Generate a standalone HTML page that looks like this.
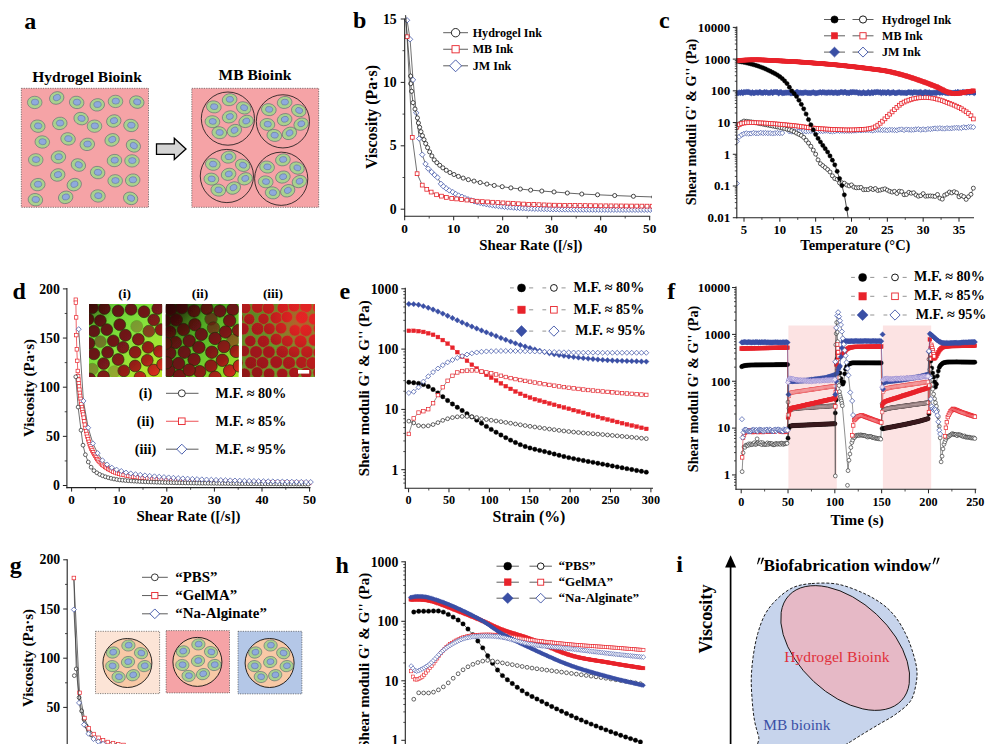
<!DOCTYPE html>
<html><head><meta charset="utf-8"><title>Figure</title>
<style>html,body{margin:0;padding:0;background:#fff;}body{width:989px;height:744px;overflow:hidden;font-family:"Liberation Serif",serif;}svg{display:block}</style>
</head><body>
<svg width="989" height="744" viewBox="0 0 989 744">
<rect width="989" height="744" fill="#fff"/>
<text x="24.3" y="29" font-family="Liberation Serif, serif" font-size="24" font-weight="bold" text-anchor="start" fill="#000" >a</text>
<text x="87" y="81.5" font-family="Liberation Serif, serif" font-size="15.5" font-weight="bold" text-anchor="middle" fill="#000" >Hydrogel Bioink</text>
<text x="255" y="79.5" font-family="Liberation Serif, serif" font-size="15.5" font-weight="bold" text-anchor="middle" fill="#000" >MB Bioink</text>
<rect x="21.3" y="88.3" width="127.2" height="119" fill="#f5a3a6" stroke="#333" stroke-width="0.6" stroke-dasharray="1.2 1.2"/>
<g transform="translate(34.72 102.44) rotate(0)"><ellipse rx="7.3" ry="6.2" fill="#a9d18e" stroke="#4a5a6a" stroke-width="0.5"/><ellipse cx="0.3" cy="-0.3" rx="3.7" ry="3.0" fill="#8faadc" stroke="#5a6a9a" stroke-width="0.5"/></g>
<g transform="translate(56.72 97.97) rotate(-20)"><ellipse rx="7.3" ry="6.2" fill="#a9d18e" stroke="#4a5a6a" stroke-width="0.5"/><ellipse cx="0.3" cy="-0.3" rx="3.7" ry="3.0" fill="#8faadc" stroke="#5a6a9a" stroke-width="0.5"/></g>
<g transform="translate(76.66 102.44) rotate(10)"><ellipse rx="7.3" ry="6.2" fill="#a9d18e" stroke="#4a5a6a" stroke-width="0.5"/><ellipse cx="0.3" cy="-0.3" rx="3.7" ry="3.0" fill="#8faadc" stroke="#5a6a9a" stroke-width="0.5"/></g>
<g transform="translate(97.28 104.85) rotate(-10)"><ellipse rx="7.3" ry="6.2" fill="#a9d18e" stroke="#4a5a6a" stroke-width="0.5"/><ellipse cx="0.3" cy="-0.3" rx="3.7" ry="3.0" fill="#8faadc" stroke="#5a6a9a" stroke-width="0.5"/></g>
<g transform="translate(115.5 101.41) rotate(0)"><ellipse rx="7.3" ry="6.2" fill="#a9d18e" stroke="#4a5a6a" stroke-width="0.5"/><ellipse cx="0.3" cy="-0.3" rx="3.7" ry="3.0" fill="#8faadc" stroke="#5a6a9a" stroke-width="0.5"/></g>
<g transform="translate(136.82 102.1) rotate(15)"><ellipse rx="7.3" ry="6.2" fill="#a9d18e" stroke="#4a5a6a" stroke-width="0.5"/><ellipse cx="0.3" cy="-0.3" rx="3.7" ry="3.0" fill="#8faadc" stroke="#5a6a9a" stroke-width="0.5"/></g>
<g transform="translate(37.81 126.16) rotate(10)"><ellipse rx="7.3" ry="6.2" fill="#a9d18e" stroke="#4a5a6a" stroke-width="0.5"/><ellipse cx="0.3" cy="-0.3" rx="3.7" ry="3.0" fill="#8faadc" stroke="#5a6a9a" stroke-width="0.5"/></g>
<g transform="translate(59.81 123.41) rotate(-10)"><ellipse rx="7.3" ry="6.2" fill="#a9d18e" stroke="#4a5a6a" stroke-width="0.5"/><ellipse cx="0.3" cy="-0.3" rx="3.7" ry="3.0" fill="#8faadc" stroke="#5a6a9a" stroke-width="0.5"/></g>
<g transform="translate(81.13 118.6) rotate(15)"><ellipse rx="7.3" ry="6.2" fill="#a9d18e" stroke="#4a5a6a" stroke-width="0.5"/><ellipse cx="0.3" cy="-0.3" rx="3.7" ry="3.0" fill="#8faadc" stroke="#5a6a9a" stroke-width="0.5"/></g>
<g transform="translate(94.53 126.16) rotate(0)"><ellipse rx="7.3" ry="6.2" fill="#a9d18e" stroke="#4a5a6a" stroke-width="0.5"/><ellipse cx="0.3" cy="-0.3" rx="3.7" ry="3.0" fill="#8faadc" stroke="#5a6a9a" stroke-width="0.5"/></g>
<g transform="translate(113.78 121) rotate(-15)"><ellipse rx="7.3" ry="6.2" fill="#a9d18e" stroke="#4a5a6a" stroke-width="0.5"/><ellipse cx="0.3" cy="-0.3" rx="3.7" ry="3.0" fill="#8faadc" stroke="#5a6a9a" stroke-width="0.5"/></g>
<g transform="translate(130.97 125.47) rotate(10)"><ellipse rx="7.3" ry="6.2" fill="#a9d18e" stroke="#4a5a6a" stroke-width="0.5"/><ellipse cx="0.3" cy="-0.3" rx="3.7" ry="3.0" fill="#8faadc" stroke="#5a6a9a" stroke-width="0.5"/></g>
<g transform="translate(42.28 141.97) rotate(5)"><ellipse rx="7.3" ry="6.2" fill="#a9d18e" stroke="#4a5a6a" stroke-width="0.5"/><ellipse cx="0.3" cy="-0.3" rx="3.7" ry="3.0" fill="#8faadc" stroke="#5a6a9a" stroke-width="0.5"/></g>
<g transform="translate(68.06 138.88) rotate(10)"><ellipse rx="7.3" ry="6.2" fill="#a9d18e" stroke="#4a5a6a" stroke-width="0.5"/><ellipse cx="0.3" cy="-0.3" rx="3.7" ry="3.0" fill="#8faadc" stroke="#5a6a9a" stroke-width="0.5"/></g>
<g transform="translate(87.32 144.38) rotate(-10)"><ellipse rx="7.3" ry="6.2" fill="#a9d18e" stroke="#4a5a6a" stroke-width="0.5"/><ellipse cx="0.3" cy="-0.3" rx="3.7" ry="3.0" fill="#8faadc" stroke="#5a6a9a" stroke-width="0.5"/></g>
<g transform="translate(112.07 139.91) rotate(-20)"><ellipse rx="7.3" ry="6.2" fill="#a9d18e" stroke="#4a5a6a" stroke-width="0.5"/><ellipse cx="0.3" cy="-0.3" rx="3.7" ry="3.0" fill="#8faadc" stroke="#5a6a9a" stroke-width="0.5"/></g>
<g transform="translate(133.38 145.75) rotate(25)"><ellipse rx="7.3" ry="6.2" fill="#a9d18e" stroke="#4a5a6a" stroke-width="0.5"/><ellipse cx="0.3" cy="-0.3" rx="3.7" ry="3.0" fill="#8faadc" stroke="#5a6a9a" stroke-width="0.5"/></g>
<g transform="translate(35.75 159.85) rotate(0)"><ellipse rx="7.3" ry="6.2" fill="#a9d18e" stroke="#4a5a6a" stroke-width="0.5"/><ellipse cx="0.3" cy="-0.3" rx="3.7" ry="3.0" fill="#8faadc" stroke="#5a6a9a" stroke-width="0.5"/></g>
<g transform="translate(58.44 157.1) rotate(-10)"><ellipse rx="7.3" ry="6.2" fill="#a9d18e" stroke="#4a5a6a" stroke-width="0.5"/><ellipse cx="0.3" cy="-0.3" rx="3.7" ry="3.0" fill="#8faadc" stroke="#5a6a9a" stroke-width="0.5"/></g>
<g transform="translate(78.38 165.01) rotate(20)"><ellipse rx="7.3" ry="6.2" fill="#a9d18e" stroke="#4a5a6a" stroke-width="0.5"/><ellipse cx="0.3" cy="-0.3" rx="3.7" ry="3.0" fill="#8faadc" stroke="#5a6a9a" stroke-width="0.5"/></g>
<g transform="translate(97.63 172.57) rotate(10)"><ellipse rx="7.3" ry="6.2" fill="#a9d18e" stroke="#4a5a6a" stroke-width="0.5"/><ellipse cx="0.3" cy="-0.3" rx="3.7" ry="3.0" fill="#8faadc" stroke="#5a6a9a" stroke-width="0.5"/></g>
<g transform="translate(114.47 160.54) rotate(-5)"><ellipse rx="7.3" ry="6.2" fill="#a9d18e" stroke="#4a5a6a" stroke-width="0.5"/><ellipse cx="0.3" cy="-0.3" rx="3.7" ry="3.0" fill="#8faadc" stroke="#5a6a9a" stroke-width="0.5"/></g>
<g transform="translate(132 160.88) rotate(0)"><ellipse rx="7.3" ry="6.2" fill="#a9d18e" stroke="#4a5a6a" stroke-width="0.5"/><ellipse cx="0.3" cy="-0.3" rx="3.7" ry="3.0" fill="#8faadc" stroke="#5a6a9a" stroke-width="0.5"/></g>
<g transform="translate(57.75 174.97) rotate(-15)"><ellipse rx="7.3" ry="6.2" fill="#a9d18e" stroke="#4a5a6a" stroke-width="0.5"/><ellipse cx="0.3" cy="-0.3" rx="3.7" ry="3.0" fill="#8faadc" stroke="#5a6a9a" stroke-width="0.5"/></g>
<g transform="translate(74.25 184.6) rotate(-20)"><ellipse rx="7.3" ry="6.2" fill="#a9d18e" stroke="#4a5a6a" stroke-width="0.5"/><ellipse cx="0.3" cy="-0.3" rx="3.7" ry="3.0" fill="#8faadc" stroke="#5a6a9a" stroke-width="0.5"/></g>
<g transform="translate(37.81 184.6) rotate(-10)"><ellipse rx="7.3" ry="6.2" fill="#a9d18e" stroke="#4a5a6a" stroke-width="0.5"/><ellipse cx="0.3" cy="-0.3" rx="3.7" ry="3.0" fill="#8faadc" stroke="#5a6a9a" stroke-width="0.5"/></g>
<g transform="translate(115.16 180.82) rotate(0)"><ellipse rx="7.3" ry="6.2" fill="#a9d18e" stroke="#4a5a6a" stroke-width="0.5"/><ellipse cx="0.3" cy="-0.3" rx="3.7" ry="3.0" fill="#8faadc" stroke="#5a6a9a" stroke-width="0.5"/></g>
<g transform="translate(132.69 180.13) rotate(-10)"><ellipse rx="7.3" ry="6.2" fill="#a9d18e" stroke="#4a5a6a" stroke-width="0.5"/><ellipse cx="0.3" cy="-0.3" rx="3.7" ry="3.0" fill="#8faadc" stroke="#5a6a9a" stroke-width="0.5"/></g>
<g transform="translate(35.41 199.72) rotate(10)"><ellipse rx="7.3" ry="6.2" fill="#a9d18e" stroke="#4a5a6a" stroke-width="0.5"/><ellipse cx="0.3" cy="-0.3" rx="3.7" ry="3.0" fill="#8faadc" stroke="#5a6a9a" stroke-width="0.5"/></g>
<g transform="translate(65.66 197.32) rotate(-15)"><ellipse rx="7.3" ry="6.2" fill="#a9d18e" stroke="#4a5a6a" stroke-width="0.5"/><ellipse cx="0.3" cy="-0.3" rx="3.7" ry="3.0" fill="#8faadc" stroke="#5a6a9a" stroke-width="0.5"/></g>
<g transform="translate(97.97 195.94) rotate(5)"><ellipse rx="7.3" ry="6.2" fill="#a9d18e" stroke="#4a5a6a" stroke-width="0.5"/><ellipse cx="0.3" cy="-0.3" rx="3.7" ry="3.0" fill="#8faadc" stroke="#5a6a9a" stroke-width="0.5"/></g>
<g transform="translate(130.63 198.35) rotate(20)"><ellipse rx="7.3" ry="6.2" fill="#a9d18e" stroke="#4a5a6a" stroke-width="0.5"/><ellipse cx="0.3" cy="-0.3" rx="3.7" ry="3.0" fill="#8faadc" stroke="#5a6a9a" stroke-width="0.5"/></g>
<path d="M156.5 143.9H174.3V138.3L186 148.9L174.3 159.6V154.4H156.5Z" fill="#d4d4d4" stroke="#000" stroke-width="1.3" stroke-linejoin="miter"/>
<rect x="191.8" y="88.3" width="126.9" height="119" fill="#f5a3a6" stroke="#333" stroke-width="0.6" stroke-dasharray="1.2 1.2"/>
<circle cx="227.91" cy="118.6" r="26.6" fill="none" stroke="#111" stroke-width="0.8"/>
<g transform="translate(229.61 99.7) rotate(-10)"><ellipse rx="7.4" ry="6.0" fill="#a9d18e" stroke="#4a5a6a" stroke-width="0.5"/><ellipse cx="0.3" cy="-0.3" rx="3.6" ry="2.9" fill="#8faadc" stroke="#5a6a9a" stroke-width="0.5"/></g>
<g transform="translate(213.81 106.9) rotate(10)"><ellipse rx="7.4" ry="6.0" fill="#a9d18e" stroke="#4a5a6a" stroke-width="0.5"/><ellipse cx="0.3" cy="-0.3" rx="3.6" ry="2.9" fill="#8faadc" stroke="#5a6a9a" stroke-width="0.5"/></g>
<g transform="translate(243.71 107.9) rotate(20)"><ellipse rx="7.4" ry="6.0" fill="#a9d18e" stroke="#4a5a6a" stroke-width="0.5"/><ellipse cx="0.3" cy="-0.3" rx="3.6" ry="2.9" fill="#8faadc" stroke="#5a6a9a" stroke-width="0.5"/></g>
<g transform="translate(212.41 121.7) rotate(5)"><ellipse rx="7.4" ry="6.0" fill="#a9d18e" stroke="#4a5a6a" stroke-width="0.5"/><ellipse cx="0.3" cy="-0.3" rx="3.6" ry="2.9" fill="#8faadc" stroke="#5a6a9a" stroke-width="0.5"/></g>
<g transform="translate(229.61 116.9) rotate(-15)"><ellipse rx="7.4" ry="6.0" fill="#a9d18e" stroke="#4a5a6a" stroke-width="0.5"/><ellipse cx="0.3" cy="-0.3" rx="3.6" ry="2.9" fill="#8faadc" stroke="#5a6a9a" stroke-width="0.5"/></g>
<g transform="translate(246.11 121.4) rotate(-20)"><ellipse rx="7.4" ry="6.0" fill="#a9d18e" stroke="#4a5a6a" stroke-width="0.5"/><ellipse cx="0.3" cy="-0.3" rx="3.6" ry="2.9" fill="#8faadc" stroke="#5a6a9a" stroke-width="0.5"/></g>
<g transform="translate(219.31 132.7) rotate(10)"><ellipse rx="7.4" ry="6.0" fill="#a9d18e" stroke="#4a5a6a" stroke-width="0.5"/><ellipse cx="0.3" cy="-0.3" rx="3.6" ry="2.9" fill="#8faadc" stroke="#5a6a9a" stroke-width="0.5"/></g>
<g transform="translate(234.41 130.6) rotate(-25)"><ellipse rx="7.4" ry="6.0" fill="#a9d18e" stroke="#4a5a6a" stroke-width="0.5"/><ellipse cx="0.3" cy="-0.3" rx="3.6" ry="2.9" fill="#8faadc" stroke="#5a6a9a" stroke-width="0.5"/></g>
<circle cx="282.92" cy="121.35" r="26.6" fill="none" stroke="#111" stroke-width="0.8"/>
<g transform="translate(284.62 102.45) rotate(-10)"><ellipse rx="7.4" ry="6.0" fill="#a9d18e" stroke="#4a5a6a" stroke-width="0.5"/><ellipse cx="0.3" cy="-0.3" rx="3.6" ry="2.9" fill="#8faadc" stroke="#5a6a9a" stroke-width="0.5"/></g>
<g transform="translate(268.82 109.65) rotate(10)"><ellipse rx="7.4" ry="6.0" fill="#a9d18e" stroke="#4a5a6a" stroke-width="0.5"/><ellipse cx="0.3" cy="-0.3" rx="3.6" ry="2.9" fill="#8faadc" stroke="#5a6a9a" stroke-width="0.5"/></g>
<g transform="translate(298.72 110.65) rotate(20)"><ellipse rx="7.4" ry="6.0" fill="#a9d18e" stroke="#4a5a6a" stroke-width="0.5"/><ellipse cx="0.3" cy="-0.3" rx="3.6" ry="2.9" fill="#8faadc" stroke="#5a6a9a" stroke-width="0.5"/></g>
<g transform="translate(267.42 124.45) rotate(5)"><ellipse rx="7.4" ry="6.0" fill="#a9d18e" stroke="#4a5a6a" stroke-width="0.5"/><ellipse cx="0.3" cy="-0.3" rx="3.6" ry="2.9" fill="#8faadc" stroke="#5a6a9a" stroke-width="0.5"/></g>
<g transform="translate(284.62 119.65) rotate(-15)"><ellipse rx="7.4" ry="6.0" fill="#a9d18e" stroke="#4a5a6a" stroke-width="0.5"/><ellipse cx="0.3" cy="-0.3" rx="3.6" ry="2.9" fill="#8faadc" stroke="#5a6a9a" stroke-width="0.5"/></g>
<g transform="translate(301.12 124.15) rotate(-20)"><ellipse rx="7.4" ry="6.0" fill="#a9d18e" stroke="#4a5a6a" stroke-width="0.5"/><ellipse cx="0.3" cy="-0.3" rx="3.6" ry="2.9" fill="#8faadc" stroke="#5a6a9a" stroke-width="0.5"/></g>
<g transform="translate(274.32 135.45) rotate(10)"><ellipse rx="7.4" ry="6.0" fill="#a9d18e" stroke="#4a5a6a" stroke-width="0.5"/><ellipse cx="0.3" cy="-0.3" rx="3.6" ry="2.9" fill="#8faadc" stroke="#5a6a9a" stroke-width="0.5"/></g>
<g transform="translate(289.42 133.35) rotate(-25)"><ellipse rx="7.4" ry="6.0" fill="#a9d18e" stroke="#4a5a6a" stroke-width="0.5"/><ellipse cx="0.3" cy="-0.3" rx="3.6" ry="2.9" fill="#8faadc" stroke="#5a6a9a" stroke-width="0.5"/></g>
<circle cx="226.88" cy="176.01" r="26.6" fill="none" stroke="#111" stroke-width="0.8"/>
<g transform="translate(228.58 157.11) rotate(-10)"><ellipse rx="7.4" ry="6.0" fill="#a9d18e" stroke="#4a5a6a" stroke-width="0.5"/><ellipse cx="0.3" cy="-0.3" rx="3.6" ry="2.9" fill="#8faadc" stroke="#5a6a9a" stroke-width="0.5"/></g>
<g transform="translate(212.78 164.31) rotate(10)"><ellipse rx="7.4" ry="6.0" fill="#a9d18e" stroke="#4a5a6a" stroke-width="0.5"/><ellipse cx="0.3" cy="-0.3" rx="3.6" ry="2.9" fill="#8faadc" stroke="#5a6a9a" stroke-width="0.5"/></g>
<g transform="translate(242.68 165.31) rotate(20)"><ellipse rx="7.4" ry="6.0" fill="#a9d18e" stroke="#4a5a6a" stroke-width="0.5"/><ellipse cx="0.3" cy="-0.3" rx="3.6" ry="2.9" fill="#8faadc" stroke="#5a6a9a" stroke-width="0.5"/></g>
<g transform="translate(211.38 179.11) rotate(5)"><ellipse rx="7.4" ry="6.0" fill="#a9d18e" stroke="#4a5a6a" stroke-width="0.5"/><ellipse cx="0.3" cy="-0.3" rx="3.6" ry="2.9" fill="#8faadc" stroke="#5a6a9a" stroke-width="0.5"/></g>
<g transform="translate(228.58 174.31) rotate(-15)"><ellipse rx="7.4" ry="6.0" fill="#a9d18e" stroke="#4a5a6a" stroke-width="0.5"/><ellipse cx="0.3" cy="-0.3" rx="3.6" ry="2.9" fill="#8faadc" stroke="#5a6a9a" stroke-width="0.5"/></g>
<g transform="translate(245.08 178.81) rotate(-20)"><ellipse rx="7.4" ry="6.0" fill="#a9d18e" stroke="#4a5a6a" stroke-width="0.5"/><ellipse cx="0.3" cy="-0.3" rx="3.6" ry="2.9" fill="#8faadc" stroke="#5a6a9a" stroke-width="0.5"/></g>
<g transform="translate(218.28 190.11) rotate(10)"><ellipse rx="7.4" ry="6.0" fill="#a9d18e" stroke="#4a5a6a" stroke-width="0.5"/><ellipse cx="0.3" cy="-0.3" rx="3.6" ry="2.9" fill="#8faadc" stroke="#5a6a9a" stroke-width="0.5"/></g>
<g transform="translate(233.38 188.01) rotate(-25)"><ellipse rx="7.4" ry="6.0" fill="#a9d18e" stroke="#4a5a6a" stroke-width="0.5"/><ellipse cx="0.3" cy="-0.3" rx="3.6" ry="2.9" fill="#8faadc" stroke="#5a6a9a" stroke-width="0.5"/></g>
<circle cx="281.2" cy="178.76" r="26.6" fill="none" stroke="#111" stroke-width="0.8"/>
<g transform="translate(282.9 159.86) rotate(-10)"><ellipse rx="7.4" ry="6.0" fill="#a9d18e" stroke="#4a5a6a" stroke-width="0.5"/><ellipse cx="0.3" cy="-0.3" rx="3.6" ry="2.9" fill="#8faadc" stroke="#5a6a9a" stroke-width="0.5"/></g>
<g transform="translate(267.1 167.06) rotate(10)"><ellipse rx="7.4" ry="6.0" fill="#a9d18e" stroke="#4a5a6a" stroke-width="0.5"/><ellipse cx="0.3" cy="-0.3" rx="3.6" ry="2.9" fill="#8faadc" stroke="#5a6a9a" stroke-width="0.5"/></g>
<g transform="translate(297 168.06) rotate(20)"><ellipse rx="7.4" ry="6.0" fill="#a9d18e" stroke="#4a5a6a" stroke-width="0.5"/><ellipse cx="0.3" cy="-0.3" rx="3.6" ry="2.9" fill="#8faadc" stroke="#5a6a9a" stroke-width="0.5"/></g>
<g transform="translate(265.7 181.86) rotate(5)"><ellipse rx="7.4" ry="6.0" fill="#a9d18e" stroke="#4a5a6a" stroke-width="0.5"/><ellipse cx="0.3" cy="-0.3" rx="3.6" ry="2.9" fill="#8faadc" stroke="#5a6a9a" stroke-width="0.5"/></g>
<g transform="translate(282.9 177.06) rotate(-15)"><ellipse rx="7.4" ry="6.0" fill="#a9d18e" stroke="#4a5a6a" stroke-width="0.5"/><ellipse cx="0.3" cy="-0.3" rx="3.6" ry="2.9" fill="#8faadc" stroke="#5a6a9a" stroke-width="0.5"/></g>
<g transform="translate(299.4 181.56) rotate(-20)"><ellipse rx="7.4" ry="6.0" fill="#a9d18e" stroke="#4a5a6a" stroke-width="0.5"/><ellipse cx="0.3" cy="-0.3" rx="3.6" ry="2.9" fill="#8faadc" stroke="#5a6a9a" stroke-width="0.5"/></g>
<g transform="translate(272.6 192.86) rotate(10)"><ellipse rx="7.4" ry="6.0" fill="#a9d18e" stroke="#4a5a6a" stroke-width="0.5"/><ellipse cx="0.3" cy="-0.3" rx="3.6" ry="2.9" fill="#8faadc" stroke="#5a6a9a" stroke-width="0.5"/></g>
<g transform="translate(287.7 190.76) rotate(-25)"><ellipse rx="7.4" ry="6.0" fill="#a9d18e" stroke="#4a5a6a" stroke-width="0.5"/><ellipse cx="0.3" cy="-0.3" rx="3.6" ry="2.9" fill="#8faadc" stroke="#5a6a9a" stroke-width="0.5"/></g>
<clipPath id="cb"><rect x="404" y="15" width="248" height="201"/></clipPath><g clip-path="url(#cb)">
<polyline fill="none" stroke="#333" stroke-width="0.7" points="407.05,20.27 410.09,39.29 413.03,79.86 416.26,112.83 419.2,138.57 422.24,154.68 425.52,163.93 428.22,168.62 431.65,172.05 434.59,174.96 437.53,177.5 440.96,183.84 443.41,186.38 446.35,188.53 449.29,190.43 452.72,192.08 455.66,193.98 458.6,195.51 462.03,196.77 464.97,198.13 468.01,199.28 471.05,200.32 474.08,201.25 477.12,202.09 480.16,202.85 483.2,203.54 486.24,204.16 489.27,204.71 492.31,205.22 495.35,205.67 498.39,206.08 501.43,206.45 504.46,206.78 507.5,207.08 510.54,207.35 513.58,207.59 516.62,207.81 519.65,208.01 522.69,208.19 525.73,208.35 528.77,208.5 531.81,208.63 534.84,208.75 537.88,208.85 540.92,208.95 543.96,209.04 547,209.12 550.03,209.19 553.07,209.25 556.11,209.31 559.15,209.36 562.19,209.41 565.22,209.45 568.26,209.49 571.3,209.52 574.34,209.55 577.38,209.58 580.41,209.6 583.45,209.63 586.49,209.65 589.53,209.66 592.57,209.68 595.6,209.7 598.64,209.71 601.68,209.72 604.72,209.73 607.76,209.74 610.79,209.75 613.83,209.76 616.87,209.77 619.91,209.77 622.95,209.78 625.98,209.79 629.02,209.79 632.06,209.79 635.1,209.8 638.14,209.8 641.17,209.8 644.21,209.81 647.25,209.81 650.29,209.81 653.33,209.81" />
<g fill="#fff" stroke="#3a4fa5" stroke-width="0.75">
<path d="M404.35 20.27L407.05 17.57L409.75 20.27L407.05 22.97Z"/>
<path d="M407.39 39.29L410.09 36.59L412.79 39.29L410.09 41.99Z"/>
<path d="M410.33 79.86L413.03 77.16L415.73 79.86L413.03 82.56Z"/>
<path d="M413.56 112.83L416.26 110.13L418.96 112.83L416.26 115.53Z"/>
<path d="M416.5 138.57L419.2 135.87L421.9 138.57L419.2 141.27Z"/>
<path d="M419.54 154.68L422.24 151.98L424.94 154.68L422.24 157.38Z"/>
<path d="M422.82 163.93L425.52 161.23L428.22 163.93L425.52 166.63Z"/>
<path d="M425.52 168.62L428.22 165.92L430.92 168.62L428.22 171.32Z"/>
<path d="M428.95 172.05L431.65 169.35L434.35 172.05L431.65 174.75Z"/>
<path d="M431.89 174.96L434.59 172.26L437.29 174.96L434.59 177.66Z"/>
<path d="M434.83 177.5L437.53 174.8L440.23 177.5L437.53 180.2Z"/>
<path d="M438.26 183.84L440.96 181.14L443.66 183.84L440.96 186.54Z"/>
<path d="M440.71 186.38L443.41 183.68L446.11 186.38L443.41 189.08Z"/>
<path d="M443.65 188.53L446.35 185.83L449.05 188.53L446.35 191.23Z"/>
<path d="M446.59 190.43L449.29 187.73L451.99 190.43L449.29 193.13Z"/>
<path d="M450.02 192.08L452.72 189.38L455.42 192.08L452.72 194.78Z"/>
<path d="M452.96 193.98L455.66 191.28L458.36 193.98L455.66 196.68Z"/>
<path d="M455.9 195.51L458.6 192.81L461.3 195.51L458.6 198.21Z"/>
<path d="M459.33 196.77L462.03 194.07L464.73 196.77L462.03 199.47Z"/>
<path d="M462.27 198.13L464.97 195.43L467.67 198.13L464.97 200.83Z"/>
<path d="M465.31 199.28L468.01 196.58L470.71 199.28L468.01 201.98Z"/>
<path d="M468.35 200.32L471.05 197.62L473.75 200.32L471.05 203.02Z"/>
<path d="M471.38 201.25L474.08 198.55L476.78 201.25L474.08 203.95Z"/>
<path d="M474.42 202.09L477.12 199.39L479.82 202.09L477.12 204.79Z"/>
<path d="M477.46 202.85L480.16 200.15L482.86 202.85L480.16 205.55Z"/>
<path d="M480.5 203.54L483.2 200.84L485.9 203.54L483.2 206.24Z"/>
<path d="M483.54 204.16L486.24 201.46L488.94 204.16L486.24 206.86Z"/>
<path d="M486.57 204.71L489.27 202.01L491.97 204.71L489.27 207.41Z"/>
<path d="M489.61 205.22L492.31 202.52L495.01 205.22L492.31 207.92Z"/>
<path d="M492.65 205.67L495.35 202.97L498.05 205.67L495.35 208.37Z"/>
<path d="M495.69 206.08L498.39 203.38L501.09 206.08L498.39 208.78Z"/>
<path d="M498.73 206.45L501.43 203.75L504.13 206.45L501.43 209.15Z"/>
<path d="M501.76 206.78L504.46 204.08L507.16 206.78L504.46 209.48Z"/>
<path d="M504.8 207.08L507.5 204.38L510.2 207.08L507.5 209.78Z"/>
<path d="M507.84 207.35L510.54 204.65L513.24 207.35L510.54 210.05Z"/>
<path d="M510.88 207.59L513.58 204.89L516.28 207.59L513.58 210.29Z"/>
<path d="M513.92 207.81L516.62 205.11L519.32 207.81L516.62 210.51Z"/>
<path d="M516.95 208.01L519.65 205.31L522.35 208.01L519.65 210.71Z"/>
<path d="M519.99 208.19L522.69 205.49L525.39 208.19L522.69 210.89Z"/>
<path d="M523.03 208.35L525.73 205.65L528.43 208.35L525.73 211.05Z"/>
<path d="M526.07 208.5L528.77 205.8L531.47 208.5L528.77 211.2Z"/>
<path d="M529.11 208.63L531.81 205.93L534.51 208.63L531.81 211.33Z"/>
<path d="M532.14 208.75L534.84 206.05L537.54 208.75L534.84 211.45Z"/>
<path d="M535.18 208.85L537.88 206.15L540.58 208.85L537.88 211.55Z"/>
<path d="M538.22 208.95L540.92 206.25L543.62 208.95L540.92 211.65Z"/>
<path d="M541.26 209.04L543.96 206.34L546.66 209.04L543.96 211.74Z"/>
<path d="M544.3 209.12L547 206.42L549.7 209.12L547 211.82Z"/>
<path d="M547.33 209.19L550.03 206.49L552.73 209.19L550.03 211.89Z"/>
<path d="M550.37 209.25L553.07 206.55L555.77 209.25L553.07 211.95Z"/>
<path d="M553.41 209.31L556.11 206.61L558.81 209.31L556.11 212.01Z"/>
<path d="M556.45 209.36L559.15 206.66L561.85 209.36L559.15 212.06Z"/>
<path d="M559.49 209.41L562.19 206.71L564.89 209.41L562.19 212.11Z"/>
<path d="M562.52 209.45L565.22 206.75L567.92 209.45L565.22 212.15Z"/>
<path d="M565.56 209.49L568.26 206.79L570.96 209.49L568.26 212.19Z"/>
<path d="M568.6 209.52L571.3 206.82L574 209.52L571.3 212.22Z"/>
<path d="M571.64 209.55L574.34 206.85L577.04 209.55L574.34 212.25Z"/>
<path d="M574.68 209.58L577.38 206.88L580.08 209.58L577.38 212.28Z"/>
<path d="M577.71 209.6L580.41 206.9L583.11 209.6L580.41 212.3Z"/>
<path d="M580.75 209.63L583.45 206.93L586.15 209.63L583.45 212.33Z"/>
<path d="M583.79 209.65L586.49 206.95L589.19 209.65L586.49 212.35Z"/>
<path d="M586.83 209.66L589.53 206.96L592.23 209.66L589.53 212.36Z"/>
<path d="M589.87 209.68L592.57 206.98L595.27 209.68L592.57 212.38Z"/>
<path d="M592.9 209.7L595.6 207L598.3 209.7L595.6 212.4Z"/>
<path d="M595.94 209.71L598.64 207.01L601.34 209.71L598.64 212.41Z"/>
<path d="M598.98 209.72L601.68 207.02L604.38 209.72L601.68 212.42Z"/>
<path d="M602.02 209.73L604.72 207.03L607.42 209.73L604.72 212.43Z"/>
<path d="M605.06 209.74L607.76 207.04L610.46 209.74L607.76 212.44Z"/>
<path d="M608.09 209.75L610.79 207.05L613.49 209.75L610.79 212.45Z"/>
<path d="M611.13 209.76L613.83 207.06L616.53 209.76L613.83 212.46Z"/>
<path d="M614.17 209.77L616.87 207.07L619.57 209.77L616.87 212.47Z"/>
<path d="M617.21 209.77L619.91 207.07L622.61 209.77L619.91 212.47Z"/>
<path d="M620.25 209.78L622.95 207.08L625.65 209.78L622.95 212.48Z"/>
<path d="M623.28 209.79L625.98 207.09L628.68 209.79L625.98 212.49Z"/>
<path d="M626.32 209.79L629.02 207.09L631.72 209.79L629.02 212.49Z"/>
<path d="M629.36 209.79L632.06 207.09L634.76 209.79L632.06 212.49Z"/>
<path d="M632.4 209.8L635.1 207.1L637.8 209.8L635.1 212.5Z"/>
<path d="M635.44 209.8L638.14 207.1L640.84 209.8L638.14 212.5Z"/>
<path d="M638.47 209.8L641.17 207.1L643.87 209.8L641.17 212.5Z"/>
<path d="M641.51 209.81L644.21 207.11L646.91 209.81L644.21 212.51Z"/>
<path d="M644.55 209.81L647.25 207.11L649.95 209.81L647.25 212.51Z"/>
<path d="M647.59 209.81L650.29 207.11L652.99 209.81L650.29 212.51Z"/>
<path d="M650.63 209.81L653.33 207.11L656.03 209.81L653.33 212.51Z"/>
</g>
<polyline fill="none" stroke="#222" stroke-width="0.7" points="405.44,15.2 410.58,76.06 410.68,83.67 411.56,91.28 413.03,102.69 414.99,109.03 417.44,117.9 418.42,122.98 419.64,127.32 420.97,131.66 422.42,135.65 424,139.61 425.71,143.57 427.58,147.64 429.62,151.87 431.84,155.94 434.25,159.86 436.88,162.66 439.75,165.29 442.87,167.82 446.26,170.28 449.96,172.53 453.99,174.51 458.38,176.38 463.16,178.09 468.36,179.66 474.02,181.08 480.19,182.53 486.91,184.05 494.23,185.48 502.2,186.69 510.88,187.88 520.32,189.03 530.62,190.13 541.82,191.03 554.03,191.94 567.32,193 581.79,194.04 597.55,194.79 614.71,195.54 633.4,196.29 653.76,196.99 654.6,197.03" />
<g fill="#fff" stroke="#111" stroke-width="0.75">
<circle cx="410.58" cy="76.06" r="2.05"/>
<circle cx="410.68" cy="83.67" r="2.05"/>
<circle cx="411.56" cy="91.28" r="2.05"/>
<circle cx="413.03" cy="102.69" r="2.05"/>
<circle cx="414.99" cy="109.03" r="2.05"/>
<circle cx="417.44" cy="117.9" r="2.05"/>
<circle cx="418.42" cy="122.98" r="2.05"/>
<circle cx="419.64" cy="127.32" r="2.05"/>
<circle cx="420.97" cy="131.66" r="2.05"/>
<circle cx="422.42" cy="135.65" r="2.05"/>
<circle cx="424" cy="139.61" r="2.05"/>
<circle cx="425.71" cy="143.57" r="2.05"/>
<circle cx="427.58" cy="147.64" r="2.05"/>
<circle cx="429.62" cy="151.87" r="2.05"/>
<circle cx="431.84" cy="155.94" r="2.05"/>
<circle cx="434.25" cy="159.86" r="2.05"/>
<circle cx="436.88" cy="162.66" r="2.05"/>
<circle cx="439.75" cy="165.29" r="2.05"/>
<circle cx="442.87" cy="167.82" r="2.05"/>
<circle cx="446.26" cy="170.28" r="2.05"/>
<circle cx="449.96" cy="172.53" r="2.05"/>
<circle cx="453.99" cy="174.51" r="2.05"/>
<circle cx="458.38" cy="176.38" r="2.05"/>
<circle cx="463.16" cy="178.09" r="2.05"/>
<circle cx="468.36" cy="179.66" r="2.05"/>
<circle cx="474.02" cy="181.08" r="2.05"/>
<circle cx="480.19" cy="182.53" r="2.05"/>
<circle cx="486.91" cy="184.05" r="2.05"/>
<circle cx="494.23" cy="185.48" r="2.05"/>
<circle cx="502.2" cy="186.69" r="2.05"/>
<circle cx="510.88" cy="187.88" r="2.05"/>
<circle cx="520.32" cy="189.03" r="2.05"/>
<circle cx="530.62" cy="190.13" r="2.05"/>
<circle cx="541.82" cy="191.03" r="2.05"/>
<circle cx="554.03" cy="191.94" r="2.05"/>
<circle cx="567.32" cy="193" r="2.05"/>
<circle cx="581.79" cy="194.04" r="2.05"/>
<circle cx="597.55" cy="194.79" r="2.05"/>
<circle cx="614.71" cy="195.54" r="2.05"/>
<circle cx="633.4" cy="196.29" r="2.05"/>
<circle cx="653.76" cy="196.99" r="2.05"/>
</g>
<polyline fill="none" stroke="#333" stroke-width="0.7" points="405.68,15.2 407.05,36.75 412.25,137.3 417.1,173.7 422.24,185.11 426.75,189.29 431.16,192.08 436.55,194.74 441.45,196.14 446.35,197.41 451.74,198.42 456.64,198.93 461.54,199.56 466.93,200.07 472.07,200.65 477.22,201.23 482.37,201.6 487.51,201.92 492.66,202.24 497.8,202.56 502.95,202.87 508.09,203.17 513.24,203.46 518.38,203.75 523.53,204.05 528.67,204.31 533.82,204.49 538.96,204.68 544.11,204.87 549.25,205.05 554.4,205.18 559.54,205.24 564.69,205.31 569.83,205.38 574.98,205.44 580.12,205.51 585.27,205.58 590.41,205.64 595.56,205.71 600.7,205.78 605.85,205.82 610.99,205.86 616.13,205.9 621.28,205.94 626.42,205.98 631.57,206.02 636.71,206.06 641.86,206.1 647,206.14 652.15,206.16" />
<g fill="#fff" stroke="#e8232b" stroke-width="0.8">
<rect x="405.15" y="34.85" width="3.8" height="3.8"/>
<rect x="410.35" y="135.4" width="3.8" height="3.8"/>
<rect x="415.2" y="171.8" width="3.8" height="3.8"/>
<rect x="420.34" y="183.21" width="3.8" height="3.8"/>
<rect x="424.85" y="187.39" width="3.8" height="3.8"/>
<rect x="429.26" y="190.18" width="3.8" height="3.8"/>
<rect x="434.65" y="192.84" width="3.8" height="3.8"/>
<rect x="439.55" y="194.24" width="3.8" height="3.8"/>
<rect x="444.45" y="195.51" width="3.8" height="3.8"/>
<rect x="449.84" y="196.52" width="3.8" height="3.8"/>
<rect x="454.74" y="197.03" width="3.8" height="3.8"/>
<rect x="459.64" y="197.66" width="3.8" height="3.8"/>
<rect x="465.03" y="198.17" width="3.8" height="3.8"/>
<rect x="470.18" y="198.75" width="3.8" height="3.8"/>
<rect x="475.32" y="199.33" width="3.8" height="3.8"/>
<rect x="480.47" y="199.7" width="3.8" height="3.8"/>
<rect x="485.61" y="200.02" width="3.8" height="3.8"/>
<rect x="490.76" y="200.34" width="3.8" height="3.8"/>
<rect x="495.9" y="200.66" width="3.8" height="3.8"/>
<rect x="501.05" y="200.97" width="3.8" height="3.8"/>
<rect x="506.19" y="201.27" width="3.8" height="3.8"/>
<rect x="511.34" y="201.56" width="3.8" height="3.8"/>
<rect x="516.48" y="201.85" width="3.8" height="3.8"/>
<rect x="521.63" y="202.15" width="3.8" height="3.8"/>
<rect x="526.77" y="202.41" width="3.8" height="3.8"/>
<rect x="531.92" y="202.59" width="3.8" height="3.8"/>
<rect x="537.06" y="202.78" width="3.8" height="3.8"/>
<rect x="542.21" y="202.97" width="3.8" height="3.8"/>
<rect x="547.35" y="203.15" width="3.8" height="3.8"/>
<rect x="552.5" y="203.28" width="3.8" height="3.8"/>
<rect x="557.64" y="203.34" width="3.8" height="3.8"/>
<rect x="562.79" y="203.41" width="3.8" height="3.8"/>
<rect x="567.93" y="203.48" width="3.8" height="3.8"/>
<rect x="573.08" y="203.54" width="3.8" height="3.8"/>
<rect x="578.22" y="203.61" width="3.8" height="3.8"/>
<rect x="583.37" y="203.68" width="3.8" height="3.8"/>
<rect x="588.51" y="203.74" width="3.8" height="3.8"/>
<rect x="593.66" y="203.81" width="3.8" height="3.8"/>
<rect x="598.8" y="203.88" width="3.8" height="3.8"/>
<rect x="603.95" y="203.92" width="3.8" height="3.8"/>
<rect x="609.09" y="203.96" width="3.8" height="3.8"/>
<rect x="614.24" y="204" width="3.8" height="3.8"/>
<rect x="619.38" y="204.04" width="3.8" height="3.8"/>
<rect x="624.52" y="204.08" width="3.8" height="3.8"/>
<rect x="629.67" y="204.12" width="3.8" height="3.8"/>
<rect x="634.81" y="204.16" width="3.8" height="3.8"/>
<rect x="639.96" y="204.2" width="3.8" height="3.8"/>
<rect x="645.1" y="204.24" width="3.8" height="3.8"/>
<rect x="650.25" y="204.26" width="3.8" height="3.8"/>
</g>
</g>
<line x1="404.7" y1="18.5" x2="404.7" y2="216.85" stroke="#222" stroke-width="1.1" />
<line x1="404.15" y1="216.3" x2="650.2" y2="216.3" stroke="#222" stroke-width="1.1" />
<line x1="404.7" y1="216.3" x2="404.7" y2="220.3" stroke="#222" stroke-width="1" />
<text x="404.7" y="233.4" font-family="Liberation Serif, serif" font-size="13.3" font-weight="bold" text-anchor="middle" fill="#000" >0</text>
<line x1="453.7" y1="216.3" x2="453.7" y2="220.3" stroke="#222" stroke-width="1" />
<text x="453.7" y="233.4" font-family="Liberation Serif, serif" font-size="13.3" font-weight="bold" text-anchor="middle" fill="#000" >10</text>
<line x1="502.7" y1="216.3" x2="502.7" y2="220.3" stroke="#222" stroke-width="1" />
<text x="502.7" y="233.4" font-family="Liberation Serif, serif" font-size="13.3" font-weight="bold" text-anchor="middle" fill="#000" >20</text>
<line x1="551.7" y1="216.3" x2="551.7" y2="220.3" stroke="#222" stroke-width="1" />
<text x="551.7" y="233.4" font-family="Liberation Serif, serif" font-size="13.3" font-weight="bold" text-anchor="middle" fill="#000" >30</text>
<line x1="600.7" y1="216.3" x2="600.7" y2="220.3" stroke="#222" stroke-width="1" />
<text x="600.7" y="233.4" font-family="Liberation Serif, serif" font-size="13.3" font-weight="bold" text-anchor="middle" fill="#000" >40</text>
<line x1="649.7" y1="216.3" x2="649.7" y2="220.3" stroke="#222" stroke-width="1" />
<text x="649.7" y="233.4" font-family="Liberation Serif, serif" font-size="13.3" font-weight="bold" text-anchor="middle" fill="#000" >50</text>
<line x1="429.2" y1="216.3" x2="429.2" y2="218.5" stroke="#222" stroke-width="0.8" />
<line x1="478.2" y1="216.3" x2="478.2" y2="218.5" stroke="#222" stroke-width="0.8" />
<line x1="527.2" y1="216.3" x2="527.2" y2="218.5" stroke="#222" stroke-width="0.8" />
<line x1="576.2" y1="216.3" x2="576.2" y2="218.5" stroke="#222" stroke-width="0.8" />
<line x1="625.2" y1="216.3" x2="625.2" y2="218.5" stroke="#222" stroke-width="0.8" />
<line x1="400.7" y1="209.2" x2="404.7" y2="209.2" stroke="#222" stroke-width="1" />
<text x="396.7" y="213.8" font-family="Liberation Serif, serif" font-size="13.8" font-weight="bold" text-anchor="end" fill="#000" >0</text>
<line x1="400.7" y1="145.8" x2="404.7" y2="145.8" stroke="#222" stroke-width="1" />
<text x="396.7" y="150.4" font-family="Liberation Serif, serif" font-size="13.8" font-weight="bold" text-anchor="end" fill="#000" >5</text>
<line x1="400.7" y1="82.4" x2="404.7" y2="82.4" stroke="#222" stroke-width="1" />
<text x="396.7" y="87" font-family="Liberation Serif, serif" font-size="13.8" font-weight="bold" text-anchor="end" fill="#000" >10</text>
<line x1="400.7" y1="19" x2="404.7" y2="19" stroke="#222" stroke-width="1" />
<text x="396.7" y="23.6" font-family="Liberation Serif, serif" font-size="13.8" font-weight="bold" text-anchor="end" fill="#000" >15</text>
<line x1="402.5" y1="177.5" x2="404.7" y2="177.5" stroke="#222" stroke-width="0.8" />
<line x1="402.5" y1="114.1" x2="404.7" y2="114.1" stroke="#222" stroke-width="0.8" />
<line x1="402.5" y1="50.7" x2="404.7" y2="50.7" stroke="#222" stroke-width="0.8" />
<text x="530.9" y="250.3" font-family="Liberation Serif, serif" font-size="14.8" font-weight="bold" text-anchor="middle" fill="#000" >Shear Rate ([/s])</text>
<text x="376.7" y="117" font-family="Liberation Serif, serif" font-size="15.9" font-weight="bold" text-anchor="middle" fill="#000" transform="rotate(-90 376.7 117)" >Viscosity (Pa·s)</text>
<text x="353" y="27.6" font-family="Liberation Serif, serif" font-size="24" font-weight="bold" text-anchor="start" fill="#000" >b</text>
<line x1="443.2" y1="32.7" x2="468" y2="32.7" stroke="#333" stroke-width="0.8" />
<g fill="#fff" stroke="#111" stroke-width="0.9">
<circle cx="455.6" cy="32.7" r="4.2"/>
</g>
<text x="472.7" y="36.7" font-family="Liberation Serif, serif" font-size="12.1" font-weight="bold" text-anchor="start" fill="#000" >Hydrogel Ink</text>
<line x1="443.2" y1="49.25" x2="468" y2="49.25" stroke="#333" stroke-width="0.8" />
<g fill="#fff" stroke="#e8232b" stroke-width="0.9">
<rect x="452" y="45.65" width="7.2" height="7.2"/>
</g>
<text x="472.7" y="53.25" font-family="Liberation Serif, serif" font-size="12.1" font-weight="bold" text-anchor="start" fill="#000" >MB Ink</text>
<line x1="443.2" y1="65.8" x2="468" y2="65.8" stroke="#333" stroke-width="0.8" />
<g fill="#fff" stroke="#3a4fa5" stroke-width="0.9">
<path d="M449.66 65.8L455.6 59.86L461.54 65.8L455.6 71.74Z"/>
</g>
<text x="472.7" y="69.8" font-family="Liberation Serif, serif" font-size="12.1" font-weight="bold" text-anchor="start" fill="#000" >JM Ink</text>
<clipPath id="cc"><rect x="736" y="20" width="240" height="197.6"/></clipPath><g clip-path="url(#cc)">
<g fill="#fff" stroke="#3a4fa5" stroke-width="0.7">
<path d="M734.27 183.49L736.83 180.92L739.4 183.49L736.83 186.05Z"/>
<path d="M734.27 141.34L736.83 138.77L739.4 141.34L736.83 143.9Z"/>
<path d="M736.66 136.74L739.22 134.18L741.79 136.74L739.22 139.31Z"/>
<path d="M739.05 134.79L741.61 132.23L744.18 134.79L741.61 137.36Z"/>
<path d="M741.43 133.8L744 131.24L746.57 133.8L744 136.37Z"/>
<path d="M743.82 133.25L746.39 130.68L748.95 133.25L746.39 135.81Z"/>
<path d="M746.21 133.58L748.78 131.01L751.34 133.58L748.78 136.14Z"/>
<path d="M748.6 133.49L751.17 130.92L753.73 133.49L751.17 136.05Z"/>
<path d="M750.99 132.82L753.56 130.25L756.12 132.82L753.56 135.38Z"/>
<path d="M753.38 133.31L755.94 130.74L758.51 133.31L755.94 135.87Z"/>
<path d="M755.77 133.34L758.33 130.78L760.9 133.34L758.33 135.91Z"/>
<path d="M758.16 132.73L760.72 130.16L763.29 132.73L760.72 135.29Z"/>
<path d="M760.55 133.17L763.11 130.61L765.68 133.17L763.11 135.74Z"/>
<path d="M762.93 132.88L765.5 130.32L768.07 132.88L765.5 135.45Z"/>
<path d="M765.32 133.19L767.89 130.63L770.45 133.19L767.89 135.76Z"/>
<path d="M767.71 133.07L770.28 130.51L772.84 133.07L770.28 135.64Z"/>
<path d="M770.1 133.49L772.67 130.93L775.23 133.49L772.67 136.06Z"/>
<path d="M772.49 133.1L775.06 130.54L777.62 133.1L775.06 135.67Z"/>
<path d="M774.88 132.93L777.44 130.36L780.01 132.93L777.44 135.49Z"/>
<path d="M777.27 133.22L779.83 130.66L782.4 133.22L779.83 135.79Z"/>
<path d="M779.66 133.06L782.22 130.49L784.79 133.06L782.22 135.62Z"/>
<path d="M786.82 131.46L789.39 128.9L791.95 131.46L789.39 134.03Z"/>
<path d="M789.21 131.67L791.78 129.11L794.34 131.67L791.78 134.24Z"/>
<path d="M791.6 131.09L794.17 128.53L796.73 131.09L794.17 133.66Z"/>
<path d="M793.99 131.23L796.56 128.67L799.12 131.23L796.56 133.8Z"/>
<path d="M796.38 131.47L798.94 128.91L801.51 131.47L798.94 134.04Z"/>
<path d="M798.77 131.7L801.33 129.13L803.9 131.7L801.33 134.26Z"/>
<path d="M801.16 131.01L803.72 128.44L806.29 131.01L803.72 133.57Z"/>
<path d="M803.55 131.33L806.11 128.76L808.68 131.33L806.11 133.89Z"/>
<path d="M805.93 131.13L808.5 128.56L811.07 131.13L808.5 133.69Z"/>
<path d="M808.32 130.97L810.89 128.4L813.45 130.97L810.89 133.53Z"/>
<path d="M810.71 131.07L813.28 128.51L815.84 131.07L813.28 133.64Z"/>
<path d="M813.1 130.88L815.67 128.31L818.23 130.88L815.67 133.44Z"/>
<path d="M815.49 131.28L818.06 128.71L820.62 131.28L818.06 133.84Z"/>
<path d="M817.88 130.92L820.44 128.35L823.01 130.92L820.44 133.48Z"/>
<path d="M820.27 131.18L822.83 128.62L825.4 131.18L822.83 133.75Z"/>
<path d="M822.66 130.75L825.22 128.19L827.79 130.75L825.22 133.32Z"/>
<path d="M825.05 130.77L827.61 128.2L830.18 130.77L827.61 133.33Z"/>
<path d="M827.43 131.39L830 128.82L832.57 131.39L830 133.95Z"/>
<path d="M829.82 131.33L832.39 128.76L834.95 131.33L832.39 133.89Z"/>
<path d="M832.21 131.23L834.78 128.67L837.34 131.23L834.78 133.8Z"/>
<path d="M834.6 130.59L837.17 128.02L839.73 130.59L837.17 133.15Z"/>
<path d="M836.99 130.99L839.56 128.43L842.12 130.99L839.56 133.56Z"/>
<path d="M839.38 130.8L841.94 128.24L844.51 130.8L841.94 133.37Z"/>
<path d="M841.77 131.05L844.33 128.48L846.9 131.05L844.33 133.61Z"/>
<path d="M844.16 130.85L846.72 128.28L849.29 130.85L846.72 133.41Z"/>
<path d="M846.55 130.92L849.11 128.35L851.68 130.92L849.11 133.48Z"/>
<path d="M848.93 130.92L851.5 128.35L854.07 130.92L851.5 133.48Z"/>
<path d="M851.32 130.68L853.89 128.11L856.45 130.68L853.89 133.24Z"/>
<path d="M853.71 130.63L856.28 128.06L858.84 130.63L856.28 133.19Z"/>
<path d="M856.1 130.32L858.67 127.75L861.23 130.32L858.67 132.88Z"/>
<path d="M858.49 130.45L861.06 127.89L863.62 130.45L861.06 133.02Z"/>
<path d="M860.88 130.2L863.44 127.64L866.01 130.2L863.44 132.77Z"/>
<path d="M863.27 130.21L865.83 127.65L868.4 130.21L865.83 132.78Z"/>
<path d="M865.66 130.05L868.22 127.49L870.79 130.05L868.22 132.62Z"/>
<path d="M868.05 130.26L870.61 127.7L873.18 130.26L870.61 132.83Z"/>
<path d="M870.43 130.64L873 128.07L875.57 130.64L873 133.2Z"/>
<path d="M872.82 130.01L875.39 127.45L877.95 130.01L875.39 132.58Z"/>
<path d="M875.21 129.88L877.78 127.32L880.34 129.88L877.78 132.45Z"/>
<path d="M877.6 129.88L880.17 127.31L882.73 129.88L880.17 132.44Z"/>
<path d="M879.99 130.1L882.56 127.54L885.12 130.1L882.56 132.67Z"/>
<path d="M882.38 129.94L884.94 127.37L887.51 129.94L884.94 132.5Z"/>
<path d="M884.77 130.3L887.33 127.74L889.9 130.3L887.33 132.87Z"/>
<path d="M887.16 129.75L889.72 127.18L892.29 129.75L889.72 132.31Z"/>
<path d="M889.55 129.91L892.11 127.35L894.68 129.91L892.11 132.48Z"/>
<path d="M891.93 130.1L894.5 127.54L897.07 130.1L894.5 132.67Z"/>
<path d="M894.32 130.24L896.89 127.68L899.45 130.24L896.89 132.81Z"/>
<path d="M896.71 129.54L899.28 126.98L901.84 129.54L899.28 132.11Z"/>
<path d="M899.1 129.39L901.67 126.82L904.23 129.39L901.67 131.95Z"/>
<path d="M901.49 130.08L904.06 127.52L906.62 130.08L904.06 132.65Z"/>
<path d="M903.88 129.45L906.44 126.88L909.01 129.45L906.44 132.01Z"/>
<path d="M906.27 129.72L908.83 127.16L911.4 129.72L908.83 132.29Z"/>
<path d="M908.66 129.89L911.22 127.33L913.79 129.89L911.22 132.46Z"/>
<path d="M911.05 129.73L913.61 127.16L916.18 129.73L913.61 132.29Z"/>
<path d="M913.43 129.29L916 126.72L918.57 129.29L916 131.85Z"/>
<path d="M915.82 129.16L918.39 126.59L920.95 129.16L918.39 131.72Z"/>
<path d="M918.21 129.8L920.78 127.23L923.34 129.8L920.78 132.36Z"/>
<path d="M920.6 129.27L923.17 126.71L925.73 129.27L923.17 131.84Z"/>
<path d="M922.99 129.63L925.56 127.07L928.12 129.63L925.56 132.2Z"/>
<path d="M925.38 128.95L927.94 126.38L930.51 128.95L927.94 131.51Z"/>
<path d="M927.77 129.15L930.33 126.58L932.9 129.15L930.33 131.71Z"/>
<path d="M930.16 128.58L932.72 126.01L935.29 128.58L932.72 131.14Z"/>
<path d="M932.55 128.37L935.11 125.81L937.68 128.37L935.11 130.94Z"/>
<path d="M934.93 128.64L937.5 126.08L940.07 128.64L937.5 131.21Z"/>
<path d="M937.32 128.12L939.89 125.55L942.45 128.12L939.89 130.68Z"/>
<path d="M939.71 128.56L942.28 126L944.84 128.56L942.28 131.13Z"/>
<path d="M942.1 128.64L944.67 126.07L947.23 128.64L944.67 131.2Z"/>
<path d="M944.49 128.1L947.06 125.54L949.62 128.1L947.06 130.67Z"/>
<path d="M946.88 128.48L949.44 125.91L952.01 128.48L949.44 131.04Z"/>
<path d="M949.27 128.24L951.83 125.67L954.4 128.24L951.83 130.8Z"/>
<path d="M951.66 127.96L954.22 125.4L956.79 127.96L954.22 130.53Z"/>
<path d="M954.05 127.69L956.61 125.13L959.18 127.69L956.61 130.26Z"/>
<path d="M956.43 127.97L959 125.41L961.57 127.97L959 130.54Z"/>
<path d="M958.82 127.97L961.39 125.4L963.95 127.97L961.39 130.53Z"/>
<path d="M961.21 127.18L963.78 124.62L966.34 127.18L963.78 129.75Z"/>
<path d="M963.6 127.54L966.17 124.97L968.73 127.54L966.17 130.1Z"/>
<path d="M965.99 126.91L968.56 124.35L971.12 126.91L968.56 129.48Z"/>
<path d="M968.38 126.86L970.94 124.3L973.51 126.86L970.94 129.43Z"/>
<path d="M970.77 127.19L973.33 124.62L975.9 127.19L973.33 129.75Z"/>
</g>
<polyline fill="none" stroke="#222" stroke-width="0.6" points="736.83,127.47 739.22,123.86 741.61,122.31 744,121.04 746.39,121.32 748.78,121.61 751.17,121.89 753.56,122.35 755.94,122.8 758.33,123.26 760.72,123.72 763.11,124.18 765.5,124.64 767.89,125.1 770.28,125.56 772.67,126.03 775.06,126.49 777.44,126.95 779.83,127.45 782.22,128.03 784.61,128.61 787,129.19 789.39,129.77 791.78,130.67 794.17,131.89 796.56,133.1 798.94,134.31 801.33,135.53 803.72,137.39 806.11,140.21 808.5,143.04 810.89,146.27 813.28,150.11 815.67,154.13 818.06,159.89 820.44,163.73 822.83,165.65 825.22,167.57 827.61,169.5 830,171.97 832.39,175.81 834.78,178.6 837.17,179.38 839.56,182.89 841.94,182.74 844.33,183.23 846.72,185.01 849.11,185.89 851.5,184.91 853.89,187.07 856.28,187.77 858.67,187.61 861.06,187.44 863.44,189.67 865.83,189.57 868.22,189.64 870.61,188.38 873,189.54 875.39,188.52 877.78,190.51 880.17,190.12 882.56,189.36 884.94,188.84 887.33,190.1 889.72,191.25 892.11,192.07 894.5,191.37 896.89,193.45 899.28,191.23 901.67,191.62 904.06,194.71 906.44,194.45 908.83,192.34 911.22,193.22 913.61,192.75 916,194.94 918.39,196.19 920.78,195.62 923.17,193.65 925.56,196.16 927.94,196.02 930.33,195.92 932.72,196.15 935.11,196.44 937.5,194.53 939.89,198.12 942.28,199.14 944.67,195.17 947.06,193.95 949.44,192.06 951.83,192.88 954.22,191.71 956.61,192.78 959,196.81 961.39,195.47 963.78,196.62 966.17,199.37 968.56,196.64 970.94,194.33 973.33,188.17" />
<g fill="#fff" stroke="#111" stroke-width="0.7">
<circle cx="736.83" cy="127.47" r="2"/>
<circle cx="739.22" cy="123.86" r="2"/>
<circle cx="741.61" cy="122.31" r="2"/>
<circle cx="744" cy="121.04" r="2"/>
<circle cx="746.39" cy="121.32" r="2"/>
<circle cx="748.78" cy="121.61" r="2"/>
<circle cx="751.17" cy="121.89" r="2"/>
<circle cx="753.56" cy="122.35" r="2"/>
<circle cx="755.94" cy="122.8" r="2"/>
<circle cx="758.33" cy="123.26" r="2"/>
<circle cx="760.72" cy="123.72" r="2"/>
<circle cx="763.11" cy="124.18" r="2"/>
<circle cx="765.5" cy="124.64" r="2"/>
<circle cx="767.89" cy="125.1" r="2"/>
<circle cx="770.28" cy="125.56" r="2"/>
<circle cx="772.67" cy="126.03" r="2"/>
<circle cx="775.06" cy="126.49" r="2"/>
<circle cx="777.44" cy="126.95" r="2"/>
<circle cx="779.83" cy="127.45" r="2"/>
<circle cx="782.22" cy="128.03" r="2"/>
<circle cx="784.61" cy="128.61" r="2"/>
<circle cx="787" cy="129.19" r="2"/>
<circle cx="789.39" cy="129.77" r="2"/>
<circle cx="791.78" cy="130.67" r="2"/>
<circle cx="794.17" cy="131.89" r="2"/>
<circle cx="796.56" cy="133.1" r="2"/>
<circle cx="798.94" cy="134.31" r="2"/>
<circle cx="801.33" cy="135.53" r="2"/>
<circle cx="803.72" cy="137.39" r="2"/>
<circle cx="806.11" cy="140.21" r="2"/>
<circle cx="808.5" cy="143.04" r="2"/>
<circle cx="810.89" cy="146.27" r="2"/>
<circle cx="813.28" cy="150.11" r="2"/>
<circle cx="815.67" cy="154.13" r="2"/>
<circle cx="818.06" cy="159.89" r="2"/>
<circle cx="820.44" cy="163.73" r="2"/>
<circle cx="822.83" cy="165.65" r="2"/>
<circle cx="825.22" cy="167.57" r="2"/>
<circle cx="827.61" cy="169.5" r="2"/>
<circle cx="830" cy="171.97" r="2"/>
<circle cx="832.39" cy="175.81" r="2"/>
<circle cx="834.78" cy="178.6" r="2"/>
<circle cx="837.17" cy="179.38" r="2"/>
<circle cx="839.56" cy="182.89" r="2"/>
<circle cx="841.94" cy="182.74" r="2"/>
<circle cx="844.33" cy="183.23" r="2"/>
<circle cx="846.72" cy="185.01" r="2"/>
<circle cx="849.11" cy="185.89" r="2"/>
<circle cx="851.5" cy="184.91" r="2"/>
<circle cx="853.89" cy="187.07" r="2"/>
<circle cx="856.28" cy="187.77" r="2"/>
<circle cx="858.67" cy="187.61" r="2"/>
<circle cx="861.06" cy="187.44" r="2"/>
<circle cx="863.44" cy="189.67" r="2"/>
<circle cx="865.83" cy="189.57" r="2"/>
<circle cx="868.22" cy="189.64" r="2"/>
<circle cx="870.61" cy="188.38" r="2"/>
<circle cx="873" cy="189.54" r="2"/>
<circle cx="875.39" cy="188.52" r="2"/>
<circle cx="877.78" cy="190.51" r="2"/>
<circle cx="880.17" cy="190.12" r="2"/>
<circle cx="882.56" cy="189.36" r="2"/>
<circle cx="884.94" cy="188.84" r="2"/>
<circle cx="887.33" cy="190.1" r="2"/>
<circle cx="889.72" cy="191.25" r="2"/>
<circle cx="892.11" cy="192.07" r="2"/>
<circle cx="894.5" cy="191.37" r="2"/>
<circle cx="896.89" cy="193.45" r="2"/>
<circle cx="899.28" cy="191.23" r="2"/>
<circle cx="901.67" cy="191.62" r="2"/>
<circle cx="904.06" cy="194.71" r="2"/>
<circle cx="906.44" cy="194.45" r="2"/>
<circle cx="908.83" cy="192.34" r="2"/>
<circle cx="911.22" cy="193.22" r="2"/>
<circle cx="913.61" cy="192.75" r="2"/>
<circle cx="916" cy="194.94" r="2"/>
<circle cx="918.39" cy="196.19" r="2"/>
<circle cx="920.78" cy="195.62" r="2"/>
<circle cx="923.17" cy="193.65" r="2"/>
<circle cx="925.56" cy="196.16" r="2"/>
<circle cx="927.94" cy="196.02" r="2"/>
<circle cx="930.33" cy="195.92" r="2"/>
<circle cx="932.72" cy="196.15" r="2"/>
<circle cx="935.11" cy="196.44" r="2"/>
<circle cx="937.5" cy="194.53" r="2"/>
<circle cx="939.89" cy="198.12" r="2"/>
<circle cx="942.28" cy="199.14" r="2"/>
<circle cx="944.67" cy="195.17" r="2"/>
<circle cx="947.06" cy="193.95" r="2"/>
<circle cx="949.44" cy="192.06" r="2"/>
<circle cx="951.83" cy="192.88" r="2"/>
<circle cx="954.22" cy="191.71" r="2"/>
<circle cx="956.61" cy="192.78" r="2"/>
<circle cx="959" cy="196.81" r="2"/>
<circle cx="961.39" cy="195.47" r="2"/>
<circle cx="963.78" cy="196.62" r="2"/>
<circle cx="966.17" cy="199.37" r="2"/>
<circle cx="968.56" cy="196.64" r="2"/>
<circle cx="970.94" cy="194.33" r="2"/>
<circle cx="973.33" cy="188.17" r="2"/>
</g>
<g fill="#fff" stroke="#e8232b" stroke-width="0.8">
<rect x="734.93" y="125.19" width="3.8" height="3.8"/>
<rect x="737.32" y="122.84" width="3.8" height="3.8"/>
<rect x="739.71" y="121.67" width="3.8" height="3.8"/>
<rect x="742.1" y="121.14" width="3.8" height="3.8"/>
<rect x="744.49" y="120.86" width="3.8" height="3.8"/>
<rect x="746.88" y="120.77" width="3.8" height="3.8"/>
<rect x="749.27" y="120.75" width="3.8" height="3.8"/>
<rect x="751.66" y="120.76" width="3.8" height="3.8"/>
<rect x="754.04" y="120.8" width="3.8" height="3.8"/>
<rect x="756.43" y="120.87" width="3.8" height="3.8"/>
<rect x="758.82" y="120.96" width="3.8" height="3.8"/>
<rect x="761.21" y="121.08" width="3.8" height="3.8"/>
<rect x="763.6" y="121.22" width="3.8" height="3.8"/>
<rect x="765.99" y="121.38" width="3.8" height="3.8"/>
<rect x="768.38" y="121.55" width="3.8" height="3.8"/>
<rect x="770.77" y="121.73" width="3.8" height="3.8"/>
<rect x="773.16" y="121.92" width="3.8" height="3.8"/>
<rect x="775.54" y="122.12" width="3.8" height="3.8"/>
<rect x="777.93" y="122.34" width="3.8" height="3.8"/>
<rect x="780.32" y="122.55" width="3.8" height="3.8"/>
<rect x="782.71" y="122.78" width="3.8" height="3.8"/>
<rect x="785.1" y="123.01" width="3.8" height="3.8"/>
<rect x="787.49" y="123.25" width="3.8" height="3.8"/>
<rect x="789.88" y="123.49" width="3.8" height="3.8"/>
<rect x="792.27" y="123.73" width="3.8" height="3.8"/>
<rect x="794.66" y="124" width="3.8" height="3.8"/>
<rect x="797.04" y="124.3" width="3.8" height="3.8"/>
<rect x="799.43" y="124.62" width="3.8" height="3.8"/>
<rect x="801.82" y="124.95" width="3.8" height="3.8"/>
<rect x="804.21" y="125.28" width="3.8" height="3.8"/>
<rect x="806.6" y="125.59" width="3.8" height="3.8"/>
<rect x="808.99" y="125.89" width="3.8" height="3.8"/>
<rect x="811.38" y="126.16" width="3.8" height="3.8"/>
<rect x="813.77" y="126.38" width="3.8" height="3.8"/>
<rect x="816.16" y="126.58" width="3.8" height="3.8"/>
<rect x="818.54" y="126.76" width="3.8" height="3.8"/>
<rect x="820.93" y="126.92" width="3.8" height="3.8"/>
<rect x="823.32" y="127.07" width="3.8" height="3.8"/>
<rect x="825.71" y="127.22" width="3.8" height="3.8"/>
<rect x="828.1" y="127.35" width="3.8" height="3.8"/>
<rect x="830.49" y="127.47" width="3.8" height="3.8"/>
<rect x="832.88" y="127.58" width="3.8" height="3.8"/>
<rect x="835.27" y="127.68" width="3.8" height="3.8"/>
<rect x="837.66" y="127.77" width="3.8" height="3.8"/>
<rect x="840.04" y="127.85" width="3.8" height="3.8"/>
<rect x="842.43" y="127.93" width="3.8" height="3.8"/>
<rect x="844.82" y="127.98" width="3.8" height="3.8"/>
<rect x="847.21" y="128.01" width="3.8" height="3.8"/>
<rect x="849.6" y="127.99" width="3.8" height="3.8"/>
<rect x="851.99" y="127.93" width="3.8" height="3.8"/>
<rect x="854.38" y="127.84" width="3.8" height="3.8"/>
<rect x="856.77" y="127.7" width="3.8" height="3.8"/>
<rect x="859.16" y="127.55" width="3.8" height="3.8"/>
<rect x="861.54" y="127.42" width="3.8" height="3.8"/>
<rect x="863.93" y="127.24" width="3.8" height="3.8"/>
<rect x="866.32" y="126.97" width="3.8" height="3.8"/>
<rect x="868.71" y="126.57" width="3.8" height="3.8"/>
<rect x="871.1" y="125.97" width="3.8" height="3.8"/>
<rect x="873.49" y="124.91" width="3.8" height="3.8"/>
<rect x="875.88" y="123.29" width="3.8" height="3.8"/>
<rect x="878.27" y="121.37" width="3.8" height="3.8"/>
<rect x="880.66" y="119.25" width="3.8" height="3.8"/>
<rect x="883.04" y="116.95" width="3.8" height="3.8"/>
<rect x="885.43" y="114.58" width="3.8" height="3.8"/>
<rect x="887.82" y="112.23" width="3.8" height="3.8"/>
<rect x="890.21" y="109.99" width="3.8" height="3.8"/>
<rect x="892.6" y="107.68" width="3.8" height="3.8"/>
<rect x="894.99" y="105.41" width="3.8" height="3.8"/>
<rect x="897.38" y="103.32" width="3.8" height="3.8"/>
<rect x="899.77" y="101.56" width="3.8" height="3.8"/>
<rect x="902.16" y="100.19" width="3.8" height="3.8"/>
<rect x="904.54" y="99.11" width="3.8" height="3.8"/>
<rect x="906.93" y="98.24" width="3.8" height="3.8"/>
<rect x="909.32" y="97.51" width="3.8" height="3.8"/>
<rect x="911.71" y="96.86" width="3.8" height="3.8"/>
<rect x="914.1" y="96.33" width="3.8" height="3.8"/>
<rect x="916.49" y="95.93" width="3.8" height="3.8"/>
<rect x="918.88" y="95.67" width="3.8" height="3.8"/>
<rect x="921.27" y="95.53" width="3.8" height="3.8"/>
<rect x="923.66" y="95.51" width="3.8" height="3.8"/>
<rect x="926.04" y="95.63" width="3.8" height="3.8"/>
<rect x="928.43" y="95.87" width="3.8" height="3.8"/>
<rect x="930.82" y="96.23" width="3.8" height="3.8"/>
<rect x="933.21" y="96.69" width="3.8" height="3.8"/>
<rect x="935.6" y="97.29" width="3.8" height="3.8"/>
<rect x="937.99" y="98" width="3.8" height="3.8"/>
<rect x="940.38" y="98.79" width="3.8" height="3.8"/>
<rect x="942.77" y="99.64" width="3.8" height="3.8"/>
<rect x="945.16" y="100.5" width="3.8" height="3.8"/>
<rect x="947.54" y="101.39" width="3.8" height="3.8"/>
<rect x="949.93" y="102.31" width="3.8" height="3.8"/>
<rect x="952.32" y="103.29" width="3.8" height="3.8"/>
<rect x="954.71" y="104.35" width="3.8" height="3.8"/>
<rect x="957.1" y="105.53" width="3.8" height="3.8"/>
<rect x="959.49" y="106.83" width="3.8" height="3.8"/>
<rect x="961.88" y="108.27" width="3.8" height="3.8"/>
<rect x="964.27" y="109.87" width="3.8" height="3.8"/>
<rect x="966.66" y="111.62" width="3.8" height="3.8"/>
<rect x="969.04" y="113.82" width="3.8" height="3.8"/>
<rect x="971.43" y="117.05" width="3.8" height="3.8"/>
</g>
<g fill="#3a4fa5" stroke="#3a4fa5" stroke-width="0.5">
<path d="M734 92.98L736.83 90.15L739.67 92.98L736.83 95.82Z"/>
<path d="M735.19 93.21L738.03 90.37L740.86 93.21L738.03 96.04Z"/>
<path d="M736.39 92.48L739.22 89.64L742.06 92.48L739.22 95.31Z"/>
<path d="M737.58 92.9L740.42 90.06L743.25 92.9L740.42 95.73Z"/>
<path d="M738.78 92.18L741.61 89.35L744.45 92.18L741.61 95.02Z"/>
<path d="M739.97 93.24L742.81 90.41L745.64 93.24L742.81 96.08Z"/>
<path d="M741.16 92.06L744 89.22L746.84 92.06L744 94.89Z"/>
<path d="M742.36 92.34L745.19 89.5L748.03 92.34L745.19 95.17Z"/>
<path d="M743.55 92.03L746.39 89.19L749.22 92.03L746.39 94.86Z"/>
<path d="M744.75 92.07L747.58 89.23L750.42 92.07L747.58 94.9Z"/>
<path d="M745.94 92.06L748.78 89.23L751.61 92.06L748.78 94.9Z"/>
<path d="M747.14 92.5L749.97 89.66L752.81 92.5L749.97 95.33Z"/>
<path d="M748.33 93.29L751.17 90.45L754 93.29L751.17 96.12Z"/>
<path d="M749.53 92.27L752.36 89.43L755.2 92.27L752.36 95.1Z"/>
<path d="M750.72 93.06L753.56 90.23L756.39 93.06L753.56 95.9Z"/>
<path d="M751.91 92.88L754.75 90.04L757.59 92.88L754.75 95.71Z"/>
<path d="M753.11 92.38L755.94 89.54L758.78 92.38L755.94 95.21Z"/>
<path d="M754.3 92.57L757.14 89.73L759.97 92.57L757.14 95.4Z"/>
<path d="M755.5 92.72L758.33 89.89L761.17 92.72L758.33 95.56Z"/>
<path d="M756.69 92.01L759.53 89.17L762.36 92.01L759.53 94.84Z"/>
<path d="M757.89 92.45L760.72 89.61L763.56 92.45L760.72 95.28Z"/>
<path d="M759.08 92.82L761.92 89.99L764.75 92.82L761.92 95.66Z"/>
<path d="M760.28 92.95L763.11 90.11L765.95 92.95L763.11 95.78Z"/>
<path d="M761.47 92.11L764.31 89.28L767.14 92.11L764.31 94.95Z"/>
<path d="M762.66 92.63L765.5 89.8L768.34 92.63L765.5 95.47Z"/>
<path d="M763.86 92.22L766.69 89.38L769.53 92.22L766.69 95.05Z"/>
<path d="M765.05 92.81L767.89 89.97L770.72 92.81L767.89 95.64Z"/>
<path d="M766.25 93.02L769.08 90.19L771.92 93.02L769.08 95.86Z"/>
<path d="M767.44 92.55L770.28 89.72L773.11 92.55L770.28 95.39Z"/>
<path d="M768.64 92.17L771.47 89.34L774.31 92.17L771.47 95.01Z"/>
<path d="M769.83 93.06L772.67 90.23L775.5 93.06L772.67 95.9Z"/>
<path d="M771.03 92.2L773.86 89.37L776.7 92.2L773.86 95.04Z"/>
<path d="M772.22 92.03L775.06 89.2L777.89 92.03L775.06 94.87Z"/>
<path d="M773.41 92.19L776.25 89.35L779.09 92.19L776.25 95.02Z"/>
<path d="M774.61 92.16L777.44 89.33L780.28 92.16L777.44 95Z"/>
<path d="M775.8 93.3L778.64 90.46L781.47 93.3L778.64 96.13Z"/>
<path d="M777 92.42L779.83 89.59L782.67 92.42L779.83 95.26Z"/>
<path d="M778.19 92.11L781.03 89.28L783.86 92.11L781.03 94.95Z"/>
<path d="M779.39 93.24L782.22 90.4L785.06 93.24L782.22 96.07Z"/>
<path d="M780.58 92.92L783.42 90.08L786.25 92.92L783.42 95.75Z"/>
<path d="M781.78 92.92L784.61 90.09L787.45 92.92L784.61 95.76Z"/>
<path d="M782.97 92.56L785.81 89.73L788.64 92.56L785.81 95.4Z"/>
<path d="M784.16 92.71L787 89.87L789.84 92.71L787 95.54Z"/>
<path d="M785.36 92.64L788.19 89.8L791.03 92.64L788.19 95.47Z"/>
<path d="M786.55 92.23L789.39 89.39L792.22 92.23L789.39 95.06Z"/>
<path d="M787.75 93.3L790.58 90.47L793.42 93.3L790.58 96.14Z"/>
<path d="M788.94 93.23L791.78 90.39L794.61 93.23L791.78 96.06Z"/>
<path d="M790.14 93.12L792.97 90.29L795.81 93.12L792.97 95.96Z"/>
<path d="M791.33 93.13L794.17 90.29L797 93.13L794.17 95.96Z"/>
<path d="M792.53 93.21L795.36 90.37L798.2 93.21L795.36 96.04Z"/>
<path d="M793.72 91.96L796.56 89.13L799.39 91.96L796.56 94.8Z"/>
<path d="M794.91 92.12L797.75 89.29L800.59 92.12L797.75 94.96Z"/>
<path d="M796.11 93.18L798.94 90.35L801.78 93.18L798.94 96.02Z"/>
<path d="M797.3 92.6L800.14 89.76L802.97 92.6L800.14 95.43Z"/>
<path d="M798.5 92.86L801.33 90.02L804.17 92.86L801.33 95.69Z"/>
<path d="M799.69 92.86L802.53 90.02L805.36 92.86L802.53 95.69Z"/>
<path d="M800.89 92.81L803.72 89.97L806.56 92.81L803.72 95.64Z"/>
<path d="M802.08 92.4L804.92 89.57L807.75 92.4L804.92 95.24Z"/>
<path d="M803.28 92.48L806.11 89.65L808.95 92.48L806.11 95.32Z"/>
<path d="M804.47 92.79L807.31 89.96L810.14 92.79L807.31 95.63Z"/>
<path d="M805.66 93.03L808.5 90.2L811.34 93.03L808.5 95.87Z"/>
<path d="M806.86 92.84L809.69 90L812.53 92.84L809.69 95.67Z"/>
<path d="M808.05 93.13L810.89 90.29L813.72 93.13L810.89 95.96Z"/>
<path d="M809.25 92.52L812.08 89.69L814.92 92.52L812.08 95.36Z"/>
<path d="M810.44 92.31L813.28 89.47L816.11 92.31L813.28 95.14Z"/>
<path d="M811.64 92.77L814.47 89.93L817.31 92.77L814.47 95.6Z"/>
<path d="M812.83 93.19L815.67 90.36L818.5 93.19L815.67 96.03Z"/>
<path d="M814.03 93.05L816.86 90.22L819.7 93.05L816.86 95.89Z"/>
<path d="M815.22 92.78L818.06 89.94L820.89 92.78L818.06 95.61Z"/>
<path d="M816.41 92.46L819.25 89.62L822.09 92.46L819.25 95.29Z"/>
<path d="M817.61 92.22L820.44 89.38L823.28 92.22L820.44 95.05Z"/>
<path d="M818.8 92.77L821.64 89.93L824.47 92.77L821.64 95.6Z"/>
<path d="M820 92.19L822.83 89.36L825.67 92.19L822.83 95.03Z"/>
<path d="M821.19 92.43L824.03 89.6L826.86 92.43L824.03 95.27Z"/>
<path d="M822.39 92.7L825.22 89.86L828.06 92.7L825.22 95.53Z"/>
<path d="M823.58 92.78L826.42 89.94L829.25 92.78L826.42 95.61Z"/>
<path d="M824.78 92.61L827.61 89.77L830.45 92.61L827.61 95.44Z"/>
<path d="M825.97 92.32L828.81 89.49L831.64 92.32L828.81 95.16Z"/>
<path d="M827.16 92.71L830 89.88L832.84 92.71L830 95.55Z"/>
<path d="M828.36 92.34L831.19 89.5L834.03 92.34L831.19 95.17Z"/>
<path d="M829.55 92.66L832.39 89.82L835.22 92.66L832.39 95.49Z"/>
<path d="M830.75 92.96L833.58 90.12L836.42 92.96L833.58 95.79Z"/>
<path d="M831.94 92.55L834.78 89.72L837.61 92.55L834.78 95.39Z"/>
<path d="M833.14 92.33L835.97 89.5L838.81 92.33L835.97 95.17Z"/>
<path d="M834.33 93.2L837.17 90.37L840 93.2L837.17 96.04Z"/>
<path d="M835.53 92.7L838.36 89.87L841.2 92.7L838.36 95.54Z"/>
<path d="M836.72 92.7L839.56 89.87L842.39 92.7L839.56 95.54Z"/>
<path d="M837.91 92.09L840.75 89.25L843.59 92.09L840.75 94.92Z"/>
<path d="M839.11 92.01L841.94 89.18L844.78 92.01L841.94 94.85Z"/>
<path d="M840.3 92.78L843.14 89.94L845.97 92.78L843.14 95.61Z"/>
<path d="M841.5 92.06L844.33 89.23L847.17 92.06L844.33 94.9Z"/>
<path d="M842.69 92.21L845.53 89.37L848.36 92.21L845.53 95.04Z"/>
<path d="M843.89 92.93L846.72 90.1L849.56 92.93L846.72 95.77Z"/>
<path d="M845.08 92.65L847.92 89.82L850.75 92.65L847.92 95.49Z"/>
<path d="M846.28 93.13L849.11 90.3L851.95 93.13L849.11 95.97Z"/>
<path d="M847.47 92.18L850.31 89.34L853.14 92.18L850.31 95.01Z"/>
<path d="M848.66 92.38L851.5 89.54L854.34 92.38L851.5 95.21Z"/>
<path d="M849.86 92.08L852.69 89.24L855.53 92.08L852.69 94.91Z"/>
<path d="M851.05 92.2L853.89 89.37L856.72 92.2L853.89 95.04Z"/>
<path d="M852.25 92.37L855.08 89.54L857.92 92.37L855.08 95.21Z"/>
<path d="M853.44 92.28L856.28 89.45L859.11 92.28L856.28 95.12Z"/>
<path d="M854.64 92.51L857.47 89.68L860.31 92.51L857.47 95.35Z"/>
<path d="M855.83 93.16L858.67 90.32L861.5 93.16L858.67 95.99Z"/>
<path d="M857.03 92.48L859.86 89.65L862.7 92.48L859.86 95.32Z"/>
<path d="M858.22 93.3L861.06 90.47L863.89 93.3L861.06 96.14Z"/>
<path d="M859.41 93.1L862.25 90.27L865.09 93.1L862.25 95.94Z"/>
<path d="M860.61 92.23L863.44 89.39L866.28 92.23L863.44 95.06Z"/>
<path d="M861.8 93.24L864.64 90.41L867.47 93.24L864.64 96.08Z"/>
<path d="M863 93.18L865.83 90.34L868.67 93.18L865.83 96.01Z"/>
<path d="M864.19 93.16L867.03 90.33L869.86 93.16L867.03 96Z"/>
<path d="M865.39 92.09L868.22 89.25L871.06 92.09L868.22 94.92Z"/>
<path d="M866.58 93.05L869.42 90.22L872.25 93.05L869.42 95.89Z"/>
<path d="M867.78 93.27L870.61 90.44L873.45 93.27L870.61 96.11Z"/>
<path d="M868.97 92.14L871.81 89.3L874.64 92.14L871.81 94.97Z"/>
<path d="M870.16 93.13L873 90.3L875.84 93.13L873 95.97Z"/>
<path d="M871.36 92.14L874.19 89.3L877.03 92.14L874.19 94.97Z"/>
<path d="M872.55 92.36L875.39 89.53L878.22 92.36L875.39 95.2Z"/>
<path d="M873.75 92.15L876.58 89.31L879.42 92.15L876.58 94.98Z"/>
<path d="M874.94 91.99L877.78 89.16L880.61 91.99L877.78 94.83Z"/>
<path d="M876.14 92.49L878.97 89.66L881.81 92.49L878.97 95.33Z"/>
<path d="M877.33 92.2L880.17 89.36L883 92.2L880.17 95.03Z"/>
<path d="M878.53 93.26L881.36 90.42L884.2 93.26L881.36 96.09Z"/>
<path d="M879.72 92.24L882.56 89.4L885.39 92.24L882.56 95.07Z"/>
<path d="M880.91 92.59L883.75 89.75L886.59 92.59L883.75 95.42Z"/>
<path d="M882.11 92.31L884.94 89.47L887.78 92.31L884.94 95.14Z"/>
<path d="M883.3 93.15L886.14 90.32L888.97 93.15L886.14 95.99Z"/>
<path d="M884.5 92.26L887.33 89.43L890.17 92.26L887.33 95.1Z"/>
<path d="M885.69 92.02L888.53 89.18L891.36 92.02L888.53 94.85Z"/>
<path d="M886.89 93.22L889.72 90.38L892.56 93.22L889.72 96.05Z"/>
<path d="M888.08 92.85L890.92 90.01L893.75 92.85L890.92 95.68Z"/>
<path d="M889.28 92.51L892.11 89.68L894.95 92.51L892.11 95.35Z"/>
<path d="M890.47 92.16L893.31 89.32L896.14 92.16L893.31 94.99Z"/>
<path d="M891.66 92.96L894.5 90.13L897.34 92.96L894.5 95.8Z"/>
<path d="M892.86 93.05L895.69 90.21L898.53 93.05L895.69 95.88Z"/>
<path d="M894.05 92.95L896.89 90.11L899.72 92.95L896.89 95.78Z"/>
<path d="M895.25 92.44L898.08 89.61L900.92 92.44L898.08 95.28Z"/>
<path d="M896.44 92.26L899.28 89.42L902.11 92.26L899.28 95.09Z"/>
<path d="M897.64 92.75L900.47 89.91L903.31 92.75L900.47 95.58Z"/>
<path d="M898.83 92.78L901.67 89.95L904.5 92.78L901.67 95.62Z"/>
<path d="M900.03 92.74L902.86 89.91L905.7 92.74L902.86 95.58Z"/>
<path d="M901.22 92.81L904.06 89.97L906.89 92.81L904.06 95.64Z"/>
<path d="M902.41 92.71L905.25 89.88L908.09 92.71L905.25 95.55Z"/>
<path d="M903.61 93.19L906.44 90.35L909.28 93.19L906.44 96.02Z"/>
<path d="M904.8 92.6L907.64 89.77L910.47 92.6L907.64 95.44Z"/>
<path d="M906 91.96L908.83 89.13L911.67 91.96L908.83 94.8Z"/>
<path d="M907.19 92.72L910.03 89.89L912.86 92.72L910.03 95.56Z"/>
<path d="M908.39 92.26L911.22 89.43L914.06 92.26L911.22 95.1Z"/>
<path d="M909.58 93.08L912.42 90.24L915.25 93.08L912.42 95.91Z"/>
<path d="M910.78 92.34L913.61 89.51L916.45 92.34L913.61 95.18Z"/>
<path d="M911.97 92.25L914.81 89.42L917.64 92.25L914.81 95.09Z"/>
<path d="M913.16 92.36L916 89.53L918.84 92.36L916 95.2Z"/>
<path d="M914.36 92.58L917.19 89.74L920.03 92.58L917.19 95.41Z"/>
<path d="M915.55 92.62L918.39 89.79L921.22 92.62L918.39 95.46Z"/>
<path d="M916.75 92.41L919.58 89.57L922.42 92.41L919.58 95.24Z"/>
<path d="M917.94 92.06L920.78 89.23L923.61 92.06L920.78 94.9Z"/>
<path d="M919.14 93.09L921.97 90.26L924.81 93.09L921.97 95.93Z"/>
<path d="M920.33 93.17L923.17 90.33L926 93.17L923.17 96Z"/>
<path d="M921.53 92.26L924.36 89.43L927.2 92.26L924.36 95.1Z"/>
<path d="M922.72 92.04L925.56 89.2L928.39 92.04L925.56 94.87Z"/>
<path d="M923.91 92.58L926.75 89.74L929.59 92.58L926.75 95.41Z"/>
<path d="M925.11 92.68L927.94 89.84L930.78 92.68L927.94 95.51Z"/>
<path d="M926.3 92.3L929.14 89.47L931.97 92.3L929.14 95.14Z"/>
<path d="M927.5 93.04L930.33 90.21L933.17 93.04L930.33 95.88Z"/>
<path d="M928.69 92.93L931.53 90.09L934.36 92.93L931.53 95.76Z"/>
<path d="M929.89 93.02L932.72 90.19L935.56 93.02L932.72 95.86Z"/>
<path d="M931.08 92.48L933.92 89.65L936.75 92.48L933.92 95.32Z"/>
<path d="M932.28 92.86L935.11 90.02L937.95 92.86L935.11 95.69Z"/>
<path d="M933.47 92.97L936.31 90.14L939.14 92.97L936.31 95.81Z"/>
<path d="M934.66 92.34L937.5 89.51L940.34 92.34L937.5 95.18Z"/>
<path d="M935.86 91.99L938.69 89.16L941.53 91.99L938.69 94.83Z"/>
<path d="M937.05 92.89L939.89 90.05L942.72 92.89L939.89 95.72Z"/>
<path d="M938.25 92.32L941.08 89.49L943.92 92.32L941.08 95.16Z"/>
<path d="M939.44 92.72L942.28 89.89L945.11 92.72L942.28 95.56Z"/>
<path d="M940.64 92.12L943.47 89.29L946.31 92.12L943.47 94.96Z"/>
<path d="M941.83 92.48L944.67 89.65L947.5 92.48L944.67 95.32Z"/>
<path d="M943.03 92.93L945.86 90.09L948.7 92.93L945.86 95.76Z"/>
<path d="M944.22 93L947.06 90.16L949.89 93L947.06 95.83Z"/>
<path d="M945.41 93.27L948.25 90.44L951.09 93.27L948.25 96.11Z"/>
<path d="M946.61 92.63L949.44 89.79L952.28 92.63L949.44 95.46Z"/>
<path d="M947.8 92.76L950.64 89.93L953.47 92.76L950.64 95.6Z"/>
<path d="M949 93.06L951.83 90.23L954.67 93.06L951.83 95.9Z"/>
<path d="M950.19 92.79L953.03 89.96L955.86 92.79L953.03 95.63Z"/>
<path d="M951.39 92.85L954.22 90.01L957.06 92.85L954.22 95.68Z"/>
<path d="M952.58 92.23L955.42 89.39L958.25 92.23L955.42 95.06Z"/>
<path d="M953.78 93.1L956.61 90.27L959.45 93.1L956.61 95.94Z"/>
<path d="M954.97 91.94L957.81 89.11L960.64 91.94L957.81 94.78Z"/>
<path d="M956.16 92.63L959 89.79L961.84 92.63L959 95.46Z"/>
<path d="M957.36 92.47L960.19 89.63L963.03 92.47L960.19 95.3Z"/>
<path d="M958.55 92.65L961.39 89.81L964.22 92.65L961.39 95.48Z"/>
<path d="M959.75 92.15L962.58 89.31L965.42 92.15L962.58 94.98Z"/>
<path d="M960.94 92.16L963.78 89.33L966.61 92.16L963.78 95Z"/>
<path d="M962.14 92.52L964.97 89.69L967.81 92.52L964.97 95.36Z"/>
<path d="M963.33 92.63L966.17 89.79L969 92.63L966.17 95.46Z"/>
<path d="M964.53 92.3L967.36 89.47L970.2 92.3L967.36 95.14Z"/>
<path d="M965.72 92.12L968.56 89.28L971.39 92.12L968.56 94.95Z"/>
<path d="M966.91 92.74L969.75 89.9L972.59 92.74L969.75 95.57Z"/>
<path d="M968.11 92.28L970.94 89.45L973.78 92.28L970.94 95.12Z"/>
<path d="M969.3 91.98L972.14 89.15L974.97 91.98L972.14 94.82Z"/>
<path d="M970.5 92.65L973.33 89.81L976.17 92.65L973.33 95.48Z"/>
<path d="M971.69 92.98L974.53 90.14L977.36 92.98L974.53 95.81Z"/>
</g>
<polyline fill="none" stroke="#000" stroke-width="0.7" points="736.83,61.2 739.22,61.57 741.61,61.94 744,62.37 746.39,62.87 748.78,63.43 751.17,64.03 753.56,64.68 755.94,65.38 758.33,66.16 760.72,67.01 763.11,67.94 765.5,68.95 767.89,70.04 770.28,71.2 772.67,72.45 775.06,73.7 777.44,75.03 779.83,76.66 782.22,78.62 784.61,80.89 787,83.53 789.39,87.14 791.78,90.95 794.17,93.6 796.56,96.51 798.94,100.26 801.33,104.35 803.72,108.85 806.11,114.01 808.5,119.51 810.89,124.76 813.28,129.88 815.67,134.51 818.06,138.43 820.44,141.98 822.83,145.44 825.22,148.69 827.61,152.02 830,155.96 832.39,160.18 834.78,164.83 837.17,171.35 839.56,178.51 841.94,185.56 844.33,194.86 846.72,208.79 849.11,223.86" />
<g fill="#000" stroke="#000" stroke-width="0.5">
<circle cx="736.83" cy="61.2" r="2.1"/>
<circle cx="739.22" cy="61.57" r="2.1"/>
<circle cx="741.61" cy="61.94" r="2.1"/>
<circle cx="744" cy="62.37" r="2.1"/>
<circle cx="746.39" cy="62.87" r="2.1"/>
<circle cx="748.78" cy="63.43" r="2.1"/>
<circle cx="751.17" cy="64.03" r="2.1"/>
<circle cx="753.56" cy="64.68" r="2.1"/>
<circle cx="755.94" cy="65.38" r="2.1"/>
<circle cx="758.33" cy="66.16" r="2.1"/>
<circle cx="760.72" cy="67.01" r="2.1"/>
<circle cx="763.11" cy="67.94" r="2.1"/>
<circle cx="765.5" cy="68.95" r="2.1"/>
<circle cx="767.89" cy="70.04" r="2.1"/>
<circle cx="770.28" cy="71.2" r="2.1"/>
<circle cx="772.67" cy="72.45" r="2.1"/>
<circle cx="775.06" cy="73.7" r="2.1"/>
<circle cx="777.44" cy="75.03" r="2.1"/>
<circle cx="779.83" cy="76.66" r="2.1"/>
<circle cx="782.22" cy="78.62" r="2.1"/>
<circle cx="784.61" cy="80.89" r="2.1"/>
<circle cx="787" cy="83.53" r="2.1"/>
<circle cx="789.39" cy="87.14" r="2.1"/>
<circle cx="791.78" cy="90.95" r="2.1"/>
<circle cx="794.17" cy="93.6" r="2.1"/>
<circle cx="796.56" cy="96.51" r="2.1"/>
<circle cx="798.94" cy="100.26" r="2.1"/>
<circle cx="801.33" cy="104.35" r="2.1"/>
<circle cx="803.72" cy="108.85" r="2.1"/>
<circle cx="806.11" cy="114.01" r="2.1"/>
<circle cx="808.5" cy="119.51" r="2.1"/>
<circle cx="810.89" cy="124.76" r="2.1"/>
<circle cx="813.28" cy="129.88" r="2.1"/>
<circle cx="815.67" cy="134.51" r="2.1"/>
<circle cx="818.06" cy="138.43" r="2.1"/>
<circle cx="820.44" cy="141.98" r="2.1"/>
<circle cx="822.83" cy="145.44" r="2.1"/>
<circle cx="825.22" cy="148.69" r="2.1"/>
<circle cx="827.61" cy="152.02" r="2.1"/>
<circle cx="830" cy="155.96" r="2.1"/>
<circle cx="832.39" cy="160.18" r="2.1"/>
<circle cx="834.78" cy="164.83" r="2.1"/>
<circle cx="837.17" cy="171.35" r="2.1"/>
<circle cx="839.56" cy="178.51" r="2.1"/>
<circle cx="841.94" cy="185.56" r="2.1"/>
<circle cx="844.33" cy="194.86" r="2.1"/>
<circle cx="846.72" cy="208.79" r="2.1"/>
<circle cx="849.11" cy="223.86" r="2.1"/>
</g>
<g fill="#e8232b" stroke="#e8232b" stroke-width="0.5">
<rect x="734.83" y="58.88" width="4" height="4"/>
<rect x="736.03" y="58.74" width="4" height="4"/>
<rect x="737.22" y="58.6" width="4" height="4"/>
<rect x="738.42" y="58.45" width="4" height="4"/>
<rect x="739.61" y="58.31" width="4" height="4"/>
<rect x="740.81" y="58.2" width="4" height="4"/>
<rect x="742" y="58.12" width="4" height="4"/>
<rect x="743.19" y="58.06" width="4" height="4"/>
<rect x="744.39" y="58.01" width="4" height="4"/>
<rect x="745.58" y="57.96" width="4" height="4"/>
<rect x="746.78" y="57.92" width="4" height="4"/>
<rect x="747.97" y="57.88" width="4" height="4"/>
<rect x="749.17" y="57.85" width="4" height="4"/>
<rect x="750.36" y="57.82" width="4" height="4"/>
<rect x="751.56" y="57.81" width="4" height="4"/>
<rect x="752.75" y="57.8" width="4" height="4"/>
<rect x="753.94" y="57.8" width="4" height="4"/>
<rect x="755.14" y="57.81" width="4" height="4"/>
<rect x="756.33" y="57.83" width="4" height="4"/>
<rect x="757.53" y="57.86" width="4" height="4"/>
<rect x="758.72" y="57.89" width="4" height="4"/>
<rect x="759.92" y="57.93" width="4" height="4"/>
<rect x="761.11" y="57.98" width="4" height="4"/>
<rect x="762.31" y="58.03" width="4" height="4"/>
<rect x="763.5" y="58.09" width="4" height="4"/>
<rect x="764.69" y="58.15" width="4" height="4"/>
<rect x="765.89" y="58.21" width="4" height="4"/>
<rect x="767.08" y="58.27" width="4" height="4"/>
<rect x="768.28" y="58.34" width="4" height="4"/>
<rect x="769.47" y="58.41" width="4" height="4"/>
<rect x="770.67" y="58.48" width="4" height="4"/>
<rect x="771.86" y="58.55" width="4" height="4"/>
<rect x="773.06" y="58.62" width="4" height="4"/>
<rect x="774.25" y="58.69" width="4" height="4"/>
<rect x="775.44" y="58.75" width="4" height="4"/>
<rect x="776.64" y="58.82" width="4" height="4"/>
<rect x="777.83" y="58.88" width="4" height="4"/>
<rect x="779.03" y="58.94" width="4" height="4"/>
<rect x="780.22" y="59" width="4" height="4"/>
<rect x="781.42" y="59.06" width="4" height="4"/>
<rect x="782.61" y="59.12" width="4" height="4"/>
<rect x="783.81" y="59.18" width="4" height="4"/>
<rect x="785" y="59.25" width="4" height="4"/>
<rect x="786.19" y="59.31" width="4" height="4"/>
<rect x="787.39" y="59.37" width="4" height="4"/>
<rect x="788.58" y="59.43" width="4" height="4"/>
<rect x="789.78" y="59.5" width="4" height="4"/>
<rect x="790.97" y="59.57" width="4" height="4"/>
<rect x="792.17" y="59.64" width="4" height="4"/>
<rect x="793.36" y="59.71" width="4" height="4"/>
<rect x="794.56" y="59.78" width="4" height="4"/>
<rect x="795.75" y="59.85" width="4" height="4"/>
<rect x="796.94" y="59.93" width="4" height="4"/>
<rect x="798.14" y="60.01" width="4" height="4"/>
<rect x="799.33" y="60.09" width="4" height="4"/>
<rect x="800.53" y="60.18" width="4" height="4"/>
<rect x="801.72" y="60.26" width="4" height="4"/>
<rect x="802.92" y="60.35" width="4" height="4"/>
<rect x="804.11" y="60.44" width="4" height="4"/>
<rect x="805.31" y="60.53" width="4" height="4"/>
<rect x="806.5" y="60.62" width="4" height="4"/>
<rect x="807.69" y="60.71" width="4" height="4"/>
<rect x="808.89" y="60.8" width="4" height="4"/>
<rect x="810.08" y="60.9" width="4" height="4"/>
<rect x="811.28" y="60.99" width="4" height="4"/>
<rect x="812.47" y="61.08" width="4" height="4"/>
<rect x="813.67" y="61.18" width="4" height="4"/>
<rect x="814.86" y="61.27" width="4" height="4"/>
<rect x="816.06" y="61.36" width="4" height="4"/>
<rect x="817.25" y="61.45" width="4" height="4"/>
<rect x="818.44" y="61.54" width="4" height="4"/>
<rect x="819.64" y="61.64" width="4" height="4"/>
<rect x="820.83" y="61.73" width="4" height="4"/>
<rect x="822.03" y="61.82" width="4" height="4"/>
<rect x="823.22" y="61.92" width="4" height="4"/>
<rect x="824.42" y="62.02" width="4" height="4"/>
<rect x="825.61" y="62.11" width="4" height="4"/>
<rect x="826.81" y="62.21" width="4" height="4"/>
<rect x="828" y="62.32" width="4" height="4"/>
<rect x="829.19" y="62.42" width="4" height="4"/>
<rect x="830.39" y="62.53" width="4" height="4"/>
<rect x="831.58" y="62.64" width="4" height="4"/>
<rect x="832.78" y="62.75" width="4" height="4"/>
<rect x="833.97" y="62.86" width="4" height="4"/>
<rect x="835.17" y="62.98" width="4" height="4"/>
<rect x="836.36" y="63.1" width="4" height="4"/>
<rect x="837.56" y="63.22" width="4" height="4"/>
<rect x="838.75" y="63.34" width="4" height="4"/>
<rect x="839.94" y="63.46" width="4" height="4"/>
<rect x="841.14" y="63.59" width="4" height="4"/>
<rect x="842.33" y="63.72" width="4" height="4"/>
<rect x="843.53" y="63.85" width="4" height="4"/>
<rect x="844.72" y="63.98" width="4" height="4"/>
<rect x="845.92" y="64.11" width="4" height="4"/>
<rect x="847.11" y="64.24" width="4" height="4"/>
<rect x="848.31" y="64.37" width="4" height="4"/>
<rect x="849.5" y="64.51" width="4" height="4"/>
<rect x="850.69" y="64.64" width="4" height="4"/>
<rect x="851.89" y="64.78" width="4" height="4"/>
<rect x="853.08" y="64.91" width="4" height="4"/>
<rect x="854.28" y="65.05" width="4" height="4"/>
<rect x="855.47" y="65.19" width="4" height="4"/>
<rect x="856.67" y="65.33" width="4" height="4"/>
<rect x="857.86" y="65.47" width="4" height="4"/>
<rect x="859.06" y="65.62" width="4" height="4"/>
<rect x="860.25" y="65.76" width="4" height="4"/>
<rect x="861.44" y="65.91" width="4" height="4"/>
<rect x="862.64" y="66.06" width="4" height="4"/>
<rect x="863.83" y="66.21" width="4" height="4"/>
<rect x="865.03" y="66.36" width="4" height="4"/>
<rect x="866.22" y="66.51" width="4" height="4"/>
<rect x="867.42" y="66.67" width="4" height="4"/>
<rect x="868.61" y="66.82" width="4" height="4"/>
<rect x="869.81" y="66.97" width="4" height="4"/>
<rect x="871" y="67.12" width="4" height="4"/>
<rect x="872.19" y="67.27" width="4" height="4"/>
<rect x="873.39" y="67.41" width="4" height="4"/>
<rect x="874.58" y="67.56" width="4" height="4"/>
<rect x="875.78" y="67.71" width="4" height="4"/>
<rect x="876.97" y="67.87" width="4" height="4"/>
<rect x="878.17" y="68.03" width="4" height="4"/>
<rect x="879.36" y="68.2" width="4" height="4"/>
<rect x="880.56" y="68.38" width="4" height="4"/>
<rect x="881.75" y="68.56" width="4" height="4"/>
<rect x="882.94" y="68.76" width="4" height="4"/>
<rect x="884.14" y="68.98" width="4" height="4"/>
<rect x="885.33" y="69.2" width="4" height="4"/>
<rect x="886.53" y="69.44" width="4" height="4"/>
<rect x="887.72" y="69.69" width="4" height="4"/>
<rect x="888.92" y="69.95" width="4" height="4"/>
<rect x="890.11" y="70.22" width="4" height="4"/>
<rect x="891.31" y="70.5" width="4" height="4"/>
<rect x="892.5" y="70.79" width="4" height="4"/>
<rect x="893.69" y="71.09" width="4" height="4"/>
<rect x="894.89" y="71.39" width="4" height="4"/>
<rect x="896.08" y="71.7" width="4" height="4"/>
<rect x="897.28" y="72.02" width="4" height="4"/>
<rect x="898.47" y="72.35" width="4" height="4"/>
<rect x="899.67" y="72.68" width="4" height="4"/>
<rect x="900.86" y="73.01" width="4" height="4"/>
<rect x="902.06" y="73.36" width="4" height="4"/>
<rect x="903.25" y="73.71" width="4" height="4"/>
<rect x="904.44" y="74.06" width="4" height="4"/>
<rect x="905.64" y="74.43" width="4" height="4"/>
<rect x="906.83" y="74.8" width="4" height="4"/>
<rect x="908.03" y="75.18" width="4" height="4"/>
<rect x="909.22" y="75.57" width="4" height="4"/>
<rect x="910.42" y="75.96" width="4" height="4"/>
<rect x="911.61" y="76.36" width="4" height="4"/>
<rect x="912.81" y="76.77" width="4" height="4"/>
<rect x="914" y="77.18" width="4" height="4"/>
<rect x="915.19" y="77.6" width="4" height="4"/>
<rect x="916.39" y="78.01" width="4" height="4"/>
<rect x="917.58" y="78.44" width="4" height="4"/>
<rect x="918.78" y="78.86" width="4" height="4"/>
<rect x="919.97" y="79.28" width="4" height="4"/>
<rect x="921.17" y="79.71" width="4" height="4"/>
<rect x="922.36" y="80.14" width="4" height="4"/>
<rect x="923.56" y="80.57" width="4" height="4"/>
<rect x="924.75" y="81.01" width="4" height="4"/>
<rect x="925.94" y="81.45" width="4" height="4"/>
<rect x="927.14" y="81.89" width="4" height="4"/>
<rect x="928.33" y="82.35" width="4" height="4"/>
<rect x="929.53" y="82.81" width="4" height="4"/>
<rect x="930.72" y="83.27" width="4" height="4"/>
<rect x="931.92" y="83.75" width="4" height="4"/>
<rect x="933.11" y="84.23" width="4" height="4"/>
<rect x="934.31" y="84.72" width="4" height="4"/>
<rect x="935.5" y="85.23" width="4" height="4"/>
<rect x="936.69" y="85.78" width="4" height="4"/>
<rect x="937.89" y="86.39" width="4" height="4"/>
<rect x="939.08" y="87.04" width="4" height="4"/>
<rect x="940.28" y="87.68" width="4" height="4"/>
<rect x="941.47" y="88.29" width="4" height="4"/>
<rect x="942.67" y="88.84" width="4" height="4"/>
<rect x="943.86" y="89.34" width="4" height="4"/>
<rect x="945.06" y="89.82" width="4" height="4"/>
<rect x="946.25" y="90.27" width="4" height="4"/>
<rect x="947.44" y="90.66" width="4" height="4"/>
<rect x="948.64" y="90.99" width="4" height="4"/>
<rect x="949.83" y="91.24" width="4" height="4"/>
<rect x="951.03" y="91.4" width="4" height="4"/>
<rect x="952.22" y="91.47" width="4" height="4"/>
<rect x="953.42" y="91.47" width="4" height="4"/>
<rect x="954.61" y="91.42" width="4" height="4"/>
<rect x="955.81" y="91.34" width="4" height="4"/>
<rect x="957" y="91.24" width="4" height="4"/>
<rect x="958.19" y="91.1" width="4" height="4"/>
<rect x="959.39" y="90.91" width="4" height="4"/>
<rect x="960.58" y="90.69" width="4" height="4"/>
<rect x="961.78" y="90.45" width="4" height="4"/>
<rect x="962.97" y="90.21" width="4" height="4"/>
<rect x="964.17" y="89.99" width="4" height="4"/>
<rect x="965.36" y="89.79" width="4" height="4"/>
<rect x="966.56" y="89.6" width="4" height="4"/>
<rect x="967.75" y="89.41" width="4" height="4"/>
<rect x="968.94" y="89.22" width="4" height="4"/>
<rect x="970.14" y="89.03" width="4" height="4"/>
<rect x="971.33" y="88.84" width="4" height="4"/>
</g>
</g>
<line x1="736.8" y1="26.5" x2="736.8" y2="218.25" stroke="#222" stroke-width="1.1" />
<line x1="736.25" y1="217.7" x2="974" y2="217.7" stroke="#222" stroke-width="1.1" />
<line x1="744" y1="217.7" x2="744" y2="221.7" stroke="#222" stroke-width="1" />
<text x="744" y="233.9" font-family="Liberation Serif, serif" font-size="12.7" font-weight="bold" text-anchor="middle" fill="#000" >5</text>
<line x1="779.83" y1="217.7" x2="779.83" y2="221.7" stroke="#222" stroke-width="1" />
<text x="779.83" y="233.9" font-family="Liberation Serif, serif" font-size="12.7" font-weight="bold" text-anchor="middle" fill="#000" >10</text>
<line x1="815.67" y1="217.7" x2="815.67" y2="221.7" stroke="#222" stroke-width="1" />
<text x="815.67" y="233.9" font-family="Liberation Serif, serif" font-size="12.7" font-weight="bold" text-anchor="middle" fill="#000" >15</text>
<line x1="851.5" y1="217.7" x2="851.5" y2="221.7" stroke="#222" stroke-width="1" />
<text x="851.5" y="233.9" font-family="Liberation Serif, serif" font-size="12.7" font-weight="bold" text-anchor="middle" fill="#000" >20</text>
<line x1="887.33" y1="217.7" x2="887.33" y2="221.7" stroke="#222" stroke-width="1" />
<text x="887.33" y="233.9" font-family="Liberation Serif, serif" font-size="12.7" font-weight="bold" text-anchor="middle" fill="#000" >25</text>
<line x1="923.17" y1="217.7" x2="923.17" y2="221.7" stroke="#222" stroke-width="1" />
<text x="923.17" y="233.9" font-family="Liberation Serif, serif" font-size="12.7" font-weight="bold" text-anchor="middle" fill="#000" >30</text>
<line x1="959" y1="217.7" x2="959" y2="221.7" stroke="#222" stroke-width="1" />
<text x="959" y="233.9" font-family="Liberation Serif, serif" font-size="12.7" font-weight="bold" text-anchor="middle" fill="#000" >35</text>
<line x1="761.92" y1="217.7" x2="761.92" y2="219.9" stroke="#222" stroke-width="0.8" />
<line x1="797.75" y1="217.7" x2="797.75" y2="219.9" stroke="#222" stroke-width="0.8" />
<line x1="833.58" y1="217.7" x2="833.58" y2="219.9" stroke="#222" stroke-width="0.8" />
<line x1="869.42" y1="217.7" x2="869.42" y2="219.9" stroke="#222" stroke-width="0.8" />
<line x1="905.25" y1="217.7" x2="905.25" y2="219.9" stroke="#222" stroke-width="0.8" />
<line x1="941.08" y1="217.7" x2="941.08" y2="219.9" stroke="#222" stroke-width="0.8" />
<line x1="732.8" y1="27.4" x2="736.8" y2="27.4" stroke="#222" stroke-width="1" />
<text x="730.3" y="31.8" font-family="Liberation Serif, serif" font-size="13" font-weight="bold" text-anchor="end" fill="#000" >10000</text>
<line x1="732.8" y1="59.12" x2="736.8" y2="59.12" stroke="#222" stroke-width="1" />
<text x="730.3" y="63.52" font-family="Liberation Serif, serif" font-size="13" font-weight="bold" text-anchor="end" fill="#000" >1000</text>
<line x1="732.8" y1="90.84" x2="736.8" y2="90.84" stroke="#222" stroke-width="1" />
<text x="730.3" y="95.24" font-family="Liberation Serif, serif" font-size="13" font-weight="bold" text-anchor="end" fill="#000" >100</text>
<line x1="732.8" y1="122.56" x2="736.8" y2="122.56" stroke="#222" stroke-width="1" />
<text x="730.3" y="126.96" font-family="Liberation Serif, serif" font-size="13" font-weight="bold" text-anchor="end" fill="#000" >10</text>
<line x1="732.8" y1="154.28" x2="736.8" y2="154.28" stroke="#222" stroke-width="1" />
<text x="730.3" y="158.68" font-family="Liberation Serif, serif" font-size="13" font-weight="bold" text-anchor="end" fill="#000" >1</text>
<line x1="732.8" y1="186" x2="736.8" y2="186" stroke="#222" stroke-width="1" />
<text x="730.3" y="190.4" font-family="Liberation Serif, serif" font-size="13" font-weight="bold" text-anchor="end" fill="#000" >0.1</text>
<line x1="732.8" y1="217.72" x2="736.8" y2="217.72" stroke="#222" stroke-width="1" />
<text x="730.3" y="222.12" font-family="Liberation Serif, serif" font-size="13" font-weight="bold" text-anchor="end" fill="#000" >0.01</text>
<line x1="734.8" y1="208.17" x2="736.8" y2="208.17" stroke="#222" stroke-width="0.8" />
<line x1="734.8" y1="202.59" x2="736.8" y2="202.59" stroke="#222" stroke-width="0.8" />
<line x1="734.8" y1="198.62" x2="736.8" y2="198.62" stroke="#222" stroke-width="0.8" />
<line x1="734.8" y1="195.55" x2="736.8" y2="195.55" stroke="#222" stroke-width="0.8" />
<line x1="734.8" y1="193.04" x2="736.8" y2="193.04" stroke="#222" stroke-width="0.8" />
<line x1="734.8" y1="190.91" x2="736.8" y2="190.91" stroke="#222" stroke-width="0.8" />
<line x1="734.8" y1="189.07" x2="736.8" y2="189.07" stroke="#222" stroke-width="0.8" />
<line x1="734.8" y1="187.45" x2="736.8" y2="187.45" stroke="#222" stroke-width="0.8" />
<line x1="734.8" y1="176.45" x2="736.8" y2="176.45" stroke="#222" stroke-width="0.8" />
<line x1="734.8" y1="170.87" x2="736.8" y2="170.87" stroke="#222" stroke-width="0.8" />
<line x1="734.8" y1="166.9" x2="736.8" y2="166.9" stroke="#222" stroke-width="0.8" />
<line x1="734.8" y1="163.83" x2="736.8" y2="163.83" stroke="#222" stroke-width="0.8" />
<line x1="734.8" y1="161.32" x2="736.8" y2="161.32" stroke="#222" stroke-width="0.8" />
<line x1="734.8" y1="159.19" x2="736.8" y2="159.19" stroke="#222" stroke-width="0.8" />
<line x1="734.8" y1="157.35" x2="736.8" y2="157.35" stroke="#222" stroke-width="0.8" />
<line x1="734.8" y1="155.73" x2="736.8" y2="155.73" stroke="#222" stroke-width="0.8" />
<line x1="734.8" y1="144.73" x2="736.8" y2="144.73" stroke="#222" stroke-width="0.8" />
<line x1="734.8" y1="139.15" x2="736.8" y2="139.15" stroke="#222" stroke-width="0.8" />
<line x1="734.8" y1="135.18" x2="736.8" y2="135.18" stroke="#222" stroke-width="0.8" />
<line x1="734.8" y1="132.11" x2="736.8" y2="132.11" stroke="#222" stroke-width="0.8" />
<line x1="734.8" y1="129.6" x2="736.8" y2="129.6" stroke="#222" stroke-width="0.8" />
<line x1="734.8" y1="127.47" x2="736.8" y2="127.47" stroke="#222" stroke-width="0.8" />
<line x1="734.8" y1="125.63" x2="736.8" y2="125.63" stroke="#222" stroke-width="0.8" />
<line x1="734.8" y1="124.01" x2="736.8" y2="124.01" stroke="#222" stroke-width="0.8" />
<line x1="734.8" y1="113.01" x2="736.8" y2="113.01" stroke="#222" stroke-width="0.8" />
<line x1="734.8" y1="107.43" x2="736.8" y2="107.43" stroke="#222" stroke-width="0.8" />
<line x1="734.8" y1="103.46" x2="736.8" y2="103.46" stroke="#222" stroke-width="0.8" />
<line x1="734.8" y1="100.39" x2="736.8" y2="100.39" stroke="#222" stroke-width="0.8" />
<line x1="734.8" y1="97.88" x2="736.8" y2="97.88" stroke="#222" stroke-width="0.8" />
<line x1="734.8" y1="95.75" x2="736.8" y2="95.75" stroke="#222" stroke-width="0.8" />
<line x1="734.8" y1="93.91" x2="736.8" y2="93.91" stroke="#222" stroke-width="0.8" />
<line x1="734.8" y1="92.29" x2="736.8" y2="92.29" stroke="#222" stroke-width="0.8" />
<line x1="734.8" y1="81.29" x2="736.8" y2="81.29" stroke="#222" stroke-width="0.8" />
<line x1="734.8" y1="75.71" x2="736.8" y2="75.71" stroke="#222" stroke-width="0.8" />
<line x1="734.8" y1="71.74" x2="736.8" y2="71.74" stroke="#222" stroke-width="0.8" />
<line x1="734.8" y1="68.67" x2="736.8" y2="68.67" stroke="#222" stroke-width="0.8" />
<line x1="734.8" y1="66.16" x2="736.8" y2="66.16" stroke="#222" stroke-width="0.8" />
<line x1="734.8" y1="64.03" x2="736.8" y2="64.03" stroke="#222" stroke-width="0.8" />
<line x1="734.8" y1="62.19" x2="736.8" y2="62.19" stroke="#222" stroke-width="0.8" />
<line x1="734.8" y1="60.57" x2="736.8" y2="60.57" stroke="#222" stroke-width="0.8" />
<line x1="734.8" y1="49.57" x2="736.8" y2="49.57" stroke="#222" stroke-width="0.8" />
<line x1="734.8" y1="43.99" x2="736.8" y2="43.99" stroke="#222" stroke-width="0.8" />
<line x1="734.8" y1="40.02" x2="736.8" y2="40.02" stroke="#222" stroke-width="0.8" />
<line x1="734.8" y1="36.95" x2="736.8" y2="36.95" stroke="#222" stroke-width="0.8" />
<line x1="734.8" y1="34.44" x2="736.8" y2="34.44" stroke="#222" stroke-width="0.8" />
<line x1="734.8" y1="32.31" x2="736.8" y2="32.31" stroke="#222" stroke-width="0.8" />
<line x1="734.8" y1="30.47" x2="736.8" y2="30.47" stroke="#222" stroke-width="0.8" />
<line x1="734.8" y1="28.85" x2="736.8" y2="28.85" stroke="#222" stroke-width="0.8" />
<text x="855.4" y="250.3" font-family="Liberation Serif, serif" font-size="14.5" font-weight="bold" text-anchor="middle" fill="#000" >Temperature (°C)</text>
<text x="696" y="122" font-family="Liberation Serif, serif" font-size="14.2" font-weight="bold" text-anchor="middle" fill="#000" transform="rotate(-90 696 122)" >Shear moduli G' &amp; G'' (Pa)</text>
<text x="659" y="27.6" font-family="Liberation Serif, serif" font-size="24" font-weight="bold" text-anchor="start" fill="#000" >c</text>
<line x1="824" y1="19.5" x2="845" y2="19.5" stroke="#333" stroke-width="0.8" />
<line x1="852.5" y1="19.5" x2="873.5" y2="19.5" stroke="#333" stroke-width="0.8" />
<g fill="#000" stroke="#000" stroke-width="0.6">
<circle cx="834.5" cy="19.5" r="3.6"/>
</g>
<g fill="#fff" stroke="#000" stroke-width="0.9">
<circle cx="863" cy="19.5" r="3.6"/>
</g>
<text x="882" y="23.5" font-family="Liberation Serif, serif" font-size="12.1" font-weight="bold" text-anchor="start" fill="#000" >Hydrogel Ink</text>
<line x1="824" y1="35.8" x2="845" y2="35.8" stroke="#333" stroke-width="0.8" />
<line x1="852.5" y1="35.8" x2="873.5" y2="35.8" stroke="#333" stroke-width="0.8" />
<g fill="#e8232b" stroke="#e8232b" stroke-width="0.6">
<rect x="831.4" y="32.7" width="6.2" height="6.2"/>
</g>
<g fill="#fff" stroke="#e8232b" stroke-width="0.9">
<rect x="859.9" y="32.7" width="6.2" height="6.2"/>
</g>
<text x="882" y="39.8" font-family="Liberation Serif, serif" font-size="12.1" font-weight="bold" text-anchor="start" fill="#000" >MB Ink</text>
<line x1="824" y1="52.1" x2="845" y2="52.1" stroke="#333" stroke-width="0.8" />
<line x1="852.5" y1="52.1" x2="873.5" y2="52.1" stroke="#333" stroke-width="0.8" />
<g fill="#3a4fa5" stroke="#3a4fa5" stroke-width="0.6">
<path d="M829.5 52.1L834.5 47.11L839.5 52.1L834.5 57.09Z"/>
</g>
<g fill="#fff" stroke="#3a4fa5" stroke-width="0.9">
<path d="M858 52.1L863 47.11L868 52.1L863 57.09Z"/>
</g>
<text x="882" y="56.1" font-family="Liberation Serif, serif" font-size="12.1" font-weight="bold" text-anchor="start" fill="#000" >JM Ink</text>
<polyline fill="none" stroke="#e8232b" stroke-width="0.7" points="75.79,299.71 75.88,302.66 76.12,317.41 76.36,335.1 76.84,349.35 77.31,360.86 77.79,370.98 78.17,376.04 78.46,379.63 78.77,383.1 79.1,386.46 79.43,389.71 79.79,392.85 80.15,395.89 80.54,398.82 80.94,401.66 81.36,404.41 81.8,407.07 82.26,409.64 82.74,412.13 83.24,414.54 83.77,417.61 84.31,421.25 84.88,424.69 85.48,427.96 86.11,431.04 86.76,433.96 87.44,436.73 88.15,439.34 88.9,441.82 89.68,444.16 90.49,446.38 91.34,448.48 92.23,450.46 93.16,452.34 94.13,454.12 95.14,455.81 96.2,457.48 97.31,459.08 98.47,460.59 99.68,462.01 100.94,463.35 102.26,464.62 103.64,465.81 105.08,466.94 106.59,468 108.16,469 109.81,469.94 111.53,470.83 113.32,471.67 115.2,472.46 117.16,473.2 119.21,473.9 121.35,474.43 123.59,474.93 125.93,475.4 128.31,475.85 130.69,476.26 133.07,476.63 135.45,476.98 137.83,477.3 140.21,477.6 142.59,477.88 144.97,478.14 147.35,478.38 149.73,478.61 152.11,478.82 154.49,479.02 156.87,479.21 159.25,479.39 161.63,479.56 164.01,479.72 166.39,479.87 168.77,480 171.15,480.11 173.53,480.22 175.91,480.33 178.29,480.43 180.67,480.52 183.05,480.62 185.43,480.71 187.81,480.79 190.19,480.88 192.57,480.95 194.95,481.03 197.33,481.11 199.71,481.18 202.09,481.25 204.47,481.31 206.85,481.38 209.23,481.44 211.61,481.5 213.99,481.56 216.37,481.62 218.75,481.68 221.13,481.73 223.51,481.79 225.89,481.84 228.27,481.89 230.65,481.94 233.03,481.99 235.41,482.03 237.79,482.08 240.17,482.12 242.55,482.17 244.93,482.21 247.31,482.25 249.69,482.29 252.07,482.33 254.45,482.37 256.83,482.41 259.21,482.44 261.59,482.48 263.97,482.51 266.35,482.54 268.73,482.58 271.11,482.61 273.49,482.64 275.87,482.67 278.25,482.7 280.63,482.73 283.01,482.76 285.39,482.79 287.77,482.82 290.15,482.84 292.53,482.87 294.91,482.89 297.29,482.92 299.67,482.94 302.05,482.97 304.43,482.99 306.81,483.02 309.19,483.04" />
<g fill="#fff" stroke="#e8232b" stroke-width="0.7">
<rect x="74.04" y="297.96" width="3.5" height="3.5"/>
<rect x="74.13" y="300.91" width="3.5" height="3.5"/>
<rect x="74.37" y="315.66" width="3.5" height="3.5"/>
<rect x="74.61" y="333.35" width="3.5" height="3.5"/>
<rect x="75.09" y="347.6" width="3.5" height="3.5"/>
<rect x="75.56" y="359.11" width="3.5" height="3.5"/>
<rect x="76.04" y="369.23" width="3.5" height="3.5"/>
<rect x="76.42" y="374.29" width="3.5" height="3.5"/>
<rect x="76.71" y="377.88" width="3.5" height="3.5"/>
<rect x="77.02" y="381.35" width="3.5" height="3.5"/>
<rect x="77.35" y="384.71" width="3.5" height="3.5"/>
<rect x="77.68" y="387.96" width="3.5" height="3.5"/>
<rect x="78.04" y="391.1" width="3.5" height="3.5"/>
<rect x="78.4" y="394.14" width="3.5" height="3.5"/>
<rect x="78.79" y="397.07" width="3.5" height="3.5"/>
<rect x="79.19" y="399.91" width="3.5" height="3.5"/>
<rect x="79.61" y="402.66" width="3.5" height="3.5"/>
<rect x="80.05" y="405.32" width="3.5" height="3.5"/>
<rect x="80.51" y="407.89" width="3.5" height="3.5"/>
<rect x="80.99" y="410.38" width="3.5" height="3.5"/>
<rect x="81.49" y="412.79" width="3.5" height="3.5"/>
<rect x="82.02" y="415.86" width="3.5" height="3.5"/>
<rect x="82.56" y="419.5" width="3.5" height="3.5"/>
<rect x="83.13" y="422.94" width="3.5" height="3.5"/>
<rect x="83.73" y="426.21" width="3.5" height="3.5"/>
<rect x="84.36" y="429.29" width="3.5" height="3.5"/>
<rect x="85.01" y="432.21" width="3.5" height="3.5"/>
<rect x="85.69" y="434.98" width="3.5" height="3.5"/>
<rect x="86.4" y="437.59" width="3.5" height="3.5"/>
<rect x="87.15" y="440.07" width="3.5" height="3.5"/>
<rect x="87.93" y="442.41" width="3.5" height="3.5"/>
<rect x="88.74" y="444.63" width="3.5" height="3.5"/>
<rect x="89.59" y="446.73" width="3.5" height="3.5"/>
<rect x="90.48" y="448.71" width="3.5" height="3.5"/>
<rect x="91.41" y="450.59" width="3.5" height="3.5"/>
<rect x="92.38" y="452.37" width="3.5" height="3.5"/>
<rect x="93.39" y="454.06" width="3.5" height="3.5"/>
<rect x="94.45" y="455.73" width="3.5" height="3.5"/>
<rect x="95.56" y="457.33" width="3.5" height="3.5"/>
<rect x="96.72" y="458.84" width="3.5" height="3.5"/>
<rect x="97.93" y="460.26" width="3.5" height="3.5"/>
<rect x="99.19" y="461.6" width="3.5" height="3.5"/>
<rect x="100.51" y="462.87" width="3.5" height="3.5"/>
<rect x="101.89" y="464.06" width="3.5" height="3.5"/>
<rect x="103.33" y="465.19" width="3.5" height="3.5"/>
<rect x="104.84" y="466.25" width="3.5" height="3.5"/>
<rect x="106.41" y="467.25" width="3.5" height="3.5"/>
<rect x="108.06" y="468.19" width="3.5" height="3.5"/>
<rect x="109.78" y="469.08" width="3.5" height="3.5"/>
<rect x="111.57" y="469.92" width="3.5" height="3.5"/>
<rect x="113.45" y="470.71" width="3.5" height="3.5"/>
<rect x="115.41" y="471.45" width="3.5" height="3.5"/>
<rect x="117.46" y="472.15" width="3.5" height="3.5"/>
<rect x="119.6" y="472.68" width="3.5" height="3.5"/>
<rect x="121.84" y="473.18" width="3.5" height="3.5"/>
<rect x="124.18" y="473.65" width="3.5" height="3.5"/>
<rect x="126.56" y="474.1" width="3.5" height="3.5"/>
<rect x="128.94" y="474.51" width="3.5" height="3.5"/>
<rect x="131.32" y="474.88" width="3.5" height="3.5"/>
<rect x="133.7" y="475.23" width="3.5" height="3.5"/>
<rect x="136.08" y="475.55" width="3.5" height="3.5"/>
<rect x="138.46" y="475.85" width="3.5" height="3.5"/>
<rect x="140.84" y="476.13" width="3.5" height="3.5"/>
<rect x="143.22" y="476.39" width="3.5" height="3.5"/>
<rect x="145.6" y="476.63" width="3.5" height="3.5"/>
<rect x="147.98" y="476.86" width="3.5" height="3.5"/>
<rect x="150.36" y="477.07" width="3.5" height="3.5"/>
<rect x="152.74" y="477.27" width="3.5" height="3.5"/>
<rect x="155.12" y="477.46" width="3.5" height="3.5"/>
<rect x="157.5" y="477.64" width="3.5" height="3.5"/>
<rect x="159.88" y="477.81" width="3.5" height="3.5"/>
<rect x="162.26" y="477.97" width="3.5" height="3.5"/>
<rect x="164.64" y="478.12" width="3.5" height="3.5"/>
<rect x="167.02" y="478.25" width="3.5" height="3.5"/>
<rect x="169.4" y="478.36" width="3.5" height="3.5"/>
<rect x="171.78" y="478.47" width="3.5" height="3.5"/>
<rect x="174.16" y="478.58" width="3.5" height="3.5"/>
<rect x="176.54" y="478.68" width="3.5" height="3.5"/>
<rect x="178.92" y="478.77" width="3.5" height="3.5"/>
<rect x="181.3" y="478.87" width="3.5" height="3.5"/>
<rect x="183.68" y="478.96" width="3.5" height="3.5"/>
<rect x="186.06" y="479.04" width="3.5" height="3.5"/>
<rect x="188.44" y="479.13" width="3.5" height="3.5"/>
<rect x="190.82" y="479.2" width="3.5" height="3.5"/>
<rect x="193.2" y="479.28" width="3.5" height="3.5"/>
<rect x="195.58" y="479.36" width="3.5" height="3.5"/>
<rect x="197.96" y="479.43" width="3.5" height="3.5"/>
<rect x="200.34" y="479.5" width="3.5" height="3.5"/>
<rect x="202.72" y="479.56" width="3.5" height="3.5"/>
<rect x="205.1" y="479.63" width="3.5" height="3.5"/>
<rect x="207.48" y="479.69" width="3.5" height="3.5"/>
<rect x="209.86" y="479.75" width="3.5" height="3.5"/>
<rect x="212.24" y="479.81" width="3.5" height="3.5"/>
<rect x="214.62" y="479.87" width="3.5" height="3.5"/>
<rect x="217" y="479.93" width="3.5" height="3.5"/>
<rect x="219.38" y="479.98" width="3.5" height="3.5"/>
<rect x="221.76" y="480.04" width="3.5" height="3.5"/>
<rect x="224.14" y="480.09" width="3.5" height="3.5"/>
<rect x="226.52" y="480.14" width="3.5" height="3.5"/>
<rect x="228.9" y="480.19" width="3.5" height="3.5"/>
<rect x="231.28" y="480.24" width="3.5" height="3.5"/>
<rect x="233.66" y="480.28" width="3.5" height="3.5"/>
<rect x="236.04" y="480.33" width="3.5" height="3.5"/>
<rect x="238.42" y="480.37" width="3.5" height="3.5"/>
<rect x="240.8" y="480.42" width="3.5" height="3.5"/>
<rect x="243.18" y="480.46" width="3.5" height="3.5"/>
<rect x="245.56" y="480.5" width="3.5" height="3.5"/>
<rect x="247.94" y="480.54" width="3.5" height="3.5"/>
<rect x="250.32" y="480.58" width="3.5" height="3.5"/>
<rect x="252.7" y="480.62" width="3.5" height="3.5"/>
<rect x="255.08" y="480.66" width="3.5" height="3.5"/>
<rect x="257.46" y="480.69" width="3.5" height="3.5"/>
<rect x="259.84" y="480.73" width="3.5" height="3.5"/>
<rect x="262.22" y="480.76" width="3.5" height="3.5"/>
<rect x="264.6" y="480.79" width="3.5" height="3.5"/>
<rect x="266.98" y="480.83" width="3.5" height="3.5"/>
<rect x="269.36" y="480.86" width="3.5" height="3.5"/>
<rect x="271.74" y="480.89" width="3.5" height="3.5"/>
<rect x="274.12" y="480.92" width="3.5" height="3.5"/>
<rect x="276.5" y="480.95" width="3.5" height="3.5"/>
<rect x="278.88" y="480.98" width="3.5" height="3.5"/>
<rect x="281.26" y="481.01" width="3.5" height="3.5"/>
<rect x="283.64" y="481.04" width="3.5" height="3.5"/>
<rect x="286.02" y="481.07" width="3.5" height="3.5"/>
<rect x="288.4" y="481.09" width="3.5" height="3.5"/>
<rect x="290.78" y="481.12" width="3.5" height="3.5"/>
<rect x="293.16" y="481.14" width="3.5" height="3.5"/>
<rect x="295.54" y="481.17" width="3.5" height="3.5"/>
<rect x="297.92" y="481.19" width="3.5" height="3.5"/>
<rect x="300.3" y="481.22" width="3.5" height="3.5"/>
<rect x="302.68" y="481.24" width="3.5" height="3.5"/>
<rect x="305.06" y="481.27" width="3.5" height="3.5"/>
<rect x="307.44" y="481.29" width="3.5" height="3.5"/>
</g>
<polyline fill="none" stroke="#333" stroke-width="0.7" points="75.79,376.78 78.12,407.06 81.02,430.16 83.02,445.2 85.4,454.73 88.26,462.01 91.12,467.22 93.97,470.66 96.83,472.79 99.68,474.43 102.54,475.73 105.4,476.78 108.25,477.65 111.11,478.37 113.96,478.99 116.82,479.51 119.68,479.95 122.53,480.24 125.39,480.5 128.24,480.73 131.1,480.94 133.96,481.14 136.81,481.31 139.67,481.48 142.52,481.63 145.38,481.77 148.24,481.89 151.09,482.02 153.95,482.13 156.8,482.23 159.66,482.33 162.52,482.42 165.37,482.51 168.23,482.58 171.08,482.65 173.94,482.71 176.8,482.77 179.65,482.82 182.51,482.88 185.36,482.93 188.22,482.98 191.08,483.02 193.93,483.07 196.79,483.11 199.64,483.15 202.5,483.19 205.36,483.23 208.21,483.26 211.07,483.3 213.92,483.33 216.78,483.37 219.64,483.41 222.49,483.44 225.35,483.47 228.2,483.51 231.06,483.54 233.92,483.57 236.77,483.6 239.63,483.63 242.48,483.66 245.34,483.68 248.2,483.71 251.05,483.73 253.91,483.76 256.76,483.78 259.62,483.8 262.48,483.83 265.33,483.85 268.19,483.87 271.04,483.89 273.9,483.91 276.76,483.93 279.61,483.95 282.47,483.97 285.32,483.99 288.18,484 291.04,484.02 293.89,484.04 296.75,484.05 299.6,484.07 302.46,484.09 305.32,484.1 308.17,484.12" />
<g fill="#fff" stroke="#222" stroke-width="0.7">
<circle cx="75.79" cy="376.78" r="1.9"/>
<circle cx="78.12" cy="407.06" r="1.9"/>
<circle cx="81.02" cy="430.16" r="1.9"/>
<circle cx="83.02" cy="445.2" r="1.9"/>
<circle cx="85.4" cy="454.73" r="1.9"/>
<circle cx="88.26" cy="462.01" r="1.9"/>
<circle cx="91.12" cy="467.22" r="1.9"/>
<circle cx="93.97" cy="470.66" r="1.9"/>
<circle cx="96.83" cy="472.79" r="1.9"/>
<circle cx="99.68" cy="474.43" r="1.9"/>
<circle cx="102.54" cy="475.73" r="1.9"/>
<circle cx="105.4" cy="476.78" r="1.9"/>
<circle cx="108.25" cy="477.65" r="1.9"/>
<circle cx="111.11" cy="478.37" r="1.9"/>
<circle cx="113.96" cy="478.99" r="1.9"/>
<circle cx="116.82" cy="479.51" r="1.9"/>
<circle cx="119.68" cy="479.95" r="1.9"/>
<circle cx="122.53" cy="480.24" r="1.9"/>
<circle cx="125.39" cy="480.5" r="1.9"/>
<circle cx="128.24" cy="480.73" r="1.9"/>
<circle cx="131.1" cy="480.94" r="1.9"/>
<circle cx="133.96" cy="481.14" r="1.9"/>
<circle cx="136.81" cy="481.31" r="1.9"/>
<circle cx="139.67" cy="481.48" r="1.9"/>
<circle cx="142.52" cy="481.63" r="1.9"/>
<circle cx="145.38" cy="481.77" r="1.9"/>
<circle cx="148.24" cy="481.89" r="1.9"/>
<circle cx="151.09" cy="482.02" r="1.9"/>
<circle cx="153.95" cy="482.13" r="1.9"/>
<circle cx="156.8" cy="482.23" r="1.9"/>
<circle cx="159.66" cy="482.33" r="1.9"/>
<circle cx="162.52" cy="482.42" r="1.9"/>
<circle cx="165.37" cy="482.51" r="1.9"/>
<circle cx="168.23" cy="482.58" r="1.9"/>
<circle cx="171.08" cy="482.65" r="1.9"/>
<circle cx="173.94" cy="482.71" r="1.9"/>
<circle cx="176.8" cy="482.77" r="1.9"/>
<circle cx="179.65" cy="482.82" r="1.9"/>
<circle cx="182.51" cy="482.88" r="1.9"/>
<circle cx="185.36" cy="482.93" r="1.9"/>
<circle cx="188.22" cy="482.98" r="1.9"/>
<circle cx="191.08" cy="483.02" r="1.9"/>
<circle cx="193.93" cy="483.07" r="1.9"/>
<circle cx="196.79" cy="483.11" r="1.9"/>
<circle cx="199.64" cy="483.15" r="1.9"/>
<circle cx="202.5" cy="483.19" r="1.9"/>
<circle cx="205.36" cy="483.23" r="1.9"/>
<circle cx="208.21" cy="483.26" r="1.9"/>
<circle cx="211.07" cy="483.3" r="1.9"/>
<circle cx="213.92" cy="483.33" r="1.9"/>
<circle cx="216.78" cy="483.37" r="1.9"/>
<circle cx="219.64" cy="483.41" r="1.9"/>
<circle cx="222.49" cy="483.44" r="1.9"/>
<circle cx="225.35" cy="483.47" r="1.9"/>
<circle cx="228.2" cy="483.51" r="1.9"/>
<circle cx="231.06" cy="483.54" r="1.9"/>
<circle cx="233.92" cy="483.57" r="1.9"/>
<circle cx="236.77" cy="483.6" r="1.9"/>
<circle cx="239.63" cy="483.63" r="1.9"/>
<circle cx="242.48" cy="483.66" r="1.9"/>
<circle cx="245.34" cy="483.68" r="1.9"/>
<circle cx="248.2" cy="483.71" r="1.9"/>
<circle cx="251.05" cy="483.73" r="1.9"/>
<circle cx="253.91" cy="483.76" r="1.9"/>
<circle cx="256.76" cy="483.78" r="1.9"/>
<circle cx="259.62" cy="483.8" r="1.9"/>
<circle cx="262.48" cy="483.83" r="1.9"/>
<circle cx="265.33" cy="483.85" r="1.9"/>
<circle cx="268.19" cy="483.87" r="1.9"/>
<circle cx="271.04" cy="483.89" r="1.9"/>
<circle cx="273.9" cy="483.91" r="1.9"/>
<circle cx="276.76" cy="483.93" r="1.9"/>
<circle cx="279.61" cy="483.95" r="1.9"/>
<circle cx="282.47" cy="483.97" r="1.9"/>
<circle cx="285.32" cy="483.99" r="1.9"/>
<circle cx="288.18" cy="484" r="1.9"/>
<circle cx="291.04" cy="484.02" r="1.9"/>
<circle cx="293.89" cy="484.04" r="1.9"/>
<circle cx="296.75" cy="484.05" r="1.9"/>
<circle cx="299.6" cy="484.07" r="1.9"/>
<circle cx="302.46" cy="484.09" r="1.9"/>
<circle cx="305.32" cy="484.1" r="1.9"/>
<circle cx="308.17" cy="484.12" r="1.9"/>
</g>
<polyline fill="none" stroke="#333" stroke-width="0.7" points="78.69,329.2 83.43,400.95 88.16,427.71 92.9,443.42 97.64,453.13 102.37,460.33 107.11,464.54 111.85,467.68 116.58,469.68 121.32,471.06 126.05,472.59 130.79,473.51 135.53,474.24 140.26,474.87 145,475.43 149.74,475.93 154.47,476.37 159.21,476.77 163.94,477.14 168.68,477.49 173.42,477.83 178.15,478.15 182.89,478.44 187.62,478.71 192.36,478.96 197.1,479.18 201.83,479.4 206.57,479.6 211.31,479.78 216.04,479.96 220.78,480.13 225.51,480.28 230.25,480.43 234.99,480.57 239.72,480.71 244.46,480.83 249.2,480.95 253.93,481.06 258.67,481.17 263.4,481.27 268.14,481.37 272.88,481.46 277.61,481.55 282.35,481.64 287.09,481.72 291.82,481.79 296.56,481.87 301.29,481.94 306.03,482.01 310.77,482.06" />
<g fill="#fff" stroke="#3a4fa5" stroke-width="0.7">
<path d="M76.13 329.2L78.69 326.64L81.26 329.2L78.69 331.77Z"/>
<path d="M80.86 400.95L83.43 398.39L85.99 400.95L83.43 403.52Z"/>
<path d="M85.6 427.71L88.16 425.14L90.73 427.71L88.16 430.27Z"/>
<path d="M90.34 443.42L92.9 440.85L95.47 443.42L92.9 445.98Z"/>
<path d="M95.07 453.13L97.64 450.56L100.2 453.13L97.64 455.69Z"/>
<path d="M99.81 460.33L102.37 457.76L104.94 460.33L102.37 462.89Z"/>
<path d="M104.54 464.54L107.11 461.98L109.67 464.54L107.11 467.11Z"/>
<path d="M109.28 467.68L111.85 465.12L114.41 467.68L111.85 470.25Z"/>
<path d="M114.02 469.68L116.58 467.12L119.15 469.68L116.58 472.25Z"/>
<path d="M118.75 471.06L121.32 468.49L123.88 471.06L121.32 473.62Z"/>
<path d="M123.49 472.59L126.05 470.02L128.62 472.59L126.05 475.15Z"/>
<path d="M128.23 473.51L130.79 470.95L133.36 473.51L130.79 476.08Z"/>
<path d="M132.96 474.24L135.53 471.67L138.09 474.24L135.53 476.8Z"/>
<path d="M137.7 474.87L140.26 472.31L142.83 474.87L140.26 477.44Z"/>
<path d="M142.43 475.43L145 472.86L147.56 475.43L145 477.99Z"/>
<path d="M147.17 475.93L149.74 473.36L152.3 475.93L149.74 478.49Z"/>
<path d="M151.91 476.37L154.47 473.81L157.04 476.37L154.47 478.94Z"/>
<path d="M156.64 476.77L159.21 474.21L161.77 476.77L159.21 479.34Z"/>
<path d="M161.38 477.14L163.94 474.57L166.51 477.14L163.94 479.7Z"/>
<path d="M166.12 477.49L168.68 474.92L171.25 477.49L168.68 480.05Z"/>
<path d="M170.85 477.83L173.42 475.27L175.98 477.83L173.42 480.4Z"/>
<path d="M175.59 478.15L178.15 475.59L180.72 478.15L178.15 480.72Z"/>
<path d="M180.32 478.44L182.89 475.88L185.45 478.44L182.89 481.01Z"/>
<path d="M185.06 478.71L187.62 476.14L190.19 478.71L187.62 481.27Z"/>
<path d="M189.8 478.96L192.36 476.39L194.93 478.96L192.36 481.52Z"/>
<path d="M194.53 479.18L197.1 476.62L199.66 479.18L197.1 481.75Z"/>
<path d="M199.27 479.4L201.83 476.83L204.4 479.4L201.83 481.96Z"/>
<path d="M204 479.6L206.57 477.03L209.13 479.6L206.57 482.16Z"/>
<path d="M208.74 479.78L211.31 477.22L213.87 479.78L211.31 482.35Z"/>
<path d="M213.48 479.96L216.04 477.39L218.61 479.96L216.04 482.52Z"/>
<path d="M218.21 480.13L220.78 477.56L223.34 480.13L220.78 482.69Z"/>
<path d="M222.95 480.28L225.51 477.72L228.08 480.28L225.51 482.85Z"/>
<path d="M227.69 480.43L230.25 477.87L232.82 480.43L230.25 483Z"/>
<path d="M232.42 480.57L234.99 478.01L237.55 480.57L234.99 483.14Z"/>
<path d="M237.16 480.71L239.72 478.14L242.29 480.71L239.72 483.27Z"/>
<path d="M241.89 480.83L244.46 478.27L247.02 480.83L244.46 483.4Z"/>
<path d="M246.63 480.95L249.2 478.39L251.76 480.95L249.2 483.52Z"/>
<path d="M251.37 481.06L253.93 478.5L256.5 481.06L253.93 483.63Z"/>
<path d="M256.1 481.17L258.67 478.61L261.23 481.17L258.67 483.74Z"/>
<path d="M260.84 481.27L263.4 478.71L265.97 481.27L263.4 483.84Z"/>
<path d="M265.58 481.37L268.14 478.8L270.71 481.37L268.14 483.93Z"/>
<path d="M270.31 481.46L272.88 478.9L275.44 481.46L272.88 484.03Z"/>
<path d="M275.05 481.55L277.61 478.99L280.18 481.55L277.61 484.12Z"/>
<path d="M279.78 481.64L282.35 479.07L284.91 481.64L282.35 484.2Z"/>
<path d="M284.52 481.72L287.09 479.15L289.65 481.72L287.09 484.28Z"/>
<path d="M289.26 481.79L291.82 479.23L294.39 481.79L291.82 484.36Z"/>
<path d="M293.99 481.87L296.56 479.3L299.12 481.87L296.56 484.43Z"/>
<path d="M298.73 481.94L301.29 479.38L303.86 481.94L301.29 484.51Z"/>
<path d="M303.47 482.01L306.03 479.44L308.6 482.01L306.03 484.57Z"/>
<path d="M308.2 482.06L310.77 479.49L313.33 482.06L310.77 484.62Z"/>
</g>
<line x1="66.9" y1="287.9" x2="66.9" y2="488.15" stroke="#222" stroke-width="1.1" />
<line x1="66.35" y1="487.6" x2="310.5" y2="487.6" stroke="#222" stroke-width="1.1" />
<line x1="71.6" y1="487.6" x2="71.6" y2="491.6" stroke="#222" stroke-width="1" />
<text x="71.6" y="504.2" font-family="Liberation Serif, serif" font-size="13.2" font-weight="bold" text-anchor="middle" fill="#000" >0</text>
<line x1="119.2" y1="487.6" x2="119.2" y2="491.6" stroke="#222" stroke-width="1" />
<text x="119.2" y="504.2" font-family="Liberation Serif, serif" font-size="13.2" font-weight="bold" text-anchor="middle" fill="#000" >10</text>
<line x1="166.8" y1="487.6" x2="166.8" y2="491.6" stroke="#222" stroke-width="1" />
<text x="166.8" y="504.2" font-family="Liberation Serif, serif" font-size="13.2" font-weight="bold" text-anchor="middle" fill="#000" >20</text>
<line x1="214.4" y1="487.6" x2="214.4" y2="491.6" stroke="#222" stroke-width="1" />
<text x="214.4" y="504.2" font-family="Liberation Serif, serif" font-size="13.2" font-weight="bold" text-anchor="middle" fill="#000" >30</text>
<line x1="262" y1="487.6" x2="262" y2="491.6" stroke="#222" stroke-width="1" />
<text x="262" y="504.2" font-family="Liberation Serif, serif" font-size="13.2" font-weight="bold" text-anchor="middle" fill="#000" >40</text>
<line x1="309.6" y1="487.6" x2="309.6" y2="491.6" stroke="#222" stroke-width="1" />
<text x="309.6" y="504.2" font-family="Liberation Serif, serif" font-size="13.2" font-weight="bold" text-anchor="middle" fill="#000" >50</text>
<line x1="95.4" y1="487.6" x2="95.4" y2="489.8" stroke="#222" stroke-width="0.8" />
<line x1="143" y1="487.6" x2="143" y2="489.8" stroke="#222" stroke-width="0.8" />
<line x1="190.6" y1="487.6" x2="190.6" y2="489.8" stroke="#222" stroke-width="0.8" />
<line x1="238.2" y1="487.6" x2="238.2" y2="489.8" stroke="#222" stroke-width="0.8" />
<line x1="285.8" y1="487.6" x2="285.8" y2="489.8" stroke="#222" stroke-width="0.8" />
<line x1="62.9" y1="485.5" x2="66.9" y2="485.5" stroke="#222" stroke-width="1" />
<text x="59.9" y="490.1" font-family="Liberation Serif, serif" font-size="13.8" font-weight="bold" text-anchor="end" fill="#000" >0</text>
<line x1="62.9" y1="436.35" x2="66.9" y2="436.35" stroke="#222" stroke-width="1" />
<text x="59.9" y="440.95" font-family="Liberation Serif, serif" font-size="13.8" font-weight="bold" text-anchor="end" fill="#000" >50</text>
<line x1="62.9" y1="387.2" x2="66.9" y2="387.2" stroke="#222" stroke-width="1" />
<text x="59.9" y="391.8" font-family="Liberation Serif, serif" font-size="13.8" font-weight="bold" text-anchor="end" fill="#000" >100</text>
<line x1="62.9" y1="338.05" x2="66.9" y2="338.05" stroke="#222" stroke-width="1" />
<text x="59.9" y="342.65" font-family="Liberation Serif, serif" font-size="13.8" font-weight="bold" text-anchor="end" fill="#000" >150</text>
<line x1="62.9" y1="288.9" x2="66.9" y2="288.9" stroke="#222" stroke-width="1" />
<text x="59.9" y="293.5" font-family="Liberation Serif, serif" font-size="13.8" font-weight="bold" text-anchor="end" fill="#000" >200</text>
<line x1="64.7" y1="460.93" x2="66.9" y2="460.93" stroke="#222" stroke-width="0.8" />
<line x1="64.7" y1="411.77" x2="66.9" y2="411.77" stroke="#222" stroke-width="0.8" />
<line x1="64.7" y1="362.62" x2="66.9" y2="362.62" stroke="#222" stroke-width="0.8" />
<line x1="64.7" y1="313.48" x2="66.9" y2="313.48" stroke="#222" stroke-width="0.8" />
<text x="188.4" y="520.6" font-family="Liberation Serif, serif" font-size="14.9" font-weight="bold" text-anchor="middle" fill="#000" >Shear Rate ([/s])</text>
<text x="34" y="388" font-family="Liberation Serif, serif" font-size="15" font-weight="bold" text-anchor="middle" fill="#000" transform="rotate(-90 34 388)" >Viscosity (Pa·s)</text>
<text x="12.6" y="298.5" font-family="Liberation Serif, serif" font-size="24" font-weight="bold" text-anchor="start" fill="#000" >d</text>
<defs><linearGradient id="bgm1" x1="0" y1="0" x2="1" y2="1"><stop offset="0" stop-color="#3a7a1c"/><stop offset="0.12" stop-color="#62cc34"/><stop offset="0.5" stop-color="#86e23c"/><stop offset="1" stop-color="#c0e628"/></linearGradient>
<linearGradient id="bdm1" gradientUnits="userSpaceOnUse" x1="89" y1="304" x2="162.2" y2="377"><stop offset="0" stop-color="#50120e"/><stop offset="0.5" stop-color="#72191a"/><stop offset="0.75" stop-color="#9a2018"/><stop offset="1" stop-color="#ea3420"/></linearGradient>
<radialGradient id="dkm1" gradientUnits="userSpaceOnUse" cx="89" cy="304" r="26.35"><stop offset="0" stop-color="#200" stop-opacity="0.5"/><stop offset="1" stop-color="#200" stop-opacity="0"/></radialGradient>
<clipPath id="clm1"><rect x="89" y="304" width="73.2" height="73"/></clipPath><filter id="blm1" x="-5%" y="-5%" width="110%" height="110%"><feGaussianBlur stdDeviation="0.45"/></filter></defs>
<g clip-path="url(#clm1)"><rect x="89" y="304" width="73.2" height="73" fill="url(#bgm1)"/>
<g filter="url(#blm1)" fill="url(#bdm1)" stroke="#26300a" stroke-width="0.9" stroke-opacity="0.75">
<circle cx="92.24" cy="307.72" r="5.9"/>
<circle cx="104.37" cy="308.53" r="5.9"/>
<circle cx="118.13" cy="310.96" r="5.9"/>
<circle cx="131.07" cy="309.34" r="5.9"/>
<circle cx="144.02" cy="311.77" r="5.9"/>
<circle cx="157.77" cy="308.53" r="5.9"/>
<circle cx="88.19" cy="319.05" r="5.9"/>
<circle cx="100.33" cy="320.67" r="5.9"/>
<circle cx="119.74" cy="324.71" r="5.9"/>
<circle cx="136.73" cy="326.33" r="5.9" opacity="0.35"/>
<circle cx="153.72" cy="319.86" r="5.9"/>
<circle cx="93.85" cy="331.18" r="5.9"/>
<circle cx="106.8" cy="329.57" r="5.9"/>
<circle cx="125.41" cy="335.23" r="5.9"/>
<circle cx="138.35" cy="339.28" r="5.9"/>
<circle cx="148.87" cy="331.18" r="5.9" opacity="0.8"/>
<circle cx="161.01" cy="329.57" r="5.9"/>
<circle cx="89" cy="343.32" r="5.9"/>
<circle cx="100.33" cy="341.7" r="5.9" opacity="0.5"/>
<circle cx="113.27" cy="340.89" r="5.9"/>
<circle cx="122.98" cy="347.37" r="5.9"/>
<circle cx="135.12" cy="352.22" r="5.9"/>
<circle cx="148.06" cy="347.37" r="5.9"/>
<circle cx="159.39" cy="351.41" r="5.9"/>
<circle cx="93.85" cy="353.84" r="5.9"/>
<circle cx="107.61" cy="352.22" r="5.9"/>
<circle cx="118.13" cy="359.5" r="5.9"/>
<circle cx="103.56" cy="363.55" r="5.9"/>
<circle cx="147.25" cy="360.31" r="5.9"/>
<circle cx="135.12" cy="365.97" r="5.9"/>
<circle cx="123.79" cy="370.83" r="5.9"/>
<circle cx="153.72" cy="370.02" r="5.9"/>
<circle cx="92.24" cy="369.21" r="5.9" opacity="0.4"/>
<circle cx="103.56" cy="376.49" r="5.9"/>
<circle cx="139.97" cy="377.3" r="5.9"/>
<circle cx="162.62" cy="364.36" r="5.9"/>
<circle cx="114.08" cy="371.64" r="5.9" opacity="0.3"/>
<circle cx="89.81" cy="378.92" r="5.9"/>
</g>
<rect x="89" y="304" width="73.2" height="73" fill="url(#dkm1)"/></g>
<defs><linearGradient id="bgm2" x1="0" y1="0" x2="1" y2="1"><stop offset="0" stop-color="#1c3808"/><stop offset="0.3" stop-color="#469a20"/><stop offset="0.6" stop-color="#68c82e"/><stop offset="1" stop-color="#a8e026"/></linearGradient>
<linearGradient id="bdm2" gradientUnits="userSpaceOnUse" x1="165.7" y1="304" x2="238.8" y2="377"><stop offset="0" stop-color="#3e0e0c"/><stop offset="0.5" stop-color="#6a1614"/><stop offset="0.75" stop-color="#8e1c16"/><stop offset="1" stop-color="#e02e1e"/></linearGradient>
<radialGradient id="dkm2" gradientUnits="userSpaceOnUse" cx="165.7" cy="304" r="40.2"><stop offset="0" stop-color="#200" stop-opacity="0.7"/><stop offset="1" stop-color="#200" stop-opacity="0"/></radialGradient>
<clipPath id="clm2"><rect x="165.7" y="304" width="73.1" height="73"/></clipPath><filter id="blm2" x="-5%" y="-5%" width="110%" height="110%"><feGaussianBlur stdDeviation="0.45"/></filter></defs>
<g clip-path="url(#clm2)"><rect x="165.7" y="304" width="73.1" height="73" fill="url(#bgm2)"/>
<g filter="url(#blm2)" fill="url(#bdm2)" stroke="#202808" stroke-width="0.9" stroke-opacity="0.75">
<circle cx="170.55" cy="309.34" r="6.2"/>
<circle cx="181.88" cy="307.72" r="6.2"/>
<circle cx="194.02" cy="310.96" r="6.2"/>
<circle cx="206.96" cy="308.53" r="6.2"/>
<circle cx="219.91" cy="310.96" r="6.2"/>
<circle cx="232.85" cy="309.34" r="6.2"/>
<circle cx="164.89" cy="320.67" r="6.2"/>
<circle cx="176.22" cy="319.86" r="6.2"/>
<circle cx="194.83" cy="324.71" r="6.2"/>
<circle cx="211.01" cy="319.05" r="6.2" opacity="0.7"/>
<circle cx="213.43" cy="327.95" r="6.2" opacity="0.7"/>
<circle cx="229.62" cy="320.67" r="6.2"/>
<circle cx="238.52" cy="330.38" r="6.2"/>
<circle cx="169.75" cy="331.99" r="6.2"/>
<circle cx="183.5" cy="329.57" r="6.2"/>
<circle cx="201.3" cy="334.42" r="6.2"/>
<circle cx="215.05" cy="338.47" r="6.2"/>
<circle cx="225.57" cy="331.99" r="6.2"/>
<circle cx="232.85" cy="340.41" r="6.2" opacity="0.6"/>
<circle cx="175.41" cy="342.51" r="6.2"/>
<circle cx="189.16" cy="340.89" r="6.2"/>
<circle cx="198.87" cy="347.37" r="6.2"/>
<circle cx="211.82" cy="352.22" r="6.2"/>
<circle cx="223.95" cy="346.56" r="6.2"/>
<circle cx="236.09" cy="351.41" r="6.2"/>
<circle cx="169.75" cy="353.03" r="6.2"/>
<circle cx="184.31" cy="352.22" r="6.2"/>
<circle cx="194.02" cy="359.5" r="6.2"/>
<circle cx="178.64" cy="363.55" r="6.2"/>
<circle cx="222.33" cy="360.31" r="6.2"/>
<circle cx="211.01" cy="365.97" r="6.2"/>
<circle cx="229.62" cy="370.83" r="6.2"/>
<circle cx="199.68" cy="371.64" r="6.2"/>
<circle cx="168.94" cy="370.83" r="6.2"/>
<circle cx="179.45" cy="375.68" r="6.2"/>
<circle cx="189.16" cy="370.02" r="6.2"/>
<circle cx="215.05" cy="377.3" r="6.2"/>
<circle cx="239.32" cy="365.97" r="6.2"/>
<circle cx="166.51" cy="362.74" r="6.2"/>
<circle cx="165.7" cy="343.32" r="6.2"/>
</g>
<rect x="165.7" y="304" width="73.1" height="73" fill="url(#dkm2)"/></g>
<defs><linearGradient id="bgm3" x1="0" y1="0" x2="1" y2="1"><stop offset="0" stop-color="#5a8022"/><stop offset="0.5" stop-color="#66982a"/><stop offset="1" stop-color="#74a030"/></linearGradient>
<linearGradient id="bdm3" gradientUnits="userSpaceOnUse" x1="242" y1="377" x2="315" y2="304"><stop offset="0" stop-color="#8c1618"/><stop offset="0.5" stop-color="#b01a1c"/><stop offset="1" stop-color="#de2222"/></linearGradient>
<radialGradient id="dkm3" gradientUnits="userSpaceOnUse" cx="242" cy="304" r="40.15"><stop offset="0" stop-color="#200" stop-opacity="0.0"/><stop offset="1" stop-color="#200" stop-opacity="0"/></radialGradient>
<clipPath id="clm3"><rect x="242" y="304" width="73" height="73"/></clipPath><filter id="blm3" x="-5%" y="-5%" width="110%" height="110%"><feGaussianBlur stdDeviation="0.45"/></filter></defs>
<g clip-path="url(#clm3)"><rect x="242" y="304" width="73" height="73" fill="url(#bgm3)"/>
<g filter="url(#blm3)" fill="url(#bdm3)" stroke="#7a8a2a" stroke-width="0.9" stroke-opacity="0.75">
<circle cx="237.99" cy="296.49" r="6.32"/>
<circle cx="251.36" cy="296.49" r="6.43"/>
<circle cx="261.77" cy="295.83" r="6.45"/>
<circle cx="275.86" cy="296.87" r="5.7"/>
<circle cx="288.03" cy="295.3" r="6.09"/>
<circle cx="300.88" cy="294.74" r="5.8"/>
<circle cx="312.77" cy="296.91" r="6.29"/>
<circle cx="325.08" cy="296.63" r="5.72"/>
<circle cx="338.78" cy="295.02" r="5.6"/>
<circle cx="232.29" cy="306.3" r="5.79"/>
<circle cx="245.16" cy="307.89" r="5.86"/>
<circle cx="257.71" cy="307.09" r="6.21"/>
<circle cx="268.49" cy="308.06" r="6.22"/>
<circle cx="282.92" cy="307.94" r="5.87"/>
<circle cx="294.07" cy="306.2" r="5.73"/>
<circle cx="305.96" cy="306.52" r="6.14"/>
<circle cx="318.41" cy="307.43" r="5.9"/>
<circle cx="331.74" cy="307.76" r="6.03"/>
<circle cx="237.26" cy="318.04" r="6.23"/>
<circle cx="249.24" cy="319.23" r="5.62"/>
<circle cx="263.5" cy="318.92" r="5.62"/>
<circle cx="276.19" cy="317.77" r="6.12"/>
<circle cx="286.92" cy="317" r="5.76"/>
<circle cx="301.79" cy="317.36" r="6.28"/>
<circle cx="314.33" cy="319.15" r="5.91"/>
<circle cx="325.55" cy="318.15" r="6.3"/>
<circle cx="337.56" cy="318.68" r="6.32"/>
<circle cx="232.26" cy="328.06" r="6.45"/>
<circle cx="243.02" cy="328.79" r="6.15"/>
<circle cx="257.6" cy="328.79" r="6.43"/>
<circle cx="269.31" cy="328.73" r="5.89"/>
<circle cx="281.03" cy="328.16" r="5.73"/>
<circle cx="294.85" cy="330.37" r="5.75"/>
<circle cx="305.92" cy="330.34" r="6.08"/>
<circle cx="319.37" cy="328.55" r="6.13"/>
<circle cx="332.98" cy="329.07" r="5.98"/>
<circle cx="236.63" cy="341.26" r="5.63"/>
<circle cx="250.28" cy="341.08" r="5.72"/>
<circle cx="263.46" cy="341.34" r="6.17"/>
<circle cx="276.19" cy="339.32" r="5.99"/>
<circle cx="287.26" cy="341.09" r="5.87"/>
<circle cx="300.59" cy="341.46" r="6.37"/>
<circle cx="314.44" cy="340.15" r="6.04"/>
<circle cx="326.45" cy="340.21" r="5.86"/>
<circle cx="338.27" cy="339.42" r="5.94"/>
<circle cx="232.57" cy="352.46" r="6.16"/>
<circle cx="244" cy="350.96" r="5.68"/>
<circle cx="256.05" cy="352.03" r="6.38"/>
<circle cx="268.87" cy="352.04" r="6.3"/>
<circle cx="282.27" cy="351.75" r="6.28"/>
<circle cx="294.07" cy="351.84" r="5.85"/>
<circle cx="306.97" cy="352" r="6.22"/>
<circle cx="319.11" cy="352.42" r="6.18"/>
<circle cx="332.39" cy="350.18" r="6.09"/>
<circle cx="237.1" cy="362.85" r="6.02"/>
<circle cx="251.06" cy="362.79" r="6.32"/>
<circle cx="262.53" cy="362.79" r="6.26"/>
<circle cx="276.29" cy="362.08" r="6.36"/>
<circle cx="288.99" cy="362.89" r="6.48"/>
<circle cx="301.8" cy="362.48" r="6.08"/>
<circle cx="312.5" cy="363.25" r="6.44"/>
<circle cx="325.85" cy="362.9" r="6.25"/>
<circle cx="339.05" cy="361.65" r="6.3"/>
<circle cx="231.59" cy="373.93" r="5.98"/>
<circle cx="244.3" cy="374.19" r="6.17"/>
<circle cx="257.13" cy="372.39" r="5.74"/>
<circle cx="269.06" cy="373.89" r="5.8"/>
<circle cx="282.25" cy="373.84" r="5.64"/>
<circle cx="294.33" cy="372.87" r="5.65"/>
<circle cx="306.12" cy="373.09" r="5.76"/>
<circle cx="318.86" cy="372.41" r="6.02"/>
<circle cx="331.91" cy="373.8" r="6.13"/>
<circle cx="237.07" cy="385.58" r="5.6"/>
<circle cx="250.07" cy="384.08" r="5.97"/>
<circle cx="261.98" cy="385.41" r="5.94"/>
<circle cx="274.39" cy="384.89" r="5.69"/>
<circle cx="288.21" cy="384.23" r="6.12"/>
<circle cx="301.8" cy="385.38" r="5.98"/>
<circle cx="314.05" cy="384.96" r="5.93"/>
<circle cx="325.04" cy="384.85" r="6.11"/>
<circle cx="339.6" cy="385.74" r="6.15"/>
</g>
<rect x="242" y="304" width="73" height="73" fill="url(#dkm3)"/></g>
<defs><radialGradient id="hl3" gradientUnits="userSpaceOnUse" cx="300" cy="322" r="34"><stop offset="0" stop-color="#ff2a2a" stop-opacity="0.55"/><stop offset="1" stop-color="#ff2a2a" stop-opacity="0"/></radialGradient></defs><rect x="242" y="304" width="73" height="73" fill="url(#hl3)"/>
<rect x="298" y="370" width="11.2" height="3.6" fill="#fff"/>
<text x="124.7" y="298" font-family="Liberation Serif, serif" font-size="13.5" font-weight="bold" text-anchor="middle" fill="#000" >(i)</text>
<text x="199.9" y="298" font-family="Liberation Serif, serif" font-size="13.5" font-weight="bold" text-anchor="middle" fill="#000" >(ii)</text>
<text x="273" y="298" font-family="Liberation Serif, serif" font-size="13.5" font-weight="bold" text-anchor="middle" fill="#000" >(iii)</text>
<line x1="166" y1="393.3" x2="198.5" y2="393.3" stroke="#333" stroke-width="0.8" />
<g fill="#fff" stroke="#222" stroke-width="0.9">
<circle cx="181.8" cy="393.3" r="3.5"/>
</g>
<text x="215.6" y="397.9" font-family="Liberation Serif, serif" font-size="14.1" font-weight="bold" text-anchor="start" fill="#000" >M.F. ≈ 80%</text>
<text x="145.5" y="397.9" font-family="Liberation Serif, serif" font-size="14.3" font-weight="bold" text-anchor="middle" fill="#000" >(i)</text>
<line x1="166" y1="421.25" x2="198.5" y2="421.25" stroke="#e8232b" stroke-width="0.8" />
<g fill="#fff" stroke="#e8232b" stroke-width="0.9">
<rect x="178.5" y="417.95" width="6.6" height="6.6"/>
</g>
<text x="215.6" y="425.85" font-family="Liberation Serif, serif" font-size="14.1" font-weight="bold" text-anchor="start" fill="#000" >M.F. ≈ 85%</text>
<text x="145.5" y="425.85" font-family="Liberation Serif, serif" font-size="14.3" font-weight="bold" text-anchor="middle" fill="#000" >(ii)</text>
<line x1="166" y1="449.2" x2="198.5" y2="449.2" stroke="#333" stroke-width="0.8" />
<g fill="#fff" stroke="#3a4fa5" stroke-width="0.9">
<path d="M176.81 449.2L181.8 444.2L186.8 449.2L181.8 454.19Z"/>
</g>
<text x="215.6" y="453.8" font-family="Liberation Serif, serif" font-size="14.1" font-weight="bold" text-anchor="start" fill="#000" >M.F. ≈ 95%</text>
<text x="145.5" y="453.8" font-family="Liberation Serif, serif" font-size="14.3" font-weight="bold" text-anchor="middle" fill="#000" >(iii)</text>
<polyline fill="none" stroke="#000" stroke-width="0.6" points="408.84,382.28 413.69,382.75 418.53,383.44 423.38,384.53 428.23,386.46 433.07,389.47 437.92,392.92 442.76,396.7 447.61,400.53 452.46,403.99 457.3,407.3 462.15,410.52 466.99,413.7 471.84,416.91 476.69,420.13 481.53,423.31 486.38,426.41 491.22,429.38 496.07,432.2 500.92,434.96 505.76,437.64 510.61,440.17 515.45,442.52 520.3,444.64 525.15,446.45 529.99,447.97 534.84,449.26 539.68,450.42 544.53,451.55 549.38,452.74 554.22,454.02 559.07,455.28 563.91,456.48 568.76,457.59 573.61,458.61 578.45,459.58 583.3,460.52 588.14,461.44 592.99,462.34 597.84,463.24 602.68,464.13 607.53,465.03 612.37,465.94 617.22,466.84 622.07,467.74 626.91,468.64 631.76,469.53 636.6,470.43 641.45,471.32 646.3,472.17" />
<g fill="#000" stroke="#000" stroke-width="0.4">
<circle cx="408.84" cy="382.28" r="2.2"/>
<circle cx="413.69" cy="382.75" r="2.2"/>
<circle cx="418.53" cy="383.44" r="2.2"/>
<circle cx="423.38" cy="384.53" r="2.2"/>
<circle cx="428.23" cy="386.46" r="2.2"/>
<circle cx="433.07" cy="389.47" r="2.2"/>
<circle cx="437.92" cy="392.92" r="2.2"/>
<circle cx="442.76" cy="396.7" r="2.2"/>
<circle cx="447.61" cy="400.53" r="2.2"/>
<circle cx="452.46" cy="403.99" r="2.2"/>
<circle cx="457.3" cy="407.3" r="2.2"/>
<circle cx="462.15" cy="410.52" r="2.2"/>
<circle cx="466.99" cy="413.7" r="2.2"/>
<circle cx="471.84" cy="416.91" r="2.2"/>
<circle cx="476.69" cy="420.13" r="2.2"/>
<circle cx="481.53" cy="423.31" r="2.2"/>
<circle cx="486.38" cy="426.41" r="2.2"/>
<circle cx="491.22" cy="429.38" r="2.2"/>
<circle cx="496.07" cy="432.2" r="2.2"/>
<circle cx="500.92" cy="434.96" r="2.2"/>
<circle cx="505.76" cy="437.64" r="2.2"/>
<circle cx="510.61" cy="440.17" r="2.2"/>
<circle cx="515.45" cy="442.52" r="2.2"/>
<circle cx="520.3" cy="444.64" r="2.2"/>
<circle cx="525.15" cy="446.45" r="2.2"/>
<circle cx="529.99" cy="447.97" r="2.2"/>
<circle cx="534.84" cy="449.26" r="2.2"/>
<circle cx="539.68" cy="450.42" r="2.2"/>
<circle cx="544.53" cy="451.55" r="2.2"/>
<circle cx="549.38" cy="452.74" r="2.2"/>
<circle cx="554.22" cy="454.02" r="2.2"/>
<circle cx="559.07" cy="455.28" r="2.2"/>
<circle cx="563.91" cy="456.48" r="2.2"/>
<circle cx="568.76" cy="457.59" r="2.2"/>
<circle cx="573.61" cy="458.61" r="2.2"/>
<circle cx="578.45" cy="459.58" r="2.2"/>
<circle cx="583.3" cy="460.52" r="2.2"/>
<circle cx="588.14" cy="461.44" r="2.2"/>
<circle cx="592.99" cy="462.34" r="2.2"/>
<circle cx="597.84" cy="463.24" r="2.2"/>
<circle cx="602.68" cy="464.13" r="2.2"/>
<circle cx="607.53" cy="465.03" r="2.2"/>
<circle cx="612.37" cy="465.94" r="2.2"/>
<circle cx="617.22" cy="466.84" r="2.2"/>
<circle cx="622.07" cy="467.74" r="2.2"/>
<circle cx="626.91" cy="468.64" r="2.2"/>
<circle cx="631.76" cy="469.53" r="2.2"/>
<circle cx="636.6" cy="470.43" r="2.2"/>
<circle cx="641.45" cy="471.32" r="2.2"/>
<circle cx="646.3" cy="472.17" r="2.2"/>
</g>
<polyline fill="none" stroke="#444" stroke-width="0.6" points="408.84,421.17 413.69,422.89 418.53,425.6 423.38,426.15 428.23,425.79 433.07,424.58 437.92,422.62 442.76,420.37 447.61,418.77 452.46,417.59 457.3,416.83 462.15,416.44 466.99,416.42 471.84,416.78 476.69,417.56 481.53,418.67 486.38,419.5 491.22,420.26 496.07,420.99 500.92,421.71 505.76,422.44 510.61,423.2 515.45,424 520.3,424.8 525.15,425.58 529.99,426.31 534.84,427.01 539.68,427.7 544.53,428.39 549.38,429.07 554.22,429.72 559.07,430.36 563.91,430.96 568.76,431.53 573.61,432.06 578.45,432.53 583.3,432.97 588.14,433.37 592.99,433.76 597.84,434.15 602.68,434.55 607.53,434.96 612.37,435.4 617.22,435.85 622.07,436.32 626.91,436.79 631.76,437.27 636.6,437.75 641.45,438.22 646.3,438.67" />
<g fill="#fff" stroke="#222" stroke-width="0.7">
<circle cx="408.84" cy="421.17" r="1.9"/>
<circle cx="413.69" cy="422.89" r="1.9"/>
<circle cx="418.53" cy="425.6" r="1.9"/>
<circle cx="423.38" cy="426.15" r="1.9"/>
<circle cx="428.23" cy="425.79" r="1.9"/>
<circle cx="433.07" cy="424.58" r="1.9"/>
<circle cx="437.92" cy="422.62" r="1.9"/>
<circle cx="442.76" cy="420.37" r="1.9"/>
<circle cx="447.61" cy="418.77" r="1.9"/>
<circle cx="452.46" cy="417.59" r="1.9"/>
<circle cx="457.3" cy="416.83" r="1.9"/>
<circle cx="462.15" cy="416.44" r="1.9"/>
<circle cx="466.99" cy="416.42" r="1.9"/>
<circle cx="471.84" cy="416.78" r="1.9"/>
<circle cx="476.69" cy="417.56" r="1.9"/>
<circle cx="481.53" cy="418.67" r="1.9"/>
<circle cx="486.38" cy="419.5" r="1.9"/>
<circle cx="491.22" cy="420.26" r="1.9"/>
<circle cx="496.07" cy="420.99" r="1.9"/>
<circle cx="500.92" cy="421.71" r="1.9"/>
<circle cx="505.76" cy="422.44" r="1.9"/>
<circle cx="510.61" cy="423.2" r="1.9"/>
<circle cx="515.45" cy="424" r="1.9"/>
<circle cx="520.3" cy="424.8" r="1.9"/>
<circle cx="525.15" cy="425.58" r="1.9"/>
<circle cx="529.99" cy="426.31" r="1.9"/>
<circle cx="534.84" cy="427.01" r="1.9"/>
<circle cx="539.68" cy="427.7" r="1.9"/>
<circle cx="544.53" cy="428.39" r="1.9"/>
<circle cx="549.38" cy="429.07" r="1.9"/>
<circle cx="554.22" cy="429.72" r="1.9"/>
<circle cx="559.07" cy="430.36" r="1.9"/>
<circle cx="563.91" cy="430.96" r="1.9"/>
<circle cx="568.76" cy="431.53" r="1.9"/>
<circle cx="573.61" cy="432.06" r="1.9"/>
<circle cx="578.45" cy="432.53" r="1.9"/>
<circle cx="583.3" cy="432.97" r="1.9"/>
<circle cx="588.14" cy="433.37" r="1.9"/>
<circle cx="592.99" cy="433.76" r="1.9"/>
<circle cx="597.84" cy="434.15" r="1.9"/>
<circle cx="602.68" cy="434.55" r="1.9"/>
<circle cx="607.53" cy="434.96" r="1.9"/>
<circle cx="612.37" cy="435.4" r="1.9"/>
<circle cx="617.22" cy="435.85" r="1.9"/>
<circle cx="622.07" cy="436.32" r="1.9"/>
<circle cx="626.91" cy="436.79" r="1.9"/>
<circle cx="631.76" cy="437.27" r="1.9"/>
<circle cx="636.6" cy="437.75" r="1.9"/>
<circle cx="641.45" cy="438.22" r="1.9"/>
<circle cx="646.3" cy="438.67" r="1.9"/>
</g>
<polyline fill="none" stroke="#e8232b" stroke-width="0.6" points="408.84,330.82 413.69,330.81 418.53,331.14 423.38,331.95 428.23,333.24 433.07,334.8 437.92,337.03 442.76,340.07 447.61,343.67 452.46,347.71 457.3,352.13 462.15,356.59 466.99,360.76 471.84,364.73 476.69,368.45 481.53,371.82 486.38,374.85 491.22,377.69 496.07,380.48 500.92,383.32 505.76,386.15 510.61,388.9 515.45,391.49 520.3,393.84 525.15,395.88 529.99,397.63 534.84,399.18 539.68,400.6 544.53,401.97 549.38,403.39 554.22,404.81 559.07,406.15 563.91,407.46 568.76,408.76 573.61,410.1 578.45,411.46 583.3,412.82 588.14,414.18 592.99,415.53 597.84,416.88 602.68,418.2 607.53,419.5 612.37,420.76 617.22,421.99 622.07,423.17 626.91,424.34 631.76,425.49 636.6,426.64 641.45,427.79 646.3,428.9" />
<g fill="#e8232b" stroke="#e8232b" stroke-width="0.4">
<rect x="406.94" y="328.92" width="3.8" height="3.8"/>
<rect x="411.79" y="328.91" width="3.8" height="3.8"/>
<rect x="416.63" y="329.24" width="3.8" height="3.8"/>
<rect x="421.48" y="330.05" width="3.8" height="3.8"/>
<rect x="426.33" y="331.34" width="3.8" height="3.8"/>
<rect x="431.17" y="332.9" width="3.8" height="3.8"/>
<rect x="436.02" y="335.13" width="3.8" height="3.8"/>
<rect x="440.86" y="338.17" width="3.8" height="3.8"/>
<rect x="445.71" y="341.77" width="3.8" height="3.8"/>
<rect x="450.56" y="345.81" width="3.8" height="3.8"/>
<rect x="455.4" y="350.23" width="3.8" height="3.8"/>
<rect x="460.25" y="354.69" width="3.8" height="3.8"/>
<rect x="465.09" y="358.86" width="3.8" height="3.8"/>
<rect x="469.94" y="362.83" width="3.8" height="3.8"/>
<rect x="474.79" y="366.55" width="3.8" height="3.8"/>
<rect x="479.63" y="369.92" width="3.8" height="3.8"/>
<rect x="484.48" y="372.95" width="3.8" height="3.8"/>
<rect x="489.32" y="375.79" width="3.8" height="3.8"/>
<rect x="494.17" y="378.58" width="3.8" height="3.8"/>
<rect x="499.02" y="381.42" width="3.8" height="3.8"/>
<rect x="503.86" y="384.25" width="3.8" height="3.8"/>
<rect x="508.71" y="387" width="3.8" height="3.8"/>
<rect x="513.55" y="389.59" width="3.8" height="3.8"/>
<rect x="518.4" y="391.94" width="3.8" height="3.8"/>
<rect x="523.25" y="393.98" width="3.8" height="3.8"/>
<rect x="528.09" y="395.73" width="3.8" height="3.8"/>
<rect x="532.94" y="397.28" width="3.8" height="3.8"/>
<rect x="537.78" y="398.7" width="3.8" height="3.8"/>
<rect x="542.63" y="400.07" width="3.8" height="3.8"/>
<rect x="547.48" y="401.49" width="3.8" height="3.8"/>
<rect x="552.32" y="402.91" width="3.8" height="3.8"/>
<rect x="557.17" y="404.25" width="3.8" height="3.8"/>
<rect x="562.01" y="405.56" width="3.8" height="3.8"/>
<rect x="566.86" y="406.86" width="3.8" height="3.8"/>
<rect x="571.71" y="408.2" width="3.8" height="3.8"/>
<rect x="576.55" y="409.56" width="3.8" height="3.8"/>
<rect x="581.4" y="410.92" width="3.8" height="3.8"/>
<rect x="586.24" y="412.28" width="3.8" height="3.8"/>
<rect x="591.09" y="413.63" width="3.8" height="3.8"/>
<rect x="595.94" y="414.98" width="3.8" height="3.8"/>
<rect x="600.78" y="416.3" width="3.8" height="3.8"/>
<rect x="605.63" y="417.6" width="3.8" height="3.8"/>
<rect x="610.47" y="418.86" width="3.8" height="3.8"/>
<rect x="615.32" y="420.09" width="3.8" height="3.8"/>
<rect x="620.17" y="421.27" width="3.8" height="3.8"/>
<rect x="625.01" y="422.44" width="3.8" height="3.8"/>
<rect x="629.86" y="423.59" width="3.8" height="3.8"/>
<rect x="634.7" y="424.74" width="3.8" height="3.8"/>
<rect x="639.55" y="425.89" width="3.8" height="3.8"/>
<rect x="644.4" y="427" width="3.8" height="3.8"/>
</g>
<polyline fill="none" stroke="#444" stroke-width="0.6" points="408.84,433.94 413.69,418.4 418.53,412.57 423.38,411.22 428.23,409.2 433.07,403.2 437.92,395.1 442.76,387.23 447.61,380.78 452.46,375.79 457.3,372.46 462.15,371.05 466.99,370.59 471.84,370.44 476.69,370.43 481.53,371.49 486.38,372.41 491.22,373.28 496.07,374.48 500.92,375.77 505.76,377.01 510.61,378.08 515.45,379.08 520.3,380.02 525.15,380.9 529.99,381.74 534.84,382.55 539.68,383.35 544.53,384.14 549.38,384.92 554.22,385.67 559.07,386.4 563.91,387.09 568.76,387.75 573.61,388.37 578.45,388.95 583.3,389.5 588.14,390.02 592.99,390.52 597.84,390.99 602.68,391.46 607.53,391.91 612.37,392.35 617.22,392.76 622.07,393.14 626.91,393.51 631.76,393.86 636.6,394.2 641.45,394.55 646.3,394.89" />
<g fill="#fff" stroke="#e8232b" stroke-width="0.7">
<rect x="407.09" y="432.19" width="3.5" height="3.5"/>
<rect x="411.94" y="416.65" width="3.5" height="3.5"/>
<rect x="416.78" y="410.82" width="3.5" height="3.5"/>
<rect x="421.63" y="409.47" width="3.5" height="3.5"/>
<rect x="426.48" y="407.45" width="3.5" height="3.5"/>
<rect x="431.32" y="401.45" width="3.5" height="3.5"/>
<rect x="436.17" y="393.35" width="3.5" height="3.5"/>
<rect x="441.01" y="385.48" width="3.5" height="3.5"/>
<rect x="445.86" y="379.03" width="3.5" height="3.5"/>
<rect x="450.71" y="374.04" width="3.5" height="3.5"/>
<rect x="455.55" y="370.71" width="3.5" height="3.5"/>
<rect x="460.4" y="369.3" width="3.5" height="3.5"/>
<rect x="465.24" y="368.84" width="3.5" height="3.5"/>
<rect x="470.09" y="368.69" width="3.5" height="3.5"/>
<rect x="474.94" y="368.68" width="3.5" height="3.5"/>
<rect x="479.78" y="369.74" width="3.5" height="3.5"/>
<rect x="484.63" y="370.66" width="3.5" height="3.5"/>
<rect x="489.47" y="371.53" width="3.5" height="3.5"/>
<rect x="494.32" y="372.73" width="3.5" height="3.5"/>
<rect x="499.17" y="374.02" width="3.5" height="3.5"/>
<rect x="504.01" y="375.26" width="3.5" height="3.5"/>
<rect x="508.86" y="376.33" width="3.5" height="3.5"/>
<rect x="513.7" y="377.33" width="3.5" height="3.5"/>
<rect x="518.55" y="378.27" width="3.5" height="3.5"/>
<rect x="523.4" y="379.15" width="3.5" height="3.5"/>
<rect x="528.24" y="379.99" width="3.5" height="3.5"/>
<rect x="533.09" y="380.8" width="3.5" height="3.5"/>
<rect x="537.93" y="381.6" width="3.5" height="3.5"/>
<rect x="542.78" y="382.39" width="3.5" height="3.5"/>
<rect x="547.63" y="383.17" width="3.5" height="3.5"/>
<rect x="552.47" y="383.92" width="3.5" height="3.5"/>
<rect x="557.32" y="384.65" width="3.5" height="3.5"/>
<rect x="562.16" y="385.34" width="3.5" height="3.5"/>
<rect x="567.01" y="386" width="3.5" height="3.5"/>
<rect x="571.86" y="386.62" width="3.5" height="3.5"/>
<rect x="576.7" y="387.2" width="3.5" height="3.5"/>
<rect x="581.55" y="387.75" width="3.5" height="3.5"/>
<rect x="586.39" y="388.27" width="3.5" height="3.5"/>
<rect x="591.24" y="388.77" width="3.5" height="3.5"/>
<rect x="596.09" y="389.24" width="3.5" height="3.5"/>
<rect x="600.93" y="389.71" width="3.5" height="3.5"/>
<rect x="605.78" y="390.16" width="3.5" height="3.5"/>
<rect x="610.62" y="390.6" width="3.5" height="3.5"/>
<rect x="615.47" y="391.01" width="3.5" height="3.5"/>
<rect x="620.32" y="391.39" width="3.5" height="3.5"/>
<rect x="625.16" y="391.76" width="3.5" height="3.5"/>
<rect x="630.01" y="392.11" width="3.5" height="3.5"/>
<rect x="634.85" y="392.45" width="3.5" height="3.5"/>
<rect x="639.7" y="392.8" width="3.5" height="3.5"/>
<rect x="644.55" y="393.14" width="3.5" height="3.5"/>
</g>
<polyline fill="none" stroke="#3a4fa5" stroke-width="0.6" points="408.84,304 413.69,304.13 418.53,304.76 423.38,306.13 428.23,307.76 433.07,309.57 437.92,311.52 442.76,313.6 447.61,315.8 452.46,318.05 457.3,320.3 462.15,322.48 466.99,324.56 471.84,326.57 476.69,328.53 481.53,330.45 486.38,332.34 491.22,334.21 496.07,336.07 500.92,337.94 505.76,339.79 510.61,341.59 515.45,343.34 520.3,344.99 525.15,346.55 529.99,348.04 534.84,349.45 539.68,350.79 544.53,352.05 549.38,353.22 554.22,354.25 559.07,355.09 563.91,355.8 568.76,356.45 573.61,357.08 578.45,357.64 583.3,358.15 588.14,358.61 592.99,359.06 597.84,359.49 602.68,359.88 607.53,360.21 612.37,360.47 617.22,360.68 622.07,360.86 626.91,361.03 631.76,361.17 636.6,361.32 641.45,361.47 646.3,361.62" />
<g fill="#3a4fa5" stroke="#3a4fa5" stroke-width="0.4">
<path d="M406.14 304L408.84 301.3L411.54 304L408.84 306.7Z"/>
<path d="M410.99 304.13L413.69 301.43L416.39 304.13L413.69 306.83Z"/>
<path d="M415.83 304.76L418.53 302.06L421.23 304.76L418.53 307.46Z"/>
<path d="M420.68 306.13L423.38 303.43L426.08 306.13L423.38 308.83Z"/>
<path d="M425.53 307.76L428.23 305.06L430.93 307.76L428.23 310.46Z"/>
<path d="M430.37 309.57L433.07 306.87L435.77 309.57L433.07 312.27Z"/>
<path d="M435.22 311.52L437.92 308.82L440.62 311.52L437.92 314.22Z"/>
<path d="M440.06 313.6L442.76 310.9L445.46 313.6L442.76 316.3Z"/>
<path d="M444.91 315.8L447.61 313.1L450.31 315.8L447.61 318.5Z"/>
<path d="M449.76 318.05L452.46 315.35L455.16 318.05L452.46 320.75Z"/>
<path d="M454.6 320.3L457.3 317.6L460 320.3L457.3 323Z"/>
<path d="M459.45 322.48L462.15 319.78L464.85 322.48L462.15 325.18Z"/>
<path d="M464.29 324.56L466.99 321.86L469.69 324.56L466.99 327.26Z"/>
<path d="M469.14 326.57L471.84 323.87L474.54 326.57L471.84 329.27Z"/>
<path d="M473.99 328.53L476.69 325.83L479.39 328.53L476.69 331.23Z"/>
<path d="M478.83 330.45L481.53 327.75L484.23 330.45L481.53 333.15Z"/>
<path d="M483.68 332.34L486.38 329.64L489.08 332.34L486.38 335.04Z"/>
<path d="M488.52 334.21L491.22 331.51L493.92 334.21L491.22 336.91Z"/>
<path d="M493.37 336.07L496.07 333.37L498.77 336.07L496.07 338.77Z"/>
<path d="M498.22 337.94L500.92 335.24L503.62 337.94L500.92 340.64Z"/>
<path d="M503.06 339.79L505.76 337.09L508.46 339.79L505.76 342.49Z"/>
<path d="M507.91 341.59L510.61 338.89L513.31 341.59L510.61 344.29Z"/>
<path d="M512.75 343.34L515.45 340.64L518.15 343.34L515.45 346.04Z"/>
<path d="M517.6 344.99L520.3 342.29L523 344.99L520.3 347.69Z"/>
<path d="M522.45 346.55L525.15 343.85L527.85 346.55L525.15 349.25Z"/>
<path d="M527.29 348.04L529.99 345.34L532.69 348.04L529.99 350.74Z"/>
<path d="M532.14 349.45L534.84 346.75L537.54 349.45L534.84 352.15Z"/>
<path d="M536.98 350.79L539.68 348.09L542.38 350.79L539.68 353.49Z"/>
<path d="M541.83 352.05L544.53 349.35L547.23 352.05L544.53 354.75Z"/>
<path d="M546.68 353.22L549.38 350.52L552.08 353.22L549.38 355.92Z"/>
<path d="M551.52 354.25L554.22 351.55L556.92 354.25L554.22 356.95Z"/>
<path d="M556.37 355.09L559.07 352.39L561.77 355.09L559.07 357.79Z"/>
<path d="M561.21 355.8L563.91 353.1L566.61 355.8L563.91 358.5Z"/>
<path d="M566.06 356.45L568.76 353.75L571.46 356.45L568.76 359.15Z"/>
<path d="M570.91 357.08L573.61 354.38L576.31 357.08L573.61 359.78Z"/>
<path d="M575.75 357.64L578.45 354.94L581.15 357.64L578.45 360.34Z"/>
<path d="M580.6 358.15L583.3 355.45L586 358.15L583.3 360.85Z"/>
<path d="M585.44 358.61L588.14 355.91L590.84 358.61L588.14 361.31Z"/>
<path d="M590.29 359.06L592.99 356.36L595.69 359.06L592.99 361.76Z"/>
<path d="M595.14 359.49L597.84 356.79L600.54 359.49L597.84 362.19Z"/>
<path d="M599.98 359.88L602.68 357.18L605.38 359.88L602.68 362.58Z"/>
<path d="M604.83 360.21L607.53 357.51L610.23 360.21L607.53 362.91Z"/>
<path d="M609.67 360.47L612.37 357.77L615.07 360.47L612.37 363.17Z"/>
<path d="M614.52 360.68L617.22 357.98L619.92 360.68L617.22 363.38Z"/>
<path d="M619.37 360.86L622.07 358.16L624.77 360.86L622.07 363.56Z"/>
<path d="M624.21 361.03L626.91 358.33L629.61 361.03L626.91 363.73Z"/>
<path d="M629.06 361.17L631.76 358.47L634.46 361.17L631.76 363.87Z"/>
<path d="M633.9 361.32L636.6 358.62L639.3 361.32L636.6 364.02Z"/>
<path d="M638.75 361.47L641.45 358.77L644.15 361.47L641.45 364.17Z"/>
<path d="M643.6 361.62L646.3 358.92L649 361.62L646.3 364.32Z"/>
</g>
<polyline fill="none" stroke="#3a4fa5" stroke-width="0.6" points="408.84,392.96 413.69,391.77 418.53,387.33 423.38,381.6 428.23,376.34 433.07,372.16 437.92,368.52 442.76,365.21 447.61,362.33 452.46,359.96 457.3,357.89 462.15,356.07 466.99,354.51 471.84,353.32 476.69,352.44 481.53,351.78 486.38,351.4 491.22,351.21 496.07,351.07 500.92,350.99 505.76,350.96 510.61,350.98 515.45,351.02 520.3,351.11 525.15,351.22 529.99,351.35 534.84,351.49 539.68,351.62 544.53,351.76 549.38,351.91 554.22,352.05 559.07,352.2 563.91,352.32 568.76,352.42 573.61,352.5 578.45,352.56 583.3,352.61 588.14,352.65 592.99,352.67 597.84,352.7 602.68,352.72 607.53,352.74 612.37,352.75 617.22,352.76 622.07,352.77 626.91,352.77 631.76,352.76 636.6,352.75 641.45,352.75 646.3,352.75" />
<g fill="#fff" stroke="#3a4fa5" stroke-width="0.7">
<path d="M406.34 392.96L408.84 390.46L411.34 392.96L408.84 395.45Z"/>
<path d="M411.19 391.77L413.69 389.27L416.19 391.77L413.69 394.27Z"/>
<path d="M416.04 387.33L418.53 384.83L421.03 387.33L418.53 389.83Z"/>
<path d="M420.88 381.6L423.38 379.1L425.88 381.6L423.38 384.09Z"/>
<path d="M425.73 376.34L428.23 373.85L430.72 376.34L428.23 378.84Z"/>
<path d="M430.57 372.16L433.07 369.66L435.57 372.16L433.07 374.65Z"/>
<path d="M435.42 368.52L437.92 366.02L440.42 368.52L437.92 371.02Z"/>
<path d="M440.27 365.21L442.76 362.71L445.26 365.21L442.76 367.7Z"/>
<path d="M445.11 362.33L447.61 359.83L450.11 362.33L447.61 364.83Z"/>
<path d="M449.96 359.96L452.46 357.47L454.95 359.96L452.46 362.46Z"/>
<path d="M454.8 357.89L457.3 355.39L459.8 357.89L457.3 360.38Z"/>
<path d="M459.65 356.07L462.15 353.57L464.65 356.07L462.15 358.56Z"/>
<path d="M464.5 354.51L466.99 352.01L469.49 354.51L466.99 357.01Z"/>
<path d="M469.34 353.32L471.84 350.82L474.34 353.32L471.84 355.82Z"/>
<path d="M474.19 352.44L476.69 349.94L479.18 352.44L476.69 354.94Z"/>
<path d="M479.03 351.78L481.53 349.28L484.03 351.78L481.53 354.28Z"/>
<path d="M483.88 351.4L486.38 348.9L488.88 351.4L486.38 353.9Z"/>
<path d="M488.73 351.21L491.22 348.71L493.72 351.21L491.22 353.7Z"/>
<path d="M493.57 351.07L496.07 348.58L498.57 351.07L496.07 353.57Z"/>
<path d="M498.42 350.99L500.92 348.5L503.41 350.99L500.92 353.49Z"/>
<path d="M503.26 350.96L505.76 348.47L508.26 350.96L505.76 353.46Z"/>
<path d="M508.11 350.98L510.61 348.48L513.11 350.98L510.61 353.47Z"/>
<path d="M512.96 351.02L515.45 348.52L517.95 351.02L515.45 353.52Z"/>
<path d="M517.8 351.11L520.3 348.61L522.8 351.11L520.3 353.6Z"/>
<path d="M522.65 351.22L525.15 348.72L527.64 351.22L525.15 353.72Z"/>
<path d="M527.49 351.35L529.99 348.86L532.49 351.35L529.99 353.85Z"/>
<path d="M532.34 351.49L534.84 348.99L537.34 351.49L534.84 353.99Z"/>
<path d="M537.19 351.62L539.68 349.12L542.18 351.62L539.68 354.12Z"/>
<path d="M542.03 351.76L544.53 349.26L547.03 351.76L544.53 354.25Z"/>
<path d="M546.88 351.91L549.38 349.41L551.87 351.91L549.38 354.4Z"/>
<path d="M551.72 352.05L554.22 349.56L556.72 352.05L554.22 354.55Z"/>
<path d="M556.57 352.2L559.07 349.7L561.57 352.2L559.07 354.69Z"/>
<path d="M561.42 352.32L563.91 349.82L566.41 352.32L563.91 354.82Z"/>
<path d="M566.26 352.42L568.76 349.93L571.26 352.42L568.76 354.92Z"/>
<path d="M571.11 352.5L573.61 350L576.1 352.5L573.61 355Z"/>
<path d="M575.95 352.56L578.45 350.06L580.95 352.56L578.45 355.06Z"/>
<path d="M580.8 352.61L583.3 350.11L585.8 352.61L583.3 355.11Z"/>
<path d="M585.65 352.65L588.14 350.15L590.64 352.65L588.14 355.14Z"/>
<path d="M590.49 352.67L592.99 350.18L595.49 352.67L592.99 355.17Z"/>
<path d="M595.34 352.7L597.84 350.2L600.33 352.7L597.84 355.2Z"/>
<path d="M600.18 352.72L602.68 350.22L605.18 352.72L602.68 355.21Z"/>
<path d="M605.03 352.74L607.53 350.24L610.03 352.74L607.53 355.23Z"/>
<path d="M609.88 352.75L612.37 350.26L614.87 352.75L612.37 355.25Z"/>
<path d="M614.72 352.76L617.22 350.27L619.72 352.76L617.22 355.26Z"/>
<path d="M619.57 352.77L622.07 350.27L624.56 352.77L622.07 355.27Z"/>
<path d="M624.41 352.77L626.91 350.27L629.41 352.77L626.91 355.26Z"/>
<path d="M629.26 352.76L631.76 350.26L634.26 352.76L631.76 355.26Z"/>
<path d="M634.11 352.75L636.6 350.26L639.1 352.75L636.6 355.25Z"/>
<path d="M638.95 352.75L641.45 350.25L643.95 352.75L641.45 355.25Z"/>
<path d="M643.8 352.75L646.3 350.25L648.79 352.75L646.3 355.24Z"/>
</g>
<line x1="405.3" y1="287.8" x2="405.3" y2="488.85" stroke="#222" stroke-width="1.1" />
<line x1="404.75" y1="488.3" x2="653" y2="488.3" stroke="#222" stroke-width="1.1" />
<line x1="408.6" y1="488.3" x2="408.6" y2="492.3" stroke="#222" stroke-width="1" />
<text x="408.6" y="503.8" font-family="Liberation Serif, serif" font-size="12.2" font-weight="bold" text-anchor="middle" fill="#000" >0</text>
<line x1="448.98" y1="488.3" x2="448.98" y2="492.3" stroke="#222" stroke-width="1" />
<text x="448.98" y="503.8" font-family="Liberation Serif, serif" font-size="12.2" font-weight="bold" text-anchor="middle" fill="#000" >50</text>
<line x1="489.37" y1="488.3" x2="489.37" y2="492.3" stroke="#222" stroke-width="1" />
<text x="489.37" y="503.8" font-family="Liberation Serif, serif" font-size="12.2" font-weight="bold" text-anchor="middle" fill="#000" >100</text>
<line x1="529.75" y1="488.3" x2="529.75" y2="492.3" stroke="#222" stroke-width="1" />
<text x="529.75" y="503.8" font-family="Liberation Serif, serif" font-size="12.2" font-weight="bold" text-anchor="middle" fill="#000" >150</text>
<line x1="570.13" y1="488.3" x2="570.13" y2="492.3" stroke="#222" stroke-width="1" />
<text x="570.13" y="503.8" font-family="Liberation Serif, serif" font-size="12.2" font-weight="bold" text-anchor="middle" fill="#000" >200</text>
<line x1="610.52" y1="488.3" x2="610.52" y2="492.3" stroke="#222" stroke-width="1" />
<text x="610.52" y="503.8" font-family="Liberation Serif, serif" font-size="12.2" font-weight="bold" text-anchor="middle" fill="#000" >250</text>
<line x1="650.9" y1="488.3" x2="650.9" y2="492.3" stroke="#222" stroke-width="1" />
<text x="650.9" y="503.8" font-family="Liberation Serif, serif" font-size="12.2" font-weight="bold" text-anchor="middle" fill="#000" >300</text>
<line x1="428.79" y1="488.3" x2="428.79" y2="490.5" stroke="#222" stroke-width="0.8" />
<line x1="469.18" y1="488.3" x2="469.18" y2="490.5" stroke="#222" stroke-width="0.8" />
<line x1="509.56" y1="488.3" x2="509.56" y2="490.5" stroke="#222" stroke-width="0.8" />
<line x1="549.94" y1="488.3" x2="549.94" y2="490.5" stroke="#222" stroke-width="0.8" />
<line x1="590.33" y1="488.3" x2="590.33" y2="490.5" stroke="#222" stroke-width="0.8" />
<line x1="630.71" y1="488.3" x2="630.71" y2="490.5" stroke="#222" stroke-width="0.8" />
<line x1="401.3" y1="288.8" x2="405.3" y2="288.8" stroke="#222" stroke-width="1" />
<text x="398.3" y="293.8" font-family="Liberation Serif, serif" font-size="13.8" font-weight="bold" text-anchor="end" fill="#000" >1000</text>
<line x1="401.3" y1="349.1" x2="405.3" y2="349.1" stroke="#222" stroke-width="1" />
<text x="398.3" y="354.1" font-family="Liberation Serif, serif" font-size="13.8" font-weight="bold" text-anchor="end" fill="#000" >100</text>
<line x1="401.3" y1="409.4" x2="405.3" y2="409.4" stroke="#222" stroke-width="1" />
<text x="398.3" y="414.4" font-family="Liberation Serif, serif" font-size="13.8" font-weight="bold" text-anchor="end" fill="#000" >10</text>
<line x1="401.3" y1="469.7" x2="405.3" y2="469.7" stroke="#222" stroke-width="1" />
<text x="398.3" y="474.7" font-family="Liberation Serif, serif" font-size="13.8" font-weight="bold" text-anchor="end" fill="#000" >1</text>
<line x1="403.3" y1="483.08" x2="405.3" y2="483.08" stroke="#222" stroke-width="0.8" />
<line x1="403.3" y1="479.04" x2="405.3" y2="479.04" stroke="#222" stroke-width="0.8" />
<line x1="403.3" y1="475.54" x2="405.3" y2="475.54" stroke="#222" stroke-width="0.8" />
<line x1="403.3" y1="472.46" x2="405.3" y2="472.46" stroke="#222" stroke-width="0.8" />
<line x1="403.3" y1="451.55" x2="405.3" y2="451.55" stroke="#222" stroke-width="0.8" />
<line x1="403.3" y1="440.93" x2="405.3" y2="440.93" stroke="#222" stroke-width="0.8" />
<line x1="403.3" y1="433.4" x2="405.3" y2="433.4" stroke="#222" stroke-width="0.8" />
<line x1="403.3" y1="427.55" x2="405.3" y2="427.55" stroke="#222" stroke-width="0.8" />
<line x1="403.3" y1="422.78" x2="405.3" y2="422.78" stroke="#222" stroke-width="0.8" />
<line x1="403.3" y1="418.74" x2="405.3" y2="418.74" stroke="#222" stroke-width="0.8" />
<line x1="403.3" y1="415.24" x2="405.3" y2="415.24" stroke="#222" stroke-width="0.8" />
<line x1="403.3" y1="412.16" x2="405.3" y2="412.16" stroke="#222" stroke-width="0.8" />
<line x1="403.3" y1="391.25" x2="405.3" y2="391.25" stroke="#222" stroke-width="0.8" />
<line x1="403.3" y1="380.63" x2="405.3" y2="380.63" stroke="#222" stroke-width="0.8" />
<line x1="403.3" y1="373.1" x2="405.3" y2="373.1" stroke="#222" stroke-width="0.8" />
<line x1="403.3" y1="367.25" x2="405.3" y2="367.25" stroke="#222" stroke-width="0.8" />
<line x1="403.3" y1="362.48" x2="405.3" y2="362.48" stroke="#222" stroke-width="0.8" />
<line x1="403.3" y1="358.44" x2="405.3" y2="358.44" stroke="#222" stroke-width="0.8" />
<line x1="403.3" y1="354.94" x2="405.3" y2="354.94" stroke="#222" stroke-width="0.8" />
<line x1="403.3" y1="351.86" x2="405.3" y2="351.86" stroke="#222" stroke-width="0.8" />
<line x1="403.3" y1="330.95" x2="405.3" y2="330.95" stroke="#222" stroke-width="0.8" />
<line x1="403.3" y1="320.33" x2="405.3" y2="320.33" stroke="#222" stroke-width="0.8" />
<line x1="403.3" y1="312.8" x2="405.3" y2="312.8" stroke="#222" stroke-width="0.8" />
<line x1="403.3" y1="306.95" x2="405.3" y2="306.95" stroke="#222" stroke-width="0.8" />
<line x1="403.3" y1="302.18" x2="405.3" y2="302.18" stroke="#222" stroke-width="0.8" />
<line x1="403.3" y1="298.14" x2="405.3" y2="298.14" stroke="#222" stroke-width="0.8" />
<line x1="403.3" y1="294.64" x2="405.3" y2="294.64" stroke="#222" stroke-width="0.8" />
<line x1="403.3" y1="291.56" x2="405.3" y2="291.56" stroke="#222" stroke-width="0.8" />
<text x="529" y="521.6" font-family="Liberation Serif, serif" font-size="15.9" font-weight="bold" text-anchor="middle" fill="#000" >Strain (%)</text>
<text x="369.3" y="388.2" font-family="Liberation Serif, serif" font-size="15.0" font-weight="bold" text-anchor="middle" fill="#000" transform="rotate(-90 369.3 388.2)" >Shear moduli G' &amp; G'' (Pa)</text>
<text x="339.5" y="298.5" font-family="Liberation Serif, serif" font-size="24" font-weight="bold" text-anchor="start" fill="#000" >e</text>
<line x1="510" y1="287.9" x2="513.8" y2="287.9" stroke="#666" stroke-width="0.7" />
<line x1="529.1" y1="287.9" x2="533.2" y2="287.9" stroke="#666" stroke-width="0.7" />
<line x1="542.4" y1="287.9" x2="546.2" y2="287.9" stroke="#666" stroke-width="0.7" />
<line x1="561.5" y1="287.9" x2="565.6" y2="287.9" stroke="#666" stroke-width="0.7" />
<g fill="#000" stroke="#000" stroke-width="0.5">
<circle cx="521.5" cy="287.9" r="4"/>
</g>
<g fill="#fff" stroke="#000" stroke-width="0.9">
<circle cx="553.9" cy="287.9" r="3.4"/>
</g>
<text x="573.6" y="292.2" font-family="Liberation Serif, serif" font-size="14.1" font-weight="bold" text-anchor="start" fill="#000" >M.F. ≈ 80%</text>
<line x1="510" y1="309.8" x2="513.8" y2="309.8" stroke="#666" stroke-width="0.7" />
<line x1="529.1" y1="309.8" x2="533.2" y2="309.8" stroke="#666" stroke-width="0.7" />
<line x1="542.4" y1="309.8" x2="546.2" y2="309.8" stroke="#666" stroke-width="0.7" />
<line x1="561.5" y1="309.8" x2="565.6" y2="309.8" stroke="#666" stroke-width="0.7" />
<g fill="#e8232b" stroke="#e8232b" stroke-width="0.5">
<rect x="517.8" y="306.1" width="7.4" height="7.4"/>
</g>
<g fill="#fff" stroke="#e8232b" stroke-width="0.9">
<rect x="550.6" y="306.5" width="6.6" height="6.6"/>
</g>
<text x="573.6" y="314.1" font-family="Liberation Serif, serif" font-size="14.1" font-weight="bold" text-anchor="start" fill="#000" >M.F. ≈ 85%</text>
<line x1="510" y1="331.1" x2="513.8" y2="331.1" stroke="#666" stroke-width="0.7" />
<line x1="529.1" y1="331.1" x2="533.2" y2="331.1" stroke="#666" stroke-width="0.7" />
<line x1="542.4" y1="331.1" x2="546.2" y2="331.1" stroke="#666" stroke-width="0.7" />
<line x1="561.5" y1="331.1" x2="565.6" y2="331.1" stroke="#666" stroke-width="0.7" />
<g fill="#3a4fa5" stroke="#3a4fa5" stroke-width="0.5">
<path d="M515.97 331.1L521.5 325.56L527.03 331.1L521.5 336.64Z"/>
</g>
<g fill="#fff" stroke="#3a4fa5" stroke-width="0.9">
<path d="M548.77 331.1L553.9 325.97L559.03 331.1L553.9 336.23Z"/>
</g>
<text x="575.2" y="335.4" font-family="Liberation Serif, serif" font-size="14.1" font-weight="bold" text-anchor="start" fill="#000" >M.F. ≈ 95%</text>
<rect x="788.4" y="325.5" width="48.4" height="163.3" fill="#fce3e3"/>
<rect x="882.9" y="325.5" width="48.3" height="163.3" fill="#fce3e3"/>
<clipPath id="cf"><rect x="736.6" y="280" width="250" height="208.8"/></clipPath><g clip-path="url(#cf)">
<polyline fill="none" stroke="#222" stroke-width="0.55" points="741.67,366.64 742.6,366.19 743.54,365.87 744.48,365.68 745.41,365.49 746.35,365.36 747.29,365.28 748.22,365.21 749.16,365.13 750.1,365.06 751.03,365.02 751.97,365.01 752.91,364.99 753.84,364.98 754.78,364.97 755.71,364.96 756.65,364.95 757.59,364.94 758.52,364.93 759.46,364.91 760.4,364.9 761.33,364.89 762.27,364.88 763.21,364.87 764.14,364.86 765.08,364.85 766.01,364.83 766.95,364.82 767.89,364.81 768.82,364.8 769.76,364.79 770.7,364.78 771.63,364.77 772.57,364.75 773.51,364.74 774.44,364.73 775.38,364.72 776.32,364.71 777.25,364.7 778.19,364.68 779.12,364.67 780.06,364.66 781,364.65 781.93,364.64 782.87,364.63 783.81,364.62 784.74,364.6 785.68,364.59 786.62,364.58 787.55,364.57 788.02,438.16 788.96,428.1 789.89,426.16 790.83,425.98 791.77,425.8 792.7,425.61 793.64,425.57 794.57,425.53 795.51,425.49 796.45,425.45 797.38,425.4 798.32,425.36 799.26,425.32 800.19,425.28 801.13,425.24 802.07,425.19 803,425.15 803.94,425.11 804.88,425.07 805.81,425.03 806.75,424.98 807.68,424.94 808.62,424.9 809.56,424.86 810.49,424.82 811.43,424.77 812.37,424.73 813.3,424.69 814.24,424.65 815.18,424.61 816.11,424.56 817.05,424.52 817.98,424.48 818.92,424.44 819.86,424.4 820.79,424.35 821.73,424.31 822.67,424.27 823.6,424.23 824.54,424.19 825.48,424.14 826.41,424.1 827.35,424.06 828.29,424.02 829.22,423.98 830.16,423.93 831.09,423.89 832.03,423.85 832.97,423.81 833.9,423.77 834.84,423.72 835.31,413 836.24,399.89 837.18,358.59 838.12,358.9 839.05,367.15 839.99,373.11 840.93,378.53 841.86,381.77 842.8,384.18 843.74,382.11 844.67,373.81 845.61,369.23 846.55,366.64 847.48,365.32 848.42,364.28 849.35,363.93 850.29,363.57 851.23,363.21 852.16,362.85 853.1,362.85 854.04,362.85 854.97,362.85 855.91,362.85 856.85,362.85 857.78,362.85 858.72,362.85 859.65,362.86 860.59,362.86 861.53,362.86 862.46,362.87 863.4,362.87 864.34,362.87 865.27,362.88 866.21,362.88 867.15,362.88 868.08,362.89 869.02,362.89 869.96,362.89 870.89,362.9 871.83,362.9 872.76,362.9 873.7,362.91 874.64,362.91 875.57,362.91 876.51,362.92 877.45,362.92 878.38,362.92 879.32,362.93 880.26,362.93 881.19,362.93 882.13,428.51 883.06,428.83 884,428.51 884.94,428.22 885.87,428.05 886.81,427.88 887.75,427.71 888.68,427.53 889.62,427.36 890.56,427.19 891.49,427.02 892.43,426.84 893.37,426.65 894.3,426.47 895.24,426.29 896.17,426.11 897.11,425.93 898.05,425.75 898.98,425.57 899.92,425.39 900.86,425.21 901.79,425.02 902.73,424.84 903.67,424.66 904.6,424.48 905.54,424.29 906.47,424.08 907.41,423.87 908.35,423.66 909.28,423.45 910.22,423.24 911.16,423.03 912.09,422.82 913.03,422.61 913.97,422.4 914.9,422.19 915.84,421.99 916.77,421.78 917.71,421.57 918.65,421.36 919.58,421.12 920.52,420.85 921.46,420.57 922.39,420.3 923.33,420.03 924.27,419.76 925.2,419.49 926.14,419.22 927.08,418.94 928.01,418.67 928.95,414 929.88,352.05 930.82,361.07 931.76,368.05 932.69,373 933.63,377.21 934.57,381.91 935.5,387.11 936.44,384.14 937.38,376 938.31,371.07 939.25,367.44 940.18,365.65 941.12,364.63 942.06,363.79 942.99,363.11 943.93,362.68 944.87,362.5 945.8,362.32 946.74,362.14 947.68,362.04 948.61,362.03 949.55,362.02 950.49,362.02 951.42,362.01 952.36,362 953.29,361.99 954.23,361.99 955.17,361.98 956.1,361.97 957.04,361.97 957.98,361.98 958.91,362 959.85,362.01 960.79,362.02 961.72,362.03 962.66,362.04 963.6,362.05 964.53,362.07 965.47,362.08 966.4,362.09 967.34,362.1 968.28,362.11 969.21,362.13 970.15,362.14 971.09,362.15 972.02,362.16 972.96,362.17 973.9,362.19 974.83,362.2" />
<g fill="#000" stroke="#000" stroke-width="0.4">
<circle cx="741.67" cy="366.64" r="2.1"/>
<circle cx="742.6" cy="366.19" r="2.1"/>
<circle cx="743.54" cy="365.87" r="2.1"/>
<circle cx="744.48" cy="365.68" r="2.1"/>
<circle cx="745.41" cy="365.49" r="2.1"/>
<circle cx="746.35" cy="365.36" r="2.1"/>
<circle cx="747.29" cy="365.28" r="2.1"/>
<circle cx="748.22" cy="365.21" r="2.1"/>
<circle cx="749.16" cy="365.13" r="2.1"/>
<circle cx="750.1" cy="365.06" r="2.1"/>
<circle cx="751.03" cy="365.02" r="2.1"/>
<circle cx="751.97" cy="365.01" r="2.1"/>
<circle cx="752.91" cy="364.99" r="2.1"/>
<circle cx="753.84" cy="364.98" r="2.1"/>
<circle cx="754.78" cy="364.97" r="2.1"/>
<circle cx="755.71" cy="364.96" r="2.1"/>
<circle cx="756.65" cy="364.95" r="2.1"/>
<circle cx="757.59" cy="364.94" r="2.1"/>
<circle cx="758.52" cy="364.93" r="2.1"/>
<circle cx="759.46" cy="364.91" r="2.1"/>
<circle cx="760.4" cy="364.9" r="2.1"/>
<circle cx="761.33" cy="364.89" r="2.1"/>
<circle cx="762.27" cy="364.88" r="2.1"/>
<circle cx="763.21" cy="364.87" r="2.1"/>
<circle cx="764.14" cy="364.86" r="2.1"/>
<circle cx="765.08" cy="364.85" r="2.1"/>
<circle cx="766.01" cy="364.83" r="2.1"/>
<circle cx="766.95" cy="364.82" r="2.1"/>
<circle cx="767.89" cy="364.81" r="2.1"/>
<circle cx="768.82" cy="364.8" r="2.1"/>
<circle cx="769.76" cy="364.79" r="2.1"/>
<circle cx="770.7" cy="364.78" r="2.1"/>
<circle cx="771.63" cy="364.77" r="2.1"/>
<circle cx="772.57" cy="364.75" r="2.1"/>
<circle cx="773.51" cy="364.74" r="2.1"/>
<circle cx="774.44" cy="364.73" r="2.1"/>
<circle cx="775.38" cy="364.72" r="2.1"/>
<circle cx="776.32" cy="364.71" r="2.1"/>
<circle cx="777.25" cy="364.7" r="2.1"/>
<circle cx="778.19" cy="364.68" r="2.1"/>
<circle cx="779.12" cy="364.67" r="2.1"/>
<circle cx="780.06" cy="364.66" r="2.1"/>
<circle cx="781" cy="364.65" r="2.1"/>
<circle cx="781.93" cy="364.64" r="2.1"/>
<circle cx="782.87" cy="364.63" r="2.1"/>
<circle cx="783.81" cy="364.62" r="2.1"/>
<circle cx="784.74" cy="364.6" r="2.1"/>
<circle cx="785.68" cy="364.59" r="2.1"/>
<circle cx="786.62" cy="364.58" r="2.1"/>
<circle cx="787.55" cy="364.57" r="2.1"/>
<circle cx="788.02" cy="438.16" r="2.1"/>
<circle cx="788.96" cy="428.1" r="2.1"/>
<circle cx="789.89" cy="426.16" r="2.1"/>
<circle cx="790.83" cy="425.98" r="2.1"/>
<circle cx="791.77" cy="425.8" r="2.1"/>
<circle cx="792.7" cy="425.61" r="2.1"/>
<circle cx="793.64" cy="425.57" r="2.1"/>
<circle cx="794.57" cy="425.53" r="2.1"/>
<circle cx="795.51" cy="425.49" r="2.1"/>
<circle cx="796.45" cy="425.45" r="2.1"/>
<circle cx="797.38" cy="425.4" r="2.1"/>
<circle cx="798.32" cy="425.36" r="2.1"/>
<circle cx="799.26" cy="425.32" r="2.1"/>
<circle cx="800.19" cy="425.28" r="2.1"/>
<circle cx="801.13" cy="425.24" r="2.1"/>
<circle cx="802.07" cy="425.19" r="2.1"/>
<circle cx="803" cy="425.15" r="2.1"/>
<circle cx="803.94" cy="425.11" r="2.1"/>
<circle cx="804.88" cy="425.07" r="2.1"/>
<circle cx="805.81" cy="425.03" r="2.1"/>
<circle cx="806.75" cy="424.98" r="2.1"/>
<circle cx="807.68" cy="424.94" r="2.1"/>
<circle cx="808.62" cy="424.9" r="2.1"/>
<circle cx="809.56" cy="424.86" r="2.1"/>
<circle cx="810.49" cy="424.82" r="2.1"/>
<circle cx="811.43" cy="424.77" r="2.1"/>
<circle cx="812.37" cy="424.73" r="2.1"/>
<circle cx="813.3" cy="424.69" r="2.1"/>
<circle cx="814.24" cy="424.65" r="2.1"/>
<circle cx="815.18" cy="424.61" r="2.1"/>
<circle cx="816.11" cy="424.56" r="2.1"/>
<circle cx="817.05" cy="424.52" r="2.1"/>
<circle cx="817.98" cy="424.48" r="2.1"/>
<circle cx="818.92" cy="424.44" r="2.1"/>
<circle cx="819.86" cy="424.4" r="2.1"/>
<circle cx="820.79" cy="424.35" r="2.1"/>
<circle cx="821.73" cy="424.31" r="2.1"/>
<circle cx="822.67" cy="424.27" r="2.1"/>
<circle cx="823.6" cy="424.23" r="2.1"/>
<circle cx="824.54" cy="424.19" r="2.1"/>
<circle cx="825.48" cy="424.14" r="2.1"/>
<circle cx="826.41" cy="424.1" r="2.1"/>
<circle cx="827.35" cy="424.06" r="2.1"/>
<circle cx="828.29" cy="424.02" r="2.1"/>
<circle cx="829.22" cy="423.98" r="2.1"/>
<circle cx="830.16" cy="423.93" r="2.1"/>
<circle cx="831.09" cy="423.89" r="2.1"/>
<circle cx="832.03" cy="423.85" r="2.1"/>
<circle cx="832.97" cy="423.81" r="2.1"/>
<circle cx="833.9" cy="423.77" r="2.1"/>
<circle cx="834.84" cy="423.72" r="2.1"/>
<circle cx="835.31" cy="413" r="2.1"/>
<circle cx="836.24" cy="399.89" r="2.1"/>
<circle cx="837.18" cy="358.59" r="2.1"/>
<circle cx="838.12" cy="358.9" r="2.1"/>
<circle cx="839.05" cy="367.15" r="2.1"/>
<circle cx="839.99" cy="373.11" r="2.1"/>
<circle cx="840.93" cy="378.53" r="2.1"/>
<circle cx="841.86" cy="381.77" r="2.1"/>
<circle cx="842.8" cy="384.18" r="2.1"/>
<circle cx="843.74" cy="382.11" r="2.1"/>
<circle cx="844.67" cy="373.81" r="2.1"/>
<circle cx="845.61" cy="369.23" r="2.1"/>
<circle cx="846.55" cy="366.64" r="2.1"/>
<circle cx="847.48" cy="365.32" r="2.1"/>
<circle cx="848.42" cy="364.28" r="2.1"/>
<circle cx="849.35" cy="363.93" r="2.1"/>
<circle cx="850.29" cy="363.57" r="2.1"/>
<circle cx="851.23" cy="363.21" r="2.1"/>
<circle cx="852.16" cy="362.85" r="2.1"/>
<circle cx="853.1" cy="362.85" r="2.1"/>
<circle cx="854.04" cy="362.85" r="2.1"/>
<circle cx="854.97" cy="362.85" r="2.1"/>
<circle cx="855.91" cy="362.85" r="2.1"/>
<circle cx="856.85" cy="362.85" r="2.1"/>
<circle cx="857.78" cy="362.85" r="2.1"/>
<circle cx="858.72" cy="362.85" r="2.1"/>
<circle cx="859.65" cy="362.86" r="2.1"/>
<circle cx="860.59" cy="362.86" r="2.1"/>
<circle cx="861.53" cy="362.86" r="2.1"/>
<circle cx="862.46" cy="362.87" r="2.1"/>
<circle cx="863.4" cy="362.87" r="2.1"/>
<circle cx="864.34" cy="362.87" r="2.1"/>
<circle cx="865.27" cy="362.88" r="2.1"/>
<circle cx="866.21" cy="362.88" r="2.1"/>
<circle cx="867.15" cy="362.88" r="2.1"/>
<circle cx="868.08" cy="362.89" r="2.1"/>
<circle cx="869.02" cy="362.89" r="2.1"/>
<circle cx="869.96" cy="362.89" r="2.1"/>
<circle cx="870.89" cy="362.9" r="2.1"/>
<circle cx="871.83" cy="362.9" r="2.1"/>
<circle cx="872.76" cy="362.9" r="2.1"/>
<circle cx="873.7" cy="362.91" r="2.1"/>
<circle cx="874.64" cy="362.91" r="2.1"/>
<circle cx="875.57" cy="362.91" r="2.1"/>
<circle cx="876.51" cy="362.92" r="2.1"/>
<circle cx="877.45" cy="362.92" r="2.1"/>
<circle cx="878.38" cy="362.92" r="2.1"/>
<circle cx="879.32" cy="362.93" r="2.1"/>
<circle cx="880.26" cy="362.93" r="2.1"/>
<circle cx="881.19" cy="362.93" r="2.1"/>
<circle cx="882.13" cy="428.51" r="2.1"/>
<circle cx="883.06" cy="428.83" r="2.1"/>
<circle cx="884" cy="428.51" r="2.1"/>
<circle cx="884.94" cy="428.22" r="2.1"/>
<circle cx="885.87" cy="428.05" r="2.1"/>
<circle cx="886.81" cy="427.88" r="2.1"/>
<circle cx="887.75" cy="427.71" r="2.1"/>
<circle cx="888.68" cy="427.53" r="2.1"/>
<circle cx="889.62" cy="427.36" r="2.1"/>
<circle cx="890.56" cy="427.19" r="2.1"/>
<circle cx="891.49" cy="427.02" r="2.1"/>
<circle cx="892.43" cy="426.84" r="2.1"/>
<circle cx="893.37" cy="426.65" r="2.1"/>
<circle cx="894.3" cy="426.47" r="2.1"/>
<circle cx="895.24" cy="426.29" r="2.1"/>
<circle cx="896.17" cy="426.11" r="2.1"/>
<circle cx="897.11" cy="425.93" r="2.1"/>
<circle cx="898.05" cy="425.75" r="2.1"/>
<circle cx="898.98" cy="425.57" r="2.1"/>
<circle cx="899.92" cy="425.39" r="2.1"/>
<circle cx="900.86" cy="425.21" r="2.1"/>
<circle cx="901.79" cy="425.02" r="2.1"/>
<circle cx="902.73" cy="424.84" r="2.1"/>
<circle cx="903.67" cy="424.66" r="2.1"/>
<circle cx="904.6" cy="424.48" r="2.1"/>
<circle cx="905.54" cy="424.29" r="2.1"/>
<circle cx="906.47" cy="424.08" r="2.1"/>
<circle cx="907.41" cy="423.87" r="2.1"/>
<circle cx="908.35" cy="423.66" r="2.1"/>
<circle cx="909.28" cy="423.45" r="2.1"/>
<circle cx="910.22" cy="423.24" r="2.1"/>
<circle cx="911.16" cy="423.03" r="2.1"/>
<circle cx="912.09" cy="422.82" r="2.1"/>
<circle cx="913.03" cy="422.61" r="2.1"/>
<circle cx="913.97" cy="422.4" r="2.1"/>
<circle cx="914.9" cy="422.19" r="2.1"/>
<circle cx="915.84" cy="421.99" r="2.1"/>
<circle cx="916.77" cy="421.78" r="2.1"/>
<circle cx="917.71" cy="421.57" r="2.1"/>
<circle cx="918.65" cy="421.36" r="2.1"/>
<circle cx="919.58" cy="421.12" r="2.1"/>
<circle cx="920.52" cy="420.85" r="2.1"/>
<circle cx="921.46" cy="420.57" r="2.1"/>
<circle cx="922.39" cy="420.3" r="2.1"/>
<circle cx="923.33" cy="420.03" r="2.1"/>
<circle cx="924.27" cy="419.76" r="2.1"/>
<circle cx="925.2" cy="419.49" r="2.1"/>
<circle cx="926.14" cy="419.22" r="2.1"/>
<circle cx="927.08" cy="418.94" r="2.1"/>
<circle cx="928.01" cy="418.67" r="2.1"/>
<circle cx="928.95" cy="414" r="2.1"/>
<circle cx="929.88" cy="352.05" r="2.1"/>
<circle cx="930.82" cy="361.07" r="2.1"/>
<circle cx="931.76" cy="368.05" r="2.1"/>
<circle cx="932.69" cy="373" r="2.1"/>
<circle cx="933.63" cy="377.21" r="2.1"/>
<circle cx="934.57" cy="381.91" r="2.1"/>
<circle cx="935.5" cy="387.11" r="2.1"/>
<circle cx="936.44" cy="384.14" r="2.1"/>
<circle cx="937.38" cy="376" r="2.1"/>
<circle cx="938.31" cy="371.07" r="2.1"/>
<circle cx="939.25" cy="367.44" r="2.1"/>
<circle cx="940.18" cy="365.65" r="2.1"/>
<circle cx="941.12" cy="364.63" r="2.1"/>
<circle cx="942.06" cy="363.79" r="2.1"/>
<circle cx="942.99" cy="363.11" r="2.1"/>
<circle cx="943.93" cy="362.68" r="2.1"/>
<circle cx="944.87" cy="362.5" r="2.1"/>
<circle cx="945.8" cy="362.32" r="2.1"/>
<circle cx="946.74" cy="362.14" r="2.1"/>
<circle cx="947.68" cy="362.04" r="2.1"/>
<circle cx="948.61" cy="362.03" r="2.1"/>
<circle cx="949.55" cy="362.02" r="2.1"/>
<circle cx="950.49" cy="362.02" r="2.1"/>
<circle cx="951.42" cy="362.01" r="2.1"/>
<circle cx="952.36" cy="362" r="2.1"/>
<circle cx="953.29" cy="361.99" r="2.1"/>
<circle cx="954.23" cy="361.99" r="2.1"/>
<circle cx="955.17" cy="361.98" r="2.1"/>
<circle cx="956.1" cy="361.97" r="2.1"/>
<circle cx="957.04" cy="361.97" r="2.1"/>
<circle cx="957.98" cy="361.98" r="2.1"/>
<circle cx="958.91" cy="362" r="2.1"/>
<circle cx="959.85" cy="362.01" r="2.1"/>
<circle cx="960.79" cy="362.02" r="2.1"/>
<circle cx="961.72" cy="362.03" r="2.1"/>
<circle cx="962.66" cy="362.04" r="2.1"/>
<circle cx="963.6" cy="362.05" r="2.1"/>
<circle cx="964.53" cy="362.07" r="2.1"/>
<circle cx="965.47" cy="362.08" r="2.1"/>
<circle cx="966.4" cy="362.09" r="2.1"/>
<circle cx="967.34" cy="362.1" r="2.1"/>
<circle cx="968.28" cy="362.11" r="2.1"/>
<circle cx="969.21" cy="362.13" r="2.1"/>
<circle cx="970.15" cy="362.14" r="2.1"/>
<circle cx="971.09" cy="362.15" r="2.1"/>
<circle cx="972.02" cy="362.16" r="2.1"/>
<circle cx="972.96" cy="362.17" r="2.1"/>
<circle cx="973.9" cy="362.19" r="2.1"/>
<circle cx="974.83" cy="362.2" r="2.1"/>
</g>
<g fill="#3a1a1e" stroke="#3a1a1e" stroke-width="0.3">
<circle cx="791.77" cy="425.8" r="2"/>
<circle cx="792.7" cy="425.61" r="2"/>
<circle cx="793.64" cy="425.57" r="2"/>
<circle cx="794.57" cy="425.53" r="2"/>
<circle cx="795.51" cy="425.49" r="2"/>
<circle cx="796.45" cy="425.45" r="2"/>
<circle cx="797.38" cy="425.4" r="2"/>
<circle cx="798.32" cy="425.36" r="2"/>
<circle cx="799.26" cy="425.32" r="2"/>
<circle cx="800.19" cy="425.28" r="2"/>
<circle cx="801.13" cy="425.24" r="2"/>
<circle cx="802.07" cy="425.19" r="2"/>
<circle cx="803" cy="425.15" r="2"/>
<circle cx="803.94" cy="425.11" r="2"/>
<circle cx="804.88" cy="425.07" r="2"/>
<circle cx="805.81" cy="425.03" r="2"/>
<circle cx="806.75" cy="424.98" r="2"/>
<circle cx="807.68" cy="424.94" r="2"/>
<circle cx="808.62" cy="424.9" r="2"/>
<circle cx="809.56" cy="424.86" r="2"/>
<circle cx="810.49" cy="424.82" r="2"/>
<circle cx="811.43" cy="424.77" r="2"/>
<circle cx="812.37" cy="424.73" r="2"/>
<circle cx="813.3" cy="424.69" r="2"/>
<circle cx="814.24" cy="424.65" r="2"/>
<circle cx="815.18" cy="424.61" r="2"/>
<circle cx="816.11" cy="424.56" r="2"/>
<circle cx="817.05" cy="424.52" r="2"/>
<circle cx="817.98" cy="424.48" r="2"/>
<circle cx="818.92" cy="424.44" r="2"/>
<circle cx="819.86" cy="424.4" r="2"/>
<circle cx="820.79" cy="424.35" r="2"/>
<circle cx="821.73" cy="424.31" r="2"/>
<circle cx="822.67" cy="424.27" r="2"/>
<circle cx="823.6" cy="424.23" r="2"/>
<circle cx="824.54" cy="424.19" r="2"/>
<circle cx="825.48" cy="424.14" r="2"/>
<circle cx="826.41" cy="424.1" r="2"/>
<circle cx="827.35" cy="424.06" r="2"/>
<circle cx="828.29" cy="424.02" r="2"/>
<circle cx="829.22" cy="423.98" r="2"/>
<circle cx="830.16" cy="423.93" r="2"/>
<circle cx="831.09" cy="423.89" r="2"/>
<circle cx="832.03" cy="423.85" r="2"/>
<circle cx="832.97" cy="423.81" r="2"/>
<circle cx="833.9" cy="423.77" r="2"/>
<circle cx="834.84" cy="423.72" r="2"/>
<circle cx="885.87" cy="428.05" r="2"/>
<circle cx="886.81" cy="427.88" r="2"/>
<circle cx="887.75" cy="427.71" r="2"/>
<circle cx="888.68" cy="427.53" r="2"/>
<circle cx="889.62" cy="427.36" r="2"/>
<circle cx="890.56" cy="427.19" r="2"/>
<circle cx="891.49" cy="427.02" r="2"/>
<circle cx="892.43" cy="426.84" r="2"/>
<circle cx="893.37" cy="426.65" r="2"/>
<circle cx="894.3" cy="426.47" r="2"/>
<circle cx="895.24" cy="426.29" r="2"/>
<circle cx="896.17" cy="426.11" r="2"/>
<circle cx="897.11" cy="425.93" r="2"/>
<circle cx="898.05" cy="425.75" r="2"/>
<circle cx="898.98" cy="425.57" r="2"/>
<circle cx="899.92" cy="425.39" r="2"/>
<circle cx="900.86" cy="425.21" r="2"/>
<circle cx="901.79" cy="425.02" r="2"/>
<circle cx="902.73" cy="424.84" r="2"/>
<circle cx="903.67" cy="424.66" r="2"/>
<circle cx="904.6" cy="424.48" r="2"/>
<circle cx="905.54" cy="424.29" r="2"/>
<circle cx="906.47" cy="424.08" r="2"/>
<circle cx="907.41" cy="423.87" r="2"/>
<circle cx="908.35" cy="423.66" r="2"/>
<circle cx="909.28" cy="423.45" r="2"/>
<circle cx="910.22" cy="423.24" r="2"/>
<circle cx="911.16" cy="423.03" r="2"/>
<circle cx="912.09" cy="422.82" r="2"/>
<circle cx="913.03" cy="422.61" r="2"/>
<circle cx="913.97" cy="422.4" r="2"/>
<circle cx="914.9" cy="422.19" r="2"/>
<circle cx="915.84" cy="421.99" r="2"/>
<circle cx="916.77" cy="421.78" r="2"/>
<circle cx="917.71" cy="421.57" r="2"/>
<circle cx="918.65" cy="421.36" r="2"/>
<circle cx="919.58" cy="421.12" r="2"/>
<circle cx="920.52" cy="420.85" r="2"/>
<circle cx="921.46" cy="420.57" r="2"/>
<circle cx="922.39" cy="420.3" r="2"/>
<circle cx="923.33" cy="420.03" r="2"/>
<circle cx="924.27" cy="419.76" r="2"/>
<circle cx="925.2" cy="419.49" r="2"/>
<circle cx="926.14" cy="419.22" r="2"/>
<circle cx="927.08" cy="418.94" r="2"/>
<circle cx="928.01" cy="418.67" r="2"/>
</g>
<polyline fill="none" stroke="#333" stroke-width="0.55" points="742.14,471.68 743.07,452.8 744.01,446.89 744.95,447.34 745.88,445.18 746.82,445.15 747.75,445.47 748.69,443.88 749.63,444.95 750.56,443.84 751.5,444.65 752.44,444.49 753.37,443.66 754.31,442.7 755.25,444.44 756.18,444.2 757.12,443.21 758.06,442.47 758.99,443.36 759.93,443.81 760.86,442.44 761.8,444.72 762.74,442.73 763.67,444.12 764.61,444.5 765.55,444.58 766.48,444.11 767.42,442.89 768.36,444.46 769.29,443.47 770.23,443.35 771.16,444.01 772.1,443.59 773.04,444.82 773.97,444.84 774.91,444.47 775.85,443.32 776.78,443.94 777.72,444.24 778.66,443.58 779.59,443.92 780.53,444.31 781.47,443.12 782.4,443.36 783.34,444.48 784.27,443.68 785.21,443.81 786.15,442.99 787.08,443.34 788.02,443.9 788.02,402.04 788.96,408.34 789.89,409.39 790.83,409.25 791.77,409.11 792.7,408.97 793.64,408.83 794.57,408.69 795.51,408.55 796.45,408.41 797.38,408.27 798.32,408.21 799.26,408.14 800.19,408.08 801.13,408.02 802.07,407.96 803,407.89 803.94,407.83 804.88,407.77 805.81,407.7 806.75,407.64 807.68,407.58 808.62,407.51 809.56,407.45 810.49,407.39 811.43,407.32 812.37,407.26 813.3,407.2 814.24,407.14 815.18,407.07 816.11,407.01 817.05,406.95 817.98,406.88 818.92,406.82 819.86,406.76 820.79,406.69 821.73,406.63 822.67,406.57 823.6,406.5 824.54,406.44 825.48,406.38 826.41,406.31 827.35,406.25 828.29,406.19 829.22,406.13 830.16,406.06 831.09,406 832.03,405.94 832.97,405.87 833.9,405.81 834.84,405.75 835.31,475.99 835.78,344.79 836.24,333.62 836.71,322.44 837.18,332.05 837.65,341.66 838.12,359.6 838.59,377.54 839.05,385.53 839.52,391.69 839.99,395.09 840.46,397.24 840.93,399.09 841.39,400.94 841.86,403.34 842.33,405.75 848.04,470.67 848.98,460.22 849.92,454.01 850.85,447.53 851.79,442.65 852.73,440.1 853.66,437.71 854.6,437.48 855.53,436.04 856.47,435.32 857.41,435.43 858.34,434.95 859.28,435.52 860.22,434.94 861.15,434.97 862.09,435.2 863.03,435.57 863.96,435.32 864.9,435.4 865.83,436.18 866.77,436.16 867.71,437.11 868.64,436.48 869.58,436.69 870.52,436.43 871.45,436.79 872.39,437.59 873.33,437.62 874.26,437.43 875.2,438.38 876.14,437.99 877.07,438.5 878.01,438.72 878.94,438.94 879.88,438.22 880.82,439.16 882.13,403.81 883.06,410.29 884,409.73 884.94,409.34 885.87,409.12 886.81,408.9 887.75,408.67 888.68,408.45 889.62,408.23 890.56,408 891.49,407.82 892.43,407.69 893.37,407.56 894.3,407.43 895.24,407.3 896.17,407.16 897.11,407.03 898.05,406.9 898.98,406.77 899.92,406.64 900.86,406.5 901.79,406.37 902.73,406.24 903.67,406.11 904.6,405.98 905.54,405.84 906.47,405.71 907.41,405.58 908.35,405.45 909.28,405.32 910.22,405.18 911.16,405.05 912.09,404.92 913.03,404.79 913.97,404.66 914.9,404.52 915.84,404.39 916.77,404.26 917.71,404.13 918.65,404 919.58,403.86 920.52,403.73 921.46,403.6 922.39,403.47 923.33,403.34 924.27,403.2 925.2,403.07 926.14,402.94 927.08,402.81 928.01,402.68 928.95,359.31 929.88,369.47 930.82,376.67 931.76,384.54 932.69,389.13 933.63,394.15 934.57,398.78 935.5,402.67 936.44,406.23 937.38,410.65 938.31,416.8 939.25,426.3 940.18,437.88 941.12,461.87 942.06,456.16 942.99,448.94 943.93,444.34 944.87,441.91 945.8,439.49 946.74,437.71 947.68,436.64 948.61,436.62 949.55,435.48 950.49,435.11 951.42,434.34 952.36,433.57 953.29,434.13 954.23,434.56 955.17,434.53 956.1,434.58 957.04,435.75 957.98,434.51 958.91,434.84 959.85,434.84 960.79,435.1 961.72,435.9 962.66,436.03 963.6,436.67 964.53,435.94 965.47,437.03 966.4,437.16 967.34,437.07 968.28,437.3 969.21,437.15 970.15,437.77 971.09,438 972.02,437.89 972.96,438.12 973.9,437.83 974.83,438.54" />
<g fill="#fff" stroke="#222" stroke-width="0.6">
<circle cx="742.14" cy="471.68" r="1.9"/>
<circle cx="743.07" cy="452.8" r="1.9"/>
<circle cx="744.01" cy="446.89" r="1.9"/>
<circle cx="744.95" cy="447.34" r="1.9"/>
<circle cx="745.88" cy="445.18" r="1.9"/>
<circle cx="746.82" cy="445.15" r="1.9"/>
<circle cx="747.75" cy="445.47" r="1.9"/>
<circle cx="748.69" cy="443.88" r="1.9"/>
<circle cx="749.63" cy="444.95" r="1.9"/>
<circle cx="750.56" cy="443.84" r="1.9"/>
<circle cx="751.5" cy="444.65" r="1.9"/>
<circle cx="752.44" cy="444.49" r="1.9"/>
<circle cx="753.37" cy="443.66" r="1.9"/>
<circle cx="754.31" cy="442.7" r="1.9"/>
<circle cx="755.25" cy="444.44" r="1.9"/>
<circle cx="756.18" cy="444.2" r="1.9"/>
<circle cx="757.12" cy="443.21" r="1.9"/>
<circle cx="758.06" cy="442.47" r="1.9"/>
<circle cx="758.99" cy="443.36" r="1.9"/>
<circle cx="759.93" cy="443.81" r="1.9"/>
<circle cx="760.86" cy="442.44" r="1.9"/>
<circle cx="761.8" cy="444.72" r="1.9"/>
<circle cx="762.74" cy="442.73" r="1.9"/>
<circle cx="763.67" cy="444.12" r="1.9"/>
<circle cx="764.61" cy="444.5" r="1.9"/>
<circle cx="765.55" cy="444.58" r="1.9"/>
<circle cx="766.48" cy="444.11" r="1.9"/>
<circle cx="767.42" cy="442.89" r="1.9"/>
<circle cx="768.36" cy="444.46" r="1.9"/>
<circle cx="769.29" cy="443.47" r="1.9"/>
<circle cx="770.23" cy="443.35" r="1.9"/>
<circle cx="771.16" cy="444.01" r="1.9"/>
<circle cx="772.1" cy="443.59" r="1.9"/>
<circle cx="773.04" cy="444.82" r="1.9"/>
<circle cx="773.97" cy="444.84" r="1.9"/>
<circle cx="774.91" cy="444.47" r="1.9"/>
<circle cx="775.85" cy="443.32" r="1.9"/>
<circle cx="776.78" cy="443.94" r="1.9"/>
<circle cx="777.72" cy="444.24" r="1.9"/>
<circle cx="778.66" cy="443.58" r="1.9"/>
<circle cx="779.59" cy="443.92" r="1.9"/>
<circle cx="780.53" cy="444.31" r="1.9"/>
<circle cx="781.47" cy="443.12" r="1.9"/>
<circle cx="782.4" cy="443.36" r="1.9"/>
<circle cx="783.34" cy="444.48" r="1.9"/>
<circle cx="784.27" cy="443.68" r="1.9"/>
<circle cx="785.21" cy="443.81" r="1.9"/>
<circle cx="786.15" cy="442.99" r="1.9"/>
<circle cx="787.08" cy="443.34" r="1.9"/>
<circle cx="757.12" cy="438.84" r="1.9"/>
<circle cx="788.02" cy="402.04" r="1.9"/>
<circle cx="788.96" cy="408.34" r="1.9"/>
<circle cx="789.89" cy="409.39" r="1.9"/>
<circle cx="790.83" cy="409.25" r="1.9"/>
<circle cx="791.77" cy="409.11" r="1.9"/>
<circle cx="792.7" cy="408.97" r="1.9"/>
<circle cx="793.64" cy="408.83" r="1.9"/>
<circle cx="794.57" cy="408.69" r="1.9"/>
<circle cx="795.51" cy="408.55" r="1.9"/>
<circle cx="796.45" cy="408.41" r="1.9"/>
<circle cx="797.38" cy="408.27" r="1.9"/>
<circle cx="798.32" cy="408.21" r="1.9"/>
<circle cx="799.26" cy="408.14" r="1.9"/>
<circle cx="800.19" cy="408.08" r="1.9"/>
<circle cx="801.13" cy="408.02" r="1.9"/>
<circle cx="802.07" cy="407.96" r="1.9"/>
<circle cx="803" cy="407.89" r="1.9"/>
<circle cx="803.94" cy="407.83" r="1.9"/>
<circle cx="804.88" cy="407.77" r="1.9"/>
<circle cx="805.81" cy="407.7" r="1.9"/>
<circle cx="806.75" cy="407.64" r="1.9"/>
<circle cx="807.68" cy="407.58" r="1.9"/>
<circle cx="808.62" cy="407.51" r="1.9"/>
<circle cx="809.56" cy="407.45" r="1.9"/>
<circle cx="810.49" cy="407.39" r="1.9"/>
<circle cx="811.43" cy="407.32" r="1.9"/>
<circle cx="812.37" cy="407.26" r="1.9"/>
<circle cx="813.3" cy="407.2" r="1.9"/>
<circle cx="814.24" cy="407.14" r="1.9"/>
<circle cx="815.18" cy="407.07" r="1.9"/>
<circle cx="816.11" cy="407.01" r="1.9"/>
<circle cx="817.05" cy="406.95" r="1.9"/>
<circle cx="817.98" cy="406.88" r="1.9"/>
<circle cx="818.92" cy="406.82" r="1.9"/>
<circle cx="819.86" cy="406.76" r="1.9"/>
<circle cx="820.79" cy="406.69" r="1.9"/>
<circle cx="821.73" cy="406.63" r="1.9"/>
<circle cx="822.67" cy="406.57" r="1.9"/>
<circle cx="823.6" cy="406.5" r="1.9"/>
<circle cx="824.54" cy="406.44" r="1.9"/>
<circle cx="825.48" cy="406.38" r="1.9"/>
<circle cx="826.41" cy="406.31" r="1.9"/>
<circle cx="827.35" cy="406.25" r="1.9"/>
<circle cx="828.29" cy="406.19" r="1.9"/>
<circle cx="829.22" cy="406.13" r="1.9"/>
<circle cx="830.16" cy="406.06" r="1.9"/>
<circle cx="831.09" cy="406" r="1.9"/>
<circle cx="832.03" cy="405.94" r="1.9"/>
<circle cx="832.97" cy="405.87" r="1.9"/>
<circle cx="833.9" cy="405.81" r="1.9"/>
<circle cx="834.84" cy="405.75" r="1.9"/>
<circle cx="835.78" cy="344.79" r="1.9"/>
<circle cx="836.24" cy="333.62" r="1.9"/>
<circle cx="836.71" cy="322.44" r="1.9"/>
<circle cx="837.18" cy="332.05" r="1.9"/>
<circle cx="837.65" cy="341.66" r="1.9"/>
<circle cx="838.12" cy="359.6" r="1.9"/>
<circle cx="838.59" cy="377.54" r="1.9"/>
<circle cx="839.05" cy="385.53" r="1.9"/>
<circle cx="839.52" cy="391.69" r="1.9"/>
<circle cx="839.99" cy="395.09" r="1.9"/>
<circle cx="840.46" cy="397.24" r="1.9"/>
<circle cx="840.93" cy="399.09" r="1.9"/>
<circle cx="841.39" cy="400.94" r="1.9"/>
<circle cx="841.86" cy="403.34" r="1.9"/>
<circle cx="842.33" cy="405.75" r="1.9"/>
<circle cx="848.04" cy="470.67" r="1.9"/>
<circle cx="848.98" cy="460.22" r="1.9"/>
<circle cx="849.92" cy="454.01" r="1.9"/>
<circle cx="850.85" cy="447.53" r="1.9"/>
<circle cx="851.79" cy="442.65" r="1.9"/>
<circle cx="852.73" cy="440.1" r="1.9"/>
<circle cx="853.66" cy="437.71" r="1.9"/>
<circle cx="854.6" cy="437.48" r="1.9"/>
<circle cx="855.53" cy="436.04" r="1.9"/>
<circle cx="856.47" cy="435.32" r="1.9"/>
<circle cx="857.41" cy="435.43" r="1.9"/>
<circle cx="858.34" cy="434.95" r="1.9"/>
<circle cx="859.28" cy="435.52" r="1.9"/>
<circle cx="860.22" cy="434.94" r="1.9"/>
<circle cx="861.15" cy="434.97" r="1.9"/>
<circle cx="862.09" cy="435.2" r="1.9"/>
<circle cx="863.03" cy="435.57" r="1.9"/>
<circle cx="863.96" cy="435.32" r="1.9"/>
<circle cx="864.9" cy="435.4" r="1.9"/>
<circle cx="865.83" cy="436.18" r="1.9"/>
<circle cx="866.77" cy="436.16" r="1.9"/>
<circle cx="867.71" cy="437.11" r="1.9"/>
<circle cx="868.64" cy="436.48" r="1.9"/>
<circle cx="869.58" cy="436.69" r="1.9"/>
<circle cx="870.52" cy="436.43" r="1.9"/>
<circle cx="871.45" cy="436.79" r="1.9"/>
<circle cx="872.39" cy="437.59" r="1.9"/>
<circle cx="873.33" cy="437.62" r="1.9"/>
<circle cx="874.26" cy="437.43" r="1.9"/>
<circle cx="875.2" cy="438.38" r="1.9"/>
<circle cx="876.14" cy="437.99" r="1.9"/>
<circle cx="877.07" cy="438.5" r="1.9"/>
<circle cx="878.01" cy="438.72" r="1.9"/>
<circle cx="878.94" cy="438.94" r="1.9"/>
<circle cx="879.88" cy="438.22" r="1.9"/>
<circle cx="880.82" cy="439.16" r="1.9"/>
<circle cx="882.13" cy="403.81" r="1.9"/>
<circle cx="883.06" cy="410.29" r="1.9"/>
<circle cx="884" cy="409.73" r="1.9"/>
<circle cx="884.94" cy="409.34" r="1.9"/>
<circle cx="885.87" cy="409.12" r="1.9"/>
<circle cx="886.81" cy="408.9" r="1.9"/>
<circle cx="887.75" cy="408.67" r="1.9"/>
<circle cx="888.68" cy="408.45" r="1.9"/>
<circle cx="889.62" cy="408.23" r="1.9"/>
<circle cx="890.56" cy="408" r="1.9"/>
<circle cx="891.49" cy="407.82" r="1.9"/>
<circle cx="892.43" cy="407.69" r="1.9"/>
<circle cx="893.37" cy="407.56" r="1.9"/>
<circle cx="894.3" cy="407.43" r="1.9"/>
<circle cx="895.24" cy="407.3" r="1.9"/>
<circle cx="896.17" cy="407.16" r="1.9"/>
<circle cx="897.11" cy="407.03" r="1.9"/>
<circle cx="898.05" cy="406.9" r="1.9"/>
<circle cx="898.98" cy="406.77" r="1.9"/>
<circle cx="899.92" cy="406.64" r="1.9"/>
<circle cx="900.86" cy="406.5" r="1.9"/>
<circle cx="901.79" cy="406.37" r="1.9"/>
<circle cx="902.73" cy="406.24" r="1.9"/>
<circle cx="903.67" cy="406.11" r="1.9"/>
<circle cx="904.6" cy="405.98" r="1.9"/>
<circle cx="905.54" cy="405.84" r="1.9"/>
<circle cx="906.47" cy="405.71" r="1.9"/>
<circle cx="907.41" cy="405.58" r="1.9"/>
<circle cx="908.35" cy="405.45" r="1.9"/>
<circle cx="909.28" cy="405.32" r="1.9"/>
<circle cx="910.22" cy="405.18" r="1.9"/>
<circle cx="911.16" cy="405.05" r="1.9"/>
<circle cx="912.09" cy="404.92" r="1.9"/>
<circle cx="913.03" cy="404.79" r="1.9"/>
<circle cx="913.97" cy="404.66" r="1.9"/>
<circle cx="914.9" cy="404.52" r="1.9"/>
<circle cx="915.84" cy="404.39" r="1.9"/>
<circle cx="916.77" cy="404.26" r="1.9"/>
<circle cx="917.71" cy="404.13" r="1.9"/>
<circle cx="918.65" cy="404" r="1.9"/>
<circle cx="919.58" cy="403.86" r="1.9"/>
<circle cx="920.52" cy="403.73" r="1.9"/>
<circle cx="921.46" cy="403.6" r="1.9"/>
<circle cx="922.39" cy="403.47" r="1.9"/>
<circle cx="923.33" cy="403.34" r="1.9"/>
<circle cx="924.27" cy="403.2" r="1.9"/>
<circle cx="925.2" cy="403.07" r="1.9"/>
<circle cx="926.14" cy="402.94" r="1.9"/>
<circle cx="927.08" cy="402.81" r="1.9"/>
<circle cx="928.01" cy="402.68" r="1.9"/>
<circle cx="928.95" cy="359.31" r="1.9"/>
<circle cx="929.88" cy="369.47" r="1.9"/>
<circle cx="930.82" cy="376.67" r="1.9"/>
<circle cx="931.76" cy="384.54" r="1.9"/>
<circle cx="932.69" cy="389.13" r="1.9"/>
<circle cx="933.63" cy="394.15" r="1.9"/>
<circle cx="934.57" cy="398.78" r="1.9"/>
<circle cx="935.5" cy="402.67" r="1.9"/>
<circle cx="936.44" cy="406.23" r="1.9"/>
<circle cx="937.38" cy="410.65" r="1.9"/>
<circle cx="938.31" cy="416.8" r="1.9"/>
<circle cx="939.25" cy="426.3" r="1.9"/>
<circle cx="940.18" cy="437.88" r="1.9"/>
<circle cx="941.12" cy="461.87" r="1.9"/>
<circle cx="942.06" cy="456.16" r="1.9"/>
<circle cx="942.99" cy="448.94" r="1.9"/>
<circle cx="943.93" cy="444.34" r="1.9"/>
<circle cx="944.87" cy="441.91" r="1.9"/>
<circle cx="945.8" cy="439.49" r="1.9"/>
<circle cx="946.74" cy="437.71" r="1.9"/>
<circle cx="947.68" cy="436.64" r="1.9"/>
<circle cx="948.61" cy="436.62" r="1.9"/>
<circle cx="949.55" cy="435.48" r="1.9"/>
<circle cx="950.49" cy="435.11" r="1.9"/>
<circle cx="951.42" cy="434.34" r="1.9"/>
<circle cx="952.36" cy="433.57" r="1.9"/>
<circle cx="953.29" cy="434.13" r="1.9"/>
<circle cx="954.23" cy="434.56" r="1.9"/>
<circle cx="955.17" cy="434.53" r="1.9"/>
<circle cx="956.1" cy="434.58" r="1.9"/>
<circle cx="957.04" cy="435.75" r="1.9"/>
<circle cx="957.98" cy="434.51" r="1.9"/>
<circle cx="958.91" cy="434.84" r="1.9"/>
<circle cx="959.85" cy="434.84" r="1.9"/>
<circle cx="960.79" cy="435.1" r="1.9"/>
<circle cx="961.72" cy="435.9" r="1.9"/>
<circle cx="962.66" cy="436.03" r="1.9"/>
<circle cx="963.6" cy="436.67" r="1.9"/>
<circle cx="964.53" cy="435.94" r="1.9"/>
<circle cx="965.47" cy="437.03" r="1.9"/>
<circle cx="966.4" cy="437.16" r="1.9"/>
<circle cx="967.34" cy="437.07" r="1.9"/>
<circle cx="968.28" cy="437.3" r="1.9"/>
<circle cx="969.21" cy="437.15" r="1.9"/>
<circle cx="970.15" cy="437.77" r="1.9"/>
<circle cx="971.09" cy="438" r="1.9"/>
<circle cx="972.02" cy="437.89" r="1.9"/>
<circle cx="972.96" cy="438.12" r="1.9"/>
<circle cx="973.9" cy="437.83" r="1.9"/>
<circle cx="974.83" cy="438.54" r="1.9"/>
<circle cx="835.31" cy="475.99" r="1.9"/>
<circle cx="847.48" cy="485.34" r="1.9"/>
</g>
<g fill="#fce3e3" stroke="#5a4648" stroke-width="0.6">
<circle cx="790.83" cy="409.25" r="1.9"/>
<circle cx="791.77" cy="409.11" r="1.9"/>
<circle cx="792.7" cy="408.97" r="1.9"/>
<circle cx="793.64" cy="408.83" r="1.9"/>
<circle cx="794.57" cy="408.69" r="1.9"/>
<circle cx="795.51" cy="408.55" r="1.9"/>
<circle cx="796.45" cy="408.41" r="1.9"/>
<circle cx="797.38" cy="408.27" r="1.9"/>
<circle cx="798.32" cy="408.21" r="1.9"/>
<circle cx="799.26" cy="408.14" r="1.9"/>
<circle cx="800.19" cy="408.08" r="1.9"/>
<circle cx="801.13" cy="408.02" r="1.9"/>
<circle cx="802.07" cy="407.96" r="1.9"/>
<circle cx="803" cy="407.89" r="1.9"/>
<circle cx="803.94" cy="407.83" r="1.9"/>
<circle cx="804.88" cy="407.77" r="1.9"/>
<circle cx="805.81" cy="407.7" r="1.9"/>
<circle cx="806.75" cy="407.64" r="1.9"/>
<circle cx="807.68" cy="407.58" r="1.9"/>
<circle cx="808.62" cy="407.51" r="1.9"/>
<circle cx="809.56" cy="407.45" r="1.9"/>
<circle cx="810.49" cy="407.39" r="1.9"/>
<circle cx="811.43" cy="407.32" r="1.9"/>
<circle cx="812.37" cy="407.26" r="1.9"/>
<circle cx="813.3" cy="407.2" r="1.9"/>
<circle cx="814.24" cy="407.14" r="1.9"/>
<circle cx="815.18" cy="407.07" r="1.9"/>
<circle cx="816.11" cy="407.01" r="1.9"/>
<circle cx="817.05" cy="406.95" r="1.9"/>
<circle cx="817.98" cy="406.88" r="1.9"/>
<circle cx="818.92" cy="406.82" r="1.9"/>
<circle cx="819.86" cy="406.76" r="1.9"/>
<circle cx="820.79" cy="406.69" r="1.9"/>
<circle cx="821.73" cy="406.63" r="1.9"/>
<circle cx="822.67" cy="406.57" r="1.9"/>
<circle cx="823.6" cy="406.5" r="1.9"/>
<circle cx="824.54" cy="406.44" r="1.9"/>
<circle cx="825.48" cy="406.38" r="1.9"/>
<circle cx="826.41" cy="406.31" r="1.9"/>
<circle cx="827.35" cy="406.25" r="1.9"/>
<circle cx="828.29" cy="406.19" r="1.9"/>
<circle cx="829.22" cy="406.13" r="1.9"/>
<circle cx="830.16" cy="406.06" r="1.9"/>
<circle cx="831.09" cy="406" r="1.9"/>
<circle cx="832.03" cy="405.94" r="1.9"/>
<circle cx="832.97" cy="405.87" r="1.9"/>
<circle cx="833.9" cy="405.81" r="1.9"/>
<circle cx="834.84" cy="405.75" r="1.9"/>
<circle cx="884.94" cy="409.34" r="1.9"/>
<circle cx="885.87" cy="409.12" r="1.9"/>
<circle cx="886.81" cy="408.9" r="1.9"/>
<circle cx="887.75" cy="408.67" r="1.9"/>
<circle cx="888.68" cy="408.45" r="1.9"/>
<circle cx="889.62" cy="408.23" r="1.9"/>
<circle cx="890.56" cy="408" r="1.9"/>
<circle cx="891.49" cy="407.82" r="1.9"/>
<circle cx="892.43" cy="407.69" r="1.9"/>
<circle cx="893.37" cy="407.56" r="1.9"/>
<circle cx="894.3" cy="407.43" r="1.9"/>
<circle cx="895.24" cy="407.3" r="1.9"/>
<circle cx="896.17" cy="407.16" r="1.9"/>
<circle cx="897.11" cy="407.03" r="1.9"/>
<circle cx="898.05" cy="406.9" r="1.9"/>
<circle cx="898.98" cy="406.77" r="1.9"/>
<circle cx="899.92" cy="406.64" r="1.9"/>
<circle cx="900.86" cy="406.5" r="1.9"/>
<circle cx="901.79" cy="406.37" r="1.9"/>
<circle cx="902.73" cy="406.24" r="1.9"/>
<circle cx="903.67" cy="406.11" r="1.9"/>
<circle cx="904.6" cy="405.98" r="1.9"/>
<circle cx="905.54" cy="405.84" r="1.9"/>
<circle cx="906.47" cy="405.71" r="1.9"/>
<circle cx="907.41" cy="405.58" r="1.9"/>
<circle cx="908.35" cy="405.45" r="1.9"/>
<circle cx="909.28" cy="405.32" r="1.9"/>
<circle cx="910.22" cy="405.18" r="1.9"/>
<circle cx="911.16" cy="405.05" r="1.9"/>
<circle cx="912.09" cy="404.92" r="1.9"/>
<circle cx="913.03" cy="404.79" r="1.9"/>
<circle cx="913.97" cy="404.66" r="1.9"/>
<circle cx="914.9" cy="404.52" r="1.9"/>
<circle cx="915.84" cy="404.39" r="1.9"/>
<circle cx="916.77" cy="404.26" r="1.9"/>
<circle cx="917.71" cy="404.13" r="1.9"/>
<circle cx="918.65" cy="404" r="1.9"/>
<circle cx="919.58" cy="403.86" r="1.9"/>
<circle cx="920.52" cy="403.73" r="1.9"/>
<circle cx="921.46" cy="403.6" r="1.9"/>
<circle cx="922.39" cy="403.47" r="1.9"/>
<circle cx="923.33" cy="403.34" r="1.9"/>
<circle cx="924.27" cy="403.2" r="1.9"/>
<circle cx="925.2" cy="403.07" r="1.9"/>
<circle cx="926.14" cy="402.94" r="1.9"/>
<circle cx="927.08" cy="402.81" r="1.9"/>
<circle cx="928.01" cy="402.68" r="1.9"/>
</g>
<polyline fill="none" stroke="#e8232b" stroke-width="0.55" points="741.67,348.71 742.6,348.62 743.54,348.53 744.48,348.44 745.41,348.35 746.35,348.29 747.29,348.28 748.22,348.27 749.16,348.25 750.1,348.24 751.03,348.23 751.97,348.21 752.91,348.2 753.84,348.19 754.78,348.17 755.71,348.16 756.65,348.15 757.59,348.13 758.52,348.12 759.46,348.11 760.4,348.09 761.33,348.08 762.27,348.07 763.21,348.05 764.14,348.04 765.08,348.03 766.01,348.01 766.95,348 767.89,347.99 768.82,347.97 769.76,347.96 770.7,347.95 771.63,347.93 772.57,347.92 773.51,347.91 774.44,347.89 775.38,347.88 776.32,347.87 777.25,347.85 778.19,347.84 779.12,347.83 780.06,347.81 781,347.8 781.93,347.79 782.87,347.77 783.81,347.76 784.74,347.75 785.68,347.73 786.62,347.72 787.55,347.71 788.02,417.3 788.96,414.41 789.89,410.29 790.83,409.24 791.77,408.19 792.7,407.98 793.64,407.77 794.57,407.56 795.51,407.34 796.45,407.13 797.38,406.92 798.32,406.71 799.26,406.49 800.19,406.28 801.13,406.07 802.07,405.86 803,405.65 803.94,405.43 804.88,405.22 805.81,405.01 806.75,404.8 807.68,404.58 808.62,404.37 809.56,404.16 810.49,403.95 811.43,403.73 812.37,403.52 813.3,403.31 814.24,403.1 815.18,402.88 816.11,402.67 817.05,402.46 817.98,402.25 818.92,402.03 819.86,401.82 820.79,401.61 821.73,401.4 822.67,401.18 823.6,400.97 824.54,400.76 825.48,400.55 826.41,400.33 827.35,400.12 828.29,399.91 829.22,399.7 830.16,399.48 831.09,399.27 832.03,399.06 832.97,398.85 833.9,398.63 834.84,398.42 835.31,397.5 836.24,364.3 837.18,353.04 838.12,356.35 839.05,356.76 839.99,356.52 840.93,355.63 841.86,354.82 842.8,354.08 843.74,353.34 844.67,352.09 845.61,350.51 846.55,349.44 847.48,348.88 848.42,348.32 849.35,347.76 850.29,347.55 851.23,347.37 852.16,347.2 853.1,347.02 854.04,346.93 854.97,346.92 855.91,346.91 856.85,346.9 857.78,346.89 858.72,346.88 859.65,346.87 860.59,346.86 861.53,346.85 862.46,346.84 863.4,346.83 864.34,346.82 865.27,346.81 866.21,346.8 867.15,346.79 868.08,346.78 869.02,346.77 869.96,346.76 870.89,346.75 871.83,346.74 872.76,346.73 873.7,346.72 874.64,346.71 875.57,346.7 876.51,346.69 877.45,346.68 878.38,346.67 879.32,346.66 880.26,346.65 881.19,346.64 882.13,405.75 883.06,403.21 884,402.33 884.94,401.76 885.87,401.33 886.81,401.03 887.75,400.73 888.68,400.43 889.62,400.13 890.56,399.83 891.49,399.53 892.43,399.23 893.37,398.92 894.3,398.62 895.24,398.32 896.17,398.02 897.11,397.72 898.05,397.42 898.98,397.12 899.92,396.82 900.86,396.52 901.79,396.22 902.73,395.92 903.67,395.62 904.6,395.32 905.54,395.02 906.47,394.72 907.41,394.42 908.35,394.12 909.28,393.82 910.22,393.51 911.16,393.21 912.09,392.91 913.03,392.61 913.97,392.31 914.9,392.01 915.84,391.71 916.77,391.41 917.71,391.11 918.65,390.81 919.58,390.51 920.52,390.21 921.46,389.91 922.39,389.61 923.33,389.31 924.27,389.01 925.2,388.71 926.14,388.4 927.08,388.1 928.01,387.8 928.95,387.1 929.88,339.46 930.82,348.5 931.76,353.73 932.69,356.99 933.63,358.26 934.57,358.41 935.5,357.44 936.44,355.98 937.38,354.02 938.31,352.22 939.25,350.58 940.18,349.35 941.12,348.54 942.06,347.73 942.99,347.2 943.93,346.95 944.87,346.71 945.8,346.47 946.74,346.32 947.68,346.26 948.61,346.21 949.55,346.15 950.49,346.1 951.42,346.04 952.36,346.01 953.29,346 954.23,345.99 955.17,345.98 956.1,345.97 957.04,345.96 957.98,345.95 958.91,345.94 959.85,345.93 960.79,345.92 961.72,345.91 962.66,345.9 963.6,345.89 964.53,345.88 965.47,345.87 966.4,345.86 967.34,345.85 968.28,345.84 969.21,345.83 970.15,345.82 971.09,345.81 972.02,345.8 972.96,345.79 973.9,345.78 974.83,345.77" />
<g fill="#e8232b" stroke="#e8232b" stroke-width="0.4">
<rect x="739.77" y="346.81" width="3.8" height="3.8"/>
<rect x="740.7" y="346.72" width="3.8" height="3.8"/>
<rect x="741.64" y="346.63" width="3.8" height="3.8"/>
<rect x="742.58" y="346.54" width="3.8" height="3.8"/>
<rect x="743.51" y="346.45" width="3.8" height="3.8"/>
<rect x="744.45" y="346.39" width="3.8" height="3.8"/>
<rect x="745.39" y="346.38" width="3.8" height="3.8"/>
<rect x="746.32" y="346.37" width="3.8" height="3.8"/>
<rect x="747.26" y="346.35" width="3.8" height="3.8"/>
<rect x="748.2" y="346.34" width="3.8" height="3.8"/>
<rect x="749.13" y="346.33" width="3.8" height="3.8"/>
<rect x="750.07" y="346.31" width="3.8" height="3.8"/>
<rect x="751.01" y="346.3" width="3.8" height="3.8"/>
<rect x="751.94" y="346.29" width="3.8" height="3.8"/>
<rect x="752.88" y="346.27" width="3.8" height="3.8"/>
<rect x="753.81" y="346.26" width="3.8" height="3.8"/>
<rect x="754.75" y="346.25" width="3.8" height="3.8"/>
<rect x="755.69" y="346.23" width="3.8" height="3.8"/>
<rect x="756.62" y="346.22" width="3.8" height="3.8"/>
<rect x="757.56" y="346.21" width="3.8" height="3.8"/>
<rect x="758.5" y="346.19" width="3.8" height="3.8"/>
<rect x="759.43" y="346.18" width="3.8" height="3.8"/>
<rect x="760.37" y="346.17" width="3.8" height="3.8"/>
<rect x="761.31" y="346.15" width="3.8" height="3.8"/>
<rect x="762.24" y="346.14" width="3.8" height="3.8"/>
<rect x="763.18" y="346.13" width="3.8" height="3.8"/>
<rect x="764.11" y="346.11" width="3.8" height="3.8"/>
<rect x="765.05" y="346.1" width="3.8" height="3.8"/>
<rect x="765.99" y="346.09" width="3.8" height="3.8"/>
<rect x="766.92" y="346.07" width="3.8" height="3.8"/>
<rect x="767.86" y="346.06" width="3.8" height="3.8"/>
<rect x="768.8" y="346.05" width="3.8" height="3.8"/>
<rect x="769.73" y="346.03" width="3.8" height="3.8"/>
<rect x="770.67" y="346.02" width="3.8" height="3.8"/>
<rect x="771.61" y="346.01" width="3.8" height="3.8"/>
<rect x="772.54" y="345.99" width="3.8" height="3.8"/>
<rect x="773.48" y="345.98" width="3.8" height="3.8"/>
<rect x="774.42" y="345.97" width="3.8" height="3.8"/>
<rect x="775.35" y="345.95" width="3.8" height="3.8"/>
<rect x="776.29" y="345.94" width="3.8" height="3.8"/>
<rect x="777.22" y="345.93" width="3.8" height="3.8"/>
<rect x="778.16" y="345.91" width="3.8" height="3.8"/>
<rect x="779.1" y="345.9" width="3.8" height="3.8"/>
<rect x="780.03" y="345.89" width="3.8" height="3.8"/>
<rect x="780.97" y="345.87" width="3.8" height="3.8"/>
<rect x="781.91" y="345.86" width="3.8" height="3.8"/>
<rect x="782.84" y="345.85" width="3.8" height="3.8"/>
<rect x="783.78" y="345.83" width="3.8" height="3.8"/>
<rect x="784.72" y="345.82" width="3.8" height="3.8"/>
<rect x="785.65" y="345.81" width="3.8" height="3.8"/>
<rect x="786.12" y="415.4" width="3.8" height="3.8"/>
<rect x="787.06" y="412.51" width="3.8" height="3.8"/>
<rect x="787.99" y="408.39" width="3.8" height="3.8"/>
<rect x="788.93" y="407.34" width="3.8" height="3.8"/>
<rect x="789.87" y="406.29" width="3.8" height="3.8"/>
<rect x="790.8" y="406.08" width="3.8" height="3.8"/>
<rect x="791.74" y="405.87" width="3.8" height="3.8"/>
<rect x="792.67" y="405.66" width="3.8" height="3.8"/>
<rect x="793.61" y="405.44" width="3.8" height="3.8"/>
<rect x="794.55" y="405.23" width="3.8" height="3.8"/>
<rect x="795.48" y="405.02" width="3.8" height="3.8"/>
<rect x="796.42" y="404.81" width="3.8" height="3.8"/>
<rect x="797.36" y="404.59" width="3.8" height="3.8"/>
<rect x="798.29" y="404.38" width="3.8" height="3.8"/>
<rect x="799.23" y="404.17" width="3.8" height="3.8"/>
<rect x="800.17" y="403.96" width="3.8" height="3.8"/>
<rect x="801.1" y="403.75" width="3.8" height="3.8"/>
<rect x="802.04" y="403.53" width="3.8" height="3.8"/>
<rect x="802.98" y="403.32" width="3.8" height="3.8"/>
<rect x="803.91" y="403.11" width="3.8" height="3.8"/>
<rect x="804.85" y="402.9" width="3.8" height="3.8"/>
<rect x="805.78" y="402.68" width="3.8" height="3.8"/>
<rect x="806.72" y="402.47" width="3.8" height="3.8"/>
<rect x="807.66" y="402.26" width="3.8" height="3.8"/>
<rect x="808.59" y="402.05" width="3.8" height="3.8"/>
<rect x="809.53" y="401.83" width="3.8" height="3.8"/>
<rect x="810.47" y="401.62" width="3.8" height="3.8"/>
<rect x="811.4" y="401.41" width="3.8" height="3.8"/>
<rect x="812.34" y="401.2" width="3.8" height="3.8"/>
<rect x="813.28" y="400.98" width="3.8" height="3.8"/>
<rect x="814.21" y="400.77" width="3.8" height="3.8"/>
<rect x="815.15" y="400.56" width="3.8" height="3.8"/>
<rect x="816.08" y="400.35" width="3.8" height="3.8"/>
<rect x="817.02" y="400.13" width="3.8" height="3.8"/>
<rect x="817.96" y="399.92" width="3.8" height="3.8"/>
<rect x="818.89" y="399.71" width="3.8" height="3.8"/>
<rect x="819.83" y="399.5" width="3.8" height="3.8"/>
<rect x="820.77" y="399.28" width="3.8" height="3.8"/>
<rect x="821.7" y="399.07" width="3.8" height="3.8"/>
<rect x="822.64" y="398.86" width="3.8" height="3.8"/>
<rect x="823.58" y="398.65" width="3.8" height="3.8"/>
<rect x="824.51" y="398.43" width="3.8" height="3.8"/>
<rect x="825.45" y="398.22" width="3.8" height="3.8"/>
<rect x="826.39" y="398.01" width="3.8" height="3.8"/>
<rect x="827.32" y="397.8" width="3.8" height="3.8"/>
<rect x="828.26" y="397.58" width="3.8" height="3.8"/>
<rect x="829.19" y="397.37" width="3.8" height="3.8"/>
<rect x="830.13" y="397.16" width="3.8" height="3.8"/>
<rect x="831.07" y="396.95" width="3.8" height="3.8"/>
<rect x="832" y="396.73" width="3.8" height="3.8"/>
<rect x="832.94" y="396.52" width="3.8" height="3.8"/>
<rect x="833.41" y="395.6" width="3.8" height="3.8"/>
<rect x="834.34" y="362.4" width="3.8" height="3.8"/>
<rect x="835.28" y="351.14" width="3.8" height="3.8"/>
<rect x="836.22" y="354.45" width="3.8" height="3.8"/>
<rect x="837.15" y="354.86" width="3.8" height="3.8"/>
<rect x="838.09" y="354.62" width="3.8" height="3.8"/>
<rect x="839.03" y="353.73" width="3.8" height="3.8"/>
<rect x="839.96" y="352.92" width="3.8" height="3.8"/>
<rect x="840.9" y="352.18" width="3.8" height="3.8"/>
<rect x="841.84" y="351.44" width="3.8" height="3.8"/>
<rect x="842.77" y="350.19" width="3.8" height="3.8"/>
<rect x="843.71" y="348.61" width="3.8" height="3.8"/>
<rect x="844.65" y="347.54" width="3.8" height="3.8"/>
<rect x="845.58" y="346.98" width="3.8" height="3.8"/>
<rect x="846.52" y="346.42" width="3.8" height="3.8"/>
<rect x="847.45" y="345.86" width="3.8" height="3.8"/>
<rect x="848.39" y="345.65" width="3.8" height="3.8"/>
<rect x="849.33" y="345.47" width="3.8" height="3.8"/>
<rect x="850.26" y="345.3" width="3.8" height="3.8"/>
<rect x="851.2" y="345.12" width="3.8" height="3.8"/>
<rect x="852.14" y="345.03" width="3.8" height="3.8"/>
<rect x="853.07" y="345.02" width="3.8" height="3.8"/>
<rect x="854.01" y="345.01" width="3.8" height="3.8"/>
<rect x="854.95" y="345" width="3.8" height="3.8"/>
<rect x="855.88" y="344.99" width="3.8" height="3.8"/>
<rect x="856.82" y="344.98" width="3.8" height="3.8"/>
<rect x="857.75" y="344.97" width="3.8" height="3.8"/>
<rect x="858.69" y="344.96" width="3.8" height="3.8"/>
<rect x="859.63" y="344.95" width="3.8" height="3.8"/>
<rect x="860.56" y="344.94" width="3.8" height="3.8"/>
<rect x="861.5" y="344.93" width="3.8" height="3.8"/>
<rect x="862.44" y="344.92" width="3.8" height="3.8"/>
<rect x="863.37" y="344.91" width="3.8" height="3.8"/>
<rect x="864.31" y="344.9" width="3.8" height="3.8"/>
<rect x="865.25" y="344.89" width="3.8" height="3.8"/>
<rect x="866.18" y="344.88" width="3.8" height="3.8"/>
<rect x="867.12" y="344.87" width="3.8" height="3.8"/>
<rect x="868.06" y="344.86" width="3.8" height="3.8"/>
<rect x="868.99" y="344.85" width="3.8" height="3.8"/>
<rect x="869.93" y="344.84" width="3.8" height="3.8"/>
<rect x="870.86" y="344.83" width="3.8" height="3.8"/>
<rect x="871.8" y="344.82" width="3.8" height="3.8"/>
<rect x="872.74" y="344.81" width="3.8" height="3.8"/>
<rect x="873.67" y="344.8" width="3.8" height="3.8"/>
<rect x="874.61" y="344.79" width="3.8" height="3.8"/>
<rect x="875.55" y="344.78" width="3.8" height="3.8"/>
<rect x="876.48" y="344.77" width="3.8" height="3.8"/>
<rect x="877.42" y="344.76" width="3.8" height="3.8"/>
<rect x="878.36" y="344.75" width="3.8" height="3.8"/>
<rect x="879.29" y="344.74" width="3.8" height="3.8"/>
<rect x="880.23" y="403.85" width="3.8" height="3.8"/>
<rect x="881.16" y="401.31" width="3.8" height="3.8"/>
<rect x="882.1" y="400.43" width="3.8" height="3.8"/>
<rect x="883.04" y="399.86" width="3.8" height="3.8"/>
<rect x="883.97" y="399.43" width="3.8" height="3.8"/>
<rect x="884.91" y="399.13" width="3.8" height="3.8"/>
<rect x="885.85" y="398.83" width="3.8" height="3.8"/>
<rect x="886.78" y="398.53" width="3.8" height="3.8"/>
<rect x="887.72" y="398.23" width="3.8" height="3.8"/>
<rect x="888.66" y="397.93" width="3.8" height="3.8"/>
<rect x="889.59" y="397.63" width="3.8" height="3.8"/>
<rect x="890.53" y="397.33" width="3.8" height="3.8"/>
<rect x="891.47" y="397.02" width="3.8" height="3.8"/>
<rect x="892.4" y="396.72" width="3.8" height="3.8"/>
<rect x="893.34" y="396.42" width="3.8" height="3.8"/>
<rect x="894.27" y="396.12" width="3.8" height="3.8"/>
<rect x="895.21" y="395.82" width="3.8" height="3.8"/>
<rect x="896.15" y="395.52" width="3.8" height="3.8"/>
<rect x="897.08" y="395.22" width="3.8" height="3.8"/>
<rect x="898.02" y="394.92" width="3.8" height="3.8"/>
<rect x="898.96" y="394.62" width="3.8" height="3.8"/>
<rect x="899.89" y="394.32" width="3.8" height="3.8"/>
<rect x="900.83" y="394.02" width="3.8" height="3.8"/>
<rect x="901.77" y="393.72" width="3.8" height="3.8"/>
<rect x="902.7" y="393.42" width="3.8" height="3.8"/>
<rect x="903.64" y="393.12" width="3.8" height="3.8"/>
<rect x="904.57" y="392.82" width="3.8" height="3.8"/>
<rect x="905.51" y="392.52" width="3.8" height="3.8"/>
<rect x="906.45" y="392.22" width="3.8" height="3.8"/>
<rect x="907.38" y="391.92" width="3.8" height="3.8"/>
<rect x="908.32" y="391.61" width="3.8" height="3.8"/>
<rect x="909.26" y="391.31" width="3.8" height="3.8"/>
<rect x="910.19" y="391.01" width="3.8" height="3.8"/>
<rect x="911.13" y="390.71" width="3.8" height="3.8"/>
<rect x="912.07" y="390.41" width="3.8" height="3.8"/>
<rect x="913" y="390.11" width="3.8" height="3.8"/>
<rect x="913.94" y="389.81" width="3.8" height="3.8"/>
<rect x="914.88" y="389.51" width="3.8" height="3.8"/>
<rect x="915.81" y="389.21" width="3.8" height="3.8"/>
<rect x="916.75" y="388.91" width="3.8" height="3.8"/>
<rect x="917.68" y="388.61" width="3.8" height="3.8"/>
<rect x="918.62" y="388.31" width="3.8" height="3.8"/>
<rect x="919.56" y="388.01" width="3.8" height="3.8"/>
<rect x="920.49" y="387.71" width="3.8" height="3.8"/>
<rect x="921.43" y="387.41" width="3.8" height="3.8"/>
<rect x="922.37" y="387.11" width="3.8" height="3.8"/>
<rect x="923.3" y="386.81" width="3.8" height="3.8"/>
<rect x="924.24" y="386.5" width="3.8" height="3.8"/>
<rect x="925.18" y="386.2" width="3.8" height="3.8"/>
<rect x="926.11" y="385.9" width="3.8" height="3.8"/>
<rect x="927.05" y="385.2" width="3.8" height="3.8"/>
<rect x="927.98" y="337.56" width="3.8" height="3.8"/>
<rect x="928.92" y="346.6" width="3.8" height="3.8"/>
<rect x="929.86" y="351.83" width="3.8" height="3.8"/>
<rect x="930.79" y="355.09" width="3.8" height="3.8"/>
<rect x="931.73" y="356.36" width="3.8" height="3.8"/>
<rect x="932.67" y="356.51" width="3.8" height="3.8"/>
<rect x="933.6" y="355.54" width="3.8" height="3.8"/>
<rect x="934.54" y="354.08" width="3.8" height="3.8"/>
<rect x="935.48" y="352.12" width="3.8" height="3.8"/>
<rect x="936.41" y="350.32" width="3.8" height="3.8"/>
<rect x="937.35" y="348.68" width="3.8" height="3.8"/>
<rect x="938.28" y="347.45" width="3.8" height="3.8"/>
<rect x="939.22" y="346.64" width="3.8" height="3.8"/>
<rect x="940.16" y="345.83" width="3.8" height="3.8"/>
<rect x="941.09" y="345.3" width="3.8" height="3.8"/>
<rect x="942.03" y="345.05" width="3.8" height="3.8"/>
<rect x="942.97" y="344.81" width="3.8" height="3.8"/>
<rect x="943.9" y="344.57" width="3.8" height="3.8"/>
<rect x="944.84" y="344.42" width="3.8" height="3.8"/>
<rect x="945.78" y="344.36" width="3.8" height="3.8"/>
<rect x="946.71" y="344.31" width="3.8" height="3.8"/>
<rect x="947.65" y="344.25" width="3.8" height="3.8"/>
<rect x="948.59" y="344.2" width="3.8" height="3.8"/>
<rect x="949.52" y="344.14" width="3.8" height="3.8"/>
<rect x="950.46" y="344.11" width="3.8" height="3.8"/>
<rect x="951.39" y="344.1" width="3.8" height="3.8"/>
<rect x="952.33" y="344.09" width="3.8" height="3.8"/>
<rect x="953.27" y="344.08" width="3.8" height="3.8"/>
<rect x="954.2" y="344.07" width="3.8" height="3.8"/>
<rect x="955.14" y="344.06" width="3.8" height="3.8"/>
<rect x="956.08" y="344.05" width="3.8" height="3.8"/>
<rect x="957.01" y="344.04" width="3.8" height="3.8"/>
<rect x="957.95" y="344.03" width="3.8" height="3.8"/>
<rect x="958.89" y="344.02" width="3.8" height="3.8"/>
<rect x="959.82" y="344.01" width="3.8" height="3.8"/>
<rect x="960.76" y="344" width="3.8" height="3.8"/>
<rect x="961.7" y="343.99" width="3.8" height="3.8"/>
<rect x="962.63" y="343.98" width="3.8" height="3.8"/>
<rect x="963.57" y="343.97" width="3.8" height="3.8"/>
<rect x="964.5" y="343.96" width="3.8" height="3.8"/>
<rect x="965.44" y="343.95" width="3.8" height="3.8"/>
<rect x="966.38" y="343.94" width="3.8" height="3.8"/>
<rect x="967.31" y="343.93" width="3.8" height="3.8"/>
<rect x="968.25" y="343.92" width="3.8" height="3.8"/>
<rect x="969.19" y="343.91" width="3.8" height="3.8"/>
<rect x="970.12" y="343.9" width="3.8" height="3.8"/>
<rect x="971.06" y="343.89" width="3.8" height="3.8"/>
<rect x="972" y="343.88" width="3.8" height="3.8"/>
<rect x="972.93" y="343.87" width="3.8" height="3.8"/>
</g>
<polyline fill="none" stroke="#e8232b" stroke-width="0.55" points="742.14,457.4 743.07,437.64 744.01,434.53 744.95,432.55 745.88,432.02 746.82,431.63 747.75,432.02 748.69,430.84 749.63,430.6 750.56,431.44 751.5,431.41 752.44,432.06 753.37,432.03 754.31,431.62 755.25,431.74 756.18,430.82 757.12,431.91 758.06,432.13 758.99,430.61 759.93,431.28 760.86,431.91 761.8,431.25 762.74,432.1 763.67,431.26 764.61,430.54 765.55,430.71 766.48,430.97 767.42,431.68 768.36,431.5 769.29,431.82 770.23,430.83 771.16,431.21 772.1,430.81 773.04,431.53 773.97,431.7 774.91,430.74 775.85,430.46 776.78,430.67 777.72,430.73 778.66,430.71 779.59,430.83 780.53,431.66 781.47,431.18 782.4,431.44 783.34,431.97 784.27,431.97 785.21,431.54 786.15,431.57 787.08,430.86 788.02,415.04 788.96,395.97 789.89,393.26 790.83,392.95 791.77,392.64 792.7,392.33 793.64,392.19 794.57,392.05 795.51,391.91 796.45,391.77 797.38,391.63 798.32,391.5 799.26,391.36 800.19,391.22 801.13,391.08 802.07,390.94 803,390.8 803.94,390.66 804.88,390.52 805.81,390.38 806.75,390.24 807.68,390.1 808.62,389.96 809.56,389.82 810.49,389.68 811.43,389.54 812.37,389.4 813.3,389.26 814.24,389.12 815.18,388.98 816.11,388.84 817.05,388.7 817.98,388.56 818.92,388.42 819.86,388.28 820.79,388.14 821.73,388 822.67,387.86 823.6,387.72 824.54,387.58 825.48,387.44 826.41,387.3 827.35,387.16 828.29,387.02 829.22,386.88 830.16,386.74 831.09,386.61 832.03,386.47 832.97,386.33 833.9,386.19 834.84,386.05 835.31,406.44 835.78,391.99 836.24,377.54 836.71,361 837.18,344.46 837.65,348.33 838.12,352.24 838.59,356.23" />
<polyline fill="none" stroke="#e8232b" stroke-width="0.55" points="852.26,435.36 853.19,425.47 854.13,420.16 855.07,419.23 856,418.29 856.94,417.35 857.88,416.53 858.81,416.21 859.75,415.89 860.68,415.58 861.62,415.26 862.56,415.61 863.49,415.97 864.43,416.33 865.37,416.69 866.3,417.04 867.24,417.4 868.18,417.75 869.11,418.08 870.05,418.42 870.99,418.76 871.92,419.1 872.86,419.43 873.79,419.77 874.73,420.11 875.67,420.45 876.6,420.78 877.54,421.12 878.48,421.46 879.41,421.8 880.35,422.13 881.29,422.47 882.13,412.06 883.06,391.64 884,389.95 884.94,388.97 885.87,388.73 886.81,388.48 887.75,388.24 888.68,387.99 889.62,387.75 890.56,387.5 891.49,387.31 892.43,387.17 893.37,387.03 894.3,386.89 895.24,386.76 896.17,386.62 897.11,386.48 898.05,386.34 898.98,386.21 899.92,386.07 900.86,385.93 901.79,385.79 902.73,385.66 903.67,385.52 904.6,385.38 905.54,385.24 906.47,385.1 907.41,384.97 908.35,384.83 909.28,384.69 910.22,384.55 911.16,384.42 912.09,384.28 913.03,384.14 913.97,384 914.9,383.87 915.84,383.73 916.77,383.59 917.71,383.45 918.65,383.32 919.58,383.18 920.52,383.04 921.46,382.9 922.39,382.76 923.33,382.63 924.27,382.49 925.2,382.35 926.14,382.21 927.08,382.08 928.01,381.94 928.95,412.06 929.42,385.48 929.88,358.9 930.35,354.2 930.82,349.49 931.29,344.79 931.76,346.61 932.23,348.42 932.69,350.24 933.16,352.05 933.63,354.2 934.1,356.35" />
<polyline fill="none" stroke="#e8232b" stroke-width="0.55" points="944.96,436.25 945.9,427.75 946.83,422.2 947.77,417.11 948.71,414.96 949.64,413.15 950.58,411.33 951.52,410.4 952.45,409.48 953.39,408.81 954.32,409.2 955.26,409.59 956.2,409.97 957.13,410.36 958.07,410.74 959.01,411.13 959.94,411.52 960.88,411.9 961.82,412.25 962.75,412.57 963.69,412.88 964.63,413.2 965.56,413.52 966.5,413.84 967.43,414.16 968.37,414.48 969.31,414.79 970.24,415.11 971.18,415.43 972.12,415.75 973.05,416.07 973.99,416.38 974.93,416.7" />
<g fill="#fff" stroke="#e8232b" stroke-width="0.7">
<rect x="740.39" y="455.65" width="3.5" height="3.5"/>
<rect x="741.32" y="435.89" width="3.5" height="3.5"/>
<rect x="742.26" y="432.78" width="3.5" height="3.5"/>
<rect x="743.2" y="430.8" width="3.5" height="3.5"/>
<rect x="744.13" y="430.27" width="3.5" height="3.5"/>
<rect x="745.07" y="429.88" width="3.5" height="3.5"/>
<rect x="746" y="430.27" width="3.5" height="3.5"/>
<rect x="746.94" y="429.09" width="3.5" height="3.5"/>
<rect x="747.88" y="428.85" width="3.5" height="3.5"/>
<rect x="748.81" y="429.69" width="3.5" height="3.5"/>
<rect x="749.75" y="429.66" width="3.5" height="3.5"/>
<rect x="750.69" y="430.31" width="3.5" height="3.5"/>
<rect x="751.62" y="430.28" width="3.5" height="3.5"/>
<rect x="752.56" y="429.87" width="3.5" height="3.5"/>
<rect x="753.5" y="429.99" width="3.5" height="3.5"/>
<rect x="754.43" y="429.07" width="3.5" height="3.5"/>
<rect x="755.37" y="430.16" width="3.5" height="3.5"/>
<rect x="756.31" y="430.38" width="3.5" height="3.5"/>
<rect x="757.24" y="428.86" width="3.5" height="3.5"/>
<rect x="758.18" y="429.53" width="3.5" height="3.5"/>
<rect x="759.11" y="430.16" width="3.5" height="3.5"/>
<rect x="760.05" y="429.5" width="3.5" height="3.5"/>
<rect x="760.99" y="430.35" width="3.5" height="3.5"/>
<rect x="761.92" y="429.51" width="3.5" height="3.5"/>
<rect x="762.86" y="428.79" width="3.5" height="3.5"/>
<rect x="763.8" y="428.96" width="3.5" height="3.5"/>
<rect x="764.73" y="429.22" width="3.5" height="3.5"/>
<rect x="765.67" y="429.93" width="3.5" height="3.5"/>
<rect x="766.61" y="429.75" width="3.5" height="3.5"/>
<rect x="767.54" y="430.07" width="3.5" height="3.5"/>
<rect x="768.48" y="429.08" width="3.5" height="3.5"/>
<rect x="769.41" y="429.46" width="3.5" height="3.5"/>
<rect x="770.35" y="429.06" width="3.5" height="3.5"/>
<rect x="771.29" y="429.78" width="3.5" height="3.5"/>
<rect x="772.22" y="429.95" width="3.5" height="3.5"/>
<rect x="773.16" y="428.99" width="3.5" height="3.5"/>
<rect x="774.1" y="428.71" width="3.5" height="3.5"/>
<rect x="775.03" y="428.92" width="3.5" height="3.5"/>
<rect x="775.97" y="428.98" width="3.5" height="3.5"/>
<rect x="776.91" y="428.96" width="3.5" height="3.5"/>
<rect x="777.84" y="429.08" width="3.5" height="3.5"/>
<rect x="778.78" y="429.91" width="3.5" height="3.5"/>
<rect x="779.72" y="429.43" width="3.5" height="3.5"/>
<rect x="780.65" y="429.69" width="3.5" height="3.5"/>
<rect x="781.59" y="430.22" width="3.5" height="3.5"/>
<rect x="782.52" y="430.22" width="3.5" height="3.5"/>
<rect x="783.46" y="429.79" width="3.5" height="3.5"/>
<rect x="784.4" y="429.82" width="3.5" height="3.5"/>
<rect x="785.33" y="429.11" width="3.5" height="3.5"/>
<rect x="833.56" y="404.69" width="3.5" height="3.5"/>
<rect x="834.03" y="390.24" width="3.5" height="3.5"/>
<rect x="834.49" y="375.79" width="3.5" height="3.5"/>
<rect x="834.96" y="359.25" width="3.5" height="3.5"/>
<rect x="835.43" y="342.71" width="3.5" height="3.5"/>
<rect x="835.9" y="346.58" width="3.5" height="3.5"/>
<rect x="836.37" y="350.49" width="3.5" height="3.5"/>
<rect x="836.84" y="354.48" width="3.5" height="3.5"/>
<rect x="850.51" y="433.61" width="3.5" height="3.5"/>
<rect x="851.44" y="423.72" width="3.5" height="3.5"/>
<rect x="852.38" y="418.41" width="3.5" height="3.5"/>
<rect x="853.32" y="417.48" width="3.5" height="3.5"/>
<rect x="854.25" y="416.54" width="3.5" height="3.5"/>
<rect x="855.19" y="415.6" width="3.5" height="3.5"/>
<rect x="856.13" y="414.78" width="3.5" height="3.5"/>
<rect x="857.06" y="414.46" width="3.5" height="3.5"/>
<rect x="858" y="414.14" width="3.5" height="3.5"/>
<rect x="858.93" y="413.83" width="3.5" height="3.5"/>
<rect x="859.87" y="413.51" width="3.5" height="3.5"/>
<rect x="860.81" y="413.86" width="3.5" height="3.5"/>
<rect x="861.74" y="414.22" width="3.5" height="3.5"/>
<rect x="862.68" y="414.58" width="3.5" height="3.5"/>
<rect x="863.62" y="414.94" width="3.5" height="3.5"/>
<rect x="864.55" y="415.29" width="3.5" height="3.5"/>
<rect x="865.49" y="415.65" width="3.5" height="3.5"/>
<rect x="866.43" y="416" width="3.5" height="3.5"/>
<rect x="867.36" y="416.33" width="3.5" height="3.5"/>
<rect x="868.3" y="416.67" width="3.5" height="3.5"/>
<rect x="869.24" y="417.01" width="3.5" height="3.5"/>
<rect x="870.17" y="417.35" width="3.5" height="3.5"/>
<rect x="871.11" y="417.68" width="3.5" height="3.5"/>
<rect x="872.04" y="418.02" width="3.5" height="3.5"/>
<rect x="872.98" y="418.36" width="3.5" height="3.5"/>
<rect x="873.92" y="418.7" width="3.5" height="3.5"/>
<rect x="874.85" y="419.03" width="3.5" height="3.5"/>
<rect x="875.79" y="419.37" width="3.5" height="3.5"/>
<rect x="876.73" y="419.71" width="3.5" height="3.5"/>
<rect x="877.66" y="420.05" width="3.5" height="3.5"/>
<rect x="878.6" y="420.38" width="3.5" height="3.5"/>
<rect x="879.54" y="420.72" width="3.5" height="3.5"/>
<rect x="927.2" y="410.31" width="3.5" height="3.5"/>
<rect x="927.67" y="383.73" width="3.5" height="3.5"/>
<rect x="928.13" y="357.15" width="3.5" height="3.5"/>
<rect x="928.6" y="352.45" width="3.5" height="3.5"/>
<rect x="929.07" y="347.74" width="3.5" height="3.5"/>
<rect x="929.54" y="343.04" width="3.5" height="3.5"/>
<rect x="930.01" y="344.86" width="3.5" height="3.5"/>
<rect x="930.48" y="346.67" width="3.5" height="3.5"/>
<rect x="930.94" y="348.49" width="3.5" height="3.5"/>
<rect x="931.41" y="350.3" width="3.5" height="3.5"/>
<rect x="931.88" y="352.45" width="3.5" height="3.5"/>
<rect x="932.35" y="354.6" width="3.5" height="3.5"/>
<rect x="943.21" y="434.5" width="3.5" height="3.5"/>
<rect x="944.15" y="426" width="3.5" height="3.5"/>
<rect x="945.08" y="420.45" width="3.5" height="3.5"/>
<rect x="946.02" y="415.36" width="3.5" height="3.5"/>
<rect x="946.96" y="413.21" width="3.5" height="3.5"/>
<rect x="947.89" y="411.4" width="3.5" height="3.5"/>
<rect x="948.83" y="409.58" width="3.5" height="3.5"/>
<rect x="949.77" y="408.65" width="3.5" height="3.5"/>
<rect x="950.7" y="407.73" width="3.5" height="3.5"/>
<rect x="951.64" y="407.06" width="3.5" height="3.5"/>
<rect x="952.57" y="407.45" width="3.5" height="3.5"/>
<rect x="953.51" y="407.84" width="3.5" height="3.5"/>
<rect x="954.45" y="408.22" width="3.5" height="3.5"/>
<rect x="955.38" y="408.61" width="3.5" height="3.5"/>
<rect x="956.32" y="408.99" width="3.5" height="3.5"/>
<rect x="957.26" y="409.38" width="3.5" height="3.5"/>
<rect x="958.19" y="409.77" width="3.5" height="3.5"/>
<rect x="959.13" y="410.15" width="3.5" height="3.5"/>
<rect x="960.07" y="410.5" width="3.5" height="3.5"/>
<rect x="961" y="410.82" width="3.5" height="3.5"/>
<rect x="961.94" y="411.13" width="3.5" height="3.5"/>
<rect x="962.88" y="411.45" width="3.5" height="3.5"/>
<rect x="963.81" y="411.77" width="3.5" height="3.5"/>
<rect x="964.75" y="412.09" width="3.5" height="3.5"/>
<rect x="965.68" y="412.41" width="3.5" height="3.5"/>
<rect x="966.62" y="412.73" width="3.5" height="3.5"/>
<rect x="967.56" y="413.04" width="3.5" height="3.5"/>
<rect x="968.49" y="413.36" width="3.5" height="3.5"/>
<rect x="969.43" y="413.68" width="3.5" height="3.5"/>
<rect x="970.37" y="414" width="3.5" height="3.5"/>
<rect x="971.3" y="414.32" width="3.5" height="3.5"/>
<rect x="972.24" y="414.63" width="3.5" height="3.5"/>
<rect x="973.18" y="414.95" width="3.5" height="3.5"/>
</g>
<g fill="#fdeaea" stroke="#ea5a5e" stroke-width="0.6">
<rect x="786.27" y="413.29" width="3.5" height="3.5"/>
<rect x="787.21" y="394.22" width="3.5" height="3.5"/>
<rect x="788.14" y="391.51" width="3.5" height="3.5"/>
<rect x="789.08" y="391.2" width="3.5" height="3.5"/>
<rect x="790.02" y="390.89" width="3.5" height="3.5"/>
<rect x="790.95" y="390.58" width="3.5" height="3.5"/>
<rect x="791.89" y="390.44" width="3.5" height="3.5"/>
<rect x="792.82" y="390.3" width="3.5" height="3.5"/>
<rect x="793.76" y="390.16" width="3.5" height="3.5"/>
<rect x="794.7" y="390.02" width="3.5" height="3.5"/>
<rect x="795.63" y="389.88" width="3.5" height="3.5"/>
<rect x="796.57" y="389.75" width="3.5" height="3.5"/>
<rect x="797.51" y="389.61" width="3.5" height="3.5"/>
<rect x="798.44" y="389.47" width="3.5" height="3.5"/>
<rect x="799.38" y="389.33" width="3.5" height="3.5"/>
<rect x="800.32" y="389.19" width="3.5" height="3.5"/>
<rect x="801.25" y="389.05" width="3.5" height="3.5"/>
<rect x="802.19" y="388.91" width="3.5" height="3.5"/>
<rect x="803.13" y="388.77" width="3.5" height="3.5"/>
<rect x="804.06" y="388.63" width="3.5" height="3.5"/>
<rect x="805" y="388.49" width="3.5" height="3.5"/>
<rect x="805.93" y="388.35" width="3.5" height="3.5"/>
<rect x="806.87" y="388.21" width="3.5" height="3.5"/>
<rect x="807.81" y="388.07" width="3.5" height="3.5"/>
<rect x="808.74" y="387.93" width="3.5" height="3.5"/>
<rect x="809.68" y="387.79" width="3.5" height="3.5"/>
<rect x="810.62" y="387.65" width="3.5" height="3.5"/>
<rect x="811.55" y="387.51" width="3.5" height="3.5"/>
<rect x="812.49" y="387.37" width="3.5" height="3.5"/>
<rect x="813.43" y="387.23" width="3.5" height="3.5"/>
<rect x="814.36" y="387.09" width="3.5" height="3.5"/>
<rect x="815.3" y="386.95" width="3.5" height="3.5"/>
<rect x="816.23" y="386.81" width="3.5" height="3.5"/>
<rect x="817.17" y="386.67" width="3.5" height="3.5"/>
<rect x="818.11" y="386.53" width="3.5" height="3.5"/>
<rect x="819.04" y="386.39" width="3.5" height="3.5"/>
<rect x="819.98" y="386.25" width="3.5" height="3.5"/>
<rect x="820.92" y="386.11" width="3.5" height="3.5"/>
<rect x="821.85" y="385.97" width="3.5" height="3.5"/>
<rect x="822.79" y="385.83" width="3.5" height="3.5"/>
<rect x="823.73" y="385.69" width="3.5" height="3.5"/>
<rect x="824.66" y="385.55" width="3.5" height="3.5"/>
<rect x="825.6" y="385.41" width="3.5" height="3.5"/>
<rect x="826.54" y="385.27" width="3.5" height="3.5"/>
<rect x="827.47" y="385.13" width="3.5" height="3.5"/>
<rect x="828.41" y="384.99" width="3.5" height="3.5"/>
<rect x="829.34" y="384.86" width="3.5" height="3.5"/>
<rect x="830.28" y="384.72" width="3.5" height="3.5"/>
<rect x="831.22" y="384.58" width="3.5" height="3.5"/>
<rect x="832.15" y="384.44" width="3.5" height="3.5"/>
<rect x="833.09" y="384.3" width="3.5" height="3.5"/>
<rect x="880.38" y="410.31" width="3.5" height="3.5"/>
<rect x="881.31" y="389.89" width="3.5" height="3.5"/>
<rect x="882.25" y="388.2" width="3.5" height="3.5"/>
<rect x="883.19" y="387.22" width="3.5" height="3.5"/>
<rect x="884.12" y="386.98" width="3.5" height="3.5"/>
<rect x="885.06" y="386.73" width="3.5" height="3.5"/>
<rect x="886" y="386.49" width="3.5" height="3.5"/>
<rect x="886.93" y="386.24" width="3.5" height="3.5"/>
<rect x="887.87" y="386" width="3.5" height="3.5"/>
<rect x="888.81" y="385.75" width="3.5" height="3.5"/>
<rect x="889.74" y="385.56" width="3.5" height="3.5"/>
<rect x="890.68" y="385.42" width="3.5" height="3.5"/>
<rect x="891.62" y="385.28" width="3.5" height="3.5"/>
<rect x="892.55" y="385.14" width="3.5" height="3.5"/>
<rect x="893.49" y="385.01" width="3.5" height="3.5"/>
<rect x="894.42" y="384.87" width="3.5" height="3.5"/>
<rect x="895.36" y="384.73" width="3.5" height="3.5"/>
<rect x="896.3" y="384.59" width="3.5" height="3.5"/>
<rect x="897.23" y="384.46" width="3.5" height="3.5"/>
<rect x="898.17" y="384.32" width="3.5" height="3.5"/>
<rect x="899.11" y="384.18" width="3.5" height="3.5"/>
<rect x="900.04" y="384.04" width="3.5" height="3.5"/>
<rect x="900.98" y="383.91" width="3.5" height="3.5"/>
<rect x="901.92" y="383.77" width="3.5" height="3.5"/>
<rect x="902.85" y="383.63" width="3.5" height="3.5"/>
<rect x="903.79" y="383.49" width="3.5" height="3.5"/>
<rect x="904.72" y="383.35" width="3.5" height="3.5"/>
<rect x="905.66" y="383.22" width="3.5" height="3.5"/>
<rect x="906.6" y="383.08" width="3.5" height="3.5"/>
<rect x="907.53" y="382.94" width="3.5" height="3.5"/>
<rect x="908.47" y="382.8" width="3.5" height="3.5"/>
<rect x="909.41" y="382.67" width="3.5" height="3.5"/>
<rect x="910.34" y="382.53" width="3.5" height="3.5"/>
<rect x="911.28" y="382.39" width="3.5" height="3.5"/>
<rect x="912.22" y="382.25" width="3.5" height="3.5"/>
<rect x="913.15" y="382.12" width="3.5" height="3.5"/>
<rect x="914.09" y="381.98" width="3.5" height="3.5"/>
<rect x="915.02" y="381.84" width="3.5" height="3.5"/>
<rect x="915.96" y="381.7" width="3.5" height="3.5"/>
<rect x="916.9" y="381.57" width="3.5" height="3.5"/>
<rect x="917.83" y="381.43" width="3.5" height="3.5"/>
<rect x="918.77" y="381.29" width="3.5" height="3.5"/>
<rect x="919.71" y="381.15" width="3.5" height="3.5"/>
<rect x="920.64" y="381.01" width="3.5" height="3.5"/>
<rect x="921.58" y="380.88" width="3.5" height="3.5"/>
<rect x="922.52" y="380.74" width="3.5" height="3.5"/>
<rect x="923.45" y="380.6" width="3.5" height="3.5"/>
<rect x="924.39" y="380.46" width="3.5" height="3.5"/>
<rect x="925.33" y="380.33" width="3.5" height="3.5"/>
<rect x="926.26" y="380.19" width="3.5" height="3.5"/>
</g>
<polyline fill="none" stroke="#3a4fa5" stroke-width="0.55" points="741.67,342.36 742.6,342.43 743.54,342.29 744.48,342.05 745.41,342.1 746.35,342.37 747.29,342.43 748.22,342.05 749.16,342.22 750.1,342.16 751.03,342.46 751.97,342.48 752.91,342.17 753.84,342.3 754.78,342.47 755.71,342.05 756.65,342.2 757.59,342.12 758.52,342.47 759.46,342.1 760.4,342.48 761.33,342.1 762.27,342.3 763.21,342.35 764.14,342.25 765.08,342.07 766.01,342.39 766.95,342.46 767.89,342.27 768.82,342.41 769.76,342.48 770.7,342.45 771.63,342.51 772.57,342.43 773.51,342.38 774.44,342.39 775.38,342.16 776.32,342.4 777.25,342.29 778.19,342.45 779.12,342.37 780.06,342.53 781,342.42 781.93,342.54 782.87,342.19 783.81,342.28 784.74,342.46 785.68,342.32 786.62,342.09 787.55,342.5 788.49,394.56 788.96,381.05 789.89,381.1 790.83,381.15 791.77,381.2 792.7,381.25 793.64,381.2 794.57,381.14 795.51,381.09 796.45,381.04 797.38,380.98 798.32,380.93 799.26,380.88 800.19,380.82 801.13,380.77 802.07,380.72 803,380.66 803.94,380.61 804.88,380.56 805.81,380.51 806.75,380.45 807.68,380.32 808.62,380.2 809.56,380.07 810.49,379.94 811.43,379.81 812.37,379.68 813.3,379.55 814.24,379.42 815.18,379.3 816.11,379.17 817.05,379.04 817.98,378.91 818.92,378.78 819.86,378.65 820.79,378.52 821.73,378.4 822.67,378.27 823.6,378.14 824.54,378.01 825.48,377.88 826.41,377.59 827.35,377.3 828.29,377.02 829.22,376.73 830.16,376.44 831.09,376.15 832.03,375.86 832.97,375.57 833.9,375.28 834.84,374.99 835.31,394.45 836.24,381.14 837.18,372.85 838.12,369.64 839.05,367.47 839.99,365.92 840.93,356.89 841.86,347.93 842.8,342.38 843.74,340.63 844.67,340.91 845.61,341 846.55,341.11 847.48,341.13 848.42,341.23 849.35,341.2 850.29,341.22 851.23,341 852.16,341.15 853.1,341.18 854.04,341.21 854.97,340.96 855.91,340.95 856.85,341.01 857.78,341.14 858.72,341.15 859.65,341.13 860.59,341.07 861.53,341.17 862.46,341.08 863.4,341.13 864.34,340.91 865.27,340.9 866.21,341.04 867.15,341.13 868.08,340.9 869.02,341.11 869.96,341.09 870.89,341.21 871.83,341.08 872.76,341.05 873.7,341.04 874.64,341.14 875.57,341.04 876.51,341.2 877.45,341.11 878.38,341.17 879.32,341.06 880.26,341.18 881.19,341.18 883.06,389.1 884,382.73 884.94,382.3 885.87,381.88 886.81,381.61 887.75,381.5 888.68,381.39 889.62,381.29 890.56,381.18 891.49,381.08 892.43,380.97 893.37,380.86 894.3,380.76 895.24,380.65 896.17,380.54 897.11,380.44 898.05,380.33 898.98,380.22 899.92,380.12 900.86,379.98 901.79,379.83 902.73,379.67 903.67,379.51 904.6,379.35 905.54,379.19 906.47,379.03 907.41,378.87 908.35,378.71 909.28,378.55 910.22,378.39 911.16,378.23 912.09,378.07 913.03,377.91 913.97,377.75 914.9,377.59 915.84,377.43 916.77,377.27 917.71,377.11 918.65,376.95 919.58,376.75 920.52,376.5 921.46,376.26 922.39,376.01 923.33,375.76 924.27,375.52 925.2,375.27 926.14,375.02 927.08,374.77 928.01,374.53 928.95,351.64 929.88,333.79 930.82,334.41 931.76,335.24 932.69,336.06 933.63,336.97 934.57,337.82 935.5,338.6 936.44,339.6 937.38,340.37 938.31,340.81 939.25,341.74 940.18,342.03 941.12,342.36 942.06,342.86 942.99,342.9 943.93,343.04 944.87,343.12 945.8,343.09 946.74,343.06 947.68,343.28 948.61,343.16 949.55,343.14 950.49,342.99 951.42,342.96 952.36,342.91 953.29,342.94 954.23,342.8 955.17,342.82 956.1,342.78 957.04,342.88 957.98,342.91 958.91,342.83 959.85,342.71 960.79,342.75 961.72,342.47 962.66,342.52 963.6,342.45 964.53,342.41 965.47,342.35 966.4,342.37 967.34,342.48 968.28,342.18 969.21,342.15 970.15,342.19 971.09,342.13 972.02,342.05 972.96,342.2 973.9,341.94 974.83,342.05" />
<g fill="#3a4fa5" stroke="#3a4fa5" stroke-width="0.4">
<path d="M738.97 342.36L741.67 339.66L744.37 342.36L741.67 345.06Z"/>
<path d="M739.9 342.43L742.6 339.73L745.3 342.43L742.6 345.13Z"/>
<path d="M740.84 342.29L743.54 339.59L746.24 342.29L743.54 344.99Z"/>
<path d="M741.78 342.05L744.48 339.35L747.18 342.05L744.48 344.75Z"/>
<path d="M742.71 342.1L745.41 339.4L748.11 342.1L745.41 344.8Z"/>
<path d="M743.65 342.37L746.35 339.67L749.05 342.37L746.35 345.07Z"/>
<path d="M744.59 342.43L747.29 339.73L749.99 342.43L747.29 345.13Z"/>
<path d="M745.52 342.05L748.22 339.35L750.92 342.05L748.22 344.75Z"/>
<path d="M746.46 342.22L749.16 339.52L751.86 342.22L749.16 344.92Z"/>
<path d="M747.4 342.16L750.1 339.46L752.8 342.16L750.1 344.86Z"/>
<path d="M748.33 342.46L751.03 339.76L753.73 342.46L751.03 345.16Z"/>
<path d="M749.27 342.48L751.97 339.78L754.67 342.48L751.97 345.18Z"/>
<path d="M750.21 342.17L752.91 339.47L755.61 342.17L752.91 344.87Z"/>
<path d="M751.14 342.3L753.84 339.6L756.54 342.3L753.84 345Z"/>
<path d="M752.08 342.47L754.78 339.77L757.48 342.47L754.78 345.17Z"/>
<path d="M753.01 342.05L755.71 339.35L758.41 342.05L755.71 344.75Z"/>
<path d="M753.95 342.2L756.65 339.5L759.35 342.2L756.65 344.9Z"/>
<path d="M754.89 342.12L757.59 339.42L760.29 342.12L757.59 344.82Z"/>
<path d="M755.82 342.47L758.52 339.77L761.22 342.47L758.52 345.17Z"/>
<path d="M756.76 342.1L759.46 339.4L762.16 342.1L759.46 344.8Z"/>
<path d="M757.7 342.48L760.4 339.78L763.1 342.48L760.4 345.18Z"/>
<path d="M758.63 342.1L761.33 339.4L764.03 342.1L761.33 344.8Z"/>
<path d="M759.57 342.3L762.27 339.6L764.97 342.3L762.27 345Z"/>
<path d="M760.51 342.35L763.21 339.65L765.91 342.35L763.21 345.05Z"/>
<path d="M761.44 342.25L764.14 339.55L766.84 342.25L764.14 344.95Z"/>
<path d="M762.38 342.07L765.08 339.37L767.78 342.07L765.08 344.77Z"/>
<path d="M763.31 342.39L766.01 339.69L768.71 342.39L766.01 345.09Z"/>
<path d="M764.25 342.46L766.95 339.76L769.65 342.46L766.95 345.16Z"/>
<path d="M765.19 342.27L767.89 339.57L770.59 342.27L767.89 344.97Z"/>
<path d="M766.12 342.41L768.82 339.71L771.52 342.41L768.82 345.11Z"/>
<path d="M767.06 342.48L769.76 339.78L772.46 342.48L769.76 345.18Z"/>
<path d="M768 342.45L770.7 339.75L773.4 342.45L770.7 345.15Z"/>
<path d="M768.93 342.51L771.63 339.81L774.33 342.51L771.63 345.21Z"/>
<path d="M769.87 342.43L772.57 339.73L775.27 342.43L772.57 345.13Z"/>
<path d="M770.81 342.38L773.51 339.68L776.21 342.38L773.51 345.08Z"/>
<path d="M771.74 342.39L774.44 339.69L777.14 342.39L774.44 345.09Z"/>
<path d="M772.68 342.16L775.38 339.46L778.08 342.16L775.38 344.86Z"/>
<path d="M773.62 342.4L776.32 339.7L779.02 342.4L776.32 345.1Z"/>
<path d="M774.55 342.29L777.25 339.59L779.95 342.29L777.25 344.99Z"/>
<path d="M775.49 342.45L778.19 339.75L780.89 342.45L778.19 345.15Z"/>
<path d="M776.42 342.37L779.12 339.67L781.82 342.37L779.12 345.07Z"/>
<path d="M777.36 342.53L780.06 339.83L782.76 342.53L780.06 345.23Z"/>
<path d="M778.3 342.42L781 339.72L783.7 342.42L781 345.12Z"/>
<path d="M779.23 342.54L781.93 339.84L784.63 342.54L781.93 345.24Z"/>
<path d="M780.17 342.19L782.87 339.49L785.57 342.19L782.87 344.89Z"/>
<path d="M781.11 342.28L783.81 339.58L786.51 342.28L783.81 344.98Z"/>
<path d="M782.04 342.46L784.74 339.76L787.44 342.46L784.74 345.16Z"/>
<path d="M782.98 342.32L785.68 339.62L788.38 342.32L785.68 345.02Z"/>
<path d="M783.92 342.09L786.62 339.39L789.32 342.09L786.62 344.79Z"/>
<path d="M784.85 342.5L787.55 339.8L790.25 342.5L787.55 345.2Z"/>
<path d="M785.79 394.56L788.49 391.86L791.19 394.56L788.49 397.26Z"/>
<path d="M786.26 381.05L788.96 378.35L791.66 381.05L788.96 383.75Z"/>
<path d="M787.19 381.1L789.89 378.4L792.59 381.1L789.89 383.8Z"/>
<path d="M788.13 381.15L790.83 378.45L793.53 381.15L790.83 383.85Z"/>
<path d="M789.07 381.2L791.77 378.5L794.47 381.2L791.77 383.9Z"/>
<path d="M790 381.25L792.7 378.55L795.4 381.25L792.7 383.95Z"/>
<path d="M790.94 381.2L793.64 378.5L796.34 381.2L793.64 383.9Z"/>
<path d="M791.87 381.14L794.57 378.44L797.27 381.14L794.57 383.84Z"/>
<path d="M792.81 381.09L795.51 378.39L798.21 381.09L795.51 383.79Z"/>
<path d="M793.75 381.04L796.45 378.34L799.15 381.04L796.45 383.74Z"/>
<path d="M794.68 380.98L797.38 378.28L800.08 380.98L797.38 383.68Z"/>
<path d="M795.62 380.93L798.32 378.23L801.02 380.93L798.32 383.63Z"/>
<path d="M796.56 380.88L799.26 378.18L801.96 380.88L799.26 383.58Z"/>
<path d="M797.49 380.82L800.19 378.12L802.89 380.82L800.19 383.52Z"/>
<path d="M798.43 380.77L801.13 378.07L803.83 380.77L801.13 383.47Z"/>
<path d="M799.37 380.72L802.07 378.02L804.77 380.72L802.07 383.42Z"/>
<path d="M800.3 380.66L803 377.96L805.7 380.66L803 383.36Z"/>
<path d="M801.24 380.61L803.94 377.91L806.64 380.61L803.94 383.31Z"/>
<path d="M802.18 380.56L804.88 377.86L807.58 380.56L804.88 383.26Z"/>
<path d="M803.11 380.51L805.81 377.81L808.51 380.51L805.81 383.21Z"/>
<path d="M804.05 380.45L806.75 377.75L809.45 380.45L806.75 383.15Z"/>
<path d="M804.98 380.32L807.68 377.62L810.38 380.32L807.68 383.02Z"/>
<path d="M805.92 380.2L808.62 377.5L811.32 380.2L808.62 382.9Z"/>
<path d="M806.86 380.07L809.56 377.37L812.26 380.07L809.56 382.77Z"/>
<path d="M807.79 379.94L810.49 377.24L813.19 379.94L810.49 382.64Z"/>
<path d="M808.73 379.81L811.43 377.11L814.13 379.81L811.43 382.51Z"/>
<path d="M809.67 379.68L812.37 376.98L815.07 379.68L812.37 382.38Z"/>
<path d="M810.6 379.55L813.3 376.85L816 379.55L813.3 382.25Z"/>
<path d="M811.54 379.42L814.24 376.72L816.94 379.42L814.24 382.12Z"/>
<path d="M812.48 379.3L815.18 376.6L817.88 379.3L815.18 382Z"/>
<path d="M813.41 379.17L816.11 376.47L818.81 379.17L816.11 381.87Z"/>
<path d="M814.35 379.04L817.05 376.34L819.75 379.04L817.05 381.74Z"/>
<path d="M815.28 378.91L817.98 376.21L820.68 378.91L817.98 381.61Z"/>
<path d="M816.22 378.78L818.92 376.08L821.62 378.78L818.92 381.48Z"/>
<path d="M817.16 378.65L819.86 375.95L822.56 378.65L819.86 381.35Z"/>
<path d="M818.09 378.52L820.79 375.82L823.49 378.52L820.79 381.22Z"/>
<path d="M819.03 378.4L821.73 375.7L824.43 378.4L821.73 381.1Z"/>
<path d="M819.97 378.27L822.67 375.57L825.37 378.27L822.67 380.97Z"/>
<path d="M820.9 378.14L823.6 375.44L826.3 378.14L823.6 380.84Z"/>
<path d="M821.84 378.01L824.54 375.31L827.24 378.01L824.54 380.71Z"/>
<path d="M822.78 377.88L825.48 375.18L828.18 377.88L825.48 380.58Z"/>
<path d="M823.71 377.59L826.41 374.89L829.11 377.59L826.41 380.29Z"/>
<path d="M824.65 377.3L827.35 374.6L830.05 377.3L827.35 380Z"/>
<path d="M825.59 377.02L828.29 374.32L830.99 377.02L828.29 379.72Z"/>
<path d="M826.52 376.73L829.22 374.03L831.92 376.73L829.22 379.43Z"/>
<path d="M827.46 376.44L830.16 373.74L832.86 376.44L830.16 379.14Z"/>
<path d="M828.39 376.15L831.09 373.45L833.79 376.15L831.09 378.85Z"/>
<path d="M829.33 375.86L832.03 373.16L834.73 375.86L832.03 378.56Z"/>
<path d="M830.27 375.57L832.97 372.87L835.67 375.57L832.97 378.27Z"/>
<path d="M831.2 375.28L833.9 372.58L836.6 375.28L833.9 377.98Z"/>
<path d="M832.14 374.99L834.84 372.29L837.54 374.99L834.84 377.69Z"/>
<path d="M832.61 394.45L835.31 391.75L838.01 394.45L835.31 397.15Z"/>
<path d="M833.54 381.14L836.24 378.44L838.94 381.14L836.24 383.84Z"/>
<path d="M834.48 372.85L837.18 370.15L839.88 372.85L837.18 375.55Z"/>
<path d="M835.42 369.64L838.12 366.94L840.82 369.64L838.12 372.34Z"/>
<path d="M836.35 367.47L839.05 364.77L841.75 367.47L839.05 370.17Z"/>
<path d="M837.29 365.92L839.99 363.22L842.69 365.92L839.99 368.62Z"/>
<path d="M838.23 356.89L840.93 354.19L843.63 356.89L840.93 359.59Z"/>
<path d="M839.16 347.93L841.86 345.23L844.56 347.93L841.86 350.63Z"/>
<path d="M840.1 342.38L842.8 339.68L845.5 342.38L842.8 345.08Z"/>
<path d="M841.04 340.63L843.74 337.93L846.44 340.63L843.74 343.33Z"/>
<path d="M841.97 340.91L844.67 338.21L847.37 340.91L844.67 343.61Z"/>
<path d="M842.91 341L845.61 338.3L848.31 341L845.61 343.7Z"/>
<path d="M843.85 341.11L846.55 338.41L849.25 341.11L846.55 343.81Z"/>
<path d="M844.78 341.13L847.48 338.43L850.18 341.13L847.48 343.83Z"/>
<path d="M845.72 341.23L848.42 338.53L851.12 341.23L848.42 343.93Z"/>
<path d="M846.65 341.2L849.35 338.5L852.05 341.2L849.35 343.9Z"/>
<path d="M847.59 341.22L850.29 338.52L852.99 341.22L850.29 343.92Z"/>
<path d="M848.53 341L851.23 338.3L853.93 341L851.23 343.7Z"/>
<path d="M849.46 341.15L852.16 338.45L854.86 341.15L852.16 343.85Z"/>
<path d="M850.4 341.18L853.1 338.48L855.8 341.18L853.1 343.88Z"/>
<path d="M851.34 341.21L854.04 338.51L856.74 341.21L854.04 343.91Z"/>
<path d="M852.27 340.96L854.97 338.26L857.67 340.96L854.97 343.66Z"/>
<path d="M853.21 340.95L855.91 338.25L858.61 340.95L855.91 343.65Z"/>
<path d="M854.15 341.01L856.85 338.31L859.55 341.01L856.85 343.71Z"/>
<path d="M855.08 341.14L857.78 338.44L860.48 341.14L857.78 343.84Z"/>
<path d="M856.02 341.15L858.72 338.45L861.42 341.15L858.72 343.85Z"/>
<path d="M856.95 341.13L859.65 338.43L862.35 341.13L859.65 343.83Z"/>
<path d="M857.89 341.07L860.59 338.37L863.29 341.07L860.59 343.77Z"/>
<path d="M858.83 341.17L861.53 338.47L864.23 341.17L861.53 343.87Z"/>
<path d="M859.76 341.08L862.46 338.38L865.16 341.08L862.46 343.78Z"/>
<path d="M860.7 341.13L863.4 338.43L866.1 341.13L863.4 343.83Z"/>
<path d="M861.64 340.91L864.34 338.21L867.04 340.91L864.34 343.61Z"/>
<path d="M862.57 340.9L865.27 338.2L867.97 340.9L865.27 343.6Z"/>
<path d="M863.51 341.04L866.21 338.34L868.91 341.04L866.21 343.74Z"/>
<path d="M864.45 341.13L867.15 338.43L869.85 341.13L867.15 343.83Z"/>
<path d="M865.38 340.9L868.08 338.2L870.78 340.9L868.08 343.6Z"/>
<path d="M866.32 341.11L869.02 338.41L871.72 341.11L869.02 343.81Z"/>
<path d="M867.25 341.09L869.96 338.39L872.66 341.09L869.96 343.79Z"/>
<path d="M868.19 341.21L870.89 338.51L873.59 341.21L870.89 343.91Z"/>
<path d="M869.13 341.08L871.83 338.38L874.53 341.08L871.83 343.78Z"/>
<path d="M870.06 341.05L872.76 338.35L875.46 341.05L872.76 343.75Z"/>
<path d="M871 341.04L873.7 338.34L876.4 341.04L873.7 343.74Z"/>
<path d="M871.94 341.14L874.64 338.44L877.34 341.14L874.64 343.84Z"/>
<path d="M872.87 341.04L875.57 338.34L878.27 341.04L875.57 343.74Z"/>
<path d="M873.81 341.2L876.51 338.5L879.21 341.2L876.51 343.9Z"/>
<path d="M874.75 341.11L877.45 338.41L880.15 341.11L877.45 343.81Z"/>
<path d="M875.68 341.17L878.38 338.47L881.08 341.17L878.38 343.87Z"/>
<path d="M876.62 341.06L879.32 338.36L882.02 341.06L879.32 343.76Z"/>
<path d="M877.56 341.18L880.26 338.48L882.96 341.18L880.26 343.88Z"/>
<path d="M878.49 341.18L881.19 338.48L883.89 341.18L881.19 343.88Z"/>
<path d="M879.9 334.4L882.6 331.7L885.3 334.4L882.6 337.1Z"/>
<path d="M880.36 389.1L883.06 386.4L885.76 389.1L883.06 391.8Z"/>
<path d="M881.3 382.73L884 380.03L886.7 382.73L884 385.43Z"/>
<path d="M882.24 382.3L884.94 379.6L887.64 382.3L884.94 385Z"/>
<path d="M883.17 381.88L885.87 379.18L888.57 381.88L885.87 384.58Z"/>
<path d="M884.11 381.61L886.81 378.91L889.51 381.61L886.81 384.31Z"/>
<path d="M885.05 381.5L887.75 378.8L890.45 381.5L887.75 384.2Z"/>
<path d="M885.98 381.39L888.68 378.69L891.38 381.39L888.68 384.09Z"/>
<path d="M886.92 381.29L889.62 378.59L892.32 381.29L889.62 383.99Z"/>
<path d="M887.86 381.18L890.56 378.48L893.26 381.18L890.56 383.88Z"/>
<path d="M888.79 381.08L891.49 378.38L894.19 381.08L891.49 383.78Z"/>
<path d="M889.73 380.97L892.43 378.27L895.13 380.97L892.43 383.67Z"/>
<path d="M890.66 380.86L893.37 378.16L896.07 380.86L893.37 383.56Z"/>
<path d="M891.6 380.76L894.3 378.06L897 380.76L894.3 383.46Z"/>
<path d="M892.54 380.65L895.24 377.95L897.94 380.65L895.24 383.35Z"/>
<path d="M893.47 380.54L896.17 377.84L898.87 380.54L896.17 383.24Z"/>
<path d="M894.41 380.44L897.11 377.74L899.81 380.44L897.11 383.14Z"/>
<path d="M895.35 380.33L898.05 377.63L900.75 380.33L898.05 383.03Z"/>
<path d="M896.28 380.22L898.98 377.52L901.68 380.22L898.98 382.92Z"/>
<path d="M897.22 380.12L899.92 377.42L902.62 380.12L899.92 382.82Z"/>
<path d="M898.16 379.98L900.86 377.28L903.56 379.98L900.86 382.68Z"/>
<path d="M899.09 379.83L901.79 377.13L904.49 379.83L901.79 382.53Z"/>
<path d="M900.03 379.67L902.73 376.97L905.43 379.67L902.73 382.37Z"/>
<path d="M900.97 379.51L903.67 376.81L906.37 379.51L903.67 382.21Z"/>
<path d="M901.9 379.35L904.6 376.65L907.3 379.35L904.6 382.05Z"/>
<path d="M902.84 379.19L905.54 376.49L908.24 379.19L905.54 381.89Z"/>
<path d="M903.77 379.03L906.47 376.33L909.17 379.03L906.47 381.73Z"/>
<path d="M904.71 378.87L907.41 376.17L910.11 378.87L907.41 381.57Z"/>
<path d="M905.65 378.71L908.35 376.01L911.05 378.71L908.35 381.41Z"/>
<path d="M906.58 378.55L909.28 375.85L911.98 378.55L909.28 381.25Z"/>
<path d="M907.52 378.39L910.22 375.69L912.92 378.39L910.22 381.09Z"/>
<path d="M908.46 378.23L911.16 375.53L913.86 378.23L911.16 380.93Z"/>
<path d="M909.39 378.07L912.09 375.37L914.79 378.07L912.09 380.77Z"/>
<path d="M910.33 377.91L913.03 375.21L915.73 377.91L913.03 380.61Z"/>
<path d="M911.27 377.75L913.97 375.05L916.67 377.75L913.97 380.45Z"/>
<path d="M912.2 377.59L914.9 374.89L917.6 377.59L914.9 380.29Z"/>
<path d="M913.14 377.43L915.84 374.73L918.54 377.43L915.84 380.13Z"/>
<path d="M914.07 377.27L916.77 374.57L919.48 377.27L916.77 379.97Z"/>
<path d="M915.01 377.11L917.71 374.41L920.41 377.11L917.71 379.81Z"/>
<path d="M915.95 376.95L918.65 374.25L921.35 376.95L918.65 379.65Z"/>
<path d="M916.88 376.75L919.58 374.05L922.28 376.75L919.58 379.45Z"/>
<path d="M917.82 376.5L920.52 373.8L923.22 376.5L920.52 379.2Z"/>
<path d="M918.76 376.26L921.46 373.56L924.16 376.26L921.46 378.96Z"/>
<path d="M919.69 376.01L922.39 373.31L925.09 376.01L922.39 378.71Z"/>
<path d="M920.63 375.76L923.33 373.06L926.03 375.76L923.33 378.46Z"/>
<path d="M921.57 375.52L924.27 372.82L926.97 375.52L924.27 378.22Z"/>
<path d="M922.5 375.27L925.2 372.57L927.9 375.27L925.2 377.97Z"/>
<path d="M923.44 375.02L926.14 372.32L928.84 375.02L926.14 377.72Z"/>
<path d="M924.38 374.77L927.08 372.07L929.78 374.77L927.08 377.47Z"/>
<path d="M925.31 374.53L928.01 371.83L930.71 374.53L928.01 377.23Z"/>
<path d="M926.25 351.64L928.95 348.94L931.65 351.64L928.95 354.34Z"/>
<path d="M927.18 333.79L929.88 331.09L932.58 333.79L929.88 336.49Z"/>
<path d="M928.12 334.41L930.82 331.71L933.52 334.41L930.82 337.11Z"/>
<path d="M929.06 335.24L931.76 332.54L934.46 335.24L931.76 337.94Z"/>
<path d="M929.99 336.06L932.69 333.36L935.39 336.06L932.69 338.76Z"/>
<path d="M930.93 336.97L933.63 334.27L936.33 336.97L933.63 339.67Z"/>
<path d="M931.87 337.82L934.57 335.12L937.27 337.82L934.57 340.52Z"/>
<path d="M932.8 338.6L935.5 335.9L938.2 338.6L935.5 341.3Z"/>
<path d="M933.74 339.6L936.44 336.9L939.14 339.6L936.44 342.3Z"/>
<path d="M934.68 340.37L937.38 337.67L940.08 340.37L937.38 343.07Z"/>
<path d="M935.61 340.81L938.31 338.11L941.01 340.81L938.31 343.51Z"/>
<path d="M936.55 341.74L939.25 339.04L941.95 341.74L939.25 344.44Z"/>
<path d="M937.48 342.03L940.18 339.33L942.88 342.03L940.18 344.73Z"/>
<path d="M938.42 342.36L941.12 339.66L943.82 342.36L941.12 345.06Z"/>
<path d="M939.36 342.86L942.06 340.16L944.76 342.86L942.06 345.56Z"/>
<path d="M940.29 342.9L942.99 340.2L945.69 342.9L942.99 345.6Z"/>
<path d="M941.23 343.04L943.93 340.34L946.63 343.04L943.93 345.74Z"/>
<path d="M942.17 343.12L944.87 340.42L947.57 343.12L944.87 345.82Z"/>
<path d="M943.1 343.09L945.8 340.39L948.5 343.09L945.8 345.79Z"/>
<path d="M944.04 343.06L946.74 340.36L949.44 343.06L946.74 345.76Z"/>
<path d="M944.98 343.28L947.68 340.58L950.38 343.28L947.68 345.98Z"/>
<path d="M945.91 343.16L948.61 340.46L951.31 343.16L948.61 345.86Z"/>
<path d="M946.85 343.14L949.55 340.44L952.25 343.14L949.55 345.84Z"/>
<path d="M947.79 342.99L950.49 340.29L953.19 342.99L950.49 345.69Z"/>
<path d="M948.72 342.96L951.42 340.26L954.12 342.96L951.42 345.66Z"/>
<path d="M949.66 342.91L952.36 340.21L955.06 342.91L952.36 345.61Z"/>
<path d="M950.59 342.94L953.29 340.24L955.99 342.94L953.29 345.64Z"/>
<path d="M951.53 342.8L954.23 340.1L956.93 342.8L954.23 345.5Z"/>
<path d="M952.47 342.82L955.17 340.12L957.87 342.82L955.17 345.52Z"/>
<path d="M953.4 342.78L956.1 340.08L958.8 342.78L956.1 345.48Z"/>
<path d="M954.34 342.88L957.04 340.18L959.74 342.88L957.04 345.58Z"/>
<path d="M955.28 342.91L957.98 340.21L960.68 342.91L957.98 345.61Z"/>
<path d="M956.21 342.83L958.91 340.13L961.61 342.83L958.91 345.53Z"/>
<path d="M957.15 342.71L959.85 340.01L962.55 342.71L959.85 345.41Z"/>
<path d="M958.09 342.75L960.79 340.05L963.49 342.75L960.79 345.45Z"/>
<path d="M959.02 342.47L961.72 339.77L964.42 342.47L961.72 345.17Z"/>
<path d="M959.96 342.52L962.66 339.82L965.36 342.52L962.66 345.22Z"/>
<path d="M960.89 342.45L963.6 339.75L966.3 342.45L963.6 345.15Z"/>
<path d="M961.83 342.41L964.53 339.71L967.23 342.41L964.53 345.11Z"/>
<path d="M962.77 342.35L965.47 339.65L968.17 342.35L965.47 345.05Z"/>
<path d="M963.7 342.37L966.4 339.67L969.1 342.37L966.4 345.07Z"/>
<path d="M964.64 342.48L967.34 339.78L970.04 342.48L967.34 345.18Z"/>
<path d="M965.58 342.18L968.28 339.48L970.98 342.18L968.28 344.88Z"/>
<path d="M966.51 342.15L969.21 339.45L971.91 342.15L969.21 344.85Z"/>
<path d="M967.45 342.19L970.15 339.49L972.85 342.19L970.15 344.89Z"/>
<path d="M968.39 342.13L971.09 339.43L973.79 342.13L971.09 344.83Z"/>
<path d="M969.32 342.05L972.02 339.35L974.72 342.05L972.02 344.75Z"/>
<path d="M970.26 342.2L972.96 339.5L975.66 342.2L972.96 344.9Z"/>
<path d="M971.2 341.94L973.9 339.24L976.6 341.94L973.9 344.64Z"/>
<path d="M972.13 342.05L974.83 339.35L977.53 342.05L974.83 344.75Z"/>
</g>
<polyline fill="none" stroke="#444" stroke-width="0.55" points="742.6,437.59 743.54,432.43 744.48,429.83 745.41,429.72 746.35,429.77 747.29,430.94 748.22,431.23 749.16,431.21 750.1,431.26 751.03,431.24 751.97,430.37 752.91,429.81 753.84,429.92 754.78,430.63 755.71,430.27 756.65,429.97 757.59,431.42 758.52,430.22 759.46,429.72 760.4,429.96 761.33,430.02 762.27,430.55 763.21,431.16 764.14,429.91 765.08,430.82 766.01,429.87 766.95,429.52 767.89,430.66 768.82,430.64 769.76,429.54 770.7,429.97 771.63,431.09 772.57,431.17 773.51,431.11 774.44,429.57 775.38,429.76 776.32,431.09 777.25,429.7 778.19,429.39 779.12,430.01 780.06,430.63 781,430.21 781.93,431.07 782.87,431.31 783.81,429.35 784.74,429.97 785.68,430.21 786.62,429.39 787.55,430.38 788.02,382.28 788.96,379.15 789.89,378.41 790.83,378.61 791.77,378.82 792.7,379.08 793.64,379.09 794.57,379.52 795.51,379.66 796.45,380.06 797.38,379.82 798.32,380.22 799.26,380.22 800.19,380.21 801.13,380.08 802.07,380.44 803,380.2 803.94,380.52 804.88,380.57 805.81,380.64 806.75,381.02 807.68,380.82 808.62,381.05 809.56,381.22 810.49,380.8 811.43,381.25 812.37,381.01 813.3,380.8 814.24,380.85 815.18,380.94 816.11,380.76 817.05,380.69 817.98,380.49 818.92,380.85 819.86,380.52 820.79,380.66 821.73,380.58 822.67,380.23 823.6,380.33 824.54,380.25 825.48,380.07 826.41,379.92 827.35,380.16 828.29,380 829.22,380.01 830.16,379.95 831.09,379.78 832.03,379.88 832.97,379.77 833.9,379.75 834.84,379.42 835.31,361.81 836.24,327.87 837.18,315.72 838.12,312.27 839.05,316.59 839.99,320.71 840.93,324.84 841.86,331.55 842.8,338.27 843.74,344.34 844.67,350.33 845.61,355.7 846.55,362.35 847.48,368.51 848.42,375.3 850.29,392.49 852.16,400.9 853.1,415.05" />
<polyline fill="none" stroke="#444" stroke-width="0.55" points="882.13,386.98 883.06,380.03 884,378.99 884.94,378.92 885.87,378.77 886.81,378.56 887.75,378.65 888.68,379.1 889.62,379.14 890.56,378.97 891.49,379.19 892.43,379.05 893.37,379.12 894.3,378.72 895.24,378.61 896.17,378.51 897.11,378.92 898.05,378.54 898.98,378.54 899.92,378.82 900.86,378.34 901.79,378.25 902.73,378.67 903.67,378.19 904.6,378.49 905.54,378.37 906.47,377.98 907.41,377.99 908.35,378.31 909.28,378.06 910.22,377.92 911.16,377.94 912.09,377.94 913.03,377.78 913.97,377.44 914.9,377.79 915.84,377.37 916.77,377.35 917.71,377.53 918.65,377.25 919.58,376.98 920.52,376.96 921.46,377.15 922.39,376.5 923.33,376.53 924.27,376.33 925.2,376.77 926.14,376.59 927.08,376.64 928.01,376.1 928.95,351.1 929.88,377.54 930.82,399.06 931.76,406.38 932.69,408.99 933.63,409.88 934.57,409.07 935.5,409.79 936.44,412.06 937.38,415.36 938.31,421.84 939.25,430.24 940.18,433.96" />
<g fill="#fff" stroke="#3a4fa5" stroke-width="0.7">
<path d="M739.38 419.18L741.95 416.62L744.51 419.18L741.95 421.75Z"/>
<path d="M740.04 437.59L742.6 435.02L745.17 437.59L742.6 440.15Z"/>
<path d="M740.98 432.43L743.54 429.87L746.11 432.43L743.54 435Z"/>
<path d="M741.91 429.83L744.48 427.26L747.04 429.83L744.48 432.39Z"/>
<path d="M742.85 429.72L745.41 427.15L747.98 429.72L745.41 432.28Z"/>
<path d="M743.79 429.77L746.35 427.21L748.92 429.77L746.35 432.34Z"/>
<path d="M744.72 430.94L747.29 428.38L749.85 430.94L747.29 433.51Z"/>
<path d="M745.66 431.23L748.22 428.67L750.79 431.23L748.22 433.8Z"/>
<path d="M746.59 431.21L749.16 428.65L751.72 431.21L749.16 433.78Z"/>
<path d="M747.53 431.26L750.1 428.7L752.66 431.26L750.1 433.83Z"/>
<path d="M748.47 431.24L751.03 428.67L753.6 431.24L751.03 433.8Z"/>
<path d="M749.4 430.37L751.97 427.8L754.53 430.37L751.97 432.93Z"/>
<path d="M750.34 429.81L752.91 427.24L755.47 429.81L752.91 432.37Z"/>
<path d="M751.28 429.92L753.84 427.35L756.41 429.92L753.84 432.48Z"/>
<path d="M752.21 430.63L754.78 428.06L757.34 430.63L754.78 433.19Z"/>
<path d="M753.15 430.27L755.71 427.7L758.28 430.27L755.71 432.83Z"/>
<path d="M754.09 429.97L756.65 427.4L759.22 429.97L756.65 432.53Z"/>
<path d="M755.02 431.42L757.59 428.86L760.15 431.42L757.59 433.99Z"/>
<path d="M755.96 430.22L758.52 427.66L761.09 430.22L758.52 432.79Z"/>
<path d="M756.89 429.72L759.46 427.16L762.02 429.72L759.46 432.29Z"/>
<path d="M757.83 429.96L760.4 427.4L762.96 429.96L760.4 432.53Z"/>
<path d="M758.77 430.02L761.33 427.45L763.9 430.02L761.33 432.58Z"/>
<path d="M759.7 430.55L762.27 427.99L764.83 430.55L762.27 433.12Z"/>
<path d="M760.64 431.16L763.21 428.6L765.77 431.16L763.21 433.73Z"/>
<path d="M761.58 429.91L764.14 427.34L766.71 429.91L764.14 432.47Z"/>
<path d="M762.51 430.82L765.08 428.26L767.64 430.82L765.08 433.39Z"/>
<path d="M763.45 429.87L766.01 427.3L768.58 429.87L766.01 432.43Z"/>
<path d="M764.39 429.52L766.95 426.96L769.52 429.52L766.95 432.09Z"/>
<path d="M765.32 430.66L767.89 428.1L770.45 430.66L767.89 433.23Z"/>
<path d="M766.26 430.64L768.82 428.08L771.39 430.64L768.82 433.21Z"/>
<path d="M767.2 429.54L769.76 426.98L772.33 429.54L769.76 432.11Z"/>
<path d="M768.13 429.97L770.7 427.4L773.26 429.97L770.7 432.53Z"/>
<path d="M769.07 431.09L771.63 428.53L774.2 431.09L771.63 433.66Z"/>
<path d="M770 431.17L772.57 428.61L775.13 431.17L772.57 433.74Z"/>
<path d="M770.94 431.11L773.51 428.55L776.07 431.11L773.51 433.68Z"/>
<path d="M771.88 429.57L774.44 427.01L777.01 429.57L774.44 432.14Z"/>
<path d="M772.81 429.76L775.38 427.19L777.94 429.76L775.38 432.32Z"/>
<path d="M773.75 431.09L776.32 428.53L778.88 431.09L776.32 433.66Z"/>
<path d="M774.69 429.7L777.25 427.13L779.82 429.7L777.25 432.26Z"/>
<path d="M775.62 429.39L778.19 426.82L780.75 429.39L778.19 431.95Z"/>
<path d="M776.56 430.01L779.12 427.45L781.69 430.01L779.12 432.58Z"/>
<path d="M777.5 430.63L780.06 428.06L782.63 430.63L780.06 433.19Z"/>
<path d="M778.43 430.21L781 427.65L783.56 430.21L781 432.78Z"/>
<path d="M779.37 431.07L781.93 428.5L784.5 431.07L781.93 433.63Z"/>
<path d="M780.3 431.31L782.87 428.74L785.43 431.31L782.87 433.87Z"/>
<path d="M781.24 429.35L783.81 426.78L786.37 429.35L783.81 431.91Z"/>
<path d="M782.18 429.97L784.74 427.41L787.31 429.97L784.74 432.54Z"/>
<path d="M783.11 430.21L785.68 427.64L788.24 430.21L785.68 432.77Z"/>
<path d="M784.05 429.39L786.62 426.82L789.18 429.39L786.62 431.95Z"/>
<path d="M784.99 430.38L787.55 427.81L790.12 430.38L787.55 432.94Z"/>
<path d="M832.74 361.81L835.31 359.24L837.87 361.81L835.31 364.37Z"/>
<path d="M833.68 327.87L836.24 325.31L838.81 327.87L836.24 330.44Z"/>
<path d="M834.62 315.72L837.18 313.16L839.75 315.72L837.18 318.29Z"/>
<path d="M835.55 312.27L838.12 309.7L840.68 312.27L838.12 314.83Z"/>
<path d="M836.49 316.59L839.05 314.02L841.62 316.59L839.05 319.15Z"/>
<path d="M837.43 320.71L839.99 318.15L842.56 320.71L839.99 323.28Z"/>
<path d="M838.36 324.84L840.93 322.27L843.49 324.84L840.93 327.4Z"/>
<path d="M839.3 331.55L841.86 328.98L844.43 331.55L841.86 334.11Z"/>
<path d="M840.23 338.27L842.8 335.7L845.36 338.27L842.8 340.83Z"/>
<path d="M841.17 344.34L843.74 341.77L846.3 344.34L843.74 346.9Z"/>
<path d="M842.11 350.33L844.67 347.77L847.24 350.33L844.67 352.9Z"/>
<path d="M843.04 355.7L845.61 353.14L848.17 355.7L845.61 358.27Z"/>
<path d="M843.98 362.35L846.55 359.78L849.11 362.35L846.55 364.91Z"/>
<path d="M844.92 368.51L847.48 365.95L850.05 368.51L847.48 371.08Z"/>
<path d="M845.85 375.3L848.42 372.73L850.98 375.3L848.42 377.86Z"/>
<path d="M847.73 392.49L850.29 389.92L852.86 392.49L850.29 395.05Z"/>
<path d="M849.6 400.9L852.16 398.34L854.73 400.9L852.16 403.47Z"/>
<path d="M850.53 415.05L853.1 412.49L855.66 415.05L853.1 417.62Z"/>
<path d="M926.38 351.1L928.95 348.54L931.51 351.1L928.95 353.67Z"/>
<path d="M927.32 377.54L929.88 374.98L932.45 377.54L929.88 380.11Z"/>
<path d="M928.26 399.06L930.82 396.5L933.39 399.06L930.82 401.63Z"/>
<path d="M929.19 406.38L931.76 403.82L934.32 406.38L931.76 408.95Z"/>
<path d="M930.13 408.99L932.69 406.42L935.26 408.99L932.69 411.55Z"/>
<path d="M931.07 409.88L933.63 407.31L936.2 409.88L933.63 412.44Z"/>
<path d="M932 409.07L934.57 406.5L937.13 409.07L934.57 411.63Z"/>
<path d="M932.94 409.79L935.5 407.23L938.07 409.79L935.5 412.36Z"/>
<path d="M933.87 412.06L936.44 409.49L939 412.06L936.44 414.62Z"/>
<path d="M934.81 415.36L937.38 412.8L939.94 415.36L937.38 417.93Z"/>
<path d="M935.75 421.84L938.31 419.28L940.88 421.84L938.31 424.41Z"/>
<path d="M936.68 430.24L939.25 427.68L941.81 430.24L939.25 432.81Z"/>
<path d="M937.62 433.96L940.18 431.39L942.75 433.96L940.18 436.52Z"/>
</g>
<g fill="#ece4f4" stroke="#8a7acb" stroke-width="0.6">
<path d="M785.45 382.28L788.02 379.72L790.59 382.28L788.02 384.85Z"/>
<path d="M786.39 379.15L788.96 376.59L791.52 379.15L788.96 381.72Z"/>
<path d="M787.33 378.41L789.89 375.84L792.46 378.41L789.89 380.97Z"/>
<path d="M788.26 378.61L790.83 376.05L793.39 378.61L790.83 381.18Z"/>
<path d="M789.2 378.82L791.77 376.25L794.33 378.82L791.77 381.38Z"/>
<path d="M790.14 379.08L792.7 376.51L795.27 379.08L792.7 381.64Z"/>
<path d="M791.07 379.09L793.64 376.53L796.2 379.09L793.64 381.66Z"/>
<path d="M792.01 379.52L794.57 376.96L797.14 379.52L794.57 382.09Z"/>
<path d="M792.95 379.66L795.51 377.09L798.08 379.66L795.51 382.22Z"/>
<path d="M793.88 380.06L796.45 377.5L799.01 380.06L796.45 382.63Z"/>
<path d="M794.82 379.82L797.38 377.25L799.95 379.82L797.38 382.38Z"/>
<path d="M795.76 380.22L798.32 377.65L800.89 380.22L798.32 382.78Z"/>
<path d="M796.69 380.22L799.26 377.66L801.82 380.22L799.26 382.79Z"/>
<path d="M797.63 380.21L800.19 377.65L802.76 380.21L800.19 382.78Z"/>
<path d="M798.56 380.08L801.13 377.52L803.69 380.08L801.13 382.65Z"/>
<path d="M799.5 380.44L802.07 377.88L804.63 380.44L802.07 383.01Z"/>
<path d="M800.44 380.2L803 377.64L805.57 380.2L803 382.77Z"/>
<path d="M801.37 380.52L803.94 377.96L806.5 380.52L803.94 383.09Z"/>
<path d="M802.31 380.57L804.88 378L807.44 380.57L804.88 383.13Z"/>
<path d="M803.25 380.64L805.81 378.07L808.38 380.64L805.81 383.2Z"/>
<path d="M804.18 381.02L806.75 378.45L809.31 381.02L806.75 383.58Z"/>
<path d="M805.12 380.82L807.68 378.26L810.25 380.82L807.68 383.39Z"/>
<path d="M806.06 381.05L808.62 378.48L811.19 381.05L808.62 383.61Z"/>
<path d="M806.99 381.22L809.56 378.66L812.12 381.22L809.56 383.79Z"/>
<path d="M807.93 380.8L810.49 378.24L813.06 380.8L810.49 383.37Z"/>
<path d="M808.87 381.25L811.43 378.68L814 381.25L811.43 383.81Z"/>
<path d="M809.8 381.01L812.37 378.44L814.93 381.01L812.37 383.57Z"/>
<path d="M810.74 380.8L813.3 378.24L815.87 380.8L813.3 383.37Z"/>
<path d="M811.67 380.85L814.24 378.28L816.8 380.85L814.24 383.41Z"/>
<path d="M812.61 380.94L815.18 378.37L817.74 380.94L815.18 383.5Z"/>
<path d="M813.55 380.76L816.11 378.2L818.68 380.76L816.11 383.33Z"/>
<path d="M814.48 380.69L817.05 378.12L819.61 380.69L817.05 383.25Z"/>
<path d="M815.42 380.49L817.98 377.93L820.55 380.49L817.98 383.06Z"/>
<path d="M816.36 380.85L818.92 378.29L821.49 380.85L818.92 383.42Z"/>
<path d="M817.29 380.52L819.86 377.95L822.42 380.52L819.86 383.08Z"/>
<path d="M818.23 380.66L820.79 378.09L823.36 380.66L820.79 383.22Z"/>
<path d="M819.17 380.58L821.73 378.02L824.3 380.58L821.73 383.15Z"/>
<path d="M820.1 380.23L822.67 377.66L825.23 380.23L822.67 382.79Z"/>
<path d="M821.04 380.33L823.6 377.77L826.17 380.33L823.6 382.9Z"/>
<path d="M821.97 380.25L824.54 377.68L827.1 380.25L824.54 382.81Z"/>
<path d="M822.91 380.07L825.48 377.51L828.04 380.07L825.48 382.64Z"/>
<path d="M823.85 379.92L826.41 377.36L828.98 379.92L826.41 382.49Z"/>
<path d="M824.78 380.16L827.35 377.59L829.91 380.16L827.35 382.72Z"/>
<path d="M825.72 380L828.29 377.43L830.85 380L828.29 382.56Z"/>
<path d="M826.66 380.01L829.22 377.44L831.79 380.01L829.22 382.57Z"/>
<path d="M827.59 379.95L830.16 377.38L832.72 379.95L830.16 382.51Z"/>
<path d="M828.53 379.78L831.09 377.22L833.66 379.78L831.09 382.35Z"/>
<path d="M829.47 379.88L832.03 377.31L834.6 379.88L832.03 382.44Z"/>
<path d="M830.4 379.77L832.97 377.21L835.53 379.77L832.97 382.34Z"/>
<path d="M831.34 379.75L833.9 377.19L836.47 379.75L833.9 382.32Z"/>
<path d="M832.27 379.42L834.84 376.85L837.41 379.42L834.84 381.98Z"/>
<path d="M879.56 386.98L882.13 384.42L884.69 386.98L882.13 389.55Z"/>
<path d="M880.5 380.03L883.06 377.46L885.63 380.03L883.06 382.59Z"/>
<path d="M881.44 378.99L884 376.43L886.57 378.99L884 381.56Z"/>
<path d="M882.37 378.92L884.94 376.36L887.5 378.92L884.94 381.49Z"/>
<path d="M883.31 378.77L885.87 376.2L888.44 378.77L885.87 381.33Z"/>
<path d="M884.25 378.56L886.81 375.99L889.38 378.56L886.81 381.12Z"/>
<path d="M885.18 378.65L887.75 376.08L890.31 378.65L887.75 381.21Z"/>
<path d="M886.12 379.1L888.68 376.54L891.25 379.1L888.68 381.67Z"/>
<path d="M887.05 379.14L889.62 376.57L892.18 379.14L889.62 381.7Z"/>
<path d="M887.99 378.97L890.56 376.4L893.12 378.97L890.56 381.53Z"/>
<path d="M888.93 379.19L891.49 376.62L894.06 379.19L891.49 381.75Z"/>
<path d="M889.86 379.05L892.43 376.48L894.99 379.05L892.43 381.61Z"/>
<path d="M890.8 379.12L893.37 376.55L895.93 379.12L893.37 381.68Z"/>
<path d="M891.74 378.72L894.3 376.15L896.87 378.72L894.3 381.28Z"/>
<path d="M892.67 378.61L895.24 376.05L897.8 378.61L895.24 381.18Z"/>
<path d="M893.61 378.51L896.17 375.94L898.74 378.51L896.17 381.07Z"/>
<path d="M894.55 378.92L897.11 376.36L899.68 378.92L897.11 381.49Z"/>
<path d="M895.48 378.54L898.05 375.98L900.61 378.54L898.05 381.11Z"/>
<path d="M896.42 378.54L898.98 375.98L901.55 378.54L898.98 381.11Z"/>
<path d="M897.35 378.82L899.92 376.26L902.48 378.82L899.92 381.39Z"/>
<path d="M898.29 378.34L900.86 375.77L903.42 378.34L900.86 380.9Z"/>
<path d="M899.23 378.25L901.79 375.68L904.36 378.25L901.79 380.81Z"/>
<path d="M900.16 378.67L902.73 376.1L905.29 378.67L902.73 381.23Z"/>
<path d="M901.1 378.19L903.67 375.62L906.23 378.19L903.67 380.75Z"/>
<path d="M902.04 378.49L904.6 375.92L907.17 378.49L904.6 381.05Z"/>
<path d="M902.97 378.37L905.54 375.81L908.1 378.37L905.54 380.94Z"/>
<path d="M903.91 377.98L906.47 375.41L909.04 377.98L906.47 380.54Z"/>
<path d="M904.85 377.99L907.41 375.42L909.98 377.99L907.41 380.55Z"/>
<path d="M905.78 378.31L908.35 375.74L910.91 378.31L908.35 380.87Z"/>
<path d="M906.72 378.06L909.28 375.49L911.85 378.06L909.28 380.62Z"/>
<path d="M907.66 377.92L910.22 375.35L912.79 377.92L910.22 380.48Z"/>
<path d="M908.59 377.94L911.16 375.37L913.72 377.94L911.16 380.5Z"/>
<path d="M909.53 377.94L912.09 375.37L914.66 377.94L912.09 380.5Z"/>
<path d="M910.46 377.78L913.03 375.21L915.59 377.78L913.03 380.34Z"/>
<path d="M911.4 377.44L913.97 374.88L916.53 377.44L913.97 380.01Z"/>
<path d="M912.34 377.79L914.9 375.22L917.47 377.79L914.9 380.35Z"/>
<path d="M913.27 377.37L915.84 374.81L918.4 377.37L915.84 379.94Z"/>
<path d="M914.21 377.35L916.77 374.79L919.34 377.35L916.77 379.92Z"/>
<path d="M915.15 377.53L917.71 374.96L920.28 377.53L917.71 380.09Z"/>
<path d="M916.08 377.25L918.65 374.68L921.21 377.25L918.65 379.81Z"/>
<path d="M917.02 376.98L919.58 374.41L922.15 376.98L919.58 379.54Z"/>
<path d="M917.96 376.96L920.52 374.4L923.09 376.96L920.52 379.53Z"/>
<path d="M918.89 377.15L921.46 374.58L924.02 377.15L921.46 379.71Z"/>
<path d="M919.83 376.5L922.39 373.93L924.96 376.5L922.39 379.06Z"/>
<path d="M920.76 376.53L923.33 373.97L925.89 376.53L923.33 379.1Z"/>
<path d="M921.7 376.33L924.27 373.77L926.83 376.33L924.27 378.9Z"/>
<path d="M922.64 376.77L925.2 374.21L927.77 376.77L925.2 379.34Z"/>
<path d="M923.57 376.59L926.14 374.02L928.7 376.59L926.14 379.15Z"/>
<path d="M924.51 376.64L927.08 374.08L929.64 376.64L927.08 379.21Z"/>
<path d="M925.45 376.1L928.01 373.54L930.58 376.1L928.01 378.67Z"/>
</g>
</g>
<line x1="736" y1="286.5" x2="736" y2="489.85" stroke="#222" stroke-width="1.1" />
<line x1="735.45" y1="489.3" x2="976.3" y2="489.3" stroke="#222" stroke-width="1.1" />
<line x1="741.2" y1="489.3" x2="741.2" y2="493.3" stroke="#222" stroke-width="1" />
<text x="741.2" y="506.2" font-family="Liberation Serif, serif" font-size="12.2" font-weight="bold" text-anchor="middle" fill="#000" >0</text>
<line x1="788.02" y1="489.3" x2="788.02" y2="493.3" stroke="#222" stroke-width="1" />
<text x="788.02" y="506.2" font-family="Liberation Serif, serif" font-size="12.2" font-weight="bold" text-anchor="middle" fill="#000" >50</text>
<line x1="834.84" y1="489.3" x2="834.84" y2="493.3" stroke="#222" stroke-width="1" />
<text x="834.84" y="506.2" font-family="Liberation Serif, serif" font-size="12.2" font-weight="bold" text-anchor="middle" fill="#000" >100</text>
<line x1="881.66" y1="489.3" x2="881.66" y2="493.3" stroke="#222" stroke-width="1" />
<text x="881.66" y="506.2" font-family="Liberation Serif, serif" font-size="12.2" font-weight="bold" text-anchor="middle" fill="#000" >150</text>
<line x1="928.48" y1="489.3" x2="928.48" y2="493.3" stroke="#222" stroke-width="1" />
<text x="928.48" y="506.2" font-family="Liberation Serif, serif" font-size="12.2" font-weight="bold" text-anchor="middle" fill="#000" >200</text>
<line x1="975.3" y1="489.3" x2="975.3" y2="493.3" stroke="#222" stroke-width="1" />
<text x="975.3" y="506.2" font-family="Liberation Serif, serif" font-size="12.2" font-weight="bold" text-anchor="middle" fill="#000" >250</text>
<line x1="764.61" y1="489.3" x2="764.61" y2="491.5" stroke="#222" stroke-width="0.8" />
<line x1="811.43" y1="489.3" x2="811.43" y2="491.5" stroke="#222" stroke-width="0.8" />
<line x1="858.25" y1="489.3" x2="858.25" y2="491.5" stroke="#222" stroke-width="0.8" />
<line x1="905.07" y1="489.3" x2="905.07" y2="491.5" stroke="#222" stroke-width="0.8" />
<line x1="951.89" y1="489.3" x2="951.89" y2="491.5" stroke="#222" stroke-width="0.8" />
<line x1="732" y1="287.55" x2="736" y2="287.55" stroke="#222" stroke-width="1" />
<text x="730.3" y="291.85" font-family="Liberation Serif, serif" font-size="13" font-weight="bold" text-anchor="end" fill="#000" >10000</text>
<line x1="732" y1="334.4" x2="736" y2="334.4" stroke="#222" stroke-width="1" />
<text x="730.3" y="338.7" font-family="Liberation Serif, serif" font-size="13" font-weight="bold" text-anchor="end" fill="#000" >1000</text>
<line x1="732" y1="381.25" x2="736" y2="381.25" stroke="#222" stroke-width="1" />
<text x="730.3" y="385.55" font-family="Liberation Serif, serif" font-size="13" font-weight="bold" text-anchor="end" fill="#000" >100</text>
<line x1="732" y1="428.1" x2="736" y2="428.1" stroke="#222" stroke-width="1" />
<text x="730.3" y="432.4" font-family="Liberation Serif, serif" font-size="13" font-weight="bold" text-anchor="end" fill="#000" >10</text>
<line x1="732" y1="474.95" x2="736" y2="474.95" stroke="#222" stroke-width="1" />
<text x="730.3" y="479.25" font-family="Liberation Serif, serif" font-size="13" font-weight="bold" text-anchor="end" fill="#000" >1</text>
<line x1="734" y1="485.34" x2="736" y2="485.34" stroke="#222" stroke-width="0.8" />
<line x1="734" y1="482.21" x2="736" y2="482.21" stroke="#222" stroke-width="0.8" />
<line x1="734" y1="479.49" x2="736" y2="479.49" stroke="#222" stroke-width="0.8" />
<line x1="734" y1="477.09" x2="736" y2="477.09" stroke="#222" stroke-width="0.8" />
<line x1="734" y1="460.85" x2="736" y2="460.85" stroke="#222" stroke-width="0.8" />
<line x1="734" y1="452.6" x2="736" y2="452.6" stroke="#222" stroke-width="0.8" />
<line x1="734" y1="446.74" x2="736" y2="446.74" stroke="#222" stroke-width="0.8" />
<line x1="734" y1="442.2" x2="736" y2="442.2" stroke="#222" stroke-width="0.8" />
<line x1="734" y1="438.49" x2="736" y2="438.49" stroke="#222" stroke-width="0.8" />
<line x1="734" y1="435.36" x2="736" y2="435.36" stroke="#222" stroke-width="0.8" />
<line x1="734" y1="432.64" x2="736" y2="432.64" stroke="#222" stroke-width="0.8" />
<line x1="734" y1="430.24" x2="736" y2="430.24" stroke="#222" stroke-width="0.8" />
<line x1="734" y1="414" x2="736" y2="414" stroke="#222" stroke-width="0.8" />
<line x1="734" y1="405.75" x2="736" y2="405.75" stroke="#222" stroke-width="0.8" />
<line x1="734" y1="399.89" x2="736" y2="399.89" stroke="#222" stroke-width="0.8" />
<line x1="734" y1="395.35" x2="736" y2="395.35" stroke="#222" stroke-width="0.8" />
<line x1="734" y1="391.64" x2="736" y2="391.64" stroke="#222" stroke-width="0.8" />
<line x1="734" y1="388.51" x2="736" y2="388.51" stroke="#222" stroke-width="0.8" />
<line x1="734" y1="385.79" x2="736" y2="385.79" stroke="#222" stroke-width="0.8" />
<line x1="734" y1="383.39" x2="736" y2="383.39" stroke="#222" stroke-width="0.8" />
<line x1="734" y1="367.15" x2="736" y2="367.15" stroke="#222" stroke-width="0.8" />
<line x1="734" y1="358.9" x2="736" y2="358.9" stroke="#222" stroke-width="0.8" />
<line x1="734" y1="353.04" x2="736" y2="353.04" stroke="#222" stroke-width="0.8" />
<line x1="734" y1="348.5" x2="736" y2="348.5" stroke="#222" stroke-width="0.8" />
<line x1="734" y1="344.79" x2="736" y2="344.79" stroke="#222" stroke-width="0.8" />
<line x1="734" y1="341.66" x2="736" y2="341.66" stroke="#222" stroke-width="0.8" />
<line x1="734" y1="338.94" x2="736" y2="338.94" stroke="#222" stroke-width="0.8" />
<line x1="734" y1="336.54" x2="736" y2="336.54" stroke="#222" stroke-width="0.8" />
<line x1="734" y1="320.3" x2="736" y2="320.3" stroke="#222" stroke-width="0.8" />
<line x1="734" y1="312.05" x2="736" y2="312.05" stroke="#222" stroke-width="0.8" />
<line x1="734" y1="306.19" x2="736" y2="306.19" stroke="#222" stroke-width="0.8" />
<line x1="734" y1="301.65" x2="736" y2="301.65" stroke="#222" stroke-width="0.8" />
<line x1="734" y1="297.94" x2="736" y2="297.94" stroke="#222" stroke-width="0.8" />
<line x1="734" y1="294.81" x2="736" y2="294.81" stroke="#222" stroke-width="0.8" />
<line x1="734" y1="292.09" x2="736" y2="292.09" stroke="#222" stroke-width="0.8" />
<line x1="734" y1="289.69" x2="736" y2="289.69" stroke="#222" stroke-width="0.8" />
<text x="857.1" y="524.6" font-family="Liberation Serif, serif" font-size="15.2" font-weight="bold" text-anchor="middle" fill="#000" >Time (s)</text>
<text x="698" y="389" font-family="Liberation Serif, serif" font-size="14.2" font-weight="bold" text-anchor="middle" fill="#000" transform="rotate(-90 698 389)" >Shear moduli G' &amp; G'' (Pa)</text>
<text x="667.2" y="298.5" font-family="Liberation Serif, serif" font-size="24" font-weight="bold" text-anchor="start" fill="#000" >f</text>
<line x1="851.1" y1="277.4" x2="854.9" y2="277.4" stroke="#666" stroke-width="0.7" />
<line x1="870.2" y1="277.4" x2="874.3" y2="277.4" stroke="#666" stroke-width="0.7" />
<line x1="883.5" y1="277.4" x2="887.3" y2="277.4" stroke="#666" stroke-width="0.7" />
<line x1="902.6" y1="277.4" x2="906.7" y2="277.4" stroke="#666" stroke-width="0.7" />
<g fill="#000" stroke="#000" stroke-width="0.5">
<circle cx="862.6" cy="277.4" r="4"/>
</g>
<g fill="#fff" stroke="#000" stroke-width="0.9">
<circle cx="895" cy="277.4" r="3.4"/>
</g>
<text x="914.1" y="281.4" font-family="Liberation Serif, serif" font-size="14.1" font-weight="bold" text-anchor="start" fill="#000" >M.F. ≈ 80%</text>
<line x1="851.1" y1="296.3" x2="854.9" y2="296.3" stroke="#666" stroke-width="0.7" />
<line x1="870.2" y1="296.3" x2="874.3" y2="296.3" stroke="#666" stroke-width="0.7" />
<line x1="883.5" y1="296.3" x2="887.3" y2="296.3" stroke="#666" stroke-width="0.7" />
<line x1="902.6" y1="296.3" x2="906.7" y2="296.3" stroke="#666" stroke-width="0.7" />
<g fill="#e8232b" stroke="#e8232b" stroke-width="0.5">
<rect x="858.9" y="292.6" width="7.4" height="7.4"/>
</g>
<g fill="#fff" stroke="#e8232b" stroke-width="0.9">
<rect x="891.7" y="293" width="6.6" height="6.6"/>
</g>
<text x="914.1" y="300.3" font-family="Liberation Serif, serif" font-size="14.1" font-weight="bold" text-anchor="start" fill="#000" >M.F. ≈ 85%</text>
<line x1="851.1" y1="315" x2="854.9" y2="315" stroke="#666" stroke-width="0.7" />
<line x1="870.2" y1="315" x2="874.3" y2="315" stroke="#666" stroke-width="0.7" />
<line x1="883.5" y1="315" x2="887.3" y2="315" stroke="#666" stroke-width="0.7" />
<line x1="902.6" y1="315" x2="906.7" y2="315" stroke="#666" stroke-width="0.7" />
<g fill="#3a4fa5" stroke="#3a4fa5" stroke-width="0.5">
<path d="M857.07 315L862.6 309.46L868.13 315L862.6 320.54Z"/>
</g>
<g fill="#fff" stroke="#3a4fa5" stroke-width="0.9">
<path d="M889.87 315L895 309.87L900.13 315L895 320.13Z"/>
</g>
<text x="915.8" y="319" font-family="Liberation Serif, serif" font-size="14.1" font-weight="bold" text-anchor="start" fill="#000" >M.F. ≈ 95%</text>
<polyline fill="none" stroke="#333" stroke-width="0.7" points="73.88,578 76.22,668.93 79.07,697.56 81.6,710.94 83.98,719.21 86.36,726.1 88.74,731.02 91.12,734.95" />
<g fill="#fff" stroke="#222" stroke-width="0.7">
<circle cx="74.31" cy="675.62" r="1.9"/>
<circle cx="76.22" cy="668.93" r="1.9"/>
<circle cx="79.07" cy="697.56" r="1.9"/>
<circle cx="81.6" cy="710.94" r="1.9"/>
<circle cx="83.98" cy="719.21" r="1.9"/>
<circle cx="86.36" cy="726.1" r="1.9"/>
<circle cx="88.74" cy="731.02" r="1.9"/>
<circle cx="91.12" cy="734.95" r="1.9"/>
</g>
<polyline fill="none" stroke="#333" stroke-width="0.7" points="73.88,578 79.5,692.84 84.45,718.03 88.74,728.36 93.83,734.07 98.59,737.81 103.02,740.27 107.78,742.04 113.01,743.12 118.25,744.2 123.48,744.99" />
<g fill="#fff" stroke="#e8232b" stroke-width="0.7">
<rect x="72.08" y="576.2" width="3.6" height="3.6"/>
<rect x="77.7" y="691.04" width="3.6" height="3.6"/>
<rect x="82.65" y="716.23" width="3.6" height="3.6"/>
<rect x="86.94" y="726.56" width="3.6" height="3.6"/>
<rect x="92.03" y="732.27" width="3.6" height="3.6"/>
<rect x="96.79" y="736.01" width="3.6" height="3.6"/>
<rect x="101.22" y="738.47" width="3.6" height="3.6"/>
<rect x="105.98" y="740.24" width="3.6" height="3.6"/>
<rect x="111.21" y="741.32" width="3.6" height="3.6"/>
<rect x="116.45" y="742.4" width="3.6" height="3.6"/>
<rect x="121.68" y="743.19" width="3.6" height="3.6"/>
</g>
<polyline fill="none" stroke="#333" stroke-width="0.7" points="73.88,609.59 79.07,702.87 83.98,724.62 88.5,733.67 93.5,738.99 98.26,741.64 103.02,743.81" />
<g fill="#fff" stroke="#3a4fa5" stroke-width="0.7">
<path d="M71.32 609.59L73.88 607.03L76.45 609.59L73.88 612.16Z"/>
<path d="M76.51 702.87L79.07 700.31L81.64 702.87L79.07 705.44Z"/>
<path d="M81.41 724.62L83.98 722.05L86.54 724.62L83.98 727.19Z"/>
<path d="M85.93 733.67L88.5 731.11L91.06 733.67L88.5 736.24Z"/>
<path d="M90.93 738.99L93.5 736.42L96.06 738.99L93.5 741.55Z"/>
<path d="M95.69 741.64L98.26 739.08L100.82 741.64L98.26 744.21Z"/>
<path d="M100.45 743.81L103.02 741.24L105.58 743.81L103.02 746.37Z"/>
</g>
<line x1="67.2" y1="559.3" x2="67.2" y2="744" stroke="#222" stroke-width="1.1" />
<line x1="63.2" y1="707.4" x2="67.2" y2="707.4" stroke="#222" stroke-width="1" />
<text x="60.2" y="712" font-family="Liberation Serif, serif" font-size="13.8" font-weight="bold" text-anchor="end" fill="#000" >50</text>
<line x1="63.2" y1="658.2" x2="67.2" y2="658.2" stroke="#222" stroke-width="1" />
<text x="60.2" y="662.8" font-family="Liberation Serif, serif" font-size="13.8" font-weight="bold" text-anchor="end" fill="#000" >100</text>
<line x1="63.2" y1="609" x2="67.2" y2="609" stroke="#222" stroke-width="1" />
<text x="60.2" y="613.6" font-family="Liberation Serif, serif" font-size="13.8" font-weight="bold" text-anchor="end" fill="#000" >150</text>
<line x1="63.2" y1="559.8" x2="67.2" y2="559.8" stroke="#222" stroke-width="1" />
<text x="60.2" y="564.4" font-family="Liberation Serif, serif" font-size="13.8" font-weight="bold" text-anchor="end" fill="#000" >200</text>
<line x1="65" y1="682.8" x2="67.2" y2="682.8" stroke="#222" stroke-width="0.8" />
<line x1="65" y1="633.6" x2="67.2" y2="633.6" stroke="#222" stroke-width="0.8" />
<line x1="65" y1="584.4" x2="67.2" y2="584.4" stroke="#222" stroke-width="0.8" />
<text x="33" y="658" font-family="Liberation Serif, serif" font-size="15" font-weight="bold" text-anchor="middle" fill="#000" transform="rotate(-90 33 658)" >Viscosity (Pa·s)</text>
<text x="9.7" y="573.2" font-family="Liberation Serif, serif" font-size="24" font-weight="bold" text-anchor="start" fill="#000" >g</text>
<rect x="95.5" y="631.3" width="64.1" height="62.3" fill="#fce4d6" stroke="#333" stroke-width="0.6" stroke-dasharray="1.2 1.2"/>
<circle cx="127.4" cy="663" r="24.5" fill="#f8c9a6" stroke="#111" stroke-width="0.9"/>
<g transform="translate(128.4 645.5) rotate(-5)"><ellipse rx="6.7" ry="5.6" fill="#a9d18e" stroke="#4a5a6a" stroke-width="0.5"/><ellipse cx="0.3" cy="-0.3" rx="3.5" ry="2.9" fill="#8faadc" stroke="#5a6a9a" stroke-width="0.5"/></g>
<g transform="translate(113 652.5) rotate(-15)"><ellipse rx="6.7" ry="5.6" fill="#a9d18e" stroke="#4a5a6a" stroke-width="0.5"/><ellipse cx="0.3" cy="-0.3" rx="3.5" ry="2.9" fill="#8faadc" stroke="#5a6a9a" stroke-width="0.5"/></g>
<g transform="translate(141 653.2) rotate(15)"><ellipse rx="6.7" ry="5.6" fill="#a9d18e" stroke="#4a5a6a" stroke-width="0.5"/><ellipse cx="0.3" cy="-0.3" rx="3.5" ry="2.9" fill="#8faadc" stroke="#5a6a9a" stroke-width="0.5"/></g>
<g transform="translate(112.3 666.1) rotate(5)"><ellipse rx="6.7" ry="5.6" fill="#a9d18e" stroke="#4a5a6a" stroke-width="0.5"/><ellipse cx="0.3" cy="-0.3" rx="3.5" ry="2.9" fill="#8faadc" stroke="#5a6a9a" stroke-width="0.5"/></g>
<g transform="translate(128 662) rotate(-10)"><ellipse rx="6.7" ry="5.6" fill="#a9d18e" stroke="#4a5a6a" stroke-width="0.5"/><ellipse cx="0.3" cy="-0.3" rx="3.5" ry="2.9" fill="#8faadc" stroke="#5a6a9a" stroke-width="0.5"/></g>
<g transform="translate(144.5 666.1) rotate(-10)"><ellipse rx="6.7" ry="5.6" fill="#a9d18e" stroke="#4a5a6a" stroke-width="0.5"/><ellipse cx="0.3" cy="-0.3" rx="3.5" ry="2.9" fill="#8faadc" stroke="#5a6a9a" stroke-width="0.5"/></g>
<g transform="translate(118.6 677) rotate(8)"><ellipse rx="6.7" ry="5.6" fill="#a9d18e" stroke="#4a5a6a" stroke-width="0.5"/><ellipse cx="0.3" cy="-0.3" rx="3.5" ry="2.9" fill="#8faadc" stroke="#5a6a9a" stroke-width="0.5"/></g>
<g transform="translate(133 675.2) rotate(-15)"><ellipse rx="6.7" ry="5.6" fill="#a9d18e" stroke="#4a5a6a" stroke-width="0.5"/><ellipse cx="0.3" cy="-0.3" rx="3.5" ry="2.9" fill="#8faadc" stroke="#5a6a9a" stroke-width="0.5"/></g>
<rect x="166.1" y="630.6" width="63.4" height="62.3" fill="#f5a3a6" stroke="#333" stroke-width="0.6" stroke-dasharray="1.2 1.2"/>
<circle cx="197.4" cy="661.9" r="24.5" fill="#f8c9a6" stroke="#111" stroke-width="0.9"/>
<g transform="translate(198.4 644.4) rotate(-5)"><ellipse rx="6.7" ry="5.6" fill="#a9d18e" stroke="#4a5a6a" stroke-width="0.5"/><ellipse cx="0.3" cy="-0.3" rx="3.5" ry="2.9" fill="#8faadc" stroke="#5a6a9a" stroke-width="0.5"/></g>
<g transform="translate(183 651.4) rotate(-15)"><ellipse rx="6.7" ry="5.6" fill="#a9d18e" stroke="#4a5a6a" stroke-width="0.5"/><ellipse cx="0.3" cy="-0.3" rx="3.5" ry="2.9" fill="#8faadc" stroke="#5a6a9a" stroke-width="0.5"/></g>
<g transform="translate(211 652.1) rotate(15)"><ellipse rx="6.7" ry="5.6" fill="#a9d18e" stroke="#4a5a6a" stroke-width="0.5"/><ellipse cx="0.3" cy="-0.3" rx="3.5" ry="2.9" fill="#8faadc" stroke="#5a6a9a" stroke-width="0.5"/></g>
<g transform="translate(182.3 665) rotate(5)"><ellipse rx="6.7" ry="5.6" fill="#a9d18e" stroke="#4a5a6a" stroke-width="0.5"/><ellipse cx="0.3" cy="-0.3" rx="3.5" ry="2.9" fill="#8faadc" stroke="#5a6a9a" stroke-width="0.5"/></g>
<g transform="translate(198 660.9) rotate(-10)"><ellipse rx="6.7" ry="5.6" fill="#a9d18e" stroke="#4a5a6a" stroke-width="0.5"/><ellipse cx="0.3" cy="-0.3" rx="3.5" ry="2.9" fill="#8faadc" stroke="#5a6a9a" stroke-width="0.5"/></g>
<g transform="translate(214.5 665) rotate(-10)"><ellipse rx="6.7" ry="5.6" fill="#a9d18e" stroke="#4a5a6a" stroke-width="0.5"/><ellipse cx="0.3" cy="-0.3" rx="3.5" ry="2.9" fill="#8faadc" stroke="#5a6a9a" stroke-width="0.5"/></g>
<g transform="translate(188.6 675.9) rotate(8)"><ellipse rx="6.7" ry="5.6" fill="#a9d18e" stroke="#4a5a6a" stroke-width="0.5"/><ellipse cx="0.3" cy="-0.3" rx="3.5" ry="2.9" fill="#8faadc" stroke="#5a6a9a" stroke-width="0.5"/></g>
<g transform="translate(203 674.1) rotate(-15)"><ellipse rx="6.7" ry="5.6" fill="#a9d18e" stroke="#4a5a6a" stroke-width="0.5"/><ellipse cx="0.3" cy="-0.3" rx="3.5" ry="2.9" fill="#8faadc" stroke="#5a6a9a" stroke-width="0.5"/></g>
<rect x="238" y="631.3" width="63.9" height="62.6" fill="#b4c7e7" stroke="#333" stroke-width="0.6" stroke-dasharray="1.2 1.2"/>
<circle cx="269.6" cy="663" r="24.5" fill="#f8c9a6" stroke="#111" stroke-width="0.9"/>
<g transform="translate(270.6 645.5) rotate(-5)"><ellipse rx="6.7" ry="5.6" fill="#a9d18e" stroke="#4a5a6a" stroke-width="0.5"/><ellipse cx="0.3" cy="-0.3" rx="3.5" ry="2.9" fill="#8faadc" stroke="#5a6a9a" stroke-width="0.5"/></g>
<g transform="translate(255.2 652.5) rotate(-15)"><ellipse rx="6.7" ry="5.6" fill="#a9d18e" stroke="#4a5a6a" stroke-width="0.5"/><ellipse cx="0.3" cy="-0.3" rx="3.5" ry="2.9" fill="#8faadc" stroke="#5a6a9a" stroke-width="0.5"/></g>
<g transform="translate(283.2 653.2) rotate(15)"><ellipse rx="6.7" ry="5.6" fill="#a9d18e" stroke="#4a5a6a" stroke-width="0.5"/><ellipse cx="0.3" cy="-0.3" rx="3.5" ry="2.9" fill="#8faadc" stroke="#5a6a9a" stroke-width="0.5"/></g>
<g transform="translate(254.5 666.1) rotate(5)"><ellipse rx="6.7" ry="5.6" fill="#a9d18e" stroke="#4a5a6a" stroke-width="0.5"/><ellipse cx="0.3" cy="-0.3" rx="3.5" ry="2.9" fill="#8faadc" stroke="#5a6a9a" stroke-width="0.5"/></g>
<g transform="translate(270.2 662) rotate(-10)"><ellipse rx="6.7" ry="5.6" fill="#a9d18e" stroke="#4a5a6a" stroke-width="0.5"/><ellipse cx="0.3" cy="-0.3" rx="3.5" ry="2.9" fill="#8faadc" stroke="#5a6a9a" stroke-width="0.5"/></g>
<g transform="translate(286.7 666.1) rotate(-10)"><ellipse rx="6.7" ry="5.6" fill="#a9d18e" stroke="#4a5a6a" stroke-width="0.5"/><ellipse cx="0.3" cy="-0.3" rx="3.5" ry="2.9" fill="#8faadc" stroke="#5a6a9a" stroke-width="0.5"/></g>
<g transform="translate(260.8 677) rotate(8)"><ellipse rx="6.7" ry="5.6" fill="#a9d18e" stroke="#4a5a6a" stroke-width="0.5"/><ellipse cx="0.3" cy="-0.3" rx="3.5" ry="2.9" fill="#8faadc" stroke="#5a6a9a" stroke-width="0.5"/></g>
<g transform="translate(275.2 675.2) rotate(-15)"><ellipse rx="6.7" ry="5.6" fill="#a9d18e" stroke="#4a5a6a" stroke-width="0.5"/><ellipse cx="0.3" cy="-0.3" rx="3.5" ry="2.9" fill="#8faadc" stroke="#5a6a9a" stroke-width="0.5"/></g>
<line x1="142" y1="577.3" x2="167.8" y2="577.3" stroke="#333" stroke-width="0.8" />
<g fill="#fff" stroke="#222" stroke-width="0.9">
<circle cx="154.8" cy="577.3" r="3.4"/>
</g>
<text x="175.3" y="581.9" font-family="Liberation Serif, serif" font-size="14.85" font-weight="bold" text-anchor="start" fill="#000" >“PBS”</text>
<line x1="142" y1="595.55" x2="167.8" y2="595.55" stroke="#333" stroke-width="0.8" />
<g fill="#fff" stroke="#e8232b" stroke-width="0.9">
<rect x="151.7" y="592.45" width="6.2" height="6.2"/>
</g>
<text x="175.3" y="600.15" font-family="Liberation Serif, serif" font-size="14.85" font-weight="bold" text-anchor="start" fill="#000" >“GelMA”</text>
<line x1="142" y1="613.8" x2="167.8" y2="613.8" stroke="#333" stroke-width="0.8" />
<g fill="#fff" stroke="#3a4fa5" stroke-width="0.9">
<path d="M149.94 613.8L154.8 608.94L159.66 613.8L154.8 618.66Z"/>
</g>
<text x="175.3" y="618.4" font-family="Liberation Serif, serif" font-size="14.85" font-weight="bold" text-anchor="start" fill="#000" >“Na-Alginate”</text>
<clipPath id="ch"><rect x="400" y="550" width="260" height="194"/></clipPath><g clip-path="url(#ch)">
<polyline fill="none" stroke="#000" stroke-width="0.6" points="413.77,612.06 418.7,611.32 423.62,611.18 428.55,611.17 433.48,610.97 438.4,610.96 443.33,612.09 448.26,614.4 453.18,617.12 458.11,620.04 463.04,623.91 467.96,629.02 472.89,634.78 477.82,640.98 482.74,647.85 487.67,655.73 492.6,663.28 497.52,669.98 502.45,675.61 507.38,679.78 512.3,683.53 517.23,687.31 522.16,690.8 527.08,693.87 532.01,696.48 536.94,699.01 541.86,701.52 546.79,704.01 551.72,706.47 556.65,708.89 561.57,711.26 566.5,713.56 571.43,715.79 576.35,717.95 581.28,720.05 586.21,722.1 591.13,724.09 596.06,726.04 600.99,727.96 605.91,729.86 610.84,731.73 615.77,733.54 620.69,735.27 625.62,736.96 630.55,738.61 635.47,740.25 640.4,741.91" />
<g fill="#000" stroke="#000" stroke-width="0.4">
<circle cx="413.77" cy="612.06" r="2.2"/>
<circle cx="418.7" cy="611.32" r="2.2"/>
<circle cx="423.62" cy="611.18" r="2.2"/>
<circle cx="428.55" cy="611.17" r="2.2"/>
<circle cx="433.48" cy="610.97" r="2.2"/>
<circle cx="438.4" cy="610.96" r="2.2"/>
<circle cx="443.33" cy="612.09" r="2.2"/>
<circle cx="448.26" cy="614.4" r="2.2"/>
<circle cx="453.18" cy="617.12" r="2.2"/>
<circle cx="458.11" cy="620.04" r="2.2"/>
<circle cx="463.04" cy="623.91" r="2.2"/>
<circle cx="467.96" cy="629.02" r="2.2"/>
<circle cx="472.89" cy="634.78" r="2.2"/>
<circle cx="477.82" cy="640.98" r="2.2"/>
<circle cx="482.74" cy="647.85" r="2.2"/>
<circle cx="487.67" cy="655.73" r="2.2"/>
<circle cx="492.6" cy="663.28" r="2.2"/>
<circle cx="497.52" cy="669.98" r="2.2"/>
<circle cx="502.45" cy="675.61" r="2.2"/>
<circle cx="507.38" cy="679.78" r="2.2"/>
<circle cx="512.3" cy="683.53" r="2.2"/>
<circle cx="517.23" cy="687.31" r="2.2"/>
<circle cx="522.16" cy="690.8" r="2.2"/>
<circle cx="527.08" cy="693.87" r="2.2"/>
<circle cx="532.01" cy="696.48" r="2.2"/>
<circle cx="536.94" cy="699.01" r="2.2"/>
<circle cx="541.86" cy="701.52" r="2.2"/>
<circle cx="546.79" cy="704.01" r="2.2"/>
<circle cx="551.72" cy="706.47" r="2.2"/>
<circle cx="556.65" cy="708.89" r="2.2"/>
<circle cx="561.57" cy="711.26" r="2.2"/>
<circle cx="566.5" cy="713.56" r="2.2"/>
<circle cx="571.43" cy="715.79" r="2.2"/>
<circle cx="576.35" cy="717.95" r="2.2"/>
<circle cx="581.28" cy="720.05" r="2.2"/>
<circle cx="586.21" cy="722.1" r="2.2"/>
<circle cx="591.13" cy="724.09" r="2.2"/>
<circle cx="596.06" cy="726.04" r="2.2"/>
<circle cx="600.99" cy="727.96" r="2.2"/>
<circle cx="605.91" cy="729.86" r="2.2"/>
<circle cx="610.84" cy="731.73" r="2.2"/>
<circle cx="615.77" cy="733.54" r="2.2"/>
<circle cx="620.69" cy="735.27" r="2.2"/>
<circle cx="625.62" cy="736.96" r="2.2"/>
<circle cx="630.55" cy="738.61" r="2.2"/>
<circle cx="635.47" cy="740.25" r="2.2"/>
<circle cx="640.4" cy="741.91" r="2.2"/>
</g>
<g fill="#fff" stroke="#222" stroke-width="0.7">
<circle cx="413.77" cy="699.23" r="1.9"/>
<circle cx="418.7" cy="692.81" r="1.9"/>
<circle cx="423.62" cy="692.99" r="1.9"/>
<circle cx="428.55" cy="692.98" r="1.9"/>
<circle cx="433.48" cy="692.12" r="1.9"/>
<circle cx="438.4" cy="689.88" r="1.9"/>
<circle cx="443.33" cy="686.89" r="1.9"/>
<circle cx="448.26" cy="682.88" r="1.9"/>
<circle cx="453.18" cy="678.23" r="1.9"/>
<circle cx="458.11" cy="673.75" r="1.9"/>
<circle cx="463.04" cy="669.82" r="1.9"/>
<circle cx="467.96" cy="666.78" r="1.9"/>
<circle cx="472.89" cy="664.34" r="1.9"/>
<circle cx="477.82" cy="662.51" r="1.9"/>
<circle cx="482.74" cy="661.09" r="1.9"/>
<circle cx="487.67" cy="660.31" r="1.9"/>
<circle cx="492.6" cy="661.02" r="1.9"/>
<circle cx="497.52" cy="661.96" r="1.9"/>
<circle cx="502.45" cy="662.92" r="1.9"/>
<circle cx="507.38" cy="663.81" r="1.9"/>
<circle cx="512.3" cy="664.68" r="1.9"/>
<circle cx="517.23" cy="665.57" r="1.9"/>
<circle cx="522.16" cy="666.47" r="1.9"/>
<circle cx="527.08" cy="667.32" r="1.9"/>
<circle cx="532.01" cy="668.07" r="1.9"/>
<circle cx="536.94" cy="668.78" r="1.9"/>
<circle cx="541.86" cy="669.46" r="1.9"/>
<circle cx="546.79" cy="670.13" r="1.9"/>
<circle cx="551.72" cy="670.78" r="1.9"/>
<circle cx="556.65" cy="671.43" r="1.9"/>
<circle cx="561.57" cy="672.08" r="1.9"/>
<circle cx="566.5" cy="672.74" r="1.9"/>
<circle cx="571.43" cy="673.42" r="1.9"/>
<circle cx="576.35" cy="674.09" r="1.9"/>
<circle cx="581.28" cy="674.77" r="1.9"/>
<circle cx="586.21" cy="675.44" r="1.9"/>
<circle cx="591.13" cy="676.13" r="1.9"/>
<circle cx="596.06" cy="676.82" r="1.9"/>
<circle cx="600.99" cy="677.53" r="1.9"/>
<circle cx="605.91" cy="678.25" r="1.9"/>
<circle cx="610.84" cy="679" r="1.9"/>
<circle cx="615.77" cy="679.76" r="1.9"/>
<circle cx="620.69" cy="680.54" r="1.9"/>
<circle cx="625.62" cy="681.33" r="1.9"/>
<circle cx="630.55" cy="682.13" r="1.9"/>
<circle cx="635.47" cy="682.93" r="1.9"/>
<circle cx="640.4" cy="683.72" r="1.9"/>
</g>
<polyline fill="none" stroke="#e8232b" stroke-width="0.6" points="410.62,599.55 411.83,599.54 413.04,599.51 414.25,599.48 415.47,599.45 416.68,599.42 417.89,599.42 419.1,599.45 420.31,599.52 421.52,599.63 422.73,599.74 423.95,599.87 425.16,600.01 426.37,600.17 427.58,600.36 428.79,600.57 430,600.81 431.21,601.09 432.43,601.41 433.64,601.76 434.85,602.13 436.06,602.52 437.27,602.93 438.48,603.36 439.7,603.79 440.91,604.24 442.12,604.7 443.33,605.17 444.54,605.64 445.75,606.12 446.96,606.6 448.18,607.08 449.39,607.56 450.6,608.04 451.81,608.52 453.02,608.99 454.23,609.46 455.44,609.93 456.66,610.41 457.87,610.88 459.08,611.36 460.29,611.84 461.5,612.32 462.71,612.8 463.93,613.28 465.14,613.76 466.35,614.24 467.56,614.73 468.77,615.22 469.98,615.71 471.19,616.2 472.41,616.69 473.62,617.18 474.83,617.68 476.04,618.18 477.25,618.68 478.46,619.18 479.67,619.69 480.89,620.2 482.1,620.71 483.31,621.23 484.52,621.77 485.73,622.33 486.94,622.89 488.16,623.46 489.37,624.03 490.58,624.61 491.79,625.19 493,625.76 494.21,626.32 495.42,626.88 496.64,627.43 497.85,627.96 499.06,628.47 500.27,628.96 501.48,629.43 502.69,629.88 503.9,630.32 505.12,630.74 506.33,631.16 507.54,631.56 508.75,631.95 509.96,632.34 511.17,632.72 512.39,633.09 513.6,633.46 514.81,633.83 516.02,634.2 517.23,634.57 518.44,634.94 519.65,635.31 520.87,635.69 522.08,636.07 523.29,636.46 524.5,636.86 525.71,637.26 526.92,637.68 528.13,638.11 529.35,638.55 530.56,639 531.77,639.47 532.98,639.95 534.19,640.44 535.4,640.94 536.62,641.44 537.83,641.96 539.04,642.48 540.25,643 541.46,643.53 542.67,644.07 543.88,644.6 545.1,645.14 546.31,645.68 547.52,646.22 548.73,646.76 549.94,647.29 551.15,647.83 552.36,648.36 553.58,648.88 554.79,649.4 556,649.92 557.21,650.43 558.42,650.92 559.63,651.41 560.85,651.89 562.06,652.36 563.27,652.82 564.48,653.26 565.69,653.69 566.9,654.11 568.11,654.5 569.33,654.89 570.54,655.25 571.75,655.6 572.96,655.94 574.17,656.27 575.38,656.58 576.59,656.88 577.81,657.16 579.02,657.44 580.23,657.71 581.44,657.96 582.65,658.21 583.86,658.45 585.08,658.68 586.29,658.91 587.5,659.13 588.71,659.34 589.92,659.55 591.13,659.75 592.34,659.95 593.56,660.15 594.77,660.34 595.98,660.53 597.19,660.72 598.4,660.91 599.61,661.1 600.82,661.29 602.04,661.48 603.25,661.67 604.46,661.86 605.67,662.06 606.88,662.26 608.09,662.47 609.31,662.67 610.52,662.89 611.73,663.1 612.94,663.32 614.15,663.53 615.36,663.74 616.57,663.94 617.79,664.15 619,664.35 620.21,664.55 621.42,664.75 622.63,664.95 623.84,665.14 625.05,665.34 626.27,665.53 627.48,665.72 628.69,665.92 629.9,666.11 631.11,666.3 632.32,666.49 633.54,666.69 634.75,666.88 635.96,667.07 637.17,667.26 638.38,667.46 639.59,667.65 640.8,667.85 642.02,668.04 643.23,668.17" />
<g fill="#e8232b" stroke="#e8232b" stroke-width="0.4">
<rect x="408.92" y="597.85" width="3.4" height="3.4"/>
<rect x="410.13" y="597.84" width="3.4" height="3.4"/>
<rect x="411.34" y="597.81" width="3.4" height="3.4"/>
<rect x="412.55" y="597.78" width="3.4" height="3.4"/>
<rect x="413.77" y="597.75" width="3.4" height="3.4"/>
<rect x="414.98" y="597.72" width="3.4" height="3.4"/>
<rect x="416.19" y="597.72" width="3.4" height="3.4"/>
<rect x="417.4" y="597.75" width="3.4" height="3.4"/>
<rect x="418.61" y="597.82" width="3.4" height="3.4"/>
<rect x="419.82" y="597.93" width="3.4" height="3.4"/>
<rect x="421.03" y="598.04" width="3.4" height="3.4"/>
<rect x="422.25" y="598.17" width="3.4" height="3.4"/>
<rect x="423.46" y="598.31" width="3.4" height="3.4"/>
<rect x="424.67" y="598.47" width="3.4" height="3.4"/>
<rect x="425.88" y="598.66" width="3.4" height="3.4"/>
<rect x="427.09" y="598.87" width="3.4" height="3.4"/>
<rect x="428.3" y="599.11" width="3.4" height="3.4"/>
<rect x="429.51" y="599.39" width="3.4" height="3.4"/>
<rect x="430.73" y="599.71" width="3.4" height="3.4"/>
<rect x="431.94" y="600.06" width="3.4" height="3.4"/>
<rect x="433.15" y="600.43" width="3.4" height="3.4"/>
<rect x="434.36" y="600.82" width="3.4" height="3.4"/>
<rect x="435.57" y="601.23" width="3.4" height="3.4"/>
<rect x="436.78" y="601.66" width="3.4" height="3.4"/>
<rect x="438" y="602.09" width="3.4" height="3.4"/>
<rect x="439.21" y="602.54" width="3.4" height="3.4"/>
<rect x="440.42" y="603" width="3.4" height="3.4"/>
<rect x="441.63" y="603.47" width="3.4" height="3.4"/>
<rect x="442.84" y="603.94" width="3.4" height="3.4"/>
<rect x="444.05" y="604.42" width="3.4" height="3.4"/>
<rect x="445.26" y="604.9" width="3.4" height="3.4"/>
<rect x="446.48" y="605.38" width="3.4" height="3.4"/>
<rect x="447.69" y="605.86" width="3.4" height="3.4"/>
<rect x="448.9" y="606.34" width="3.4" height="3.4"/>
<rect x="450.11" y="606.82" width="3.4" height="3.4"/>
<rect x="451.32" y="607.29" width="3.4" height="3.4"/>
<rect x="452.53" y="607.76" width="3.4" height="3.4"/>
<rect x="453.74" y="608.23" width="3.4" height="3.4"/>
<rect x="454.96" y="608.71" width="3.4" height="3.4"/>
<rect x="456.17" y="609.18" width="3.4" height="3.4"/>
<rect x="457.38" y="609.66" width="3.4" height="3.4"/>
<rect x="458.59" y="610.14" width="3.4" height="3.4"/>
<rect x="459.8" y="610.62" width="3.4" height="3.4"/>
<rect x="461.01" y="611.1" width="3.4" height="3.4"/>
<rect x="462.23" y="611.58" width="3.4" height="3.4"/>
<rect x="463.44" y="612.06" width="3.4" height="3.4"/>
<rect x="464.65" y="612.54" width="3.4" height="3.4"/>
<rect x="465.86" y="613.03" width="3.4" height="3.4"/>
<rect x="467.07" y="613.52" width="3.4" height="3.4"/>
<rect x="468.28" y="614.01" width="3.4" height="3.4"/>
<rect x="469.49" y="614.5" width="3.4" height="3.4"/>
<rect x="470.71" y="614.99" width="3.4" height="3.4"/>
<rect x="471.92" y="615.48" width="3.4" height="3.4"/>
<rect x="473.13" y="615.98" width="3.4" height="3.4"/>
<rect x="474.34" y="616.48" width="3.4" height="3.4"/>
<rect x="475.55" y="616.98" width="3.4" height="3.4"/>
<rect x="476.76" y="617.48" width="3.4" height="3.4"/>
<rect x="477.97" y="617.99" width="3.4" height="3.4"/>
<rect x="479.19" y="618.5" width="3.4" height="3.4"/>
<rect x="480.4" y="619.01" width="3.4" height="3.4"/>
<rect x="481.61" y="619.53" width="3.4" height="3.4"/>
<rect x="482.82" y="620.07" width="3.4" height="3.4"/>
<rect x="484.03" y="620.63" width="3.4" height="3.4"/>
<rect x="485.24" y="621.19" width="3.4" height="3.4"/>
<rect x="486.46" y="621.76" width="3.4" height="3.4"/>
<rect x="487.67" y="622.33" width="3.4" height="3.4"/>
<rect x="488.88" y="622.91" width="3.4" height="3.4"/>
<rect x="490.09" y="623.49" width="3.4" height="3.4"/>
<rect x="491.3" y="624.06" width="3.4" height="3.4"/>
<rect x="492.51" y="624.62" width="3.4" height="3.4"/>
<rect x="493.72" y="625.18" width="3.4" height="3.4"/>
<rect x="494.94" y="625.73" width="3.4" height="3.4"/>
<rect x="496.15" y="626.26" width="3.4" height="3.4"/>
<rect x="497.36" y="626.77" width="3.4" height="3.4"/>
<rect x="498.57" y="627.26" width="3.4" height="3.4"/>
<rect x="499.78" y="627.73" width="3.4" height="3.4"/>
<rect x="500.99" y="628.18" width="3.4" height="3.4"/>
<rect x="502.2" y="628.62" width="3.4" height="3.4"/>
<rect x="503.42" y="629.04" width="3.4" height="3.4"/>
<rect x="504.63" y="629.46" width="3.4" height="3.4"/>
<rect x="505.84" y="629.86" width="3.4" height="3.4"/>
<rect x="507.05" y="630.25" width="3.4" height="3.4"/>
<rect x="508.26" y="630.64" width="3.4" height="3.4"/>
<rect x="509.47" y="631.02" width="3.4" height="3.4"/>
<rect x="510.69" y="631.39" width="3.4" height="3.4"/>
<rect x="511.9" y="631.76" width="3.4" height="3.4"/>
<rect x="513.11" y="632.13" width="3.4" height="3.4"/>
<rect x="514.32" y="632.5" width="3.4" height="3.4"/>
<rect x="515.53" y="632.87" width="3.4" height="3.4"/>
<rect x="516.74" y="633.24" width="3.4" height="3.4"/>
<rect x="517.95" y="633.61" width="3.4" height="3.4"/>
<rect x="519.17" y="633.99" width="3.4" height="3.4"/>
<rect x="520.38" y="634.37" width="3.4" height="3.4"/>
<rect x="521.59" y="634.76" width="3.4" height="3.4"/>
<rect x="522.8" y="635.16" width="3.4" height="3.4"/>
<rect x="524.01" y="635.56" width="3.4" height="3.4"/>
<rect x="525.22" y="635.98" width="3.4" height="3.4"/>
<rect x="526.43" y="636.41" width="3.4" height="3.4"/>
<rect x="527.65" y="636.85" width="3.4" height="3.4"/>
<rect x="528.86" y="637.3" width="3.4" height="3.4"/>
<rect x="530.07" y="637.77" width="3.4" height="3.4"/>
<rect x="531.28" y="638.25" width="3.4" height="3.4"/>
<rect x="532.49" y="638.74" width="3.4" height="3.4"/>
<rect x="533.7" y="639.24" width="3.4" height="3.4"/>
<rect x="534.92" y="639.74" width="3.4" height="3.4"/>
<rect x="536.13" y="640.26" width="3.4" height="3.4"/>
<rect x="537.34" y="640.78" width="3.4" height="3.4"/>
<rect x="538.55" y="641.3" width="3.4" height="3.4"/>
<rect x="539.76" y="641.83" width="3.4" height="3.4"/>
<rect x="540.97" y="642.37" width="3.4" height="3.4"/>
<rect x="542.18" y="642.9" width="3.4" height="3.4"/>
<rect x="543.4" y="643.44" width="3.4" height="3.4"/>
<rect x="544.61" y="643.98" width="3.4" height="3.4"/>
<rect x="545.82" y="644.52" width="3.4" height="3.4"/>
<rect x="547.03" y="645.06" width="3.4" height="3.4"/>
<rect x="548.24" y="645.59" width="3.4" height="3.4"/>
<rect x="549.45" y="646.13" width="3.4" height="3.4"/>
<rect x="550.66" y="646.66" width="3.4" height="3.4"/>
<rect x="551.88" y="647.18" width="3.4" height="3.4"/>
<rect x="553.09" y="647.7" width="3.4" height="3.4"/>
<rect x="554.3" y="648.22" width="3.4" height="3.4"/>
<rect x="555.51" y="648.73" width="3.4" height="3.4"/>
<rect x="556.72" y="649.22" width="3.4" height="3.4"/>
<rect x="557.93" y="649.71" width="3.4" height="3.4"/>
<rect x="559.15" y="650.19" width="3.4" height="3.4"/>
<rect x="560.36" y="650.66" width="3.4" height="3.4"/>
<rect x="561.57" y="651.12" width="3.4" height="3.4"/>
<rect x="562.78" y="651.56" width="3.4" height="3.4"/>
<rect x="563.99" y="651.99" width="3.4" height="3.4"/>
<rect x="565.2" y="652.41" width="3.4" height="3.4"/>
<rect x="566.41" y="652.8" width="3.4" height="3.4"/>
<rect x="567.63" y="653.19" width="3.4" height="3.4"/>
<rect x="568.84" y="653.55" width="3.4" height="3.4"/>
<rect x="570.05" y="653.9" width="3.4" height="3.4"/>
<rect x="571.26" y="654.24" width="3.4" height="3.4"/>
<rect x="572.47" y="654.57" width="3.4" height="3.4"/>
<rect x="573.68" y="654.88" width="3.4" height="3.4"/>
<rect x="574.89" y="655.18" width="3.4" height="3.4"/>
<rect x="576.11" y="655.46" width="3.4" height="3.4"/>
<rect x="577.32" y="655.74" width="3.4" height="3.4"/>
<rect x="578.53" y="656.01" width="3.4" height="3.4"/>
<rect x="579.74" y="656.26" width="3.4" height="3.4"/>
<rect x="580.95" y="656.51" width="3.4" height="3.4"/>
<rect x="582.16" y="656.75" width="3.4" height="3.4"/>
<rect x="583.38" y="656.98" width="3.4" height="3.4"/>
<rect x="584.59" y="657.21" width="3.4" height="3.4"/>
<rect x="585.8" y="657.43" width="3.4" height="3.4"/>
<rect x="587.01" y="657.64" width="3.4" height="3.4"/>
<rect x="588.22" y="657.85" width="3.4" height="3.4"/>
<rect x="589.43" y="658.05" width="3.4" height="3.4"/>
<rect x="590.64" y="658.25" width="3.4" height="3.4"/>
<rect x="591.86" y="658.45" width="3.4" height="3.4"/>
<rect x="593.07" y="658.64" width="3.4" height="3.4"/>
<rect x="594.28" y="658.83" width="3.4" height="3.4"/>
<rect x="595.49" y="659.02" width="3.4" height="3.4"/>
<rect x="596.7" y="659.21" width="3.4" height="3.4"/>
<rect x="597.91" y="659.4" width="3.4" height="3.4"/>
<rect x="599.12" y="659.59" width="3.4" height="3.4"/>
<rect x="600.34" y="659.78" width="3.4" height="3.4"/>
<rect x="601.55" y="659.97" width="3.4" height="3.4"/>
<rect x="602.76" y="660.16" width="3.4" height="3.4"/>
<rect x="603.97" y="660.36" width="3.4" height="3.4"/>
<rect x="605.18" y="660.56" width="3.4" height="3.4"/>
<rect x="606.39" y="660.77" width="3.4" height="3.4"/>
<rect x="607.61" y="660.97" width="3.4" height="3.4"/>
<rect x="608.82" y="661.19" width="3.4" height="3.4"/>
<rect x="610.03" y="661.4" width="3.4" height="3.4"/>
<rect x="611.24" y="661.62" width="3.4" height="3.4"/>
<rect x="612.45" y="661.83" width="3.4" height="3.4"/>
<rect x="613.66" y="662.04" width="3.4" height="3.4"/>
<rect x="614.87" y="662.24" width="3.4" height="3.4"/>
<rect x="616.09" y="662.45" width="3.4" height="3.4"/>
<rect x="617.3" y="662.65" width="3.4" height="3.4"/>
<rect x="618.51" y="662.85" width="3.4" height="3.4"/>
<rect x="619.72" y="663.05" width="3.4" height="3.4"/>
<rect x="620.93" y="663.25" width="3.4" height="3.4"/>
<rect x="622.14" y="663.44" width="3.4" height="3.4"/>
<rect x="623.35" y="663.64" width="3.4" height="3.4"/>
<rect x="624.57" y="663.83" width="3.4" height="3.4"/>
<rect x="625.78" y="664.02" width="3.4" height="3.4"/>
<rect x="626.99" y="664.22" width="3.4" height="3.4"/>
<rect x="628.2" y="664.41" width="3.4" height="3.4"/>
<rect x="629.41" y="664.6" width="3.4" height="3.4"/>
<rect x="630.62" y="664.79" width="3.4" height="3.4"/>
<rect x="631.84" y="664.99" width="3.4" height="3.4"/>
<rect x="633.05" y="665.18" width="3.4" height="3.4"/>
<rect x="634.26" y="665.37" width="3.4" height="3.4"/>
<rect x="635.47" y="665.56" width="3.4" height="3.4"/>
<rect x="636.68" y="665.76" width="3.4" height="3.4"/>
<rect x="637.89" y="665.95" width="3.4" height="3.4"/>
<rect x="639.1" y="666.15" width="3.4" height="3.4"/>
<rect x="640.32" y="666.34" width="3.4" height="3.4"/>
<rect x="641.53" y="666.47" width="3.4" height="3.4"/>
</g>
<g fill="#fff" stroke="#e8232b" stroke-width="0.6">
<rect x="409.58" y="669.6" width="3.2" height="3.2"/>
<rect x="411.44" y="675.06" width="3.2" height="3.2"/>
<rect x="413.3" y="677.74" width="3.2" height="3.2"/>
<rect x="415.16" y="677.94" width="3.2" height="3.2"/>
<rect x="417.02" y="677.37" width="3.2" height="3.2"/>
<rect x="418.87" y="676.42" width="3.2" height="3.2"/>
<rect x="420.73" y="675.04" width="3.2" height="3.2"/>
<rect x="422.59" y="673.16" width="3.2" height="3.2"/>
<rect x="424.45" y="671.02" width="3.2" height="3.2"/>
<rect x="426.3" y="668.79" width="3.2" height="3.2"/>
<rect x="428.16" y="666.49" width="3.2" height="3.2"/>
<rect x="430.02" y="664.14" width="3.2" height="3.2"/>
<rect x="431.88" y="661.76" width="3.2" height="3.2"/>
<rect x="433.73" y="659.36" width="3.2" height="3.2"/>
<rect x="435.59" y="656.78" width="3.2" height="3.2"/>
<rect x="437.45" y="654.14" width="3.2" height="3.2"/>
<rect x="439.31" y="651.59" width="3.2" height="3.2"/>
<rect x="441.16" y="649.29" width="3.2" height="3.2"/>
<rect x="443.02" y="647.33" width="3.2" height="3.2"/>
<rect x="444.88" y="645.6" width="3.2" height="3.2"/>
<rect x="446.74" y="644.04" width="3.2" height="3.2"/>
<rect x="448.59" y="642.63" width="3.2" height="3.2"/>
<rect x="450.45" y="641.34" width="3.2" height="3.2"/>
<rect x="452.31" y="640.15" width="3.2" height="3.2"/>
<rect x="454.17" y="639.09" width="3.2" height="3.2"/>
<rect x="456.03" y="638.15" width="3.2" height="3.2"/>
<rect x="457.88" y="637.31" width="3.2" height="3.2"/>
<rect x="459.74" y="636.56" width="3.2" height="3.2"/>
<rect x="461.6" y="635.89" width="3.2" height="3.2"/>
<rect x="463.46" y="635.32" width="3.2" height="3.2"/>
<rect x="465.31" y="634.83" width="3.2" height="3.2"/>
<rect x="467.17" y="634.43" width="3.2" height="3.2"/>
<rect x="469.03" y="634.1" width="3.2" height="3.2"/>
<rect x="470.89" y="633.83" width="3.2" height="3.2"/>
<rect x="472.74" y="633.62" width="3.2" height="3.2"/>
<rect x="474.6" y="633.45" width="3.2" height="3.2"/>
<rect x="476.46" y="633.31" width="3.2" height="3.2"/>
<rect x="478.32" y="633.21" width="3.2" height="3.2"/>
<rect x="480.17" y="633.14" width="3.2" height="3.2"/>
<rect x="482.03" y="633.1" width="3.2" height="3.2"/>
<rect x="483.89" y="633.08" width="3.2" height="3.2"/>
<rect x="485.75" y="633.07" width="3.2" height="3.2"/>
<rect x="487.61" y="633.09" width="3.2" height="3.2"/>
<rect x="489.46" y="633.12" width="3.2" height="3.2"/>
<rect x="491.32" y="633.18" width="3.2" height="3.2"/>
<rect x="493.18" y="633.25" width="3.2" height="3.2"/>
<rect x="495.04" y="633.36" width="3.2" height="3.2"/>
<rect x="496.89" y="633.49" width="3.2" height="3.2"/>
<rect x="498.75" y="633.66" width="3.2" height="3.2"/>
<rect x="500.61" y="633.86" width="3.2" height="3.2"/>
<rect x="502.47" y="634.09" width="3.2" height="3.2"/>
<rect x="504.32" y="634.34" width="3.2" height="3.2"/>
<rect x="506.18" y="634.61" width="3.2" height="3.2"/>
<rect x="508.04" y="634.9" width="3.2" height="3.2"/>
<rect x="509.9" y="635.2" width="3.2" height="3.2"/>
<rect x="511.75" y="635.51" width="3.2" height="3.2"/>
<rect x="513.61" y="635.83" width="3.2" height="3.2"/>
<rect x="515.47" y="636.15" width="3.2" height="3.2"/>
<rect x="517.33" y="636.47" width="3.2" height="3.2"/>
<rect x="519.18" y="636.79" width="3.2" height="3.2"/>
<rect x="521.04" y="637.1" width="3.2" height="3.2"/>
<rect x="522.9" y="637.4" width="3.2" height="3.2"/>
<rect x="524.76" y="637.69" width="3.2" height="3.2"/>
<rect x="526.62" y="637.97" width="3.2" height="3.2"/>
<rect x="528.47" y="638.23" width="3.2" height="3.2"/>
<rect x="530.33" y="638.47" width="3.2" height="3.2"/>
<rect x="532.19" y="638.71" width="3.2" height="3.2"/>
<rect x="534.05" y="638.95" width="3.2" height="3.2"/>
<rect x="535.9" y="639.18" width="3.2" height="3.2"/>
<rect x="537.76" y="639.41" width="3.2" height="3.2"/>
<rect x="539.62" y="639.64" width="3.2" height="3.2"/>
<rect x="541.48" y="639.86" width="3.2" height="3.2"/>
<rect x="543.33" y="640.08" width="3.2" height="3.2"/>
<rect x="545.19" y="640.3" width="3.2" height="3.2"/>
<rect x="547.05" y="640.51" width="3.2" height="3.2"/>
<rect x="548.91" y="640.72" width="3.2" height="3.2"/>
<rect x="550.76" y="640.93" width="3.2" height="3.2"/>
<rect x="552.62" y="641.13" width="3.2" height="3.2"/>
<rect x="554.48" y="641.33" width="3.2" height="3.2"/>
<rect x="556.34" y="641.53" width="3.2" height="3.2"/>
<rect x="558.2" y="641.72" width="3.2" height="3.2"/>
<rect x="560.05" y="641.91" width="3.2" height="3.2"/>
<rect x="561.91" y="642.1" width="3.2" height="3.2"/>
<rect x="563.77" y="642.28" width="3.2" height="3.2"/>
<rect x="565.63" y="642.46" width="3.2" height="3.2"/>
<rect x="567.48" y="642.64" width="3.2" height="3.2"/>
<rect x="569.34" y="642.81" width="3.2" height="3.2"/>
<rect x="571.2" y="642.98" width="3.2" height="3.2"/>
<rect x="573.06" y="643.14" width="3.2" height="3.2"/>
<rect x="574.91" y="643.3" width="3.2" height="3.2"/>
<rect x="576.77" y="643.45" width="3.2" height="3.2"/>
<rect x="578.63" y="643.59" width="3.2" height="3.2"/>
<rect x="580.49" y="643.73" width="3.2" height="3.2"/>
<rect x="582.34" y="643.87" width="3.2" height="3.2"/>
<rect x="584.2" y="644.01" width="3.2" height="3.2"/>
<rect x="586.06" y="644.14" width="3.2" height="3.2"/>
<rect x="587.92" y="644.27" width="3.2" height="3.2"/>
<rect x="589.77" y="644.39" width="3.2" height="3.2"/>
<rect x="591.63" y="644.52" width="3.2" height="3.2"/>
<rect x="593.49" y="644.65" width="3.2" height="3.2"/>
<rect x="595.35" y="644.77" width="3.2" height="3.2"/>
<rect x="597.21" y="644.9" width="3.2" height="3.2"/>
<rect x="599.06" y="645.03" width="3.2" height="3.2"/>
<rect x="600.92" y="645.16" width="3.2" height="3.2"/>
<rect x="602.78" y="645.29" width="3.2" height="3.2"/>
<rect x="604.64" y="645.42" width="3.2" height="3.2"/>
<rect x="606.49" y="645.56" width="3.2" height="3.2"/>
<rect x="608.35" y="645.7" width="3.2" height="3.2"/>
<rect x="610.21" y="645.84" width="3.2" height="3.2"/>
<rect x="612.07" y="645.99" width="3.2" height="3.2"/>
<rect x="613.92" y="646.13" width="3.2" height="3.2"/>
<rect x="615.78" y="646.28" width="3.2" height="3.2"/>
<rect x="617.64" y="646.43" width="3.2" height="3.2"/>
<rect x="619.5" y="646.58" width="3.2" height="3.2"/>
<rect x="621.35" y="646.73" width="3.2" height="3.2"/>
<rect x="623.21" y="646.88" width="3.2" height="3.2"/>
<rect x="625.07" y="647.03" width="3.2" height="3.2"/>
<rect x="626.93" y="647.18" width="3.2" height="3.2"/>
<rect x="628.79" y="647.34" width="3.2" height="3.2"/>
<rect x="630.64" y="647.49" width="3.2" height="3.2"/>
<rect x="632.5" y="647.64" width="3.2" height="3.2"/>
<rect x="634.36" y="647.79" width="3.2" height="3.2"/>
<rect x="636.22" y="647.94" width="3.2" height="3.2"/>
<rect x="638.07" y="648.09" width="3.2" height="3.2"/>
<rect x="639.93" y="648.24" width="3.2" height="3.2"/>
<rect x="641.79" y="648.35" width="3.2" height="3.2"/>
</g>
<polyline fill="none" stroke="#3a4fa5" stroke-width="0.6" points="410.62,597.42 411.83,597.21 413.04,596.97 414.25,596.74 415.47,596.55 416.68,596.43 417.89,596.42 419.1,596.44 420.31,596.47 421.52,596.53 422.73,596.61 423.95,596.72 425.16,596.88 426.37,597.07 427.58,597.32 428.79,597.62 430,597.96 431.21,598.31 432.43,598.67 433.64,599.04 434.85,599.42 436.06,599.82 437.27,600.22 438.48,600.63 439.7,601.05 440.91,601.48 442.12,601.93 443.33,602.38 444.54,602.84 445.75,603.31 446.96,603.79 448.18,604.28 449.39,604.77 450.6,605.28 451.81,605.79 453.02,606.32 454.23,606.85 455.44,607.38 456.66,607.92 457.87,608.46 459.08,609.01 460.29,609.57 461.5,610.13 462.71,610.69 463.93,611.27 465.14,611.85 466.35,612.43 467.56,613.02 468.77,613.62 469.98,614.22 471.19,614.83 472.41,615.45 473.62,616.07 474.83,616.7 476.04,617.34 477.25,617.99 478.46,618.64 479.67,619.3 480.89,619.96 482.1,620.64 483.31,621.35 484.52,622.09 485.73,622.87 486.94,623.67 488.16,624.49 489.37,625.32 490.58,626.17 491.79,627.02 493,627.87 494.21,628.72 495.42,629.56 496.64,630.38 497.85,631.18 499.06,631.95 500.27,632.7 501.48,633.4 502.69,634.09 503.9,634.76 505.12,635.43 506.33,636.09 507.54,636.74 508.75,637.39 509.96,638.02 511.17,638.65 512.39,639.28 513.6,639.9 514.81,640.51 516.02,641.12 517.23,641.72 518.44,642.32 519.65,642.91 520.87,643.5 522.08,644.08 523.29,644.66 524.5,645.24 525.71,645.81 526.92,646.38 528.13,646.95 529.35,647.51 530.56,648.08 531.77,648.64 532.98,649.2 534.19,649.77 535.4,650.33 536.62,650.9 537.83,651.46 539.04,652.02 540.25,652.59 541.46,653.15 542.67,653.7 543.88,654.26 545.1,654.81 546.31,655.37 547.52,655.91 548.73,656.46 549.94,657 551.15,657.54 552.36,658.08 553.58,658.61 554.79,659.14 556,659.66 557.21,660.18 558.42,660.69 559.63,661.19 560.85,661.7 562.06,662.19 563.27,662.68 564.48,663.16 565.69,663.64 566.9,664.11 568.11,664.57 569.33,665.03 570.54,665.47 571.75,665.91 572.96,666.34 574.17,666.77 575.38,667.18 576.59,667.59 577.81,668 579.02,668.39 580.23,668.78 581.44,669.17 582.65,669.55 583.86,669.92 585.08,670.29 586.29,670.65 587.5,671.01 588.71,671.37 589.92,671.72 591.13,672.07 592.34,672.42 593.56,672.76 594.77,673.1 595.98,673.44 597.19,673.77 598.4,674.11 599.61,674.44 600.82,674.77 602.04,675.1 603.25,675.43 604.46,675.76 605.67,676.09 606.88,676.42 608.09,676.75 609.31,677.08 610.52,677.41 611.73,677.74 612.94,678.07 614.15,678.39 615.36,678.7 616.57,679.02 617.79,679.32 619,679.63 620.21,679.93 621.42,680.22 622.63,680.52 623.84,680.81 625.05,681.1 626.27,681.39 627.48,681.67 628.69,681.96 629.9,682.24 631.11,682.53 632.32,682.81 633.54,683.09 634.75,683.38 635.96,683.66 637.17,683.95 638.38,684.24 639.59,684.53 640.8,684.82 642.02,685.11 643.23,685.31" />
<g fill="#3a4fa5" stroke="#3a4fa5" stroke-width="0.4">
<path d="M408.32 597.42L410.62 595.12L412.91 597.42L410.62 599.71Z"/>
<path d="M409.54 597.21L411.83 594.92L414.13 597.21L411.83 599.51Z"/>
<path d="M410.75 596.97L413.04 594.68L415.34 596.97L413.04 599.27Z"/>
<path d="M411.96 596.74L414.25 594.45L416.55 596.74L414.25 599.04Z"/>
<path d="M413.17 596.55L415.47 594.25L417.76 596.55L415.47 598.84Z"/>
<path d="M414.38 596.43L416.68 594.14L418.97 596.43L416.68 598.73Z"/>
<path d="M415.59 596.42L417.89 594.12L420.18 596.42L417.89 598.71Z"/>
<path d="M416.8 596.44L419.1 594.14L421.39 596.44L419.1 598.73Z"/>
<path d="M418.02 596.47L420.31 594.18L422.61 596.47L420.31 598.77Z"/>
<path d="M419.23 596.53L421.52 594.23L423.82 596.53L421.52 598.82Z"/>
<path d="M420.44 596.61L422.73 594.31L425.03 596.61L422.73 598.9Z"/>
<path d="M421.65 596.72L423.95 594.43L426.24 596.72L423.95 599.02Z"/>
<path d="M422.86 596.88L425.16 594.58L427.45 596.88L425.16 599.17Z"/>
<path d="M424.07 597.07L426.37 594.78L428.66 597.07L426.37 599.37Z"/>
<path d="M425.29 597.32L427.58 595.02L429.88 597.32L427.58 599.61Z"/>
<path d="M426.5 597.62L428.79 595.33L431.09 597.62L428.79 599.92Z"/>
<path d="M427.71 597.96L430 595.67L432.3 597.96L430 600.26Z"/>
<path d="M428.92 598.31L431.21 596.02L433.51 598.31L431.21 600.61Z"/>
<path d="M430.13 598.67L432.43 596.38L434.72 598.67L432.43 600.97Z"/>
<path d="M431.34 599.04L433.64 596.75L435.93 599.04L433.64 601.34Z"/>
<path d="M432.55 599.42L434.85 597.13L437.14 599.42L434.85 601.72Z"/>
<path d="M433.77 599.82L436.06 597.52L438.36 599.82L436.06 602.11Z"/>
<path d="M434.98 600.22L437.27 597.92L439.57 600.22L437.27 602.51Z"/>
<path d="M436.19 600.63L438.48 598.34L440.78 600.63L438.48 602.93Z"/>
<path d="M437.4 601.05L439.7 598.76L441.99 601.05L439.7 603.35Z"/>
<path d="M438.61 601.48L440.91 599.19L443.2 601.48L440.91 603.78Z"/>
<path d="M439.82 601.93L442.12 599.63L444.41 601.93L442.12 604.22Z"/>
<path d="M441.03 602.38L443.33 600.08L445.62 602.38L443.33 604.67Z"/>
<path d="M442.25 602.84L444.54 600.54L446.84 602.84L444.54 605.13Z"/>
<path d="M443.46 603.31L445.75 601.01L448.05 603.31L445.75 605.6Z"/>
<path d="M444.67 603.79L446.96 601.49L449.26 603.79L446.96 606.08Z"/>
<path d="M445.88 604.28L448.18 601.98L450.47 604.28L448.18 606.57Z"/>
<path d="M447.09 604.77L449.39 602.48L451.68 604.77L449.39 607.07Z"/>
<path d="M448.3 605.28L450.6 602.98L452.89 605.28L450.6 607.57Z"/>
<path d="M449.52 605.79L451.81 603.5L454.11 605.79L451.81 608.09Z"/>
<path d="M450.73 606.32L453.02 604.02L455.32 606.32L453.02 608.61Z"/>
<path d="M451.94 606.85L454.23 604.55L456.53 606.85L454.23 609.14Z"/>
<path d="M453.15 607.38L455.44 605.08L457.74 607.38L455.44 609.67Z"/>
<path d="M454.36 607.92L456.66 605.62L458.95 607.92L456.66 610.21Z"/>
<path d="M455.57 608.46L457.87 606.17L460.16 608.46L457.87 610.76Z"/>
<path d="M456.78 609.01L459.08 606.72L461.37 609.01L459.08 611.31Z"/>
<path d="M458 609.57L460.29 607.27L462.59 609.57L460.29 611.86Z"/>
<path d="M459.21 610.13L461.5 607.83L463.8 610.13L461.5 612.42Z"/>
<path d="M460.42 610.69L462.71 608.4L465.01 610.69L462.71 612.99Z"/>
<path d="M461.63 611.27L463.93 608.97L466.22 611.27L463.93 613.56Z"/>
<path d="M462.84 611.85L465.14 609.55L467.43 611.85L465.14 614.14Z"/>
<path d="M464.05 612.43L466.35 610.14L468.64 612.43L466.35 614.73Z"/>
<path d="M465.26 613.02L467.56 610.73L469.85 613.02L467.56 615.32Z"/>
<path d="M466.48 613.62L468.77 611.32L471.07 613.62L468.77 615.91Z"/>
<path d="M467.69 614.22L469.98 611.93L472.28 614.22L469.98 616.52Z"/>
<path d="M468.9 614.83L471.19 612.54L473.49 614.83L471.19 617.13Z"/>
<path d="M470.11 615.45L472.41 613.16L474.7 615.45L472.41 617.75Z"/>
<path d="M471.32 616.07L473.62 613.78L475.91 616.07L473.62 618.37Z"/>
<path d="M472.53 616.7L474.83 614.41L477.12 616.7L474.83 619Z"/>
<path d="M473.75 617.34L476.04 615.05L478.34 617.34L476.04 619.64Z"/>
<path d="M474.96 617.99L477.25 615.69L479.55 617.99L477.25 620.28Z"/>
<path d="M476.17 618.64L478.46 616.34L480.76 618.64L478.46 620.93Z"/>
<path d="M477.38 619.3L479.67 617L481.97 619.3L479.67 621.59Z"/>
<path d="M478.59 619.96L480.89 617.67L483.18 619.96L480.89 622.26Z"/>
<path d="M479.8 620.64L482.1 618.34L484.39 620.64L482.1 622.93Z"/>
<path d="M481.01 621.35L483.31 619.05L485.6 621.35L483.31 623.64Z"/>
<path d="M482.23 622.09L484.52 619.8L486.82 622.09L484.52 624.39Z"/>
<path d="M483.44 622.87L485.73 620.57L488.03 622.87L485.73 625.16Z"/>
<path d="M484.65 623.67L486.94 621.37L489.24 623.67L486.94 625.96Z"/>
<path d="M485.86 624.49L488.16 622.19L490.45 624.49L488.16 626.78Z"/>
<path d="M487.07 625.32L489.37 623.03L491.66 625.32L489.37 627.62Z"/>
<path d="M488.28 626.17L490.58 623.88L492.87 626.17L490.58 628.47Z"/>
<path d="M489.49 627.02L491.79 624.73L494.08 627.02L491.79 629.32Z"/>
<path d="M490.71 627.87L493 625.58L495.3 627.87L493 630.17Z"/>
<path d="M491.92 628.72L494.21 626.43L496.51 628.72L494.21 631.02Z"/>
<path d="M493.13 629.56L495.42 627.26L497.72 629.56L495.42 631.85Z"/>
<path d="M494.34 630.38L496.64 628.08L498.93 630.38L496.64 632.67Z"/>
<path d="M495.55 631.18L497.85 628.88L500.14 631.18L497.85 633.47Z"/>
<path d="M496.76 631.95L499.06 629.66L501.35 631.95L499.06 634.25Z"/>
<path d="M497.98 632.7L500.27 630.4L502.57 632.7L500.27 634.99Z"/>
<path d="M499.19 633.4L501.48 631.11L503.78 633.4L501.48 635.7Z"/>
<path d="M500.4 634.09L502.69 631.79L504.99 634.09L502.69 636.38Z"/>
<path d="M501.61 634.76L503.9 632.47L506.2 634.76L503.9 637.06Z"/>
<path d="M502.82 635.43L505.12 633.13L507.41 635.43L505.12 637.72Z"/>
<path d="M504.03 636.09L506.33 633.79L508.62 636.09L506.33 638.38Z"/>
<path d="M505.24 636.74L507.54 634.45L509.83 636.74L507.54 639.04Z"/>
<path d="M506.46 637.39L508.75 635.09L511.05 637.39L508.75 639.68Z"/>
<path d="M507.67 638.02L509.96 635.73L512.26 638.02L509.96 640.32Z"/>
<path d="M508.88 638.65L511.17 636.36L513.47 638.65L511.17 640.95Z"/>
<path d="M510.09 639.28L512.39 636.98L514.68 639.28L512.39 641.57Z"/>
<path d="M511.3 639.9L513.6 637.6L515.89 639.9L513.6 642.19Z"/>
<path d="M512.51 640.51L514.81 638.22L517.1 640.51L514.81 642.81Z"/>
<path d="M513.72 641.12L516.02 638.82L518.31 641.12L516.02 643.41Z"/>
<path d="M514.94 641.72L517.23 639.42L519.53 641.72L517.23 644.01Z"/>
<path d="M516.15 642.32L518.44 640.02L520.74 642.32L518.44 644.61Z"/>
<path d="M517.36 642.91L519.65 640.61L521.95 642.91L519.65 645.2Z"/>
<path d="M518.57 643.5L520.87 641.2L523.16 643.5L520.87 645.79Z"/>
<path d="M519.78 644.08L522.08 641.78L524.37 644.08L522.08 646.37Z"/>
<path d="M520.99 644.66L523.29 642.36L525.58 644.66L523.29 646.95Z"/>
<path d="M522.21 645.24L524.5 642.94L526.8 645.24L524.5 647.53Z"/>
<path d="M523.42 645.81L525.71 643.51L528.01 645.81L525.71 648.1Z"/>
<path d="M524.63 646.38L526.92 644.08L529.22 646.38L526.92 648.67Z"/>
<path d="M525.84 646.95L528.13 644.65L530.43 646.95L528.13 649.24Z"/>
<path d="M527.05 647.51L529.35 645.22L531.64 647.51L529.35 649.81Z"/>
<path d="M528.26 648.08L530.56 645.78L532.85 648.08L530.56 650.37Z"/>
<path d="M529.47 648.64L531.77 646.34L534.06 648.64L531.77 650.93Z"/>
<path d="M530.69 649.2L532.98 646.91L535.28 649.2L532.98 651.5Z"/>
<path d="M531.9 649.77L534.19 647.47L536.49 649.77L534.19 652.06Z"/>
<path d="M533.11 650.33L535.4 648.04L537.7 650.33L535.4 652.63Z"/>
<path d="M534.32 650.9L536.62 648.6L538.91 650.9L536.62 653.19Z"/>
<path d="M535.53 651.46L537.83 649.17L540.12 651.46L537.83 653.76Z"/>
<path d="M536.74 652.02L539.04 649.73L541.33 652.02L539.04 654.32Z"/>
<path d="M537.95 652.59L540.25 650.29L542.54 652.59L540.25 654.88Z"/>
<path d="M539.17 653.15L541.46 650.85L543.76 653.15L541.46 655.44Z"/>
<path d="M540.38 653.7L542.67 651.41L544.97 653.7L542.67 656Z"/>
<path d="M541.59 654.26L543.88 651.96L546.18 654.26L543.88 656.55Z"/>
<path d="M542.8 654.81L545.1 652.52L547.39 654.81L545.1 657.11Z"/>
<path d="M544.01 655.37L546.31 653.07L548.6 655.37L546.31 657.66Z"/>
<path d="M545.22 655.91L547.52 653.62L549.81 655.91L547.52 658.21Z"/>
<path d="M546.44 656.46L548.73 654.17L551.03 656.46L548.73 658.76Z"/>
<path d="M547.65 657L549.94 654.71L552.24 657L549.94 659.3Z"/>
<path d="M548.86 657.54L551.15 655.25L553.45 657.54L551.15 659.84Z"/>
<path d="M550.07 658.08L552.36 655.78L554.66 658.08L552.36 660.37Z"/>
<path d="M551.28 658.61L553.58 656.31L555.87 658.61L553.58 660.9Z"/>
<path d="M552.49 659.14L554.79 656.84L557.08 659.14L554.79 661.43Z"/>
<path d="M553.7 659.66L556 657.36L558.29 659.66L556 661.95Z"/>
<path d="M554.92 660.18L557.21 657.88L559.51 660.18L557.21 662.47Z"/>
<path d="M556.13 660.69L558.42 658.39L560.72 660.69L558.42 662.98Z"/>
<path d="M557.34 661.19L559.63 658.9L561.93 661.19L559.63 663.49Z"/>
<path d="M558.55 661.7L560.85 659.4L563.14 661.7L560.85 663.99Z"/>
<path d="M559.76 662.19L562.06 659.9L564.35 662.19L562.06 664.49Z"/>
<path d="M560.97 662.68L563.27 660.39L565.56 662.68L563.27 664.98Z"/>
<path d="M562.18 663.16L564.48 660.87L566.77 663.16L564.48 665.46Z"/>
<path d="M563.4 663.64L565.69 661.35L567.99 663.64L565.69 665.94Z"/>
<path d="M564.61 664.11L566.9 661.81L569.2 664.11L566.9 666.4Z"/>
<path d="M565.82 664.57L568.11 662.28L570.41 664.57L568.11 666.87Z"/>
<path d="M567.03 665.03L569.33 662.73L571.62 665.03L569.33 667.32Z"/>
<path d="M568.24 665.47L570.54 663.18L572.83 665.47L570.54 667.77Z"/>
<path d="M569.45 665.91L571.75 663.62L574.04 665.91L571.75 668.21Z"/>
<path d="M570.67 666.34L572.96 664.05L575.26 666.34L572.96 668.64Z"/>
<path d="M571.88 666.77L574.17 664.47L576.47 666.77L574.17 669.06Z"/>
<path d="M573.09 667.18L575.38 664.89L577.68 667.18L575.38 669.48Z"/>
<path d="M574.3 667.59L576.59 665.3L578.89 667.59L576.59 669.89Z"/>
<path d="M575.51 668L577.81 665.7L580.1 668L577.81 670.29Z"/>
<path d="M576.72 668.39L579.02 666.1L581.31 668.39L579.02 670.69Z"/>
<path d="M577.93 668.78L580.23 666.49L582.52 668.78L580.23 671.08Z"/>
<path d="M579.15 669.17L581.44 666.87L583.74 669.17L581.44 671.46Z"/>
<path d="M580.36 669.55L582.65 667.25L584.95 669.55L582.65 671.84Z"/>
<path d="M581.57 669.92L583.86 667.63L586.16 669.92L583.86 672.22Z"/>
<path d="M582.78 670.29L585.08 668L587.37 670.29L585.08 672.59Z"/>
<path d="M583.99 670.65L586.29 668.36L588.58 670.65L586.29 672.95Z"/>
<path d="M585.2 671.01L587.5 668.72L589.79 671.01L587.5 673.31Z"/>
<path d="M586.41 671.37L588.71 669.08L591 671.37L588.71 673.67Z"/>
<path d="M587.63 671.72L589.92 669.43L592.22 671.72L589.92 674.02Z"/>
<path d="M588.84 672.07L591.13 669.78L593.43 672.07L591.13 674.37Z"/>
<path d="M590.05 672.42L592.34 670.12L594.64 672.42L592.34 674.71Z"/>
<path d="M591.26 672.76L593.56 670.46L595.85 672.76L593.56 675.05Z"/>
<path d="M592.47 673.1L594.77 670.81L597.06 673.1L594.77 675.4Z"/>
<path d="M593.68 673.44L595.98 671.14L598.27 673.44L595.98 675.73Z"/>
<path d="M594.9 673.77L597.19 671.48L599.49 673.77L597.19 676.07Z"/>
<path d="M596.11 674.11L598.4 671.81L600.7 674.11L598.4 676.4Z"/>
<path d="M597.32 674.44L599.61 672.14L601.91 674.44L599.61 676.73Z"/>
<path d="M598.53 674.77L600.82 672.48L603.12 674.77L600.82 677.07Z"/>
<path d="M599.74 675.1L602.04 672.81L604.33 675.1L602.04 677.4Z"/>
<path d="M600.95 675.43L603.25 673.14L605.54 675.43L603.25 677.73Z"/>
<path d="M602.16 675.76L604.46 673.47L606.75 675.76L604.46 678.06Z"/>
<path d="M603.38 676.09L605.67 673.8L607.97 676.09L605.67 678.39Z"/>
<path d="M604.59 676.42L606.88 674.13L609.18 676.42L606.88 678.72Z"/>
<path d="M605.8 676.75L608.09 674.46L610.39 676.75L608.09 679.05Z"/>
<path d="M607.01 677.08L609.31 674.79L611.6 677.08L609.31 679.38Z"/>
<path d="M608.22 677.41L610.52 675.12L612.81 677.41L610.52 679.71Z"/>
<path d="M609.43 677.74L611.73 675.45L614.02 677.74L611.73 680.04Z"/>
<path d="M610.64 678.07L612.94 675.77L615.23 678.07L612.94 680.36Z"/>
<path d="M611.86 678.39L614.15 676.09L616.45 678.39L614.15 680.68Z"/>
<path d="M613.07 678.7L615.36 676.41L617.66 678.7L615.36 681Z"/>
<path d="M614.28 679.02L616.57 676.72L618.87 679.02L616.57 681.31Z"/>
<path d="M615.49 679.32L617.79 677.03L620.08 679.32L617.79 681.62Z"/>
<path d="M616.7 679.63L619 677.33L621.29 679.63L619 681.92Z"/>
<path d="M617.91 679.93L620.21 677.63L622.5 679.93L620.21 682.22Z"/>
<path d="M619.13 680.22L621.42 677.93L623.72 680.22L621.42 682.52Z"/>
<path d="M620.34 680.52L622.63 678.22L624.93 680.52L622.63 682.81Z"/>
<path d="M621.55 680.81L623.84 678.52L626.14 680.81L623.84 683.11Z"/>
<path d="M622.76 681.1L625.05 678.8L627.35 681.1L625.05 683.39Z"/>
<path d="M623.97 681.39L626.27 679.09L628.56 681.39L626.27 683.68Z"/>
<path d="M625.18 681.67L627.48 679.38L629.77 681.67L627.48 683.97Z"/>
<path d="M626.39 681.96L628.69 679.66L630.98 681.96L628.69 684.25Z"/>
<path d="M627.61 682.24L629.9 679.95L632.2 682.24L629.9 684.54Z"/>
<path d="M628.82 682.53L631.11 680.23L633.41 682.53L631.11 684.82Z"/>
<path d="M630.03 682.81L632.32 680.52L634.62 682.81L632.32 685.11Z"/>
<path d="M631.24 683.09L633.54 680.8L635.83 683.09L633.54 685.39Z"/>
<path d="M632.45 683.38L634.75 681.08L637.04 683.38L634.75 685.67Z"/>
<path d="M633.66 683.66L635.96 681.37L638.25 683.66L635.96 685.96Z"/>
<path d="M634.87 683.95L637.17 681.65L639.46 683.95L637.17 686.24Z"/>
<path d="M636.09 684.24L638.38 681.94L640.68 684.24L638.38 686.53Z"/>
<path d="M637.3 684.53L639.59 682.23L641.89 684.53L639.59 686.82Z"/>
<path d="M638.51 684.82L640.8 682.52L643.1 684.82L640.8 687.11Z"/>
<path d="M639.72 685.11L642.02 682.81L644.31 685.11L642.02 687.4Z"/>
<path d="M640.93 685.31L643.23 683.01L645.52 685.31L643.23 687.6Z"/>
</g>
<g fill="#fff" stroke="#3a4fa5" stroke-width="0.6">
<path d="M408.82 666.05L411.18 663.68L413.55 666.05L411.18 668.41Z"/>
<path d="M410.68 668.38L413.04 666.02L415.4 668.38L413.04 670.74Z"/>
<path d="M412.54 670.6L414.9 668.24L417.26 670.6L414.9 672.97Z"/>
<path d="M414.39 671.2L416.76 668.83L419.12 671.2L416.76 673.56Z"/>
<path d="M416.25 670.71L418.62 668.34L420.98 670.71L418.62 673.07Z"/>
<path d="M418.11 669.84L420.47 667.48L422.84 669.84L420.47 672.2Z"/>
<path d="M419.97 668.89L422.33 666.53L424.69 668.89L422.33 671.26Z"/>
<path d="M421.83 667.86L424.19 665.49L426.55 667.86L424.19 670.22Z"/>
<path d="M423.68 666.71L426.05 664.35L428.41 666.71L426.05 669.08Z"/>
<path d="M425.54 665.45L427.9 663.09L430.27 665.45L427.9 667.82Z"/>
<path d="M427.4 664.05L429.76 661.69L432.12 664.05L429.76 666.41Z"/>
<path d="M429.26 662.35L431.62 659.99L433.98 662.35L431.62 664.72Z"/>
<path d="M431.11 660.49L433.48 658.12L435.84 660.49L433.48 662.85Z"/>
<path d="M432.97 658.59L435.33 656.23L437.7 658.59L435.33 660.95Z"/>
<path d="M434.83 656.59L437.19 654.23L439.55 656.59L437.19 658.95Z"/>
<path d="M436.69 654.55L439.05 652.19L441.41 654.55L439.05 656.91Z"/>
<path d="M438.54 652.57L440.91 650.21L443.27 652.57L440.91 654.93Z"/>
<path d="M440.4 650.76L442.76 648.4L445.13 650.76L442.76 653.13Z"/>
<path d="M442.26 649.19L444.62 646.83L446.98 649.19L444.62 651.55Z"/>
<path d="M444.12 647.77L446.48 645.41L448.84 647.77L446.48 650.14Z"/>
<path d="M445.97 646.48L448.34 644.12L450.7 646.48L448.34 648.85Z"/>
<path d="M447.83 645.29L450.19 642.93L452.56 645.29L450.19 647.65Z"/>
<path d="M449.69 644.16L452.05 641.8L454.41 644.16L452.05 646.52Z"/>
<path d="M451.55 643.08L453.91 640.72L456.27 643.08L453.91 645.44Z"/>
<path d="M453.41 642.06L455.77 639.69L458.13 642.06L455.77 644.42Z"/>
<path d="M455.26 641.11L457.63 638.74L459.99 641.11L457.63 643.47Z"/>
<path d="M457.12 640.24L459.48 637.88L461.85 640.24L459.48 642.6Z"/>
<path d="M458.98 639.47L461.34 637.11L463.7 639.47L461.34 641.83Z"/>
<path d="M460.84 638.8L463.2 636.44L465.56 638.8L463.2 641.16Z"/>
<path d="M462.69 638.23L465.06 635.87L467.42 638.23L465.06 640.59Z"/>
<path d="M464.55 637.75L466.91 635.39L469.28 637.75L466.91 640.11Z"/>
<path d="M466.41 637.35L468.77 634.99L471.13 637.35L468.77 639.71Z"/>
<path d="M468.27 637.03L470.63 634.66L472.99 637.03L470.63 639.39Z"/>
<path d="M470.12 636.76L472.49 634.4L474.85 636.76L472.49 639.13Z"/>
<path d="M471.98 636.55L474.34 634.19L476.71 636.55L474.34 638.91Z"/>
<path d="M473.84 636.37L476.2 634.01L478.56 636.37L476.2 638.73Z"/>
<path d="M475.7 636.22L478.06 633.86L480.42 636.22L478.06 638.59Z"/>
<path d="M477.55 636.11L479.92 633.75L482.28 636.11L479.92 638.48Z"/>
<path d="M479.41 636.04L481.77 633.68L484.14 636.04L481.77 638.4Z"/>
<path d="M481.27 636L483.63 633.64L485.99 636L483.63 638.36Z"/>
<path d="M483.13 635.99L485.49 633.63L487.85 635.99L485.49 638.36Z"/>
<path d="M484.98 636.02L487.35 633.66L489.71 636.02L487.35 638.39Z"/>
<path d="M486.84 636.07L489.21 633.71L491.57 636.07L489.21 638.43Z"/>
<path d="M488.7 636.13L491.06 633.77L493.43 636.13L491.06 638.5Z"/>
<path d="M490.56 636.23L492.92 633.86L495.28 636.23L492.92 638.59Z"/>
<path d="M492.42 636.35L494.78 633.99L497.14 636.35L494.78 638.71Z"/>
<path d="M494.27 636.52L496.64 634.15L499 636.52L496.64 638.88Z"/>
<path d="M496.13 636.72L498.49 634.36L500.86 636.72L498.49 639.09Z"/>
<path d="M497.99 636.99L500.35 634.62L502.71 636.99L500.35 639.35Z"/>
<path d="M499.85 637.3L502.21 634.94L504.57 637.3L502.21 639.67Z"/>
<path d="M501.7 637.68L504.07 635.31L506.43 637.68L504.07 640.04Z"/>
<path d="M503.56 638.09L505.92 635.73L508.29 638.09L505.92 640.45Z"/>
<path d="M505.42 638.54L507.78 636.18L510.14 638.54L507.78 640.9Z"/>
<path d="M507.28 639.02L509.64 636.66L512 639.02L509.64 641.38Z"/>
<path d="M509.13 639.52L511.5 637.16L513.86 639.52L511.5 641.88Z"/>
<path d="M510.99 640.03L513.35 637.67L515.72 640.03L513.35 642.4Z"/>
<path d="M512.85 640.56L515.21 638.19L517.57 640.56L515.21 642.92Z"/>
<path d="M514.71 641.08L517.07 638.72L519.43 641.08L517.07 643.44Z"/>
<path d="M516.56 641.6L518.93 639.24L521.29 641.6L518.93 643.97Z"/>
<path d="M518.42 642.11L520.78 639.75L523.15 642.11L520.78 644.48Z"/>
<path d="M520.28 642.6L522.64 640.24L525.01 642.6L522.64 644.97Z"/>
<path d="M522.14 643.07L524.5 640.71L526.86 643.07L524.5 645.43Z"/>
<path d="M524 643.51L526.36 641.14L528.72 643.51L526.36 645.87Z"/>
<path d="M525.85 643.9L528.22 641.54L530.58 643.9L528.22 646.27Z"/>
<path d="M527.71 644.26L530.07 641.89L532.44 644.26L530.07 646.62Z"/>
<path d="M529.57 644.57L531.93 642.2L534.29 644.57L531.93 646.93Z"/>
<path d="M531.43 644.86L533.79 642.49L536.15 644.86L533.79 647.22Z"/>
<path d="M533.28 645.13L535.65 642.77L538.01 645.13L535.65 647.49Z"/>
<path d="M535.14 645.39L537.5 643.02L539.87 645.39L537.5 647.75Z"/>
<path d="M537 645.63L539.36 643.26L541.72 645.63L539.36 647.99Z"/>
<path d="M538.86 645.85L541.22 643.49L543.58 645.85L541.22 648.22Z"/>
<path d="M540.71 646.07L543.08 643.71L545.44 646.07L543.08 648.43Z"/>
<path d="M542.57 646.28L544.93 643.91L547.3 646.28L544.93 648.64Z"/>
<path d="M544.43 646.47L546.79 644.11L549.15 646.47L546.79 648.84Z"/>
<path d="M546.29 646.66L548.65 644.3L551.01 646.66L548.65 649.03Z"/>
<path d="M548.14 646.85L550.51 644.48L552.87 646.85L550.51 649.21Z"/>
<path d="M550 647.03L552.36 644.66L554.73 647.03L552.36 649.39Z"/>
<path d="M551.86 647.2L554.22 644.84L556.58 647.2L554.22 649.56Z"/>
<path d="M553.72 647.38L556.08 645.01L558.44 647.38L556.08 649.74Z"/>
<path d="M555.58 647.55L557.94 645.19L560.3 647.55L557.94 649.91Z"/>
<path d="M557.43 647.73L559.8 645.36L562.16 647.73L559.8 650.09Z"/>
<path d="M559.29 647.91L561.65 645.54L564.02 647.91L561.65 650.27Z"/>
<path d="M561.15 648.09L563.51 645.73L565.87 648.09L563.51 650.45Z"/>
<path d="M563.01 648.28L565.37 645.92L567.73 648.28L565.37 650.64Z"/>
<path d="M564.86 648.47L567.23 646.11L569.59 648.47L567.23 650.84Z"/>
<path d="M566.72 648.68L569.08 646.32L571.45 648.68L569.08 651.04Z"/>
<path d="M568.58 648.89L570.94 646.53L573.3 648.89L570.94 651.26Z"/>
<path d="M570.44 649.11L572.8 646.75L575.16 649.11L572.8 651.47Z"/>
<path d="M572.29 649.33L574.66 646.97L577.02 649.33L574.66 651.69Z"/>
<path d="M574.15 649.55L576.51 647.19L578.88 649.55L576.51 651.92Z"/>
<path d="M576.01 649.78L578.37 647.41L580.73 649.78L578.37 652.14Z"/>
<path d="M577.87 650L580.23 647.64L582.59 650L580.23 652.36Z"/>
<path d="M579.72 650.23L582.09 647.86L584.45 650.23L582.09 652.59Z"/>
<path d="M581.58 650.45L583.94 648.09L586.31 650.45L583.94 652.82Z"/>
<path d="M583.44 650.68L585.8 648.32L588.16 650.68L585.8 653.04Z"/>
<path d="M585.3 650.91L587.66 648.54L590.02 650.91L587.66 653.27Z"/>
<path d="M587.15 651.13L589.52 648.77L591.88 651.13L589.52 653.5Z"/>
<path d="M589.01 651.36L591.37 649L593.74 651.36L591.37 653.72Z"/>
<path d="M590.87 651.59L593.23 649.23L595.6 651.59L593.23 653.95Z"/>
<path d="M592.73 651.81L595.09 649.45L597.45 651.81L595.09 654.18Z"/>
<path d="M594.59 652.04L596.95 649.68L599.31 652.04L596.95 654.4Z"/>
<path d="M596.44 652.26L598.81 649.9L601.17 652.26L598.81 654.63Z"/>
<path d="M598.3 652.49L600.66 650.13L603.03 652.49L600.66 654.85Z"/>
<path d="M600.16 652.71L602.52 650.35L604.88 652.71L602.52 655.07Z"/>
<path d="M602.02 652.93L604.38 650.57L606.74 652.93L604.38 655.29Z"/>
<path d="M603.87 653.15L606.24 650.79L608.6 653.15L606.24 655.51Z"/>
<path d="M605.73 653.37L608.09 651L610.46 653.37L608.09 655.73Z"/>
<path d="M607.59 653.58L609.95 651.22L612.31 653.58L609.95 655.94Z"/>
<path d="M609.45 653.79L611.81 651.43L614.17 653.79L611.81 656.16Z"/>
<path d="M611.3 654L613.67 651.64L616.03 654L613.67 656.37Z"/>
<path d="M613.16 654.21L615.52 651.85L617.89 654.21L615.52 656.57Z"/>
<path d="M615.02 654.41L617.38 652.05L619.74 654.41L617.38 656.78Z"/>
<path d="M616.88 654.62L619.24 652.25L621.6 654.62L619.24 656.98Z"/>
<path d="M618.73 654.82L621.1 652.46L623.46 654.82L621.1 657.18Z"/>
<path d="M620.59 655.02L622.95 652.65L625.32 655.02L622.95 657.38Z"/>
<path d="M622.45 655.22L624.81 652.85L627.17 655.22L624.81 657.58Z"/>
<path d="M624.31 655.41L626.67 653.05L629.03 655.41L626.67 657.77Z"/>
<path d="M626.17 655.61L628.53 653.25L630.89 655.61L628.53 657.97Z"/>
<path d="M628.02 655.8L630.39 653.44L632.75 655.8L630.39 658.17Z"/>
<path d="M629.88 656L632.24 653.64L634.61 656L632.24 658.36Z"/>
<path d="M631.74 656.2L634.1 653.83L636.46 656.2L634.1 658.56Z"/>
<path d="M633.6 656.39L635.96 654.03L638.32 656.39L635.96 658.75Z"/>
<path d="M635.45 656.59L637.82 654.23L640.18 656.59L637.82 658.95Z"/>
<path d="M637.31 656.79L639.67 654.42L642.04 656.79L639.67 659.15Z"/>
<path d="M639.17 656.98L641.53 654.62L643.89 656.98L641.53 659.35Z"/>
<path d="M641.03 657.12L643.39 654.76L645.75 657.12L643.39 659.49Z"/>
</g>
</g>
<line x1="405.3" y1="561.3" x2="405.3" y2="744" stroke="#222" stroke-width="1.1" />
<line x1="401.3" y1="561.8" x2="405.3" y2="561.8" stroke="#222" stroke-width="1" />
<text x="398.3" y="566.8" font-family="Liberation Serif, serif" font-size="13.8" font-weight="bold" text-anchor="end" fill="#000" >1000</text>
<line x1="401.3" y1="621.3" x2="405.3" y2="621.3" stroke="#222" stroke-width="1" />
<text x="398.3" y="626.3" font-family="Liberation Serif, serif" font-size="13.8" font-weight="bold" text-anchor="end" fill="#000" >100</text>
<line x1="401.3" y1="680.8" x2="405.3" y2="680.8" stroke="#222" stroke-width="1" />
<text x="398.3" y="685.8" font-family="Liberation Serif, serif" font-size="13.8" font-weight="bold" text-anchor="end" fill="#000" >10</text>
<line x1="401.3" y1="740.3" x2="405.3" y2="740.3" stroke="#222" stroke-width="1" />
<text x="398.3" y="745.3" font-family="Liberation Serif, serif" font-size="13.8" font-weight="bold" text-anchor="end" fill="#000" >1</text>
<line x1="403.3" y1="722.39" x2="405.3" y2="722.39" stroke="#222" stroke-width="0.8" />
<line x1="403.3" y1="711.91" x2="405.3" y2="711.91" stroke="#222" stroke-width="0.8" />
<line x1="403.3" y1="704.48" x2="405.3" y2="704.48" stroke="#222" stroke-width="0.8" />
<line x1="403.3" y1="698.71" x2="405.3" y2="698.71" stroke="#222" stroke-width="0.8" />
<line x1="403.3" y1="694" x2="405.3" y2="694" stroke="#222" stroke-width="0.8" />
<line x1="403.3" y1="690.02" x2="405.3" y2="690.02" stroke="#222" stroke-width="0.8" />
<line x1="403.3" y1="686.57" x2="405.3" y2="686.57" stroke="#222" stroke-width="0.8" />
<line x1="403.3" y1="683.52" x2="405.3" y2="683.52" stroke="#222" stroke-width="0.8" />
<line x1="403.3" y1="662.89" x2="405.3" y2="662.89" stroke="#222" stroke-width="0.8" />
<line x1="403.3" y1="652.41" x2="405.3" y2="652.41" stroke="#222" stroke-width="0.8" />
<line x1="403.3" y1="644.98" x2="405.3" y2="644.98" stroke="#222" stroke-width="0.8" />
<line x1="403.3" y1="639.21" x2="405.3" y2="639.21" stroke="#222" stroke-width="0.8" />
<line x1="403.3" y1="634.5" x2="405.3" y2="634.5" stroke="#222" stroke-width="0.8" />
<line x1="403.3" y1="630.52" x2="405.3" y2="630.52" stroke="#222" stroke-width="0.8" />
<line x1="403.3" y1="627.07" x2="405.3" y2="627.07" stroke="#222" stroke-width="0.8" />
<line x1="403.3" y1="624.02" x2="405.3" y2="624.02" stroke="#222" stroke-width="0.8" />
<line x1="403.3" y1="603.39" x2="405.3" y2="603.39" stroke="#222" stroke-width="0.8" />
<line x1="403.3" y1="592.91" x2="405.3" y2="592.91" stroke="#222" stroke-width="0.8" />
<line x1="403.3" y1="585.48" x2="405.3" y2="585.48" stroke="#222" stroke-width="0.8" />
<line x1="403.3" y1="579.71" x2="405.3" y2="579.71" stroke="#222" stroke-width="0.8" />
<line x1="403.3" y1="575" x2="405.3" y2="575" stroke="#222" stroke-width="0.8" />
<line x1="403.3" y1="571.02" x2="405.3" y2="571.02" stroke="#222" stroke-width="0.8" />
<line x1="403.3" y1="567.57" x2="405.3" y2="567.57" stroke="#222" stroke-width="0.8" />
<line x1="403.3" y1="564.52" x2="405.3" y2="564.52" stroke="#222" stroke-width="0.8" />
<text x="369.3" y="660.8" font-family="Liberation Serif, serif" font-size="15.0" font-weight="bold" text-anchor="middle" fill="#000" transform="rotate(-90 369.3 660.8)" >Shear moduli G' &amp; G'' (Pa)</text>
<text x="335.5" y="573" font-family="Liberation Serif, serif" font-size="24" font-weight="bold" text-anchor="start" fill="#000" >h</text>
<line x1="496.5" y1="566.2" x2="518.9" y2="566.2" stroke="#333" stroke-width="0.8" />
<line x1="529.5" y1="566.2" x2="551.9" y2="566.2" stroke="#333" stroke-width="0.8" />
<g fill="#000" stroke="#000" stroke-width="0.5">
<circle cx="507.7" cy="566.2" r="3.9"/>
</g>
<g fill="#fff" stroke="#000" stroke-width="0.9">
<circle cx="540.7" cy="566.2" r="3.3"/>
</g>
<text x="558.6" y="570.2" font-family="Liberation Serif, serif" font-size="13.05" font-weight="bold" text-anchor="start" fill="#000" >“PBS”</text>
<line x1="496.5" y1="582.2" x2="518.9" y2="582.2" stroke="#333" stroke-width="0.8" />
<line x1="529.5" y1="582.2" x2="551.9" y2="582.2" stroke="#333" stroke-width="0.8" />
<g fill="#e8232b" stroke="#e8232b" stroke-width="0.5">
<rect x="504.3" y="578.8" width="6.8" height="6.8"/>
</g>
<g fill="#fff" stroke="#e8232b" stroke-width="0.9">
<rect x="537.7" y="579.2" width="6" height="6"/>
</g>
<text x="558.6" y="586.2" font-family="Liberation Serif, serif" font-size="13.05" font-weight="bold" text-anchor="start" fill="#000" >“GelMA”</text>
<line x1="496.5" y1="598.2" x2="518.9" y2="598.2" stroke="#333" stroke-width="0.8" />
<line x1="529.5" y1="598.2" x2="551.9" y2="598.2" stroke="#333" stroke-width="0.8" />
<g fill="#3a4fa5" stroke="#3a4fa5" stroke-width="0.5">
<path d="M502.3 598.2L507.7 592.8L513.1 598.2L507.7 603.6Z"/>
</g>
<g fill="#fff" stroke="#3a4fa5" stroke-width="0.9">
<path d="M535.84 598.2L540.7 593.34L545.56 598.2L540.7 603.06Z"/>
</g>
<text x="558.6" y="602.2" font-family="Liberation Serif, serif" font-size="13.05" font-weight="bold" text-anchor="start" fill="#000" >“Na-Alginate”</text>
<path d="M811.94 583.55C819.46 582.96 829.14 582.58 837.74 584.19C846.34 585.81 856.02 589.84 863.55 593.23C871.08 596.61 877.53 600.48 882.9 604.52C888.28 608.55 892.04 612.58 895.81 617.42C899.57 622.26 902.8 628.17 905.48 633.55C908.17 638.92 910.05 643.76 911.94 649.68C913.82 655.59 916.13 663.12 916.77 669.03C917.42 674.95 916.88 679.78 915.81 685.16C914.73 690.54 913.66 696.45 910.32 701.29C906.99 706.13 900.91 710.43 895.81 714.19C890.7 717.96 885.05 720.65 879.68 723.87C874.3 727.1 868.39 730.59 863.55 733.55C858.71 736.51 854.14 739.46 850.65 741.61C847.15 743.76 845.81 744.57 842.58 746.45C839.35 748.33 844.46 751.83 831.29 752.9C818.12 753.98 775.65 755.59 763.55 752.9C751.45 750.22 760.22 742.15 758.71 736.77C757.2 731.4 755.59 726.56 754.52 720.65C753.44 714.73 752.8 708.28 752.26 701.29C751.72 694.3 751.13 686.24 751.29 678.71C751.45 671.18 752.15 663.66 753.23 656.13C754.3 648.6 755.75 640.54 757.74 633.55C759.73 626.56 762.04 619.84 765.16 614.19C768.28 608.55 771.88 604.09 776.45 599.68C781.02 595.27 786.67 590.43 792.58 587.74C798.49 585.05 804.41 584.14 811.94 583.55Z" fill="#c7d4ec" stroke="#111" stroke-width="0.95" stroke-dasharray="3 1.8"/>
<ellipse cx="845.2" cy="648" rx="77" ry="46" transform="rotate(43 845.2 648)" fill="#e6b9c6" stroke="#111" stroke-width="0.9"/>
<line x1="730.6" y1="563" x2="730.6" y2="744" stroke="#000" stroke-width="1.7" />
<path d="M730.6 555.3L725.1 567.6H736.1Z" fill="#000"/>
<text x="676.3" y="572.3" font-family="Liberation Serif, serif" font-size="24" font-weight="bold" text-anchor="start" fill="#000" >i</text>
<text x="847.3" y="570.6" font-family="Liberation Serif, serif" font-size="17.2" font-weight="bold" text-anchor="middle" fill="#000" >Biofabrication window</text>
<path d="M758.6 557.8L760.6 557.8L757.9 564.3L757 564.3Z" fill="#000"/>
<path d="M762.2 557.8L764.2 557.8L761.5 564.3L760.6 564.3Z" fill="#000"/>
<path d="M934.2 557.8L936.2 557.8L933.5 564.3L932.6 564.3Z" fill="#000"/>
<path d="M937.8 557.8L939.8 557.8L937.1 564.3L936.2 564.3Z" fill="#000"/>
<text x="712" y="619" font-family="Liberation Serif, serif" font-size="18.2" font-weight="bold" text-anchor="middle" fill="#000" transform="rotate(-90 712 619)" >Viscosity</text>
<text x="784.3" y="662" font-family="Liberation Serif, serif" font-size="15.6" font-weight="normal" text-anchor="start" fill="#e0303a" >Hydrogel Bioink</text>
<text x="763.3" y="730.3" font-family="Liberation Serif, serif" font-size="15.4" font-weight="normal" text-anchor="start" fill="#3a4fa5" >MB bioink</text>
</svg>
</body></html>
